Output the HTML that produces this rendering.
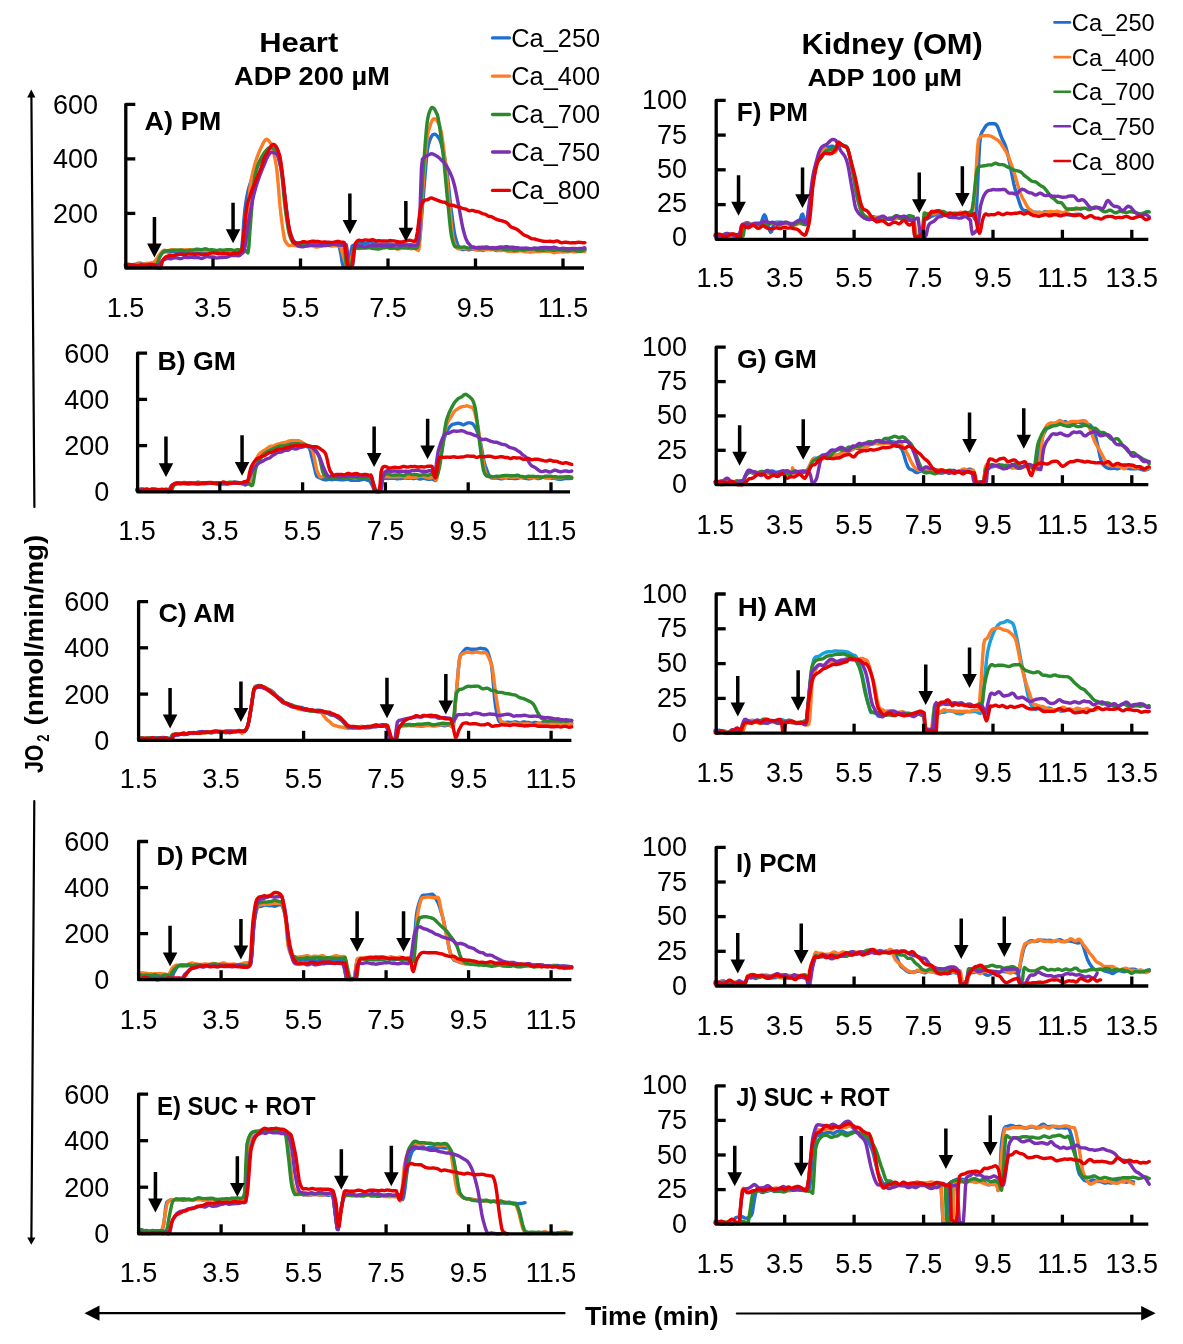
<!DOCTYPE html>
<html><head><meta charset="utf-8"><title>JO2 traces</title>
<style>html,body{margin:0;padding:0;background:#fff;width:1183px;height:1344px;overflow:hidden}</style>
</head><body>
<svg width="1183" height="1344" viewBox="0 0 1183 1344" style="display:block;filter:blur(0.45px)">
<rect width="1183" height="1344" fill="#fff"/>
<g font-family='"Liberation Sans", sans-serif' fill="#000">
<text x="259.2" y="51.6" font-size="27.71" font-weight="bold" textLength="79.0" lengthAdjust="spacingAndGlyphs">Heart</text>
<text x="234.1" y="85.1" font-size="24.86" font-weight="bold" textLength="155.7" lengthAdjust="spacingAndGlyphs">ADP 200 µM</text>
<text x="801.4" y="54.4" font-size="29.43" font-weight="bold" textLength="181.4" lengthAdjust="spacingAndGlyphs">Kidney (OM)</text>
<text x="807.5" y="86.0" font-size="23.57" font-weight="bold" textLength="154.6" lengthAdjust="spacingAndGlyphs">ADP 100 µM</text>
<text x="584.9" y="1325.0" font-size="26.29" font-weight="bold" textLength="133.8" lengthAdjust="spacingAndGlyphs">Time (min)</text>
<g transform="translate(43.3,773.4) rotate(-90)"><text x="0.3" y="0.0" font-size="25.43" font-weight="bold" textLength="28.5" lengthAdjust="spacingAndGlyphs">JO</text><text x="31.7" y="5.9" font-size="16.29" font-weight="bold" textLength="7.2" lengthAdjust="spacingAndGlyphs">2</text><text x="48.0" y="0.0" font-size="25.43" font-weight="bold" textLength="190.6" lengthAdjust="spacingAndGlyphs">(nmol/min/mg)</text></g>
</g>
<g stroke="#000" stroke-width="2.2" fill="none" stroke-linecap="round">
<line x1="31.4" y1="97" x2="34.4" y2="507"/>
<line x1="34.3" y1="801" x2="31.4" y2="1238"/>
<line x1="98" y1="1313.2" x2="564.5" y2="1313.2"/>
<line x1="736.8" y1="1313.5" x2="1142" y2="1313.3"/>
</g>
<g fill="#000">
<polygon points="31.3,89.4 27.2,97.6 35.4,97.6"/>
<polygon points="31.3,1244.8 27.2,1237.6 35.4,1237.6"/>
<polygon points="84.5,1313.2 99.5,1305.6 99.5,1320.8"/>
<polygon points="1155.6,1313.2 1141.2,1306 1141.2,1320.6"/>
</g>
<line x1="492.5" y1="37.9" x2="509.5" y2="37.9" stroke="#1f6fce" stroke-width="3.3" stroke-linecap="round"/>
<text x="511.29" y="46.8" font-family='"Liberation Sans", sans-serif' font-size="25.14" textLength="88.83" lengthAdjust="spacingAndGlyphs">Ca_250</text>
<line x1="492.5" y1="76.2" x2="509.5" y2="76.2" stroke="#fd7d27" stroke-width="3.3" stroke-linecap="round"/>
<text x="511.29" y="85.1" font-family='"Liberation Sans", sans-serif' font-size="25.14" textLength="88.83" lengthAdjust="spacingAndGlyphs">Ca_400</text>
<line x1="492.5" y1="114.5" x2="509.5" y2="114.5" stroke="#2b8a2b" stroke-width="3.3" stroke-linecap="round"/>
<text x="511.29" y="123.4" font-family='"Liberation Sans", sans-serif' font-size="25.14" textLength="88.83" lengthAdjust="spacingAndGlyphs">Ca_700</text>
<line x1="492.5" y1="152.0" x2="509.5" y2="152.0" stroke="#7b2fb3" stroke-width="3.3" stroke-linecap="round"/>
<text x="511.29" y="160.9" font-family='"Liberation Sans", sans-serif' font-size="25.14" textLength="88.83" lengthAdjust="spacingAndGlyphs">Ca_750</text>
<line x1="492.5" y1="190.4" x2="509.5" y2="190.4" stroke="#e60000" stroke-width="3.3" stroke-linecap="round"/>
<text x="511.29" y="199.3" font-family='"Liberation Sans", sans-serif' font-size="25.14" textLength="88.83" lengthAdjust="spacingAndGlyphs">Ca_800</text>
<line x1="1054.5" y1="22.4" x2="1070.0" y2="22.4" stroke="#1f6fce" stroke-width="2.6" stroke-linecap="round"/>
<text x="1071.89" y="31.0" font-family='"Liberation Sans", sans-serif' font-size="23.43" textLength="82.87" lengthAdjust="spacingAndGlyphs">Ca_250</text>
<line x1="1054.5" y1="57.1" x2="1070.0" y2="57.1" stroke="#fd7d27" stroke-width="2.6" stroke-linecap="round"/>
<text x="1071.89" y="65.7" font-family='"Liberation Sans", sans-serif' font-size="23.43" textLength="82.87" lengthAdjust="spacingAndGlyphs">Ca_400</text>
<line x1="1054.5" y1="91.8" x2="1070.0" y2="91.8" stroke="#2b8a2b" stroke-width="2.6" stroke-linecap="round"/>
<text x="1071.89" y="100.4" font-family='"Liberation Sans", sans-serif' font-size="23.43" textLength="82.87" lengthAdjust="spacingAndGlyphs">Ca_700</text>
<line x1="1054.5" y1="126.3" x2="1070.0" y2="126.3" stroke="#7b2fb3" stroke-width="2.6" stroke-linecap="round"/>
<text x="1071.89" y="134.9" font-family='"Liberation Sans", sans-serif' font-size="23.43" textLength="82.87" lengthAdjust="spacingAndGlyphs">Ca_750</text>
<line x1="1054.5" y1="161.0" x2="1070.0" y2="161.0" stroke="#e60000" stroke-width="2.6" stroke-linecap="round"/>
<text x="1071.89" y="169.6" font-family='"Liberation Sans", sans-serif' font-size="23.43" textLength="82.87" lengthAdjust="spacingAndGlyphs">Ca_800</text>
<path d="M125.5,264.4 126.5,264.6 127.5,264.8 128.5,264.8 129.5,264.7 130.5,264.8 131.5,264.7 132.5,264.6 133.5,264.5 134.5,264.4 135.5,264.2 136.5,263.9 137.5,263.5 138.5,263.2 139.5,263.1 140.5,263.2 141.5,263.5 142.6,263.8 143.6,264.0 144.6,263.9 145.6,263.6 146.6,263.4 147.6,263.4 148.6,263.5 149.6,263.5 150.6,263.4 151.6,263.3 152.6,263.3 153.6,263.5 154.6,263.4 155.6,262.5 156.6,261.5 157.6,260.3 158.6,258.7 159.6,257.1 160.6,255.4 161.6,253.9 162.6,252.7 163.6,252.0 164.6,251.7 165.6,251.7 166.6,251.7 167.6,251.9 168.6,252.1 169.6,252.1 170.6,252.0 171.6,251.8 172.6,251.7 173.6,251.8 174.6,251.9 175.7,252.0 176.7,252.1 177.7,252.2 178.7,252.1 179.7,251.9 180.7,251.6 181.7,251.4 182.7,251.2 183.7,251.1 184.7,251.3 185.7,251.6 186.7,251.8 187.7,251.7 188.7,251.4 189.7,251.1 190.7,251.0 191.7,251.0 192.7,251.2 193.7,251.6 194.7,251.9 195.7,252.0 196.7,251.8 197.7,251.7 198.7,251.8 199.7,251.8 200.7,251.8 201.7,251.7 202.7,251.6 203.7,251.4 204.7,251.3 205.7,251.3 206.7,251.4 207.7,251.7 208.7,252.0 209.8,252.1 210.8,252.1 211.8,252.0 212.8,252.0 213.8,252.0 214.8,251.8 215.8,251.6 216.8,251.2 217.8,250.8 218.8,250.5 219.8,250.4 220.8,250.7 221.8,251.2 222.8,251.7 223.8,251.9 224.8,251.8 225.8,251.6 226.8,251.6 227.8,251.7 228.8,251.7 229.8,251.8 230.8,251.8 231.8,251.7 232.8,251.5 233.8,251.3 234.8,251.3 235.8,251.3 236.8,251.4 237.8,251.6 238.8,251.7 239.8,251.6 240.8,250.8 241.8,248.1 242.9,235.6 243.9,219.8 244.9,209.5 245.9,202.3 246.9,196.3 247.9,191.5 248.9,187.7 249.9,184.3 250.9,181.2 251.9,178.4 252.9,175.7 253.9,173.4 254.9,171.3 255.9,169.3 256.9,167.1 257.9,164.9 258.9,162.9 259.9,161.2 260.9,159.6 261.9,158.0 262.9,156.4 263.9,154.9 264.9,153.6 265.9,152.6 266.9,151.5 267.9,150.4 268.9,149.0 269.9,147.7 270.9,146.7 271.9,146.2 272.9,146.4 273.9,147.1 274.9,148.2 276.0,149.4 277.0,151.0 278.0,153.5 279.0,156.7 280.0,160.5 281.0,164.9 282.0,171.5 283.0,179.9 284.0,189.0 285.0,197.5 286.0,205.7 287.0,214.6 288.0,223.1 289.0,229.9 290.0,233.8 291.0,236.8 292.0,239.2 293.0,240.8 294.0,241.6 295.0,242.1 296.0,242.7 297.0,243.3 298.0,243.7 299.0,243.9 300.0,243.9 301.0,243.8 302.0,243.8 303.0,243.9 304.0,244.0 305.0,244.1 306.0,244.3 307.0,244.5 308.0,244.4 309.0,244.2 310.1,243.9 311.1,243.9 312.1,244.1 313.1,244.4 314.1,244.5 315.1,244.6 316.1,244.7 317.1,244.7 318.1,244.6 319.1,244.5 320.1,244.4 321.1,244.3 322.1,244.5 323.1,244.8 324.1,245.0 325.1,245.0 326.1,244.6 327.1,244.0 328.1,243.6 329.1,243.5 330.1,243.6 331.1,243.6 332.1,243.4 333.1,243.2 334.1,243.1 335.1,243.3 336.1,243.6 337.1,243.6 338.1,243.8 339.1,246.3 340.1,250.1 341.1,255.2 342.1,262.0 343.2,266.6 344.2,267.0 345.2,267.2 346.2,267.1 347.2,266.9 348.2,266.7 349.2,265.3 350.2,258.4 351.2,250.1 352.2,246.0 353.2,245.4 354.2,244.9 355.2,244.4 356.2,243.9 357.2,243.6 358.2,243.3 359.2,243.1 360.2,243.0 361.2,243.1 362.2,243.4 363.2,243.5 364.2,243.6 365.2,243.6 366.2,243.4 367.2,243.0 368.2,242.4 369.2,242.0 370.2,241.8 371.2,242.0 372.2,242.7 373.2,243.2 374.2,243.5 375.2,243.5 376.3,243.6 377.3,243.8 378.3,244.0 379.3,244.1 380.3,244.1 381.3,244.3 382.3,244.4 383.3,244.3 384.3,244.2 385.3,244.0 386.3,244.0 387.3,244.1 388.3,244.1 389.3,244.0 390.3,244.0 391.3,244.1 392.3,244.5 393.3,244.9 394.3,245.1 395.3,245.0 396.3,244.6 397.3,244.2 398.3,244.0 399.3,244.0 400.3,244.2 401.3,244.3 402.3,244.3 403.3,244.5 404.3,244.8 405.3,245.1 406.3,245.2 407.3,245.2 408.3,245.1 409.3,244.8 410.4,244.6 411.4,244.7 412.4,245.2 413.4,245.5 414.4,245.6 415.4,245.4 416.4,244.9 417.4,244.3 418.4,243.7 419.4,240.9 420.4,232.3 421.4,220.1 422.4,207.1 423.4,195.8 424.4,183.6 425.4,171.0 426.4,159.4 427.4,150.1 428.4,144.8 429.4,141.5 430.4,138.7 431.4,136.6 432.4,135.2 433.4,134.4 434.4,134.2 435.4,134.5 436.4,135.1 437.4,136.1 438.4,137.4 439.4,139.1 440.4,141.3 441.4,144.5 442.4,148.4 443.5,152.8 444.5,157.6 445.5,162.7 446.5,168.6 447.5,176.5 448.5,185.7 449.5,195.3 450.5,204.2 451.5,211.9 452.5,219.6 453.5,227.0 454.5,233.4 455.5,237.8 456.5,241.1 457.5,244.1 458.5,246.5 459.5,248.0 460.5,248.8 461.5,249.3 462.5,249.6 463.5,249.6 464.5,249.4 465.5,249.2 466.5,249.2 467.5,249.5 468.5,249.8 469.5,249.7 470.5,249.4 471.5,249.2 472.5,249.2 473.5,249.4 474.5,249.6 475.5,249.6 476.6,249.7 477.6,249.7 478.6,249.7 479.6,249.8 480.6,250.1 481.6,250.4 482.6,250.5 483.6,250.2 484.6,249.7 485.6,249.2 486.6,248.9 487.6,248.9 488.6,249.1 489.6,249.5 490.6,249.7 491.6,249.5 492.6,249.3 493.6,249.4 494.6,249.8 495.6,250.3 496.6,250.5 497.6,250.2 498.6,249.7 499.6,249.4 500.6,249.4 501.6,249.4 502.6,249.4 503.6,249.6 504.6,250.0 505.6,250.4 506.6,250.6 507.6,250.6 508.6,250.4 509.6,250.1 510.7,249.9 511.7,249.6 512.7,249.4 513.7,249.3 514.7,249.4 515.7,249.8 516.7,250.0 517.7,250.1 518.7,249.9 519.7,249.7 520.7,249.7 521.7,249.9 522.7,250.1 523.7,250.3 524.7,250.2 525.7,250.0 526.7,249.8 527.7,249.8 528.7,250.0 529.7,250.1 530.7,250.2 531.7,250.5 532.7,250.7 533.7,250.7 534.7,250.4 535.7,250.3 536.7,250.5 537.7,250.8 538.7,250.9 539.7,250.7 540.7,250.3 541.7,249.9 542.7,249.7 543.8,249.8 544.8,250.0 545.8,250.2 546.8,250.2 547.8,250.1 548.8,249.9 549.8,249.8 550.8,249.7 551.8,249.7 552.8,249.7 553.8,249.5 554.8,249.4 555.8,249.4 556.8,249.5 557.8,249.7 558.8,249.8 559.8,249.8 560.8,249.7 561.8,249.8 562.8,249.9 563.8,250.2 564.8,250.4 565.8,250.5 566.8,250.4 567.8,250.2 568.8,250.1 569.8,250.2 570.8,250.3 571.8,250.3 572.8,250.3 573.8,250.1 574.8,250.0 575.8,250.1 576.9,250.2 577.9,250.2 578.9,250.0 579.9,249.7 580.9,249.6 581.9,249.5 582.9,249.4 583.9,249.5 584.9,249.7" fill="none" stroke="#1f6fce" stroke-width="3.4" stroke-linejoin="round" stroke-linecap="round"/>
<path d="M125.5,264.3 126.5,264.1 127.5,264.1 128.5,264.3 129.5,264.6 130.5,264.8 131.5,264.8 132.5,264.9 133.5,264.9 134.5,264.9 135.5,264.7 136.5,264.3 137.5,263.9 138.5,263.8 139.5,264.0 140.5,264.2 141.5,264.3 142.6,264.1 143.6,263.9 144.6,263.9 145.6,263.8 146.6,263.7 147.6,263.7 148.6,263.8 149.6,263.7 150.6,263.5 151.6,263.3 152.6,263.1 153.6,262.5 154.6,261.6 155.6,260.4 156.6,259.1 157.6,257.5 158.6,255.9 159.6,254.6 160.6,253.4 161.6,252.2 162.6,251.1 163.6,250.4 164.6,250.2 165.6,250.6 166.6,250.9 167.6,250.9 168.6,250.6 169.6,250.2 170.6,250.0 171.6,249.8 172.6,249.8 173.6,249.9 174.6,250.0 175.7,250.2 176.7,250.3 177.7,250.2 178.7,250.1 179.7,249.9 180.7,249.8 181.7,249.9 182.7,250.0 183.7,250.1 184.7,250.0 185.7,249.9 186.7,249.8 187.7,249.7 188.7,249.7 189.7,249.7 190.7,249.8 191.7,250.0 192.7,250.2 193.7,250.3 194.7,250.2 195.7,250.1 196.7,250.1 197.7,250.1 198.7,250.2 199.7,250.2 200.7,250.3 201.7,250.4 202.7,250.5 203.7,250.6 204.7,250.5 205.7,250.5 206.7,250.5 207.7,250.7 208.7,250.8 209.8,250.9 210.8,250.8 211.8,250.8 212.8,250.9 213.8,250.9 214.8,250.9 215.8,250.9 216.8,250.9 217.8,251.1 218.8,251.3 219.8,251.3 220.8,251.1 221.8,250.8 222.8,250.6 223.8,250.4 224.8,250.2 225.8,250.1 226.8,250.1 227.8,250.3 228.8,250.7 229.8,251.1 230.8,251.4 231.8,251.7 232.8,251.9 233.8,251.7 234.8,251.4 235.8,250.9 236.8,250.7 237.8,250.8 238.8,251.0 239.8,251.2 240.8,251.3 241.8,251.2 242.9,250.3 243.9,248.7 244.9,246.6 245.9,243.8 246.9,235.0 247.9,219.2 248.9,201.8 249.9,188.4 250.9,181.6 251.9,176.3 252.9,171.8 253.9,167.8 254.9,164.2 255.9,160.8 256.9,157.9 257.9,155.1 258.9,152.6 259.9,150.2 260.9,148.0 261.9,145.9 262.9,143.8 263.9,141.9 264.9,140.4 265.9,139.4 266.9,139.3 267.9,139.9 268.9,141.0 269.9,142.3 270.9,143.6 271.9,145.7 272.9,148.9 273.9,153.2 274.9,158.4 276.0,164.3 277.0,171.3 278.0,181.9 279.0,194.2 280.0,205.9 281.0,215.1 282.0,223.1 283.0,230.6 284.0,236.8 285.0,240.6 286.0,242.3 287.0,243.7 288.0,244.9 289.0,245.6 290.0,245.6 291.0,245.4 292.0,245.2 293.0,245.2 294.0,245.3 295.0,245.5 296.0,245.8 297.0,246.0 298.0,246.1 299.0,246.1 300.0,246.1 301.0,246.1 302.0,245.9 303.0,245.7 304.0,245.6 305.0,245.6 306.0,245.7 307.0,245.8 308.0,245.8 309.0,245.8 310.1,245.8 311.1,245.8 312.1,245.9 313.1,246.0 314.1,246.3 315.1,246.8 316.1,247.1 317.1,247.1 318.1,246.9 319.1,246.6 320.1,246.3 321.1,246.1 322.1,245.9 323.1,245.7 324.1,245.5 325.1,245.3 326.1,245.1 327.1,245.2 328.1,245.4 329.1,245.7 330.1,245.9 331.1,246.0 332.1,246.1 333.1,246.0 334.1,245.9 335.1,245.8 336.1,245.8 337.1,245.9 338.1,246.0 339.1,246.0 340.1,246.1 341.1,248.1 342.1,251.7 343.2,255.7 344.2,259.1 345.2,262.1 346.2,265.3 347.2,267.7 348.2,268.0 349.2,265.4 350.2,261.6 351.2,258.0 352.2,254.9 353.2,251.6 354.2,249.1 355.2,248.1 356.2,248.1 357.2,248.3 358.2,248.5 359.2,248.5 360.2,248.2 361.2,247.8 362.2,247.5 363.2,247.4 364.2,247.6 365.2,247.6 366.2,247.5 367.2,247.3 368.2,247.1 369.2,247.1 370.2,247.1 371.2,247.0 372.2,247.0 373.2,247.0 374.2,247.2 375.2,247.6 376.3,248.1 377.3,248.3 378.3,248.1 379.3,247.7 380.3,247.1 381.3,246.8 382.3,246.8 383.3,246.9 384.3,246.9 385.3,247.0 386.3,247.0 387.3,247.2 388.3,247.4 389.3,247.5 390.3,247.5 391.3,247.4 392.3,247.3 393.3,247.3 394.3,247.5 395.3,248.1 396.3,248.7 397.3,249.0 398.3,249.0 399.3,248.7 400.3,248.5 401.3,248.3 402.3,248.2 403.3,248.1 404.3,248.0 405.3,247.9 406.3,247.8 407.3,247.8 408.3,248.0 409.3,248.3 410.4,248.6 411.4,248.7 412.4,248.6 413.4,248.5 414.4,248.4 415.4,248.7 416.4,249.4 417.4,250.1 418.4,250.6 419.4,246.9 420.4,233.0 421.4,213.9 422.4,195.1 423.4,181.2 424.4,168.2 425.4,155.5 426.4,144.4 427.4,136.0 428.4,131.1 429.4,127.9 430.4,124.7 431.4,122.0 432.4,120.1 433.4,119.0 434.4,118.8 435.4,119.2 436.4,119.9 437.4,121.2 438.4,123.1 439.4,125.5 440.4,128.3 441.4,132.6 442.4,139.2 443.5,147.0 444.5,155.2 445.5,163.6 446.5,173.9 447.5,185.4 448.5,196.7 449.5,206.7 450.5,216.5 451.5,226.3 452.5,234.7 453.5,240.2 454.5,243.2 455.5,245.7 456.5,247.6 457.5,248.7 458.5,248.9 459.5,248.9 460.5,248.8 461.5,248.6 462.5,248.4 463.5,248.4 464.5,248.5 465.5,248.7 466.5,248.9 467.5,248.9 468.5,248.8 469.5,248.6 470.5,248.5 471.5,248.6 472.5,248.8 473.5,249.0 474.5,249.1 475.5,249.3 476.6,249.4 477.6,249.6 478.6,250.0 479.6,250.3 480.6,250.3 481.6,250.0 482.6,249.7 483.6,249.6 484.6,249.6 485.6,249.6 486.6,249.5 487.6,249.5 488.6,249.4 489.6,249.3 490.6,249.1 491.6,249.1 492.6,249.3 493.6,249.6 494.6,249.8 495.6,249.9 496.6,249.9 497.6,250.2 498.6,250.5 499.6,250.6 500.6,250.6 501.6,250.5 502.6,250.4 503.6,250.3 504.6,250.4 505.6,250.6 506.6,251.0 507.6,251.2 508.6,251.3 509.6,251.2 510.7,251.2 511.7,251.2 512.7,251.5 513.7,251.6 514.7,251.6 515.7,251.4 516.7,251.3 517.7,251.3 518.7,251.1 519.7,250.9 520.7,250.7 521.7,250.8 522.7,251.1 523.7,251.5 524.7,251.7 525.7,251.7 526.7,251.7 527.7,251.7 528.7,251.9 529.7,252.1 530.7,252.2 531.7,252.0 532.7,251.9 533.7,251.8 534.7,251.6 535.7,251.6 536.7,251.6 537.7,251.6 538.7,251.5 539.7,251.5 540.7,251.4 541.7,251.3 542.7,251.2 543.8,251.2 544.8,251.3 545.8,251.4 546.8,251.4 547.8,251.4 548.8,251.3 549.8,251.3 550.8,251.5 551.8,251.8 552.8,252.3 553.8,252.7 554.8,252.7 555.8,252.4 556.8,252.2 557.8,252.0 558.8,252.0 559.8,251.9 560.8,251.9 561.8,251.9 562.8,252.0 563.8,252.0 564.8,251.9 565.8,251.8 566.8,251.8 567.8,251.8 568.8,251.7 569.8,251.5 570.8,251.3 571.8,251.3 572.8,251.5 573.8,251.8 574.8,251.9 575.8,251.9 576.9,251.8 577.9,251.6 578.9,251.5 579.9,251.6 580.9,251.6 581.9,251.6 582.9,251.6 583.9,251.5 584.9,251.5" fill="none" stroke="#fd7d27" stroke-width="3.4" stroke-linejoin="round" stroke-linecap="round"/>
<path d="M125.5,266.6 126.5,266.5 127.5,266.4 128.5,266.4 129.5,266.4 130.5,266.5 131.5,266.5 132.5,266.7 133.5,266.9 134.5,267.1 135.5,267.3 136.5,267.4 137.5,267.4 138.5,267.2 139.5,267.0 140.5,266.9 141.5,266.9 142.6,266.9 143.6,266.6 144.6,266.2 145.6,266.1 146.6,266.2 147.6,266.4 148.6,266.4 149.6,266.3 150.6,266.2 151.6,266.0 152.6,265.8 153.6,265.5 154.6,265.2 155.6,265.0 156.6,264.8 157.6,263.0 158.6,260.1 159.6,257.2 160.6,255.2 161.6,253.8 162.6,252.5 163.6,251.6 164.6,251.0 165.6,250.8 166.6,250.7 167.6,250.7 168.6,250.6 169.6,250.6 170.6,250.5 171.6,250.5 172.6,250.5 173.6,250.3 174.6,250.2 175.7,250.1 176.7,250.1 177.7,250.1 178.7,250.2 179.7,250.2 180.7,250.2 181.7,250.1 182.7,250.2 183.7,250.4 184.7,250.6 185.7,250.9 186.7,251.0 187.7,250.9 188.7,250.7 189.7,250.3 190.7,250.1 191.7,250.1 192.7,250.0 193.7,249.8 194.7,249.6 195.7,249.3 196.7,249.2 197.7,249.2 198.7,249.4 199.7,249.5 200.7,249.6 201.7,249.6 202.7,249.4 203.7,249.1 204.7,248.9 205.7,248.8 206.7,249.0 207.7,249.4 208.7,249.7 209.8,249.9 210.8,249.8 211.8,249.8 212.8,249.8 213.8,250.0 214.8,250.2 215.8,250.5 216.8,250.5 217.8,250.4 218.8,250.2 219.8,250.0 220.8,250.0 221.8,250.2 222.8,250.3 223.8,250.3 224.8,250.1 225.8,249.9 226.8,249.8 227.8,249.8 228.8,249.8 229.8,249.6 230.8,249.6 231.8,249.8 232.8,250.2 233.8,250.5 234.8,250.4 235.8,250.0 236.8,249.8 237.8,249.8 238.8,249.8 239.8,249.9 240.8,250.0 241.8,250.1 242.9,250.0 243.9,249.7 244.9,250.0 245.9,251.0 246.9,252.2 247.9,253.0 248.9,246.6 249.9,231.3 250.9,218.9 251.9,205.8 252.9,193.1 253.9,182.9 254.9,176.7 255.9,172.4 256.9,168.6 257.9,165.4 258.9,162.8 259.9,160.6 260.9,158.6 261.9,156.7 262.9,155.0 263.9,153.4 264.9,152.1 265.9,150.8 266.9,149.7 267.9,148.7 268.9,148.0 269.9,147.6 270.9,147.6 271.9,147.8 272.9,148.2 273.9,148.6 274.9,149.0 276.0,150.0 277.0,152.2 278.0,155.4 279.0,159.4 280.0,163.8 281.0,168.6 282.0,176.1 283.0,186.4 284.0,197.5 285.0,207.0 286.0,214.4 287.0,221.5 288.0,227.9 289.0,233.0 290.0,236.3 291.0,239.0 292.0,241.1 293.0,242.5 294.0,242.9 295.0,243.1 296.0,243.3 297.0,243.6 298.0,243.9 299.0,244.1 300.0,244.2 301.0,244.1 302.0,244.0 303.0,243.9 304.0,243.9 305.0,244.0 306.0,244.1 307.0,244.1 308.0,244.0 309.0,243.8 310.1,243.7 311.1,243.7 312.1,243.8 313.1,243.9 314.1,243.7 315.1,243.4 316.1,243.1 317.1,243.1 318.1,243.3 319.1,243.7 320.1,244.0 321.1,244.1 322.1,244.1 323.1,244.2 324.1,244.4 325.1,244.7 326.1,244.9 327.1,245.1 328.1,245.3 329.1,245.2 330.1,244.9 331.1,244.6 332.1,244.3 333.1,244.0 334.1,243.9 335.1,243.9 336.1,244.1 337.1,244.4 338.1,244.7 339.1,244.8 340.1,244.8 341.1,244.7 342.1,244.8 343.2,244.9 344.2,244.8 345.2,253.0 346.2,265.9 347.2,266.8 348.2,266.9 349.2,267.1 350.2,267.2 351.2,266.4 352.2,259.5 353.2,251.2 354.2,248.7 355.2,248.5 356.2,248.2 357.2,248.0 358.2,248.0 359.2,248.1 360.2,248.1 361.2,248.1 362.2,248.1 363.2,248.1 364.2,248.1 365.2,248.1 366.2,248.0 367.2,247.9 368.2,247.7 369.2,247.7 370.2,247.8 371.2,248.0 372.2,248.3 373.2,248.5 374.2,248.6 375.2,248.7 376.3,248.9 377.3,249.0 378.3,249.1 379.3,248.9 380.3,248.6 381.3,248.3 382.3,248.1 383.3,247.9 384.3,247.8 385.3,247.7 386.3,247.5 387.3,247.5 388.3,247.7 389.3,248.0 390.3,248.4 391.3,248.4 392.3,248.3 393.3,248.1 394.3,248.0 395.3,248.1 396.3,248.3 397.3,248.5 398.3,248.4 399.3,248.0 400.3,247.5 401.3,247.2 402.3,247.2 403.3,247.5 404.3,247.7 405.3,247.8 406.3,247.9 407.3,248.0 408.3,248.0 409.3,247.8 410.4,247.7 411.4,247.7 412.4,247.9 413.4,248.2 414.4,248.4 415.4,248.4 416.4,247.9 417.4,247.1 418.4,244.1 419.4,233.0 420.4,216.7 421.4,198.3 422.4,181.1 423.4,167.6 424.4,154.3 425.4,141.1 426.4,129.3 427.4,120.3 428.4,115.3 429.4,112.1 430.4,109.5 431.4,107.8 432.4,107.4 433.4,107.9 434.4,109.0 435.4,110.7 436.4,112.7 437.4,115.0 438.4,119.2 439.4,125.2 440.4,132.5 441.4,140.5 442.4,148.6 443.5,157.2 444.5,167.4 445.5,178.3 446.5,189.2 447.5,199.3 448.5,209.3 449.5,219.8 450.5,229.3 451.5,236.4 452.5,240.4 453.5,243.8 454.5,246.1 455.5,246.8 456.5,246.8 457.5,246.8 458.5,246.9 459.5,247.1 460.5,247.2 461.5,247.2 462.5,247.1 463.5,247.0 464.5,247.0 465.5,247.3 466.5,247.6 467.5,247.9 468.5,248.1 469.5,248.1 470.5,247.9 471.5,247.5 472.5,247.1 473.5,247.0 474.5,247.2 475.5,247.7 476.6,248.1 477.6,248.4 478.6,248.7 479.6,248.8 480.6,248.7 481.6,248.5 482.6,248.3 483.6,248.2 484.6,248.3 485.6,248.3 486.6,248.4 487.6,248.4 488.6,248.3 489.6,248.3 490.6,248.4 491.6,248.7 492.6,248.8 493.6,248.9 494.6,248.8 495.6,248.8 496.6,248.9 497.6,248.9 498.6,248.8 499.6,248.6 500.6,248.5 501.6,248.7 502.6,249.1 503.6,249.4 504.6,249.5 505.6,249.5 506.6,249.6 507.6,249.8 508.6,249.9 509.6,249.7 510.7,249.5 511.7,249.6 512.7,250.0 513.7,250.4 514.7,250.5 515.7,250.4 516.7,250.1 517.7,249.8 518.7,249.6 519.7,249.6 520.7,249.7 521.7,249.9 522.7,250.0 523.7,250.0 524.7,249.8 525.7,249.5 526.7,249.3 527.7,249.2 528.7,249.1 529.7,249.0 530.7,248.9 531.7,248.8 532.7,248.8 533.7,248.9 534.7,249.2 535.7,249.7 536.7,250.1 537.7,250.2 538.7,250.1 539.7,250.0 540.7,250.1 541.7,250.2 542.7,250.3 543.8,250.2 544.8,250.0 545.8,249.7 546.8,249.6 547.8,249.7 548.8,249.7 549.8,249.7 550.8,249.8 551.8,250.0 552.8,250.2 553.8,250.3 554.8,250.2 555.8,250.0 556.8,249.9 557.8,249.8 558.8,249.7 559.8,249.6 560.8,249.7 561.8,249.9 562.8,250.3 563.8,250.5 564.8,250.5 565.8,250.6 566.8,250.7 567.8,250.8 568.8,250.9 569.8,250.7 570.8,250.4 571.8,250.1 572.8,250.0 573.8,250.0 574.8,250.2 575.8,250.7 576.9,251.0 577.9,251.1 578.9,251.1 579.9,251.2 580.9,251.2 581.9,250.9 582.9,250.4 583.9,249.9 584.9,249.4" fill="none" stroke="#2b8a2b" stroke-width="3.4" stroke-linejoin="round" stroke-linecap="round"/>
<path d="M125.5,265.9 126.5,265.7 127.5,265.6 128.5,265.4 129.5,265.4 130.5,265.5 131.5,265.7 132.5,265.9 133.5,265.8 134.5,265.5 135.5,265.3 136.5,265.4 137.5,265.8 138.5,266.3 139.5,266.6 140.5,266.5 141.5,266.2 142.6,266.1 143.6,266.1 144.6,266.1 145.6,266.1 146.6,266.1 147.6,265.8 148.6,265.5 149.6,265.2 150.6,265.0 151.6,264.9 152.6,265.0 153.6,265.2 154.6,265.3 155.6,265.4 156.6,265.4 157.6,265.3 158.6,265.3 159.6,264.5 160.6,263.1 161.6,261.6 162.6,260.5 163.6,260.0 164.6,259.5 165.6,259.0 166.6,258.7 167.6,258.4 168.6,258.5 169.6,258.7 170.6,258.8 171.6,258.5 172.6,258.2 173.6,258.0 174.6,257.8 175.7,257.7 176.7,257.8 177.7,258.0 178.7,258.3 179.7,258.6 180.7,258.6 181.7,258.4 182.7,258.0 183.7,257.5 184.7,257.2 185.7,257.3 186.7,257.5 187.7,257.6 188.7,257.6 189.7,257.4 190.7,257.3 191.7,257.2 192.7,257.3 193.7,257.5 194.7,257.6 195.7,257.6 196.7,257.5 197.7,257.4 198.7,257.6 199.7,258.0 200.7,258.4 201.7,258.5 202.7,258.2 203.7,257.7 204.7,257.2 205.7,256.8 206.7,256.6 207.7,256.6 208.7,256.8 209.8,257.0 210.8,257.0 211.8,257.0 212.8,257.0 213.8,257.2 214.8,257.5 215.8,257.8 216.8,258.0 217.8,257.9 218.8,257.8 219.8,257.6 220.8,257.6 221.8,257.5 222.8,257.5 223.8,257.4 224.8,257.4 225.8,257.3 226.8,257.1 227.8,256.8 228.8,256.4 229.8,256.0 230.8,255.7 231.8,255.5 232.8,255.5 233.8,255.5 234.8,255.5 235.8,255.6 236.8,255.6 237.8,255.7 238.8,255.7 239.8,255.3 240.8,254.6 241.8,253.7 242.9,252.7 243.9,251.3 244.9,247.0 245.9,240.3 246.9,232.6 247.9,225.5 248.9,219.8 249.9,214.2 250.9,208.8 251.9,203.6 252.9,198.7 253.9,194.4 254.9,190.7 255.9,187.1 256.9,183.8 257.9,180.7 258.9,177.9 259.9,175.2 260.9,172.7 261.9,170.1 262.9,167.7 263.9,165.4 264.9,162.8 265.9,160.3 266.9,158.1 267.9,156.2 268.9,154.6 269.9,153.3 270.9,152.4 271.9,152.1 272.9,152.4 273.9,152.8 274.9,153.2 276.0,153.5 277.0,154.1 278.0,156.3 279.0,159.8 280.0,163.8 281.0,168.1 282.0,174.0 283.0,181.8 284.0,190.4 285.0,198.5 286.0,205.9 287.0,213.7 288.0,221.2 289.0,227.4 290.0,231.4 291.0,234.6 292.0,237.4 293.0,239.7 294.0,241.8 295.0,243.4 296.0,244.5 297.0,245.1 298.0,245.7 299.0,246.2 300.0,246.5 301.0,246.7 302.0,246.9 303.0,246.8 304.0,246.6 305.0,246.4 306.0,246.2 307.0,246.0 308.0,245.8 309.0,245.6 310.1,245.4 311.1,245.4 312.1,245.4 313.1,245.4 314.1,245.3 315.1,245.4 316.1,245.5 317.1,245.6 318.1,245.5 319.1,245.5 320.1,245.5 321.1,245.6 322.1,245.7 323.1,245.6 324.1,245.6 325.1,245.6 326.1,245.5 327.1,245.4 328.1,245.3 329.1,245.0 330.1,244.6 331.1,244.3 332.1,244.2 333.1,244.2 334.1,244.3 335.1,244.4 336.1,244.6 337.1,244.7 338.1,244.8 339.1,244.9 340.1,245.0 341.1,245.1 342.1,245.2 343.2,245.1 344.2,244.8 345.2,244.6 346.2,244.6 347.2,250.6 348.2,264.9 349.2,267.5 350.2,267.5 351.2,267.5 352.2,267.4 353.2,261.4 354.2,251.2 355.2,245.9 356.2,246.1 357.2,246.3 358.2,246.2 359.2,246.0 360.2,245.9 361.2,246.1 362.2,246.4 363.2,246.7 364.2,246.9 365.2,246.9 366.2,246.7 367.2,246.4 368.2,246.0 369.2,245.7 370.2,245.6 371.2,245.5 372.2,245.4 373.2,245.4 374.2,245.5 375.2,245.6 376.3,245.7 377.3,245.7 378.3,245.6 379.3,245.6 380.3,245.5 381.3,245.5 382.3,245.6 383.3,245.7 384.3,245.6 385.3,245.6 386.3,245.6 387.3,245.8 388.3,246.1 389.3,246.2 390.3,246.3 391.3,246.3 392.3,246.0 393.3,245.6 394.3,245.1 395.3,244.9 396.3,244.9 397.3,245.1 398.3,245.3 399.3,245.3 400.3,245.3 401.3,245.2 402.3,245.1 403.3,245.1 404.3,245.0 405.3,245.0 406.3,244.9 407.3,244.9 408.3,245.2 409.3,245.5 410.4,245.7 411.4,245.6 412.4,245.4 413.4,245.2 414.4,245.1 415.4,245.1 416.4,245.2 417.4,244.3 418.4,241.5 419.4,229.3 420.4,198.6 421.4,168.8 422.4,159.2 423.4,158.2 424.4,157.3 425.4,156.6 426.4,156.0 427.4,155.4 428.4,154.9 429.4,154.4 430.4,154.0 431.4,153.8 432.4,153.9 433.4,154.2 434.4,154.7 435.4,155.3 436.4,155.9 437.4,156.5 438.4,157.2 439.4,158.1 440.4,159.1 441.4,160.1 442.4,160.9 443.5,161.9 444.5,163.1 445.5,164.6 446.5,166.0 447.5,167.6 448.5,169.5 449.5,171.5 450.5,173.6 451.5,175.9 452.5,178.5 453.5,181.7 454.5,185.5 455.5,189.9 456.5,194.7 457.5,199.8 458.5,204.9 459.5,210.3 460.5,215.9 461.5,221.4 462.5,226.5 463.5,230.8 464.5,234.4 465.5,237.6 466.5,240.1 467.5,242.1 468.5,243.4 469.5,244.5 470.5,245.7 471.5,246.7 472.5,247.3 473.5,247.5 474.5,247.5 475.5,247.6 476.6,247.6 477.6,247.5 478.6,247.4 479.6,247.3 480.6,247.4 481.6,247.3 482.6,247.3 483.6,247.2 484.6,247.1 485.6,247.0 486.6,246.9 487.6,247.1 488.6,247.4 489.6,247.6 490.6,247.7 491.6,247.6 492.6,247.6 493.6,247.6 494.6,247.8 495.6,247.9 496.6,247.8 497.6,247.5 498.6,247.3 499.6,247.2 500.6,247.0 501.6,247.0 502.6,247.1 503.6,247.1 504.6,246.9 505.6,246.7 506.6,246.7 507.6,246.8 508.6,247.0 509.6,247.1 510.7,247.1 511.7,247.1 512.7,247.2 513.7,247.3 514.7,247.5 515.7,247.6 516.7,247.7 517.7,247.8 518.7,247.9 519.7,248.1 520.7,248.2 521.7,248.3 522.7,248.2 523.7,248.1 524.7,248.1 525.7,248.0 526.7,248.1 527.7,248.2 528.7,248.5 529.7,248.6 530.7,248.7 531.7,248.6 532.7,248.4 533.7,248.2 534.7,248.0 535.7,248.1 536.7,248.2 537.7,248.2 538.7,248.1 539.7,247.9 540.7,247.8 541.7,247.7 542.7,247.6 543.8,247.5 544.8,247.4 545.8,247.4 546.8,247.5 547.8,247.7 548.8,247.8 549.8,247.8 550.8,247.8 551.8,247.6 552.8,247.4 553.8,247.3 554.8,247.4 555.8,247.6 556.8,247.9 557.8,248.3 558.8,248.6 559.8,248.8 560.8,248.7 561.8,248.4 562.8,248.3 563.8,248.4 564.8,248.5 565.8,248.7 566.8,248.8 567.8,248.8 568.8,248.8 569.8,248.8 570.8,248.6 571.8,248.5 572.8,248.5 573.8,248.5 574.8,248.5 575.8,248.6 576.9,248.6 577.9,248.6 578.9,248.5 579.9,248.5 580.9,248.5 581.9,248.3 582.9,248.1 583.9,247.8 584.9,247.9" fill="none" stroke="#7b2fb3" stroke-width="3.4" stroke-linejoin="round" stroke-linecap="round"/>
<path d="M125.5,265.2 126.5,264.9 127.5,264.7 128.5,264.5 129.5,264.5 130.5,264.7 131.5,264.8 132.5,264.8 133.5,265.0 134.5,265.2 135.5,265.5 136.5,265.6 137.5,265.5 138.5,265.3 139.5,265.1 140.5,264.9 141.5,264.8 142.6,264.9 143.6,265.0 144.6,265.0 145.6,265.0 146.6,264.8 147.6,264.6 148.6,264.5 149.6,264.4 150.6,264.3 151.6,264.4 152.6,264.5 153.6,264.7 154.6,265.1 155.6,265.5 156.6,266.0 157.6,267.7 158.6,268.0 159.6,268.0 160.6,268.0 161.6,264.5 162.6,260.4 163.6,259.0 164.6,258.0 165.6,257.1 166.6,256.5 167.6,256.1 168.6,255.8 169.6,255.7 170.6,255.7 171.6,255.7 172.6,255.6 173.6,255.5 174.6,255.3 175.7,254.8 176.7,254.5 177.7,254.3 178.7,254.4 179.7,254.4 180.7,254.3 181.7,254.2 182.7,254.3 183.7,254.4 184.7,254.6 185.7,254.5 186.7,254.3 187.7,254.1 188.7,254.1 189.7,254.1 190.7,254.0 191.7,254.0 192.7,254.1 193.7,254.2 194.7,254.3 195.7,254.3 196.7,254.1 197.7,254.0 198.7,254.0 199.7,254.1 200.7,254.3 201.7,254.5 202.7,254.6 203.7,254.4 204.7,254.3 205.7,254.3 206.7,254.4 207.7,254.3 208.7,253.9 209.8,253.4 210.8,253.1 211.8,253.0 212.8,252.9 213.8,252.9 214.8,253.0 215.8,253.1 216.8,253.3 217.8,253.6 218.8,253.7 219.8,253.8 220.8,253.8 221.8,253.7 222.8,253.7 223.8,253.7 224.8,253.8 225.8,253.7 226.8,253.6 227.8,253.7 228.8,253.9 229.8,254.2 230.8,254.2 231.8,254.0 232.8,253.5 233.8,253.1 234.8,252.9 235.8,253.1 236.8,253.4 237.8,253.3 238.8,252.8 239.8,252.2 240.8,251.8 241.8,250.6 242.9,242.1 243.9,232.7 244.9,223.3 245.9,213.8 246.9,206.4 247.9,202.1 248.9,199.0 249.9,196.2 250.9,193.1 251.9,190.3 252.9,187.7 253.9,185.3 254.9,182.9 255.9,180.5 256.9,178.2 257.9,175.8 258.9,173.3 259.9,170.8 260.9,168.1 261.9,165.1 262.9,161.9 263.9,158.9 264.9,156.6 265.9,155.1 266.9,153.6 267.9,151.8 268.9,149.8 269.9,147.9 270.9,146.3 271.9,145.2 272.9,144.5 273.9,144.4 274.9,145.0 276.0,146.3 277.0,148.1 278.0,150.4 279.0,153.2 280.0,156.7 281.0,162.8 282.0,170.8 283.0,179.2 284.0,188.1 285.0,197.9 286.0,207.3 287.0,215.0 288.0,221.7 289.0,228.0 290.0,233.0 291.0,236.4 292.0,239.3 293.0,241.7 294.0,242.7 295.0,242.9 296.0,242.9 297.0,242.9 298.0,242.9 299.0,242.9 300.0,242.8 301.0,242.5 302.0,242.1 303.0,241.7 304.0,241.6 305.0,241.9 306.0,242.2 307.0,242.3 308.0,242.1 309.0,241.8 310.1,241.6 311.1,241.4 312.1,241.2 313.1,241.2 314.1,241.3 315.1,241.4 316.1,241.4 317.1,241.4 318.1,241.4 319.1,241.6 320.1,241.9 321.1,242.2 322.1,242.3 323.1,242.2 324.1,242.0 325.1,242.0 326.1,242.2 327.1,242.3 328.1,242.2 329.1,242.2 330.1,242.4 331.1,242.5 332.1,242.5 333.1,242.3 334.1,242.1 335.1,241.9 336.1,241.7 337.1,241.5 338.1,241.3 339.1,241.5 340.1,241.9 341.1,242.2 342.1,242.3 343.2,242.3 344.2,242.4 345.2,247.0 346.2,255.9 347.2,262.2 348.2,267.1 349.2,267.6 350.2,267.5 351.2,267.4 352.2,266.2 353.2,258.6 354.2,249.2 355.2,243.7 356.2,242.4 357.2,241.2 358.2,240.4 359.2,240.2 360.2,240.4 361.2,240.6 362.2,240.6 363.2,240.5 364.2,240.2 365.2,240.0 366.2,240.0 367.2,240.1 368.2,240.3 369.2,240.4 370.2,240.3 371.2,240.0 372.2,239.7 373.2,239.8 374.2,240.2 375.2,240.7 376.3,241.0 377.3,240.9 378.3,240.8 379.3,240.7 380.3,240.9 381.3,241.0 382.3,241.0 383.3,241.0 384.3,240.9 385.3,240.9 386.3,241.0 387.3,241.1 388.3,240.9 389.3,240.6 390.3,240.5 391.3,240.6 392.3,240.8 393.3,240.9 394.3,241.0 395.3,241.2 396.3,241.4 397.3,241.6 398.3,241.8 399.3,241.9 400.3,242.0 401.3,242.0 402.3,241.8 403.3,241.6 404.3,241.4 405.3,241.2 406.3,241.0 407.3,240.7 408.3,240.4 409.3,240.3 410.4,240.4 411.4,240.7 412.4,240.9 413.4,241.2 414.4,241.3 415.4,241.1 416.4,237.4 417.4,232.0 418.4,224.2 419.4,215.8 420.4,209.1 421.4,205.7 422.4,203.2 423.4,201.3 424.4,200.3 425.4,200.0 426.4,199.9 427.4,199.8 428.4,199.3 429.4,198.6 430.4,198.1 431.4,198.0 432.4,198.2 433.4,198.7 434.4,199.1 435.4,199.4 436.4,199.8 437.4,200.2 438.4,200.7 439.4,201.0 440.4,201.3 441.4,201.7 442.4,202.0 443.5,202.1 444.5,202.2 445.5,202.5 446.5,203.3 447.5,204.1 448.5,204.8 449.5,205.1 450.5,205.2 451.5,205.2 452.5,205.2 453.5,205.4 454.5,205.8 455.5,206.2 456.5,206.5 457.5,206.7 458.5,206.9 459.5,207.2 460.5,207.6 461.5,208.0 462.5,208.4 463.5,208.6 464.5,208.8 465.5,209.0 466.5,209.4 467.5,210.1 468.5,210.6 469.5,210.8 470.5,210.6 471.5,210.4 472.5,210.4 473.5,210.6 474.5,211.0 475.5,211.4 476.6,211.5 477.6,211.7 478.6,211.9 479.6,212.2 480.6,212.7 481.6,213.2 482.6,213.6 483.6,213.9 484.6,214.1 485.6,214.4 486.6,215.0 487.6,215.8 488.6,216.3 489.6,216.5 490.6,216.5 491.6,216.7 492.6,217.2 493.6,217.8 494.6,218.4 495.6,218.9 496.6,219.3 497.6,219.7 498.6,220.0 499.6,220.3 500.6,220.5 501.6,220.7 502.6,221.0 503.6,221.4 504.6,221.7 505.6,222.1 506.6,222.6 507.6,223.3 508.6,224.4 509.6,225.7 510.7,226.7 511.7,227.4 512.7,227.7 513.7,228.0 514.7,228.3 515.7,228.8 516.7,229.3 517.7,229.9 518.7,230.7 519.7,231.5 520.7,232.3 521.7,233.2 522.7,234.1 523.7,234.8 524.7,235.3 525.7,235.7 526.7,236.0 527.7,236.5 528.7,237.0 529.7,237.6 530.7,238.3 531.7,238.8 532.7,238.9 533.7,238.9 534.7,239.0 535.7,239.3 536.7,239.6 537.7,239.9 538.7,240.2 539.7,240.4 540.7,240.6 541.7,240.9 542.7,241.2 543.8,241.3 544.8,241.4 545.8,241.4 546.8,241.4 547.8,241.4 548.8,241.4 549.8,241.3 550.8,241.3 551.8,241.5 552.8,241.7 553.8,241.7 554.8,241.5 555.8,241.1 556.8,240.9 557.8,241.1 558.8,241.6 559.8,242.2 560.8,242.6 561.8,242.7 562.8,242.6 563.8,242.4 564.8,242.3 565.8,242.2 566.8,242.3 567.8,242.5 568.8,242.7 569.8,242.9 570.8,242.9 571.8,242.8 572.8,242.7 573.8,242.7 574.8,242.8 575.8,242.7 576.9,242.5 577.9,242.3 578.9,242.3 579.9,242.4 580.9,242.5 581.9,242.6 582.9,242.7 583.9,242.7 584.9,242.6" fill="none" stroke="#e60000" stroke-width="3.4" stroke-linejoin="round" stroke-linecap="round"/>
<path d="M135.3,104.3 H125.8 V268.0 H584.0" fill="none" stroke="#000" stroke-width="3.3" stroke-linejoin="round"/>
<line x1="125.8" y1="213.4" x2="135.3" y2="213.4" stroke="#000" stroke-width="3.3"/>
<line x1="125.8" y1="158.9" x2="135.3" y2="158.9" stroke="#000" stroke-width="3.3"/>
<line x1="213.0" y1="268.0" x2="213.0" y2="258.5" stroke="#000" stroke-width="3.3"/>
<line x1="300.5" y1="268.0" x2="300.5" y2="258.5" stroke="#000" stroke-width="3.3"/>
<line x1="388.0" y1="268.0" x2="388.0" y2="258.5" stroke="#000" stroke-width="3.3"/>
<line x1="475.5" y1="268.0" x2="475.5" y2="258.5" stroke="#000" stroke-width="3.3"/>
<line x1="563.0" y1="268.0" x2="563.0" y2="258.5" stroke="#000" stroke-width="3.3"/>
<text x="98.1" y="277.5" font-family='"Liberation Sans", sans-serif' font-size="27" text-anchor="end">0</text>
<text x="98.1" y="222.9" font-family='"Liberation Sans", sans-serif' font-size="27" text-anchor="end">200</text>
<text x="98.1" y="168.4" font-family='"Liberation Sans", sans-serif' font-size="27" text-anchor="end">400</text>
<text x="98.1" y="113.8" font-family='"Liberation Sans", sans-serif' font-size="27" text-anchor="end">600</text>
<text x="125.5" y="317.0" font-family='"Liberation Sans", sans-serif' font-size="27" text-anchor="middle">1.5</text>
<text x="213.0" y="317.0" font-family='"Liberation Sans", sans-serif' font-size="27" text-anchor="middle">3.5</text>
<text x="300.5" y="317.0" font-family='"Liberation Sans", sans-serif' font-size="27" text-anchor="middle">5.5</text>
<text x="388.0" y="317.0" font-family='"Liberation Sans", sans-serif' font-size="27" text-anchor="middle">7.5</text>
<text x="475.5" y="317.0" font-family='"Liberation Sans", sans-serif' font-size="27" text-anchor="middle">9.5</text>
<text x="563.0" y="317.0" font-family='"Liberation Sans", sans-serif' font-size="27" text-anchor="middle">11.5</text>
<text x="144.6" y="129.7" font-family='"Liberation Sans", sans-serif' font-size="25.43" font-weight="bold" textLength="76.6" lengthAdjust="spacingAndGlyphs">A) PM</text>
<path d="M152.7,216.9 h3.5 v26.6 h5.55 L154.4,257.4 L147.1,243.5 h5.55 z" fill="#000"/>
<path d="M231.3,202.7 h3.5 v26.6 h5.55 L233.1,243.2 L225.8,229.3 h5.55 z" fill="#000"/>
<path d="M348.1,193.5 h3.5 v26.6 h5.55 L349.9,234.0 L342.6,220.1 h5.55 z" fill="#000"/>
<path d="M404.1,201.1 h3.5 v26.6 h5.55 L405.9,241.6 L398.6,227.7 h5.55 z" fill="#000"/>
<path d="M137.0,489.3 138.0,489.2 139.0,489.3 140.0,489.7 141.0,490.4 142.0,490.9 143.0,491.0 144.0,490.5 145.0,489.8 146.0,489.1 147.0,488.8 148.0,489.1 149.0,489.6 150.1,490.1 151.1,490.4 152.1,490.5 153.1,490.5 154.1,490.4 155.1,490.2 156.1,489.9 157.1,489.8 158.1,490.0 159.1,490.3 160.1,490.4 161.1,490.3 162.1,490.0 163.1,489.9 164.1,489.9 165.1,489.9 166.1,490.0 167.1,490.1 168.1,490.1 169.1,490.8 170.1,491.2 171.1,489.8 172.1,487.2 173.1,485.1 174.1,484.6 175.1,484.1 176.2,483.7 177.2,483.3 178.2,483.2 179.2,483.2 180.2,483.3 181.2,483.3 182.2,483.1 183.2,482.8 184.2,482.6 185.2,482.6 186.2,482.7 187.2,482.9 188.2,483.1 189.2,483.3 190.2,483.3 191.2,483.2 192.2,483.2 193.2,483.2 194.2,483.2 195.2,483.2 196.2,483.1 197.2,483.0 198.2,482.9 199.2,483.0 200.2,483.1 201.3,483.2 202.3,483.3 203.3,483.6 204.3,483.8 205.3,483.6 206.3,483.2 207.3,482.8 208.3,482.6 209.3,482.7 210.3,482.9 211.3,483.1 212.3,483.0 213.3,482.9 214.3,482.8 215.3,482.8 216.3,482.7 217.3,482.7 218.3,482.8 219.3,483.1 220.3,483.6 221.3,483.9 222.3,484.0 223.3,484.0 224.3,484.0 225.3,484.1 226.3,484.1 227.4,483.8 228.4,483.6 229.4,483.4 230.4,483.2 231.4,483.0 232.4,482.7 233.4,482.3 234.4,482.0 235.4,481.9 236.4,482.1 237.4,482.3 238.4,482.5 239.4,482.8 240.4,483.1 241.4,483.5 242.4,483.8 243.4,483.9 244.4,483.8 245.4,483.7 246.4,483.8 247.4,484.0 248.4,484.1 249.4,482.9 250.4,478.3 251.4,472.3 252.5,467.2 253.5,464.6 254.5,462.6 255.5,460.9 256.5,459.5 257.5,458.3 258.5,457.2 259.5,456.0 260.5,454.8 261.5,453.9 262.5,453.3 263.5,452.7 264.5,452.2 265.5,451.6 266.5,450.9 267.5,450.3 268.5,449.7 269.5,449.2 270.5,448.7 271.5,448.2 272.5,447.8 273.5,447.3 274.5,447.0 275.5,446.7 276.5,446.6 277.5,446.4 278.6,446.1 279.6,445.8 280.6,445.5 281.6,445.1 282.6,444.6 283.6,444.3 284.6,444.1 285.6,443.9 286.6,443.6 287.6,443.6 288.6,443.7 289.6,443.8 290.6,443.6 291.6,443.4 292.6,443.3 293.6,443.3 294.6,443.2 295.6,442.9 296.6,442.7 297.6,442.7 298.6,442.9 299.6,443.1 300.6,443.4 301.6,443.8 302.6,444.3 303.7,444.7 304.7,445.2 305.7,445.8 306.7,446.4 307.7,446.8 308.7,447.2 309.7,448.7 310.7,452.1 311.7,456.5 312.7,460.7 313.7,464.6 314.7,469.1 315.7,473.4 316.7,476.2 317.7,477.0 318.7,477.5 319.7,477.8 320.7,478.2 321.7,478.7 322.7,479.2 323.7,479.5 324.7,479.7 325.7,479.8 326.7,479.7 327.7,479.6 328.7,479.4 329.8,479.4 330.8,479.5 331.8,479.7 332.8,479.6 333.8,479.4 334.8,479.3 335.8,479.3 336.8,479.4 337.8,479.5 338.8,479.5 339.8,479.6 340.8,479.8 341.8,479.8 342.8,479.8 343.8,479.7 344.8,479.6 345.8,479.5 346.8,479.3 347.8,479.3 348.8,479.5 349.8,479.8 350.8,480.2 351.8,480.3 352.8,480.3 353.8,480.2 354.9,480.2 355.9,480.2 356.9,480.3 357.9,480.4 358.9,480.3 359.9,480.1 360.9,479.8 361.9,479.5 362.9,479.3 363.9,479.0 364.9,479.1 365.9,479.5 366.9,480.0 367.9,480.3 368.9,480.5 369.9,481.2 370.9,482.9 371.9,484.7 372.9,486.9 373.9,489.8 374.9,491.4 375.9,491.3 376.9,491.2 377.9,491.1 378.9,491.1 380.0,489.3 381.0,484.1 382.0,479.9 383.0,478.9 384.0,478.4 385.0,478.2 386.0,478.3 387.0,478.4 388.0,478.5 389.0,478.4 390.0,478.3 391.0,478.2 392.0,478.3 393.0,478.3 394.0,478.3 395.0,478.4 396.0,478.6 397.0,478.8 398.0,478.7 399.0,478.6 400.0,478.5 401.0,478.5 402.0,478.4 403.0,478.2 404.0,478.1 405.0,478.1 406.1,478.1 407.1,478.2 408.1,478.2 409.1,478.2 410.1,478.1 411.1,478.1 412.1,478.3 413.1,478.5 414.1,478.5 415.1,478.4 416.1,478.1 417.1,478.1 418.1,478.4 419.1,478.8 420.1,479.0 421.1,478.9 422.1,478.6 423.1,478.4 424.1,478.3 425.1,478.5 426.1,478.9 427.1,479.1 428.1,479.2 429.1,479.3 430.1,479.2 431.2,479.1 432.2,479.1 433.2,479.5 434.2,480.1 435.2,480.6 436.2,479.0 437.2,474.9 438.2,469.5 439.2,464.5 440.2,459.8 441.2,454.4 442.2,448.7 443.2,443.2 444.2,438.5 445.2,435.2 446.2,433.0 447.2,430.9 448.2,429.1 449.2,427.6 450.2,426.4 451.2,425.3 452.2,424.5 453.2,424.1 454.2,424.0 455.2,423.8 456.2,423.5 457.3,423.3 458.3,423.2 459.3,423.4 460.3,423.7 461.3,424.1 462.3,424.6 463.3,424.8 464.3,424.6 465.3,424.1 466.3,423.5 467.3,423.1 468.3,422.9 469.3,422.9 470.3,422.9 471.3,423.1 472.3,423.7 473.3,424.5 474.3,425.8 475.3,427.5 476.3,429.6 477.3,431.8 478.3,434.1 479.3,436.8 480.3,441.2 481.3,446.7 482.4,452.8 483.4,458.6 484.4,463.1 485.4,466.1 486.4,468.8 487.4,471.4 488.4,474.0 489.4,476.1 490.4,477.5 491.4,477.9 492.4,478.1 493.4,478.1 494.4,478.1 495.4,478.0 496.4,478.0 497.4,478.1 498.4,478.3 499.4,478.5 500.4,478.7 501.4,478.8 502.4,478.7 503.4,478.5 504.4,478.2 505.4,477.9 506.4,477.9 507.4,478.1 508.5,478.2 509.5,478.3 510.5,478.4 511.5,478.4 512.5,478.4 513.5,478.5 514.5,478.5 515.5,478.5 516.5,478.5 517.5,478.4 518.5,478.1 519.5,477.7 520.5,477.5 521.5,477.6 522.5,477.8 523.5,478.0 524.5,478.1 525.5,478.3 526.5,478.5 527.5,478.6 528.5,478.7 529.5,478.7 530.5,478.6 531.5,478.3 532.5,477.9 533.6,477.6 534.6,477.6 535.6,477.9 536.6,478.2 537.6,478.5 538.6,478.6 539.6,478.4 540.6,478.1 541.6,477.7 542.6,477.4 543.6,477.4 544.6,477.5 545.6,477.6 546.6,477.7 547.6,477.7 548.6,477.8 549.6,477.9 550.6,478.1 551.6,478.2 552.6,478.2 553.6,478.2 554.6,478.3 555.6,478.6 556.6,478.8 557.6,479.0 558.6,479.2 559.7,479.3 560.7,479.3 561.7,479.1 562.7,479.0 563.7,478.8 564.7,478.6 565.7,478.5 566.7,478.5 567.7,478.6 568.7,478.6 569.7,478.5 570.7,478.4 571.7,478.4" fill="none" stroke="#1f6fce" stroke-width="3.4" stroke-linejoin="round" stroke-linecap="round"/>
<path d="M137.0,489.4 138.0,489.6 139.0,489.8 140.0,489.9 141.0,490.1 142.0,490.3 143.0,490.4 144.0,490.3 145.0,490.2 146.0,490.1 147.0,490.0 148.0,490.0 149.0,490.0 150.1,490.0 151.1,489.8 152.1,489.3 153.1,488.8 154.1,488.8 155.1,489.1 156.1,489.5 157.1,489.7 158.1,489.8 159.1,489.7 160.1,489.6 161.1,489.7 162.1,489.9 163.1,490.3 164.1,490.5 165.1,490.3 166.1,489.8 167.1,489.4 168.1,489.1 169.1,489.7 170.1,490.4 171.1,489.3 172.1,486.9 173.1,484.7 174.1,483.9 175.1,483.3 176.2,483.1 177.2,483.2 178.2,483.4 179.2,483.6 180.2,483.7 181.2,483.6 182.2,483.4 183.2,483.0 184.2,482.8 185.2,483.0 186.2,483.4 187.2,483.7 188.2,483.8 189.2,483.6 190.2,483.3 191.2,483.2 192.2,483.2 193.2,483.4 194.2,483.4 195.2,483.3 196.2,483.3 197.2,483.3 198.2,483.4 199.2,483.5 200.2,483.6 201.3,483.7 202.3,483.8 203.3,483.9 204.3,483.7 205.3,483.5 206.3,483.0 207.3,482.6 208.3,482.4 209.3,482.3 210.3,482.5 211.3,482.6 212.3,482.6 213.3,482.6 214.3,482.7 215.3,482.9 216.3,483.3 217.3,483.7 218.3,483.8 219.3,483.8 220.3,483.6 221.3,483.4 222.3,483.2 223.3,483.1 224.3,483.0 225.3,483.0 226.3,483.0 227.4,483.0 228.4,483.0 229.4,482.9 230.4,482.7 231.4,482.6 232.4,482.6 233.4,482.5 234.4,482.5 235.4,482.4 236.4,482.5 237.4,482.7 238.4,482.9 239.4,483.1 240.4,483.3 241.4,483.5 242.4,483.7 243.4,483.6 244.4,483.4 245.4,483.2 246.4,483.2 247.4,483.4 248.4,483.5 249.4,482.6 250.4,478.4 251.4,472.7 252.5,467.6 253.5,464.8 254.5,462.6 255.5,460.6 256.5,458.6 257.5,456.7 258.5,455.1 259.5,453.8 260.5,452.8 261.5,452.0 262.5,451.3 263.5,450.7 264.5,450.1 265.5,449.5 266.5,448.8 267.5,448.1 268.5,447.3 269.5,446.6 270.5,446.3 271.5,446.2 272.5,446.3 273.5,446.1 274.5,445.6 275.5,445.0 276.5,444.5 277.5,444.2 278.6,444.0 279.6,443.8 280.6,443.5 281.6,443.0 282.6,442.8 283.6,442.7 284.6,442.5 285.6,442.3 286.6,442.0 287.6,441.6 288.6,441.2 289.6,440.8 290.6,440.6 291.6,440.6 292.6,440.5 293.6,440.6 294.6,440.7 295.6,440.8 296.6,440.8 297.6,440.7 298.6,440.7 299.6,440.9 300.6,441.4 301.6,442.0 302.6,442.8 303.7,443.5 304.7,444.2 305.7,444.6 306.7,445.0 307.7,445.4 308.7,446.0 309.7,446.9 310.7,447.9 311.7,449.2 312.7,450.9 313.7,454.6 314.7,459.9 315.7,465.4 316.7,469.8 317.7,472.3 318.7,474.6 319.7,476.3 320.7,477.1 321.7,477.0 322.7,476.6 323.7,476.2 324.7,476.1 325.7,476.4 326.7,476.8 327.7,477.2 328.7,477.4 329.8,477.3 330.8,477.1 331.8,476.9 332.8,476.7 333.8,476.6 334.8,476.7 335.8,476.8 336.8,476.9 337.8,477.0 338.8,477.1 339.8,477.2 340.8,477.3 341.8,477.2 342.8,477.2 343.8,477.3 344.8,477.5 345.8,477.5 346.8,477.4 347.8,477.3 348.8,477.1 349.8,477.0 350.8,477.1 351.8,477.4 352.8,477.7 353.8,477.9 354.9,477.9 355.9,477.9 356.9,477.7 357.9,477.4 358.9,477.1 359.9,476.9 360.9,476.9 361.9,476.9 362.9,477.0 363.9,477.1 364.9,477.2 365.9,477.3 366.9,477.3 367.9,477.5 368.9,477.8 369.9,478.1 370.9,478.1 371.9,479.6 372.9,482.7 373.9,485.6 374.9,488.7 375.9,491.1 376.9,491.4 377.9,491.5 378.9,491.6 380.0,490.9 381.0,484.8 382.0,479.1 383.0,477.7 384.0,476.9 385.0,476.5 386.0,476.5 387.0,476.7 388.0,476.8 389.0,476.7 390.0,476.7 391.0,476.7 392.0,476.8 393.0,476.9 394.0,476.9 395.0,476.9 396.0,476.8 397.0,476.9 398.0,476.9 399.0,476.8 400.0,476.6 401.0,476.5 402.0,476.4 403.0,476.5 404.0,476.8 405.0,477.1 406.1,477.5 407.1,477.6 408.1,477.5 409.1,477.4 410.1,477.4 411.1,477.4 412.1,477.4 413.1,477.4 414.1,477.3 415.1,477.3 416.1,477.2 417.1,477.0 418.1,476.7 419.1,476.5 420.1,476.4 421.1,476.4 422.1,476.4 423.1,476.4 424.1,476.7 425.1,477.0 426.1,477.3 427.1,477.6 428.1,477.9 429.1,478.1 430.1,478.1 431.2,477.7 432.2,477.1 433.2,476.5 434.2,477.4 435.2,479.3 436.2,480.1 437.2,477.3 438.2,471.6 439.2,464.9 440.2,458.9 441.2,453.1 442.2,447.1 443.2,441.2 444.2,435.6 445.2,430.6 446.2,426.3 447.2,423.3 448.2,421.4 449.2,419.7 450.2,418.1 451.2,416.5 452.2,414.8 453.2,413.0 454.2,411.6 455.2,410.6 456.2,409.9 457.3,409.2 458.3,408.5 459.3,407.8 460.3,407.3 461.3,406.9 462.3,406.6 463.3,406.5 464.3,406.4 465.3,406.2 466.3,405.9 467.3,405.9 468.3,406.1 469.3,406.6 470.3,407.0 471.3,407.2 472.3,407.4 473.3,408.5 474.3,411.1 475.3,414.8 476.3,419.1 477.3,423.3 478.3,428.5 479.3,435.5 480.3,443.2 481.3,450.7 482.4,457.2 483.4,462.4 484.4,467.8 485.4,472.5 486.4,475.5 487.4,476.3 488.4,476.6 489.4,476.7 490.4,476.8 491.4,476.9 492.4,477.1 493.4,477.2 494.4,477.2 495.4,477.0 496.4,476.7 497.4,476.6 498.4,476.7 499.4,477.1 500.4,477.5 501.4,477.7 502.4,477.8 503.4,477.8 504.4,477.8 505.4,477.5 506.4,477.2 507.4,477.0 508.5,476.9 509.5,477.0 510.5,477.2 511.5,477.4 512.5,477.5 513.5,477.4 514.5,477.3 515.5,477.0 516.5,476.9 517.5,476.9 518.5,477.2 519.5,477.5 520.5,477.6 521.5,477.6 522.5,477.3 523.5,476.9 524.5,476.6 525.5,476.7 526.5,476.9 527.5,477.2 528.5,477.6 529.5,477.8 530.5,477.8 531.5,477.7 532.5,477.6 533.6,477.5 534.6,477.5 535.6,477.5 536.6,477.5 537.6,477.7 538.6,477.7 539.6,477.4 540.6,477.0 541.6,476.7 542.6,476.8 543.6,477.1 544.6,477.5 545.6,477.8 546.6,478.1 547.6,478.1 548.6,477.9 549.6,477.7 550.6,477.6 551.6,477.5 552.6,477.6 553.6,477.6 554.6,477.7 555.6,477.8 556.6,477.8 557.6,477.8 558.6,477.8 559.7,477.8 560.7,477.8 561.7,477.7 562.7,477.4 563.7,477.1 564.7,476.7 565.7,476.6 566.7,476.5 567.7,476.6 568.7,476.6 569.7,476.6 570.7,476.7 571.7,476.9" fill="none" stroke="#fd7d27" stroke-width="3.4" stroke-linejoin="round" stroke-linecap="round"/>
<path d="M137.0,490.0 138.0,489.7 139.0,489.6 140.0,489.6 141.0,489.8 142.0,490.1 143.0,490.3 144.0,490.4 145.0,490.1 146.0,489.9 147.0,489.9 148.0,490.2 149.0,490.6 150.1,490.9 151.1,491.0 152.1,491.0 153.1,491.1 154.1,491.0 155.1,490.9 156.1,490.6 157.1,490.3 158.1,489.9 159.1,489.7 160.1,489.7 161.1,489.9 162.1,490.2 163.1,490.4 164.1,490.5 165.1,490.6 166.1,490.7 167.1,490.8 168.1,490.9 169.1,490.9 170.1,490.9 171.1,490.8 172.1,489.2 173.1,486.8 174.1,485.2 175.1,484.6 176.2,484.1 177.2,483.8 178.2,483.7 179.2,483.8 180.2,483.8 181.2,483.5 182.2,483.0 183.2,482.6 184.2,482.4 185.2,482.7 186.2,483.1 187.2,483.6 188.2,483.8 189.2,483.5 190.2,483.2 191.2,483.2 192.2,483.4 193.2,483.6 194.2,483.5 195.2,483.2 196.2,482.7 197.2,482.3 198.2,482.2 199.2,482.4 200.2,482.7 201.3,482.9 202.3,483.0 203.3,483.1 204.3,483.0 205.3,482.8 206.3,482.6 207.3,482.6 208.3,482.7 209.3,483.0 210.3,483.2 211.3,483.2 212.3,483.0 213.3,482.9 214.3,482.9 215.3,483.0 216.3,483.0 217.3,483.1 218.3,483.1 219.3,483.1 220.3,483.0 221.3,483.1 222.3,483.2 223.3,483.3 224.3,483.3 225.3,483.2 226.3,483.0 227.4,482.7 228.4,482.4 229.4,482.2 230.4,482.3 231.4,482.3 232.4,482.4 233.4,482.5 234.4,482.7 235.4,482.9 236.4,483.0 237.4,483.2 238.4,483.4 239.4,483.4 240.4,483.4 241.4,483.4 242.4,483.4 243.4,483.4 244.4,483.2 245.4,483.1 246.4,483.0 247.4,483.0 248.4,483.2 249.4,483.7 250.4,484.8 251.4,485.5 252.5,485.2 253.5,481.4 254.5,475.2 255.5,469.3 256.5,465.8 257.5,463.8 258.5,462.0 259.5,460.4 260.5,458.8 261.5,457.2 262.5,455.7 263.5,454.5 264.5,453.5 265.5,452.8 266.5,452.1 267.5,451.5 268.5,451.2 269.5,451.0 270.5,450.5 271.5,449.8 272.5,449.1 273.5,448.6 274.5,448.2 275.5,447.8 276.5,447.3 277.5,446.8 278.6,446.4 279.6,446.2 280.6,446.0 281.6,446.0 282.6,446.0 283.6,446.0 284.6,445.9 285.6,445.7 286.6,445.4 287.6,445.1 288.6,444.9 289.6,444.8 290.6,444.7 291.6,444.5 292.6,444.3 293.6,444.0 294.6,443.8 295.6,443.8 296.6,443.7 297.6,443.6 298.6,443.6 299.6,443.8 300.6,444.2 301.6,444.3 302.6,444.3 303.7,444.3 304.7,444.4 305.7,444.8 306.7,445.3 307.7,445.7 308.7,446.0 309.7,446.1 310.7,446.3 311.7,446.7 312.7,447.2 313.7,447.8 314.7,448.7 315.7,449.9 316.7,451.5 317.7,453.6 318.7,455.8 319.7,458.5 320.7,462.8 321.7,467.7 322.7,471.8 323.7,473.9 324.7,475.3 325.7,476.4 326.7,477.1 327.7,477.2 328.7,477.4 329.8,477.5 330.8,477.6 331.8,477.4 332.8,477.4 333.8,477.6 334.8,477.6 335.8,477.5 336.8,477.4 337.8,477.5 338.8,477.7 339.8,477.8 340.8,477.7 341.8,477.7 342.8,477.7 343.8,477.8 344.8,477.6 345.8,477.3 346.8,477.2 347.8,477.3 348.8,477.2 349.8,477.1 350.8,477.1 351.8,477.1 352.8,477.2 353.8,477.1 354.9,477.1 355.9,477.1 356.9,477.2 357.9,477.2 358.9,477.4 359.9,477.6 360.9,477.9 361.9,478.0 362.9,478.0 363.9,478.0 364.9,478.2 365.9,478.4 366.9,478.6 367.9,478.7 368.9,478.5 369.9,478.1 370.9,477.9 371.9,479.2 372.9,482.1 373.9,484.8 374.9,487.8 375.9,490.4 376.9,491.0 377.9,491.4 378.9,491.5 380.0,490.8 381.0,484.4 382.0,478.3 383.0,476.7 384.0,475.4 385.0,474.4 386.0,473.9 387.0,473.6 388.0,473.6 389.0,474.0 390.0,474.5 391.0,475.0 392.0,475.2 393.0,475.2 394.0,475.0 395.0,475.0 396.0,475.0 397.0,475.0 398.0,474.9 399.0,474.8 400.0,474.8 401.0,475.0 402.0,475.2 403.0,475.5 404.0,475.4 405.0,474.9 406.1,474.4 407.1,474.0 408.1,473.9 409.1,474.0 410.1,474.1 411.1,474.4 412.1,474.6 413.1,474.6 414.1,474.5 415.1,474.5 416.1,474.5 417.1,474.7 418.1,475.0 419.1,475.3 420.1,475.4 421.1,475.1 422.1,474.8 423.1,474.6 424.1,474.6 425.1,474.8 426.1,475.0 427.1,475.2 428.1,475.3 429.1,475.0 430.1,474.5 431.2,474.2 432.2,474.4 433.2,474.9 434.2,476.1 435.2,477.5 436.2,477.6 437.2,475.4 438.2,472.2 439.2,468.5 440.2,463.2 441.2,456.6 442.2,449.2 443.2,441.3 444.2,433.5 445.2,426.7 446.2,421.4 447.2,417.9 448.2,415.2 449.2,412.7 450.2,410.5 451.2,408.5 452.2,406.6 453.2,404.7 454.2,403.1 455.2,401.7 456.2,400.6 457.3,399.5 458.3,398.6 459.3,398.1 460.3,397.6 461.3,397.1 462.3,396.3 463.3,395.4 464.3,394.6 465.3,394.3 466.3,394.5 467.3,395.1 468.3,395.9 469.3,396.6 470.3,397.5 471.3,398.4 472.3,399.6 473.3,401.5 474.3,404.5 475.3,408.5 476.3,414.9 477.3,423.0 478.3,431.7 479.3,440.1 480.3,447.7 481.3,456.0 482.4,463.9 483.4,470.0 484.4,473.0 485.4,474.8 486.4,475.8 487.4,476.0 488.4,476.2 489.4,476.3 490.4,476.4 491.4,476.5 492.4,476.8 493.4,476.8 494.4,476.6 495.4,476.3 496.4,476.1 497.4,476.2 498.4,476.4 499.4,476.3 500.4,476.1 501.4,475.9 502.4,475.8 503.4,475.7 504.4,475.5 505.4,475.4 506.4,475.4 507.4,475.4 508.5,475.5 509.5,475.6 510.5,475.7 511.5,475.7 512.5,475.7 513.5,475.6 514.5,475.6 515.5,475.5 516.5,475.3 517.5,475.2 518.5,475.4 519.5,475.8 520.5,476.1 521.5,476.3 522.5,476.5 523.5,476.8 524.5,477.1 525.5,477.1 526.5,476.8 527.5,476.4 528.5,476.2 529.5,476.3 530.5,476.4 531.5,476.4 532.5,476.3 533.6,476.4 534.6,476.5 535.6,476.6 536.6,476.6 537.6,476.5 538.6,476.6 539.6,476.8 540.6,477.1 541.6,477.3 542.6,477.3 543.6,476.9 544.6,476.5 545.6,476.2 546.6,476.1 547.6,476.2 548.6,476.2 549.6,476.1 550.6,476.1 551.6,476.3 552.6,476.6 553.6,476.8 554.6,476.7 555.6,476.7 556.6,476.8 557.6,477.0 558.6,477.1 559.7,477.0 560.7,477.0 561.7,477.0 562.7,477.1 563.7,477.1 564.7,477.0 565.7,477.0 566.7,476.8 567.7,476.6 568.7,476.6 569.7,477.0 570.7,477.5 571.7,477.9" fill="none" stroke="#2b8a2b" stroke-width="3.4" stroke-linejoin="round" stroke-linecap="round"/>
<path d="M137.0,490.2 138.0,490.2 139.0,489.8 140.0,489.3 141.0,489.0 142.0,488.9 143.0,489.0 144.0,489.3 145.0,489.5 146.0,489.5 147.0,489.6 148.0,489.8 149.0,489.7 150.1,489.6 151.1,489.3 152.1,489.3 153.1,489.3 154.1,489.4 155.1,489.3 156.1,489.3 157.1,489.4 158.1,489.7 159.1,489.9 160.1,490.2 161.1,490.4 162.1,490.5 163.1,490.3 164.1,489.9 165.1,489.6 166.1,489.7 167.1,490.8 168.1,491.8 169.1,491.5 170.1,488.0 171.1,485.9 172.1,485.1 173.1,484.4 174.1,483.9 175.1,483.5 176.2,483.3 177.2,483.3 178.2,483.3 179.2,483.2 180.2,483.2 181.2,483.3 182.2,483.3 183.2,483.2 184.2,483.1 185.2,483.2 186.2,483.3 187.2,483.2 188.2,483.0 189.2,482.8 190.2,482.8 191.2,482.9 192.2,483.1 193.2,483.2 194.2,483.1 195.2,483.0 196.2,483.0 197.2,483.2 198.2,483.5 199.2,483.7 200.2,483.7 201.3,483.5 202.3,483.2 203.3,482.8 204.3,482.8 205.3,483.0 206.3,483.4 207.3,483.6 208.3,483.5 209.3,483.1 210.3,482.6 211.3,482.4 212.3,482.6 213.3,482.9 214.3,483.2 215.3,483.4 216.3,483.7 217.3,484.0 218.3,484.0 219.3,483.8 220.3,483.4 221.3,483.0 222.3,482.9 223.3,482.9 224.3,483.1 225.3,483.3 226.3,483.6 227.4,483.7 228.4,483.6 229.4,483.5 230.4,483.1 231.4,482.8 232.4,482.8 233.4,483.2 234.4,483.4 235.4,483.4 236.4,483.4 237.4,483.3 238.4,483.3 239.4,483.2 240.4,483.1 241.4,483.1 242.4,483.1 243.4,483.4 244.4,484.3 245.4,485.0 246.4,484.1 247.4,481.8 248.4,479.2 249.4,477.2 250.4,474.8 251.4,472.4 252.5,470.2 253.5,468.5 254.5,467.4 255.5,466.5 256.5,465.4 257.5,464.3 258.5,463.4 259.5,462.8 260.5,462.3 261.5,461.8 262.5,461.3 263.5,460.7 264.5,460.1 265.5,459.5 266.5,459.0 267.5,458.7 268.5,458.4 269.5,458.0 270.5,457.3 271.5,456.4 272.5,455.6 273.5,455.0 274.5,454.5 275.5,453.8 276.5,453.1 277.5,452.5 278.6,452.2 279.6,452.2 280.6,452.1 281.6,451.8 282.6,451.4 283.6,451.0 284.6,450.6 285.6,450.4 286.6,450.3 287.6,450.3 288.6,450.0 289.6,449.4 290.6,448.8 291.6,448.3 292.6,448.2 293.6,448.4 294.6,448.8 295.6,449.1 296.6,448.9 297.6,448.4 298.6,447.9 299.6,447.5 300.6,447.3 301.6,447.2 302.6,447.0 303.7,446.7 304.7,446.2 305.7,445.8 306.7,445.6 307.7,445.7 308.7,446.0 309.7,446.5 310.7,446.9 311.7,447.4 312.7,448.1 313.7,449.1 314.7,450.1 315.7,451.3 316.7,452.4 317.7,453.6 318.7,455.1 319.7,457.2 320.7,459.7 321.7,462.5 322.7,465.4 323.7,468.0 324.7,470.3 325.7,472.3 326.7,474.2 327.7,475.7 328.7,476.5 329.8,476.4 330.8,476.2 331.8,476.1 332.8,476.2 333.8,476.3 334.8,476.4 335.8,476.3 336.8,476.4 337.8,476.6 338.8,476.9 339.8,476.9 340.8,476.6 341.8,476.3 342.8,476.0 343.8,476.1 344.8,476.3 345.8,476.5 346.8,476.5 347.8,476.4 348.8,476.3 349.8,476.4 350.8,476.4 351.8,476.4 352.8,476.2 353.8,476.0 354.9,476.1 355.9,476.4 356.9,476.6 357.9,476.5 358.9,476.1 359.9,475.8 360.9,475.7 361.9,475.8 362.9,476.1 363.9,476.2 364.9,476.2 365.9,476.2 366.9,476.1 367.9,476.0 368.9,475.8 369.9,475.6 370.9,475.7 371.9,478.1 372.9,482.1 373.9,485.6 374.9,489.1 375.9,491.4 376.9,491.8 377.9,491.8 378.9,491.8 380.0,491.5 381.0,490.1 382.0,483.6 383.0,476.3 384.0,473.1 385.0,472.0 386.0,471.2 387.0,470.7 388.0,470.6 389.0,470.9 390.0,471.2 391.0,471.4 392.0,471.3 393.0,471.1 394.0,471.0 395.0,471.0 396.0,471.2 397.0,471.5 398.0,471.5 399.0,471.4 400.0,471.2 401.0,471.2 402.0,471.3 403.0,471.4 404.0,471.4 405.0,471.3 406.1,471.3 407.1,471.4 408.1,471.5 409.1,471.5 410.1,471.3 411.1,470.9 412.1,470.6 413.1,470.6 414.1,470.6 415.1,470.3 416.1,470.1 417.1,470.2 418.1,470.4 419.1,470.7 420.1,470.9 421.1,471.1 422.1,471.3 423.1,471.3 424.1,471.3 425.1,471.4 426.1,471.5 427.1,471.4 428.1,471.0 429.1,470.7 430.1,470.6 431.2,470.8 432.2,471.8 433.2,473.0 434.2,473.7 435.2,471.4 436.2,465.0 437.2,457.3 438.2,451.2 439.2,447.8 440.2,444.6 441.2,441.6 442.2,439.0 443.2,436.8 444.2,435.0 445.2,433.9 446.2,433.4 447.2,433.3 448.2,433.3 449.2,433.1 450.2,432.6 451.2,432.0 452.2,431.4 453.2,431.1 454.2,431.0 455.2,431.1 456.2,431.2 457.3,431.2 458.3,431.1 459.3,431.0 460.3,430.8 461.3,430.7 462.3,430.8 463.3,431.1 464.3,431.6 465.3,432.1 466.3,432.6 467.3,432.9 468.3,433.1 469.3,433.3 470.3,433.5 471.3,433.9 472.3,434.3 473.3,434.8 474.3,435.2 475.3,435.5 476.3,435.7 477.3,436.2 478.3,436.9 479.3,437.8 480.3,438.6 481.3,439.2 482.4,439.5 483.4,439.5 484.4,439.3 485.4,439.2 486.4,439.4 487.4,439.8 488.4,440.3 489.4,440.7 490.4,441.1 491.4,441.4 492.4,441.7 493.4,442.0 494.4,442.1 495.4,442.2 496.4,442.2 497.4,442.5 498.4,442.9 499.4,443.3 500.4,443.7 501.4,444.1 502.4,444.4 503.4,444.5 504.4,444.6 505.4,444.8 506.4,445.3 507.4,446.0 508.5,446.7 509.5,447.3 510.5,447.6 511.5,447.9 512.5,448.1 513.5,448.4 514.5,448.8 515.5,449.3 516.5,449.9 517.5,450.6 518.5,451.2 519.5,451.8 520.5,452.6 521.5,453.7 522.5,454.7 523.5,455.4 524.5,456.0 525.5,456.8 526.5,458.1 527.5,459.7 528.5,461.4 529.5,463.1 530.5,464.6 531.5,465.6 532.5,466.3 533.6,466.8 534.6,467.3 535.6,467.9 536.6,468.7 537.6,469.5 538.6,470.2 539.6,470.9 540.6,471.4 541.6,471.6 542.6,471.6 543.6,471.3 544.6,470.9 545.6,470.8 546.6,471.0 547.6,471.4 548.6,471.8 549.6,472.0 550.6,471.9 551.6,471.6 552.6,471.1 553.6,470.5 554.6,470.2 555.6,470.3 556.6,470.5 557.6,470.9 558.6,471.4 559.7,471.7 560.7,471.8 561.7,471.6 562.7,471.3 563.7,471.1 564.7,471.0 565.7,470.9 566.7,471.0 567.7,471.3 568.7,471.5 569.7,471.6 570.7,471.3 571.7,471.0" fill="none" stroke="#7b2fb3" stroke-width="3.4" stroke-linejoin="round" stroke-linecap="round"/>
<path d="M137.0,490.1 138.0,490.2 139.0,490.3 140.0,490.4 141.0,490.4 142.0,490.2 143.0,490.0 144.0,489.7 145.0,489.5 146.0,489.5 147.0,489.6 148.0,489.6 149.0,489.7 150.1,489.6 151.1,489.4 152.1,489.3 153.1,489.4 154.1,489.5 155.1,489.6 156.1,489.7 157.1,489.7 158.1,489.8 159.1,489.7 160.1,489.5 161.1,489.3 162.1,489.3 163.1,489.4 164.1,489.5 165.1,489.4 166.1,489.1 167.1,490.0 168.1,490.2 169.1,490.3 170.1,490.6 171.1,488.8 172.1,485.5 173.1,484.5 174.1,484.0 175.1,483.4 176.2,483.1 177.2,483.0 178.2,483.1 179.2,483.2 180.2,483.4 181.2,483.6 182.2,483.6 183.2,483.6 184.2,483.6 185.2,483.7 186.2,483.8 187.2,483.7 188.2,483.8 189.2,483.9 190.2,483.9 191.2,483.8 192.2,483.5 193.2,483.4 194.2,483.6 195.2,483.9 196.2,484.1 197.2,484.1 198.2,484.0 199.2,483.7 200.2,483.5 201.3,483.4 202.3,483.4 203.3,483.4 204.3,483.3 205.3,483.1 206.3,482.8 207.3,482.7 208.3,482.9 209.3,483.0 210.3,483.0 211.3,483.1 212.3,483.2 213.3,483.4 214.3,483.5 215.3,483.5 216.3,483.3 217.3,483.2 218.3,483.1 219.3,483.2 220.3,483.2 221.3,482.8 222.3,482.3 223.3,482.0 224.3,482.1 225.3,482.6 226.3,483.1 227.4,483.4 228.4,483.5 229.4,483.5 230.4,483.4 231.4,483.3 232.4,483.1 233.4,482.8 234.4,482.7 235.4,482.9 236.4,483.0 237.4,483.1 238.4,483.0 239.4,482.9 240.4,483.0 241.4,482.9 242.4,482.5 243.4,482.0 244.4,481.6 245.4,481.5 246.4,481.4 247.4,481.0 248.4,479.4 249.4,473.4 250.4,469.3 251.4,466.6 252.5,464.4 253.5,462.8 254.5,461.5 255.5,460.2 256.5,459.2 257.5,458.5 258.5,458.1 259.5,457.7 260.5,457.1 261.5,456.6 262.5,456.2 263.5,456.0 264.5,455.6 265.5,455.0 266.5,454.3 267.5,453.6 268.5,453.1 269.5,452.7 270.5,452.5 271.5,452.3 272.5,452.0 273.5,451.6 274.5,451.1 275.5,450.5 276.5,449.9 277.5,449.4 278.6,449.2 279.6,449.1 280.6,449.1 281.6,449.0 282.6,448.9 283.6,448.7 284.6,448.3 285.6,447.9 286.6,447.6 287.6,447.5 288.6,447.3 289.6,446.9 290.6,446.5 291.6,446.1 292.6,445.9 293.6,445.9 294.6,445.9 295.6,445.8 296.6,445.7 297.6,445.5 298.6,445.4 299.6,445.6 300.6,445.7 301.6,445.8 302.6,445.8 303.7,445.6 304.7,445.4 305.7,445.4 306.7,445.6 307.7,445.8 308.7,446.1 309.7,446.4 310.7,446.5 311.7,446.7 312.7,446.8 313.7,446.8 314.7,446.8 315.7,446.7 316.7,446.8 317.7,447.2 318.7,447.7 319.7,448.5 320.7,449.2 321.7,449.9 322.7,450.5 323.7,451.3 324.7,452.4 325.7,454.0 326.7,457.4 327.7,461.8 328.7,466.4 329.8,470.1 330.8,472.0 331.8,473.5 332.8,474.7 333.8,475.3 334.8,475.1 335.8,474.7 336.8,474.5 337.8,474.5 338.8,474.5 339.8,474.4 340.8,474.4 341.8,474.4 342.8,474.6 343.8,474.7 344.8,474.7 345.8,474.3 346.8,473.8 347.8,473.5 348.8,473.5 349.8,473.8 350.8,474.2 351.8,474.3 352.8,474.3 353.8,474.0 354.9,473.7 355.9,473.5 356.9,473.6 357.9,473.9 358.9,474.3 359.9,474.6 360.9,474.8 361.9,474.9 362.9,474.7 363.9,474.5 364.9,474.4 365.9,474.5 366.9,474.7 367.9,474.9 368.9,475.1 369.9,475.1 370.9,475.0 371.9,477.6 372.9,482.4 373.9,487.4 374.9,491.1 375.9,491.2 376.9,491.3 377.9,491.4 378.9,491.4 380.0,485.4 381.0,472.3 382.0,468.7 383.0,466.9 384.0,466.4 385.0,466.4 386.0,466.7 387.0,467.1 388.0,467.6 389.0,467.9 390.0,468.0 391.0,468.0 392.0,467.8 393.0,467.5 394.0,467.4 395.0,467.3 396.0,467.4 397.0,467.6 398.0,467.7 399.0,467.6 400.0,467.4 401.0,467.1 402.0,466.8 403.0,466.5 404.0,466.5 405.0,466.7 406.1,466.9 407.1,467.1 408.1,467.0 409.1,466.8 410.1,466.6 411.1,466.5 412.1,466.6 413.1,466.7 414.1,466.5 415.1,466.5 416.1,466.6 417.1,466.8 418.1,467.0 419.1,467.0 420.1,466.8 421.1,466.7 422.1,466.8 423.1,466.9 424.1,467.0 425.1,466.9 426.1,466.7 427.1,466.4 428.1,466.2 429.1,466.2 430.1,466.3 431.2,466.2 432.2,466.6 433.2,470.5 434.2,475.5 435.2,477.9 436.2,475.0 437.2,468.8 438.2,462.1 439.2,457.7 440.2,457.1 441.2,457.1 442.2,457.1 443.2,457.3 444.2,457.4 445.2,457.3 446.2,457.2 447.2,457.1 448.2,457.1 449.2,457.3 450.2,457.3 451.2,457.2 452.2,457.0 453.2,456.8 454.2,456.8 455.2,457.0 456.2,457.3 457.3,457.4 458.3,457.4 459.3,457.2 460.3,457.1 461.3,457.0 462.3,457.0 463.3,456.9 464.3,456.7 465.3,456.4 466.3,456.1 467.3,456.0 468.3,456.0 469.3,456.1 470.3,456.2 471.3,456.2 472.3,456.1 473.3,456.2 474.3,456.5 475.3,457.0 476.3,457.4 477.3,457.4 478.3,457.0 479.3,456.6 480.3,456.5 481.3,456.5 482.4,456.7 483.4,456.8 484.4,456.7 485.4,456.6 486.4,456.4 487.4,456.3 488.4,456.2 489.4,456.2 490.4,456.3 491.4,456.5 492.4,456.8 493.4,457.1 494.4,457.4 495.4,457.5 496.4,457.4 497.4,457.3 498.4,457.1 499.4,456.9 500.4,456.7 501.4,456.7 502.4,456.8 503.4,457.0 504.4,457.3 505.4,457.5 506.4,457.5 507.4,457.5 508.5,457.8 509.5,458.3 510.5,458.5 511.5,458.3 512.5,457.9 513.5,457.6 514.5,457.6 515.5,457.9 516.5,458.0 517.5,458.0 518.5,457.9 519.5,457.9 520.5,458.0 521.5,458.5 522.5,459.1 523.5,459.4 524.5,459.4 525.5,459.1 526.5,458.7 527.5,458.3 528.5,458.4 529.5,458.8 530.5,459.4 531.5,459.7 532.5,459.6 533.6,459.4 534.6,459.3 535.6,459.3 536.6,459.3 537.6,459.3 538.6,459.4 539.6,459.7 540.6,460.0 541.6,460.2 542.6,460.4 543.6,460.7 544.6,460.9 545.6,461.1 546.6,461.0 547.6,460.8 548.6,460.4 549.6,460.2 550.6,460.2 551.6,460.6 552.6,461.0 553.6,461.3 554.6,461.3 555.6,461.3 556.6,461.4 557.6,461.7 558.6,462.1 559.7,462.5 560.7,462.8 561.7,463.1 562.7,463.3 563.7,463.2 564.7,462.9 565.7,462.7 566.7,462.8 567.7,463.1 568.7,463.5 569.7,463.8 570.7,464.1 571.7,464.4" fill="none" stroke="#e60000" stroke-width="3.4" stroke-linejoin="round" stroke-linecap="round"/>
<path d="M147.1,353.2 H137.6 V491.8 H570.0" fill="none" stroke="#000" stroke-width="3.3" stroke-linejoin="round"/>
<line x1="137.6" y1="445.6" x2="147.1" y2="445.6" stroke="#000" stroke-width="3.3"/>
<line x1="137.6" y1="399.4" x2="147.1" y2="399.4" stroke="#000" stroke-width="3.3"/>
<line x1="219.8" y1="491.8" x2="219.8" y2="482.3" stroke="#000" stroke-width="3.3"/>
<line x1="302.6" y1="491.8" x2="302.6" y2="482.3" stroke="#000" stroke-width="3.3"/>
<line x1="385.4" y1="491.8" x2="385.4" y2="482.3" stroke="#000" stroke-width="3.3"/>
<line x1="468.2" y1="491.8" x2="468.2" y2="482.3" stroke="#000" stroke-width="3.3"/>
<line x1="551.0" y1="491.8" x2="551.0" y2="482.3" stroke="#000" stroke-width="3.3"/>
<text x="109.2" y="501.3" font-family='"Liberation Sans", sans-serif' font-size="27" text-anchor="end">0</text>
<text x="109.2" y="455.1" font-family='"Liberation Sans", sans-serif' font-size="27" text-anchor="end">200</text>
<text x="109.2" y="408.9" font-family='"Liberation Sans", sans-serif' font-size="27" text-anchor="end">400</text>
<text x="109.2" y="362.7" font-family='"Liberation Sans", sans-serif' font-size="27" text-anchor="end">600</text>
<text x="137.0" y="540.0" font-family='"Liberation Sans", sans-serif' font-size="27" text-anchor="middle">1.5</text>
<text x="219.8" y="540.0" font-family='"Liberation Sans", sans-serif' font-size="27" text-anchor="middle">3.5</text>
<text x="302.6" y="540.0" font-family='"Liberation Sans", sans-serif' font-size="27" text-anchor="middle">5.5</text>
<text x="385.4" y="540.0" font-family='"Liberation Sans", sans-serif' font-size="27" text-anchor="middle">7.5</text>
<text x="468.2" y="540.0" font-family='"Liberation Sans", sans-serif' font-size="27" text-anchor="middle">9.5</text>
<text x="551.0" y="540.0" font-family='"Liberation Sans", sans-serif' font-size="27" text-anchor="middle">11.5</text>
<text x="157.5" y="370.4" font-family='"Liberation Sans", sans-serif' font-size="25.43" font-weight="bold" textLength="78.6" lengthAdjust="spacingAndGlyphs">B) GM</text>
<path d="M164.2,436.6 h3.5 v26.6 h5.55 L166.0,477.1 L158.7,463.2 h5.55 z" fill="#000"/>
<path d="M240.3,435.3 h3.5 v26.6 h5.55 L242.1,475.8 L234.8,461.9 h5.55 z" fill="#000"/>
<path d="M372.4,426.5 h3.5 v26.6 h5.55 L374.1,467.0 L366.8,453.1 h5.55 z" fill="#000"/>
<path d="M425.9,418.8 h3.5 v26.6 h5.55 L427.6,459.3 L420.3,445.4 h5.55 z" fill="#000"/>
<path d="M138.6,738.3 139.6,737.9 140.6,737.8 141.6,737.9 142.6,738.1 143.6,738.3 144.6,738.5 145.6,738.4 146.6,738.3 147.6,738.2 148.6,738.1 149.6,738.2 150.6,738.5 151.6,738.7 152.6,738.9 153.6,738.9 154.6,738.7 155.6,738.3 156.6,737.8 157.6,737.6 158.7,737.6 159.7,737.8 160.7,737.8 161.7,737.7 162.7,737.4 163.7,737.4 164.7,737.6 165.7,737.9 166.7,738.0 167.7,738.1 168.7,738.6 169.7,739.3 170.7,738.5 171.7,736.0 172.7,734.9 173.7,734.9 174.7,735.0 175.7,735.0 176.7,734.9 177.7,734.7 178.7,734.5 179.7,734.4 180.7,734.2 181.7,734.0 182.7,733.9 183.7,733.9 184.7,734.0 185.7,734.1 186.7,734.0 187.7,733.8 188.7,733.5 189.7,733.4 190.7,733.3 191.7,733.2 192.7,733.1 193.7,733.1 194.7,733.0 195.7,732.8 196.8,732.5 197.8,732.2 198.8,732.0 199.8,731.9 200.8,731.9 201.8,731.8 202.8,731.8 203.8,732.0 204.8,732.1 205.8,732.2 206.8,732.1 207.8,731.8 208.8,731.6 209.8,731.6 210.8,732.0 211.8,732.3 212.8,732.4 213.8,732.2 214.8,732.0 215.8,731.9 216.8,731.9 217.8,732.0 218.8,732.0 219.8,731.9 220.8,731.7 221.8,731.6 222.8,731.7 223.8,732.1 224.8,732.7 225.8,732.9 226.8,732.6 227.8,732.0 228.8,731.5 229.8,731.1 230.8,730.9 231.8,730.9 232.8,731.1 233.8,731.4 234.8,731.6 235.9,731.5 236.9,731.1 237.9,730.7 238.9,730.5 239.9,730.6 240.9,730.9 241.9,731.1 242.9,731.1 243.9,730.9 244.9,730.6 245.9,729.5 246.9,727.8 247.9,725.4 248.9,721.1 249.9,715.5 250.9,709.5 251.9,703.2 252.9,695.4 253.9,689.1 254.9,686.9 255.9,686.2 256.9,685.9 257.9,685.7 258.9,685.5 259.9,685.6 260.9,685.9 261.9,686.3 262.9,686.6 263.9,687.0 264.9,687.5 265.9,688.1 266.9,688.7 267.9,689.1 268.9,689.5 269.9,689.9 270.9,690.3 271.9,691.0 272.9,691.8 274.0,692.8 275.0,694.0 276.0,695.2 277.0,696.2 278.0,697.0 279.0,697.6 280.0,698.2 281.0,698.9 282.0,699.9 283.0,701.0 284.0,702.1 285.0,702.8 286.0,703.1 287.0,703.4 288.0,703.7 289.0,704.1 290.0,704.3 291.0,704.6 292.0,704.9 293.0,705.4 294.0,706.0 295.0,706.3 296.0,706.5 297.0,706.7 298.0,707.0 299.0,707.2 300.0,707.3 301.0,707.4 302.0,707.5 303.0,708.0 304.0,708.5 305.0,708.8 306.0,709.0 307.0,709.2 308.0,709.4 309.0,709.6 310.0,709.9 311.0,710.2 312.1,710.5 313.1,710.7 314.1,710.7 315.1,710.5 316.1,710.4 317.1,710.3 318.1,710.4 319.1,710.6 320.1,710.9 321.1,711.3 322.1,711.7 323.1,712.1 324.1,712.5 325.1,712.8 326.1,713.2 327.1,713.4 328.1,713.6 329.1,713.9 330.1,714.4 331.1,714.8 332.1,715.0 333.1,715.1 334.1,715.3 335.1,715.7 336.1,716.4 337.1,717.1 338.1,717.8 339.1,718.2 340.1,718.8 341.1,719.3 342.1,720.1 343.1,721.3 344.1,722.6 345.1,723.9 346.1,725.1 347.1,726.0 348.1,726.7 349.1,727.1 350.1,727.5 351.2,727.8 352.2,728.0 353.2,728.0 354.2,728.0 355.2,727.8 356.2,727.8 357.2,727.9 358.2,728.0 359.2,727.9 360.2,727.6 361.2,727.4 362.2,727.3 363.2,727.4 364.2,727.7 365.2,727.9 366.2,728.0 367.2,727.9 368.2,727.9 369.2,727.8 370.2,727.6 371.2,727.2 372.2,726.8 373.2,726.5 374.2,726.5 375.2,726.7 376.2,726.7 377.2,726.5 378.2,726.0 379.2,725.7 380.2,725.6 381.2,725.8 382.2,726.0 383.2,726.1 384.2,726.1 385.2,726.1 386.2,726.1 387.2,727.4 388.2,730.0 389.3,732.6 390.3,735.1 391.3,737.8 392.3,739.2 393.3,739.5 394.3,739.8 395.3,739.9 396.3,739.8 397.3,735.9 398.3,730.1 399.3,726.6 400.3,725.9 401.3,725.4 402.3,725.2 403.3,725.3 404.3,725.2 405.3,725.1 406.3,724.8 407.3,724.6 408.3,724.5 409.3,724.4 410.3,724.5 411.3,724.6 412.3,724.7 413.3,724.8 414.3,725.2 415.3,725.6 416.3,725.8 417.3,725.9 418.3,725.9 419.3,725.9 420.3,726.1 421.3,726.2 422.3,726.0 423.3,725.6 424.3,724.9 425.3,724.2 426.3,723.9 427.4,724.0 428.4,724.4 429.4,724.9 430.4,725.3 431.4,725.6 432.4,725.7 433.4,725.9 434.4,725.9 435.4,725.9 436.4,725.7 437.4,725.4 438.4,725.3 439.4,725.2 440.4,725.1 441.4,725.1 442.4,725.3 443.4,725.5 444.4,725.7 445.4,725.7 446.4,725.4 447.4,725.2 448.4,725.2 449.4,725.4 450.4,725.7 451.4,726.4 452.4,726.9 453.4,725.6 454.4,716.5 455.4,703.7 456.4,692.4 457.4,680.8 458.4,668.9 459.4,659.5 460.4,655.1 461.4,653.7 462.4,652.5 463.4,651.3 464.4,650.1 465.4,649.0 466.5,648.5 467.5,648.4 468.5,648.7 469.5,649.0 470.5,649.2 471.5,649.3 472.5,649.2 473.5,649.2 474.5,649.2 475.5,649.2 476.5,649.1 477.5,648.9 478.5,648.6 479.5,648.4 480.5,648.3 481.5,648.4 482.5,648.7 483.5,648.8 484.5,648.9 485.5,649.0 486.5,649.9 487.5,651.7 488.5,654.2 489.5,657.3 490.5,660.9 491.5,665.0 492.5,673.7 493.5,685.8 494.5,697.8 495.5,706.0 496.5,711.7 497.5,716.8 498.5,720.3 499.5,721.8 500.5,722.0 501.5,722.1 502.5,722.2 503.5,722.4 504.6,722.5 505.6,722.5 506.6,722.3 507.6,722.2 508.6,722.3 509.6,722.5 510.6,722.5 511.6,722.5 512.6,722.4 513.6,722.2 514.6,722.0 515.6,721.9 516.6,722.0 517.6,722.4 518.6,722.7 519.6,722.9 520.6,722.9 521.6,722.6 522.6,722.2 523.6,721.9 524.6,721.9 525.6,722.2 526.6,722.4 527.6,722.4 528.6,722.4 529.6,722.6 530.6,722.9 531.6,723.1 532.6,723.0 533.6,722.7 534.6,722.4 535.6,722.5 536.6,722.7 537.6,722.9 538.6,723.1 539.6,723.2 540.6,723.1 541.6,722.9 542.6,722.8 543.7,722.8 544.7,723.0 545.7,723.2 546.7,723.3 547.7,723.3 548.7,723.2 549.7,723.1 550.7,723.1 551.7,723.0 552.7,722.9 553.7,722.8 554.7,722.7 555.7,722.6 556.7,722.5 557.7,722.5 558.7,722.4 559.7,722.5 560.7,722.7 561.7,722.9 562.7,723.1 563.7,723.1 564.7,722.9 565.7,722.7 566.7,722.8 567.7,723.0 568.7,723.2 569.7,723.3 570.7,723.2 571.7,723.0" fill="none" stroke="#1f6fce" stroke-width="3.4" stroke-linejoin="round" stroke-linecap="round"/>
<path d="M138.6,737.8 139.6,737.8 140.6,738.0 141.6,738.1 142.6,738.2 143.6,738.2 144.6,738.3 145.6,738.2 146.6,738.1 147.6,738.1 148.6,738.3 149.6,738.5 150.6,738.5 151.6,738.4 152.6,738.4 153.6,738.6 154.6,738.8 155.6,739.0 156.6,739.1 157.6,739.1 158.7,739.1 159.7,739.0 160.7,739.1 161.7,739.1 162.7,739.0 163.7,738.8 164.7,738.8 165.7,738.9 166.7,739.0 167.7,739.1 168.7,739.6 169.7,740.1 170.7,739.3 171.7,737.0 172.7,736.0 173.7,735.8 174.7,735.5 175.7,735.0 176.7,734.5 177.7,734.1 178.7,734.1 179.7,734.3 180.7,734.4 181.7,734.2 182.7,734.0 183.7,733.8 184.7,733.7 185.7,733.6 186.7,733.4 187.7,733.2 188.7,733.2 189.7,733.2 190.7,733.2 191.7,733.1 192.7,732.8 193.7,732.6 194.7,732.6 195.7,732.8 196.8,733.0 197.8,733.2 198.8,733.3 199.8,733.1 200.8,732.9 201.8,732.8 202.8,732.8 203.8,733.0 204.8,733.0 205.8,732.8 206.8,732.4 207.8,732.1 208.8,731.8 209.8,731.6 210.8,731.6 211.8,731.7 212.8,731.8 213.8,731.7 214.8,731.6 215.8,731.4 216.8,731.3 217.8,731.3 218.8,731.2 219.8,731.2 220.8,731.3 221.8,731.6 222.8,731.7 223.8,731.8 224.8,731.7 225.8,731.5 226.8,731.5 227.8,731.6 228.8,731.9 229.8,732.1 230.8,732.3 231.8,732.3 232.8,732.2 233.8,731.9 234.8,731.6 235.9,731.5 236.9,731.5 237.9,731.6 238.9,731.6 239.9,731.7 240.9,732.7 241.9,733.3 242.9,732.8 243.9,731.9 244.9,730.8 245.9,729.5 246.9,728.0 247.9,725.9 248.9,721.8 249.9,715.5 250.9,709.0 251.9,702.6 252.9,694.9 253.9,688.9 254.9,687.4 255.9,687.3 256.9,687.3 257.9,687.2 258.9,686.9 259.9,686.6 260.9,686.4 261.9,686.6 262.9,686.9 263.9,687.2 264.9,687.4 265.9,687.8 266.9,688.3 267.9,689.0 268.9,689.7 269.9,690.5 270.9,691.3 271.9,692.3 272.9,693.1 274.0,693.9 275.0,694.7 276.0,695.7 277.0,696.7 278.0,697.8 279.0,698.9 280.0,700.0 281.0,700.9 282.0,701.9 283.0,702.7 284.0,703.3 285.0,703.7 286.0,704.1 287.0,704.4 288.0,704.7 289.0,705.0 290.0,705.2 291.0,705.4 292.0,705.5 293.0,705.7 294.0,706.2 295.0,707.0 296.0,707.9 297.0,708.6 298.0,709.0 299.0,709.2 300.0,709.4 301.0,709.6 302.0,709.7 303.0,709.7 304.0,709.5 305.0,709.4 306.0,709.4 307.0,709.5 308.0,709.7 309.0,710.2 310.0,710.6 311.0,710.9 312.1,711.2 313.1,711.3 314.1,711.3 315.1,711.3 316.1,711.4 317.1,711.5 318.1,711.6 319.1,711.7 320.1,711.9 321.1,712.4 322.1,713.5 323.1,714.8 324.1,716.2 325.1,717.6 326.1,718.8 327.1,719.8 328.1,720.5 329.1,721.2 330.1,722.1 331.1,723.2 332.1,724.2 333.1,724.9 334.1,725.3 335.1,725.5 336.1,725.8 337.1,726.2 338.1,726.5 339.1,726.8 340.1,726.9 341.1,727.0 342.1,727.2 343.1,727.4 344.1,727.6 345.1,727.9 346.1,728.2 347.1,728.4 348.1,728.5 349.1,728.4 350.1,728.2 351.2,727.9 352.2,727.5 353.2,727.3 354.2,727.2 355.2,727.2 356.2,727.4 357.2,727.4 358.2,727.3 359.2,726.9 360.2,726.5 361.2,726.3 362.2,726.4 363.2,726.5 364.2,726.7 365.2,726.8 366.2,726.8 367.2,726.6 368.2,726.4 369.2,726.2 370.2,726.2 371.2,726.2 372.2,726.3 373.2,726.5 374.2,726.6 375.2,726.6 376.2,726.2 377.2,725.7 378.2,725.5 379.2,725.5 380.2,725.6 381.2,725.6 382.2,725.6 383.2,725.6 384.2,725.5 385.2,725.4 386.2,725.5 387.2,727.2 388.2,730.2 389.3,733.2 390.3,735.9 391.3,738.8 392.3,740.3 393.3,740.3 394.3,740.3 395.3,740.1 396.3,739.7 397.3,735.5 398.3,729.6 399.3,726.5 400.3,726.3 401.3,726.3 402.3,726.2 403.3,726.1 404.3,726.0 405.3,725.9 406.3,725.8 407.3,725.7 408.3,725.6 409.3,725.6 410.3,725.7 411.3,725.8 412.3,725.8 413.3,725.8 414.3,725.8 415.3,725.6 416.3,725.4 417.3,725.2 418.3,725.1 419.3,725.1 420.3,725.4 421.3,725.8 422.3,726.2 423.3,726.3 424.3,726.1 425.3,725.8 426.3,725.6 427.4,725.5 428.4,725.6 429.4,725.6 430.4,725.6 431.4,725.5 432.4,725.4 433.4,725.2 434.4,725.2 435.4,725.3 436.4,725.4 437.4,725.5 438.4,725.4 439.4,725.1 440.4,724.8 441.4,724.6 442.4,724.6 443.4,724.6 444.4,724.6 445.4,724.7 446.4,724.6 447.4,724.7 448.4,724.8 449.4,725.0 450.4,725.3 451.4,726.1 452.4,726.8 453.4,725.2 454.4,715.7 455.4,702.7 456.4,691.6 457.4,680.6 458.4,669.2 459.4,660.1 460.4,655.8 461.4,654.6 462.4,654.0 463.4,653.5 464.4,653.0 465.4,652.6 466.5,652.4 467.5,652.3 468.5,652.3 469.5,652.4 470.5,652.6 471.5,652.7 472.5,652.7 473.5,652.5 474.5,652.3 475.5,652.1 476.5,652.1 477.5,652.2 478.5,652.4 479.5,652.6 480.5,652.8 481.5,652.9 482.5,652.8 483.5,652.7 484.5,652.6 485.5,652.6 486.5,653.4 487.5,655.0 488.5,657.0 489.5,659.3 490.5,661.7 491.5,664.4 492.5,669.3 493.5,676.3 494.5,684.2 495.5,692.1 496.5,699.4 497.5,705.4 498.5,710.9 499.5,716.3 500.5,720.4 501.5,722.3 502.5,722.4 503.5,722.4 504.6,722.6 505.6,723.0 506.6,723.5 507.6,723.9 508.6,724.1 509.6,724.2 510.6,724.1 511.6,723.8 512.6,723.3 513.6,723.0 514.6,722.9 515.6,723.1 516.6,723.7 517.6,724.2 518.6,724.3 519.6,724.2 520.6,723.9 521.6,723.8 522.6,723.9 523.6,724.0 524.6,724.0 525.6,724.0 526.6,723.8 527.6,723.8 528.6,723.8 529.6,723.9 530.6,724.1 531.6,724.4 532.6,724.8 533.6,724.9 534.6,724.7 535.6,724.2 536.6,723.9 537.6,723.7 538.6,723.5 539.6,723.5 540.6,723.8 541.6,724.3 542.6,724.5 543.7,724.5 544.7,724.3 545.7,724.1 546.7,724.0 547.7,724.1 548.7,724.1 549.7,724.1 550.7,724.1 551.7,724.2 552.7,724.2 553.7,724.2 554.7,724.0 555.7,723.7 556.7,723.5 557.7,723.5 558.7,723.6 559.7,723.5 560.7,723.4 561.7,723.5 562.7,723.7 563.7,723.9 564.7,723.9 565.7,723.9 566.7,723.7 567.7,723.6 568.7,723.6 569.7,723.7 570.7,723.9 571.7,724.1" fill="none" stroke="#fd7d27" stroke-width="3.4" stroke-linejoin="round" stroke-linecap="round"/>
<path d="M138.6,738.4 139.6,738.3 140.6,738.2 141.6,738.2 142.6,738.3 143.6,738.5 144.6,738.6 145.6,738.6 146.6,738.5 147.6,738.2 148.6,738.0 149.6,737.9 150.6,737.9 151.6,738.0 152.6,738.1 153.6,738.1 154.6,738.0 155.6,738.1 156.6,738.2 157.6,738.3 158.7,738.5 159.7,738.7 160.7,738.8 161.7,738.8 162.7,738.8 163.7,738.9 164.7,739.1 165.7,739.3 166.7,739.2 167.7,739.1 168.7,739.5 169.7,739.9 170.7,738.8 171.7,735.9 172.7,734.5 173.7,734.3 174.7,734.3 175.7,734.3 176.7,734.3 177.7,734.4 178.7,734.5 179.7,734.4 180.7,734.1 181.7,733.9 182.7,733.8 183.7,733.9 184.7,734.1 185.7,734.2 186.7,734.0 187.7,733.6 188.7,733.1 189.7,733.0 190.7,733.1 191.7,733.4 192.7,733.6 193.7,733.6 194.7,733.4 195.7,733.0 196.8,732.8 197.8,732.7 198.8,732.7 199.8,732.7 200.8,732.7 201.8,732.5 202.8,732.4 203.8,732.4 204.8,732.5 205.8,732.6 206.8,732.6 207.8,732.6 208.8,732.6 209.8,732.7 210.8,732.9 211.8,732.9 212.8,732.6 213.8,732.2 214.8,731.8 215.8,731.7 216.8,731.8 217.8,731.9 218.8,731.9 219.8,731.9 220.8,731.8 221.8,731.8 222.8,731.8 223.8,731.8 224.8,731.7 225.8,731.5 226.8,731.4 227.8,731.6 228.8,731.9 229.8,732.0 230.8,731.8 231.8,731.5 232.8,731.3 233.8,731.3 234.8,731.3 235.9,731.3 236.9,731.3 237.9,731.3 238.9,731.2 239.9,731.1 240.9,731.0 241.9,731.0 242.9,731.0 243.9,731.0 244.9,731.0 245.9,730.1 246.9,728.5 247.9,725.8 248.9,721.0 249.9,715.2 250.9,709.1 251.9,702.9 252.9,695.3 253.9,689.4 254.9,687.7 255.9,687.1 256.9,686.6 257.9,686.2 258.9,685.9 259.9,685.8 260.9,686.0 261.9,686.4 262.9,686.8 263.9,687.3 264.9,687.9 265.9,688.6 266.9,689.5 267.9,690.4 268.9,691.0 269.9,691.5 270.9,692.1 271.9,692.9 272.9,693.6 274.0,694.3 275.0,695.1 276.0,696.0 277.0,697.1 278.0,698.1 279.0,698.9 280.0,699.5 281.0,700.0 282.0,700.6 283.0,701.3 284.0,702.0 285.0,702.6 286.0,703.2 287.0,703.8 288.0,704.3 289.0,704.7 290.0,704.9 291.0,705.2 292.0,705.5 293.0,705.8 294.0,706.1 295.0,706.5 296.0,707.0 297.0,707.5 298.0,707.9 299.0,708.2 300.0,708.4 301.0,708.5 302.0,708.6 303.0,708.9 304.0,709.2 305.0,709.5 306.0,709.8 307.0,710.1 308.0,710.5 309.0,710.8 310.0,711.0 311.0,711.1 312.1,711.2 313.1,711.2 314.1,711.3 315.1,711.3 316.1,711.5 317.1,711.7 318.1,711.8 319.1,711.8 320.1,711.7 321.1,711.7 322.1,711.7 323.1,711.7 324.1,711.7 325.1,711.8 326.1,712.2 327.1,712.7 328.1,713.3 329.1,714.0 330.1,714.6 331.1,714.9 332.1,715.0 333.1,715.0 334.1,715.1 335.1,715.5 336.1,716.1 337.1,716.8 338.1,717.7 339.1,718.6 340.1,719.5 341.1,720.2 342.1,721.0 343.1,722.0 344.1,723.1 345.1,724.4 346.1,725.7 347.1,726.7 348.1,727.2 349.1,727.2 350.1,727.3 351.2,727.4 352.2,727.5 353.2,727.6 354.2,727.6 355.2,727.6 356.2,727.7 357.2,727.8 358.2,727.8 359.2,727.7 360.2,727.6 361.2,727.5 362.2,727.4 363.2,727.2 364.2,727.0 365.2,726.7 366.2,726.6 367.2,726.6 368.2,726.7 369.2,726.8 370.2,726.7 371.2,726.4 372.2,726.0 373.2,725.7 374.2,725.4 375.2,725.3 376.2,725.2 377.2,725.4 378.2,725.7 379.2,725.9 380.2,726.1 381.2,726.3 382.2,726.3 383.2,726.3 384.2,726.3 385.2,726.4 386.2,726.5 387.2,727.9 388.2,730.6 389.3,733.4 390.3,736.0 391.3,738.6 392.3,739.9 393.3,739.8 394.3,739.7 395.3,739.6 396.3,739.4 397.3,735.5 398.3,729.9 399.3,726.5 400.3,725.9 401.3,725.3 402.3,724.9 403.3,724.9 404.3,724.9 405.3,725.0 406.3,725.0 407.3,725.0 408.3,724.9 409.3,724.9 410.3,725.0 411.3,725.1 412.3,725.1 413.3,725.1 414.3,724.9 415.3,724.6 416.3,724.4 417.3,724.3 418.3,724.3 419.3,724.3 420.3,724.3 421.3,724.3 422.3,724.2 423.3,724.0 424.3,723.9 425.3,723.8 426.3,723.6 427.4,723.5 428.4,723.5 429.4,723.7 430.4,724.1 431.4,724.5 432.4,724.8 433.4,724.8 434.4,724.8 435.4,724.6 436.4,724.4 437.4,724.2 438.4,724.0 439.4,723.8 440.4,723.6 441.4,723.4 442.4,723.3 443.4,723.3 444.4,723.4 445.4,723.5 446.4,723.7 447.4,723.8 448.4,723.8 449.4,723.7 450.4,723.4 451.4,723.2 452.4,723.1 453.4,721.3 454.4,711.2 455.4,699.1 456.4,693.4 457.4,691.6 458.4,690.3 459.4,689.5 460.4,689.3 461.4,689.2 462.4,688.9 463.4,688.5 464.4,687.9 465.4,687.3 466.5,686.8 467.5,686.4 468.5,686.2 469.5,686.3 470.5,686.5 471.5,686.5 472.5,686.4 473.5,686.3 474.5,686.3 475.5,686.2 476.5,686.1 477.5,686.1 478.5,686.3 479.5,686.8 480.5,687.6 481.5,688.2 482.5,688.7 483.5,688.7 484.5,688.6 485.5,688.3 486.5,688.2 487.5,688.3 488.5,688.6 489.5,689.3 490.5,689.9 491.5,690.4 492.5,690.5 493.5,690.5 494.5,690.5 495.5,690.9 496.5,691.5 497.5,692.1 498.5,692.4 499.5,692.4 500.5,692.4 501.5,692.4 502.5,692.6 503.5,692.9 504.6,693.2 505.6,693.5 506.6,693.6 507.6,693.7 508.6,693.7 509.6,694.0 510.6,694.2 511.6,694.5 512.6,694.6 513.6,694.8 514.6,694.9 515.6,695.2 516.6,695.7 517.6,696.4 518.6,697.0 519.6,697.5 520.6,697.8 521.6,698.1 522.6,698.4 523.6,698.7 524.6,699.1 525.6,699.5 526.6,699.9 527.6,700.4 528.6,700.9 529.6,701.3 530.6,701.9 531.6,702.6 532.6,703.4 533.6,704.5 534.6,706.2 535.6,708.2 536.6,710.4 537.6,712.4 538.6,714.1 539.6,715.6 540.6,717.2 541.6,718.4 542.6,719.0 543.7,719.5 544.7,720.1 545.7,720.6 546.7,720.9 547.7,721.1 548.7,721.0 549.7,720.7 550.7,720.5 551.7,720.4 552.7,720.5 553.7,720.6 554.7,720.8 555.7,721.0 556.7,721.0 557.7,721.0 558.7,721.0 559.7,721.1 560.7,721.3 561.7,721.2 562.7,720.9 563.7,720.8 564.7,720.9 565.7,721.3 566.7,721.3 567.7,721.1 568.7,720.7 569.7,720.5 570.7,720.4 571.7,720.4" fill="none" stroke="#2b8a2b" stroke-width="3.4" stroke-linejoin="round" stroke-linecap="round"/>
<path d="M138.6,738.9 139.6,738.9 140.6,738.7 141.6,738.5 142.6,738.3 143.6,738.3 144.6,738.5 145.6,738.7 146.6,738.7 147.6,738.8 148.6,739.0 149.6,739.0 150.6,738.9 151.6,738.5 152.6,738.1 153.6,737.9 154.6,737.9 155.6,738.2 156.6,738.4 157.6,738.7 158.7,738.8 159.7,738.9 160.7,738.9 161.7,738.9 162.7,738.7 163.7,738.6 164.7,738.4 165.7,738.3 166.7,738.3 167.7,738.5 168.7,738.7 169.7,738.8 170.7,739.5 171.7,739.9 172.7,738.1 173.7,735.9 174.7,735.4 175.7,735.2 176.7,735.1 177.7,735.0 178.7,734.8 179.7,734.4 180.7,734.0 181.7,734.0 182.7,734.3 183.7,734.5 184.7,734.5 185.7,734.3 186.7,734.1 187.7,733.8 188.7,733.6 189.7,733.3 190.7,733.3 191.7,733.3 192.7,733.2 193.7,733.1 194.7,733.0 195.7,733.0 196.8,733.0 197.8,732.7 198.8,732.4 199.8,732.0 200.8,731.6 201.8,731.5 202.8,731.6 203.8,731.8 204.8,732.0 205.8,732.1 206.8,732.1 207.8,732.1 208.8,732.1 209.8,732.3 210.8,732.5 211.8,732.6 212.8,732.3 213.8,731.7 214.8,731.2 215.8,731.0 216.8,731.1 217.8,731.4 218.8,731.6 219.8,731.8 220.8,731.8 221.8,731.7 222.8,731.5 223.8,731.4 224.8,731.3 225.8,731.2 226.8,731.1 227.8,730.9 228.8,730.9 229.8,731.1 230.8,731.3 231.8,731.6 232.8,731.8 233.8,731.9 234.8,731.8 235.9,731.7 236.9,731.6 237.9,731.5 238.9,731.3 239.9,731.2 240.9,731.3 241.9,731.3 242.9,731.2 243.9,731.0 244.9,730.8 245.9,729.7 246.9,728.0 247.9,725.4 248.9,720.9 249.9,715.2 250.9,709.3 251.9,703.1 252.9,695.7 253.9,689.9 254.9,688.4 255.9,688.0 256.9,687.7 257.9,687.4 258.9,687.3 259.9,687.3 260.9,687.4 261.9,687.7 262.9,687.9 263.9,688.3 264.9,688.7 265.9,689.0 266.9,689.4 267.9,689.8 268.9,690.2 269.9,690.8 270.9,691.6 271.9,692.6 272.9,693.6 274.0,694.5 275.0,695.3 276.0,696.1 277.0,696.9 278.0,697.8 279.0,698.7 280.0,699.8 281.0,700.9 282.0,701.9 283.0,702.6 284.0,702.9 285.0,703.2 286.0,703.6 287.0,704.3 288.0,704.9 289.0,705.6 290.0,706.1 291.0,706.6 292.0,706.9 293.0,707.0 294.0,706.9 295.0,706.9 296.0,707.1 297.0,707.5 298.0,707.8 299.0,708.0 300.0,708.2 301.0,708.5 302.0,709.0 303.0,709.5 304.0,709.9 305.0,710.1 306.0,710.2 307.0,710.2 308.0,710.2 309.0,710.2 310.0,710.1 311.0,710.0 312.1,710.1 313.1,710.4 314.1,710.6 315.1,710.7 316.1,710.7 317.1,710.7 318.1,710.5 319.1,710.3 320.1,710.4 321.1,710.8 322.1,711.3 323.1,711.8 324.1,712.2 325.1,712.3 326.1,712.2 327.1,712.4 328.1,712.8 329.1,713.4 330.1,714.0 331.1,714.4 332.1,714.7 333.1,715.0 334.1,715.6 335.1,716.1 336.1,716.6 337.1,717.0 338.1,717.2 339.1,717.4 340.1,717.9 341.1,718.7 342.1,719.7 343.1,721.0 344.1,722.2 345.1,723.5 346.1,724.7 347.1,725.7 348.1,726.4 349.1,726.8 350.1,727.1 351.2,727.3 352.2,727.3 353.2,727.4 354.2,727.4 355.2,727.3 356.2,727.1 357.2,727.0 358.2,727.0 359.2,727.1 360.2,727.3 361.2,727.5 362.2,727.6 363.2,727.7 364.2,727.6 365.2,727.2 366.2,726.7 367.2,726.4 368.2,726.4 369.2,726.7 370.2,726.9 371.2,727.0 372.2,726.9 373.2,726.7 374.2,726.6 375.2,726.5 376.2,726.5 377.2,726.3 378.2,726.0 379.2,725.5 380.2,725.1 381.2,724.8 382.2,724.7 383.2,724.7 384.2,724.9 385.2,725.1 386.2,725.4 387.2,728.4 388.2,732.9 389.3,736.4 390.3,739.7 391.3,740.3 392.3,740.3 393.3,740.3 394.3,740.3 395.3,736.7 396.3,728.8 397.3,722.3 398.3,720.9 399.3,720.3 400.3,720.1 401.3,719.9 402.3,719.6 403.3,719.4 404.3,719.1 405.3,718.9 406.3,718.7 407.3,718.5 408.3,718.3 409.3,718.1 410.3,717.9 411.3,717.7 412.3,717.5 413.3,717.4 414.3,717.3 415.3,717.1 416.3,716.9 417.3,716.8 418.3,716.9 419.3,717.0 420.3,717.1 421.3,717.0 422.3,716.8 423.3,716.4 424.3,716.0 425.3,715.8 426.3,715.9 427.4,716.0 428.4,716.2 429.4,716.5 430.4,716.7 431.4,716.8 432.4,716.8 433.4,716.7 434.4,716.6 435.4,716.8 436.4,717.3 437.4,717.8 438.4,718.2 439.4,718.4 440.4,718.2 441.4,718.0 442.4,717.8 443.4,717.7 444.4,717.7 445.4,717.8 446.4,717.9 447.4,718.0 448.4,718.1 449.4,718.2 450.4,718.4 451.4,719.7 452.4,721.1 453.4,721.1 454.4,720.0 455.4,718.3 456.4,716.5 457.4,715.1 458.4,714.7 459.4,714.6 460.4,714.6 461.4,714.6 462.4,714.6 463.4,714.5 464.4,714.3 465.4,714.1 466.5,714.0 467.5,714.1 468.5,714.4 469.5,714.7 470.5,714.6 471.5,714.3 472.5,713.8 473.5,713.3 474.5,713.1 475.5,713.0 476.5,713.1 477.5,713.2 478.5,713.4 479.5,713.6 480.5,713.9 481.5,714.3 482.5,714.6 483.5,714.8 484.5,714.7 485.5,714.6 486.5,714.5 487.5,714.3 488.5,714.1 489.5,713.9 490.5,714.0 491.5,714.2 492.5,714.3 493.5,714.3 494.5,714.4 495.5,714.7 496.5,715.1 497.5,715.4 498.5,715.6 499.5,715.5 500.5,715.4 501.5,715.2 502.5,715.0 503.5,714.8 504.6,714.6 505.6,714.4 506.6,714.3 507.6,714.2 508.6,714.2 509.6,714.4 510.6,714.8 511.6,715.3 512.6,715.9 513.6,716.2 514.6,716.1 515.6,715.9 516.6,715.8 517.6,715.8 518.6,715.9 519.6,715.8 520.6,715.8 521.6,715.7 522.6,715.5 523.6,715.3 524.6,715.3 525.6,715.4 526.6,715.7 527.6,715.9 528.6,716.1 529.6,716.3 530.6,716.4 531.6,716.3 532.6,716.2 533.6,716.2 534.6,716.1 535.6,716.1 536.6,716.2 537.6,716.3 538.6,716.5 539.6,716.7 540.6,717.0 541.6,717.2 542.6,717.3 543.7,717.4 544.7,717.6 545.7,717.7 546.7,717.6 547.7,717.5 548.7,717.6 549.7,717.8 550.7,718.0 551.7,718.2 552.7,718.5 553.7,718.7 554.7,718.9 555.7,719.0 556.7,718.9 557.7,718.8 558.7,719.0 559.7,719.3 560.7,719.6 561.7,719.7 562.7,719.8 563.7,719.9 564.7,719.9 565.7,719.8 566.7,719.8 567.7,720.0 568.7,720.3 569.7,720.4 570.7,720.4 571.7,720.5" fill="none" stroke="#7b2fb3" stroke-width="3.4" stroke-linejoin="round" stroke-linecap="round"/>
<path d="M138.6,739.2 139.6,738.9 140.6,738.6 141.6,738.5 142.6,738.5 143.6,738.5 144.6,738.4 145.6,738.3 146.6,738.3 147.6,738.4 148.6,738.6 149.6,738.5 150.6,738.2 151.6,737.9 152.6,737.7 153.6,737.9 154.6,738.4 155.6,738.9 156.6,739.2 157.6,738.9 158.7,738.4 159.7,738.0 160.7,737.9 161.7,738.1 162.7,738.3 163.7,738.3 164.7,738.0 165.7,737.9 166.7,738.0 167.7,738.7 168.7,739.4 169.7,739.4 170.7,739.2 171.7,738.8 172.7,736.8 173.7,734.8 174.7,734.2 175.7,733.9 176.7,734.0 177.7,734.1 178.7,734.2 179.7,734.2 180.7,734.0 181.7,733.6 182.7,733.1 183.7,732.9 184.7,733.2 185.7,733.7 186.7,733.8 187.7,733.5 188.7,733.2 189.7,733.0 190.7,732.9 191.7,732.8 192.7,732.6 193.7,732.5 194.7,732.8 195.7,733.1 196.8,733.3 197.8,733.2 198.8,733.0 199.8,733.0 200.8,733.0 201.8,732.8 202.8,732.6 203.8,732.5 204.8,732.3 205.8,732.1 206.8,732.0 207.8,732.2 208.8,732.4 209.8,732.3 210.8,732.1 211.8,731.7 212.8,731.3 213.8,731.1 214.8,731.1 215.8,731.2 216.8,731.4 217.8,731.5 218.8,731.5 219.8,731.5 220.8,731.7 221.8,731.9 222.8,731.9 223.8,731.9 224.8,731.8 225.8,731.8 226.8,732.0 227.8,732.3 228.8,732.6 229.8,732.7 230.8,732.5 231.8,732.1 232.8,731.7 233.8,731.5 234.8,731.4 235.9,731.5 236.9,731.4 237.9,731.2 238.9,731.0 239.9,731.0 240.9,731.3 241.9,731.4 242.9,731.4 243.9,731.3 244.9,731.0 245.9,729.7 246.9,727.7 247.9,725.0 248.9,720.4 249.9,714.6 250.9,708.6 251.9,702.5 252.9,695.5 253.9,689.9 254.9,688.1 255.9,687.3 256.9,686.7 257.9,686.2 258.9,686.0 259.9,685.9 260.9,685.9 261.9,686.2 262.9,686.6 263.9,687.2 264.9,687.9 265.9,688.5 266.9,689.0 267.9,689.6 268.9,690.5 269.9,691.4 270.9,692.3 271.9,693.1 272.9,693.8 274.0,694.5 275.0,695.3 276.0,696.2 277.0,697.1 278.0,698.0 279.0,698.8 280.0,699.4 281.0,700.0 282.0,700.8 283.0,701.6 284.0,702.3 285.0,702.8 286.0,703.1 287.0,703.4 288.0,703.8 289.0,704.3 290.0,704.9 291.0,705.5 292.0,706.1 293.0,706.6 294.0,707.0 295.0,707.3 296.0,707.4 297.0,707.5 298.0,707.5 299.0,707.6 300.0,707.8 301.0,708.3 302.0,708.7 303.0,708.9 304.0,709.0 305.0,708.9 306.0,709.0 307.0,709.2 308.0,709.6 309.0,710.0 310.0,710.1 311.0,710.0 312.1,710.0 313.1,710.1 314.1,710.4 315.1,710.8 316.1,711.1 317.1,711.3 318.1,711.2 319.1,710.9 320.1,710.6 321.1,710.6 322.1,710.8 323.1,711.2 324.1,711.6 325.1,712.0 326.1,712.2 327.1,712.3 328.1,712.2 329.1,712.2 330.1,712.5 331.1,713.0 332.1,713.6 333.1,713.9 334.1,714.2 335.1,714.7 336.1,715.2 337.1,715.7 338.1,716.0 339.1,716.6 340.1,717.5 341.1,718.5 342.1,719.5 343.1,720.4 344.1,721.3 345.1,722.4 346.1,723.7 347.1,724.8 348.1,725.6 349.1,726.0 350.1,726.3 351.2,726.5 352.2,726.5 353.2,726.5 354.2,726.4 355.2,726.6 356.2,726.8 357.2,727.1 358.2,727.4 359.2,727.6 360.2,727.7 361.2,727.6 362.2,727.3 363.2,727.0 364.2,726.9 365.2,726.9 366.2,726.8 367.2,726.8 368.2,726.8 369.2,726.8 370.2,726.7 371.2,726.5 372.2,726.1 373.2,725.8 374.2,725.5 375.2,725.2 376.2,725.0 377.2,725.0 378.2,725.5 379.2,726.0 380.2,726.4 381.2,726.4 382.2,726.1 383.2,725.7 384.2,725.4 385.2,725.2 386.2,725.0 387.2,725.1 388.2,727.1 389.3,730.7 390.3,734.4 391.3,738.6 392.3,740.3 393.3,740.3 394.3,740.3 395.3,739.7 396.3,739.1 397.3,734.3 398.3,729.1 399.3,727.4 400.3,726.1 401.3,724.7 402.3,723.4 403.3,722.1 404.3,721.1 405.3,720.4 406.3,719.7 407.3,719.2 408.3,718.7 409.3,718.4 410.3,718.3 411.3,718.1 412.3,717.6 413.3,717.1 414.3,716.5 415.3,716.0 416.3,715.7 417.3,715.8 418.3,716.2 419.3,716.5 420.3,716.6 421.3,716.3 422.3,715.8 423.3,715.4 424.3,715.4 425.3,715.6 426.3,715.7 427.4,715.7 428.4,715.5 429.4,715.3 430.4,715.1 431.4,715.2 432.4,715.4 433.4,715.6 434.4,715.6 435.4,715.6 436.4,715.8 437.4,716.2 438.4,716.6 439.4,717.0 440.4,717.3 441.4,717.6 442.4,717.9 443.4,718.2 444.4,718.6 445.4,718.8 446.4,718.9 447.4,718.9 448.4,718.9 449.4,719.0 450.4,719.0 451.4,720.6 452.4,724.2 453.4,728.2 454.4,733.4 455.4,737.2 456.4,737.0 457.4,734.5 458.4,731.4 459.4,729.0 460.4,727.3 461.4,725.4 462.4,724.0 463.4,723.4 464.4,723.1 465.4,723.0 466.5,723.0 467.5,723.2 468.5,723.6 469.5,723.9 470.5,724.0 471.5,723.9 472.5,723.8 473.5,723.7 474.5,723.7 475.5,723.8 476.5,723.9 477.5,724.1 478.5,724.4 479.5,724.7 480.5,724.9 481.5,724.9 482.5,724.9 483.5,724.9 484.5,724.8 485.5,724.5 486.5,724.1 487.5,723.8 488.5,723.9 489.5,724.5 490.5,725.4 491.5,726.1 492.5,726.3 493.5,726.2 494.5,726.0 495.5,725.7 496.5,725.7 497.5,725.7 498.5,725.6 499.5,725.3 500.5,724.9 501.5,724.7 502.5,724.7 503.5,724.9 504.6,725.0 505.6,725.0 506.6,725.0 507.6,725.2 508.6,725.3 509.6,725.5 510.6,725.4 511.6,725.1 512.6,724.8 513.6,724.7 514.6,724.8 515.6,724.9 516.6,725.0 517.6,725.1 518.6,725.2 519.6,725.3 520.6,725.2 521.6,725.3 522.6,725.5 523.6,725.9 524.6,726.0 525.6,725.8 526.6,725.7 527.6,725.7 528.6,725.7 529.6,725.5 530.6,725.4 531.6,725.4 532.6,725.4 533.6,725.3 534.6,725.3 535.6,725.4 536.6,725.8 537.6,726.2 538.6,726.4 539.6,726.3 540.6,726.3 541.6,726.3 542.6,726.3 543.7,726.4 544.7,726.3 545.7,726.3 546.7,726.3 547.7,726.3 548.7,726.4 549.7,726.6 550.7,726.7 551.7,726.8 552.7,726.8 553.7,726.8 554.7,726.7 555.7,726.6 556.7,726.5 557.7,726.5 558.7,726.6 559.7,726.8 560.7,727.0 561.7,726.9 562.7,726.6 563.7,726.4 564.7,726.4 565.7,726.4 566.7,726.6 567.7,726.9 568.7,727.2 569.7,727.2 570.7,727.0 571.7,726.8" fill="none" stroke="#e60000" stroke-width="3.4" stroke-linejoin="round" stroke-linecap="round"/>
<path d="M148.1,601.6 H138.6 V740.3 H571.4" fill="none" stroke="#000" stroke-width="3.3" stroke-linejoin="round"/>
<line x1="138.6" y1="694.1" x2="148.1" y2="694.1" stroke="#000" stroke-width="3.3"/>
<line x1="138.6" y1="647.8" x2="148.1" y2="647.8" stroke="#000" stroke-width="3.3"/>
<line x1="221.1" y1="740.3" x2="221.1" y2="730.8" stroke="#000" stroke-width="3.3"/>
<line x1="303.6" y1="740.3" x2="303.6" y2="730.8" stroke="#000" stroke-width="3.3"/>
<line x1="386.1" y1="740.3" x2="386.1" y2="730.8" stroke="#000" stroke-width="3.3"/>
<line x1="468.6" y1="740.3" x2="468.6" y2="730.8" stroke="#000" stroke-width="3.3"/>
<line x1="551.1" y1="740.3" x2="551.1" y2="730.8" stroke="#000" stroke-width="3.3"/>
<text x="109.3" y="749.8" font-family='"Liberation Sans", sans-serif' font-size="27" text-anchor="end">0</text>
<text x="109.3" y="703.6" font-family='"Liberation Sans", sans-serif' font-size="27" text-anchor="end">200</text>
<text x="109.3" y="657.3" font-family='"Liberation Sans", sans-serif' font-size="27" text-anchor="end">400</text>
<text x="109.3" y="611.1" font-family='"Liberation Sans", sans-serif' font-size="27" text-anchor="end">600</text>
<text x="138.6" y="788.0" font-family='"Liberation Sans", sans-serif' font-size="27" text-anchor="middle">1.5</text>
<text x="221.1" y="788.0" font-family='"Liberation Sans", sans-serif' font-size="27" text-anchor="middle">3.5</text>
<text x="303.6" y="788.0" font-family='"Liberation Sans", sans-serif' font-size="27" text-anchor="middle">5.5</text>
<text x="386.1" y="788.0" font-family='"Liberation Sans", sans-serif' font-size="27" text-anchor="middle">7.5</text>
<text x="468.6" y="788.0" font-family='"Liberation Sans", sans-serif' font-size="27" text-anchor="middle">9.5</text>
<text x="551.1" y="788.0" font-family='"Liberation Sans", sans-serif' font-size="27" text-anchor="middle">11.5</text>
<text x="158.4" y="621.8" font-family='"Liberation Sans", sans-serif' font-size="25.43" font-weight="bold" textLength="76.8" lengthAdjust="spacingAndGlyphs">C) AM</text>
<path d="M168.3,687.9 h3.5 v26.6 h5.55 L170.1,728.4 L162.8,714.5 h5.55 z" fill="#000"/>
<path d="M239.2,681.5 h3.5 v26.6 h5.55 L240.9,722.0 L233.6,708.1 h5.55 z" fill="#000"/>
<path d="M385.2,677.7 h3.5 v26.6 h5.55 L387.0,718.2 L379.7,704.3 h5.55 z" fill="#000"/>
<path d="M444.1,673.9 h3.5 v26.6 h5.55 L445.8,714.4 L438.5,700.5 h5.55 z" fill="#000"/>
<path d="M138.6,974.5 139.6,974.4 140.6,974.3 141.6,974.3 142.6,974.3 143.6,974.4 144.6,974.6 145.6,974.8 146.6,975.2 147.6,975.6 148.6,975.9 149.6,975.8 150.6,975.6 151.6,975.4 152.6,975.3 153.6,975.1 154.6,975.2 155.6,975.3 156.6,975.4 157.6,975.3 158.7,975.1 159.7,974.8 160.7,974.2 161.7,974.3 162.7,975.2 163.7,975.8 164.7,976.3 165.7,976.9 166.7,977.4 167.7,977.6 168.7,977.5 169.7,977.5 170.7,977.6 171.7,977.9 172.7,975.7 173.7,972.9 174.7,971.1 175.7,969.4 176.7,967.9 177.7,966.7 178.7,965.9 179.7,965.7 180.7,965.8 181.7,965.9 182.7,966.0 183.7,965.9 184.7,965.7 185.7,965.7 186.7,965.7 187.7,965.7 188.7,965.5 189.7,965.3 190.7,965.3 191.7,965.5 192.7,965.8 193.7,965.9 194.7,966.0 195.7,965.9 196.8,965.7 197.8,965.7 198.8,965.7 199.8,965.7 200.8,965.6 201.8,965.5 202.8,965.3 203.8,965.2 204.8,965.1 205.8,965.0 206.8,964.9 207.8,965.1 208.8,965.3 209.8,965.4 210.8,965.5 211.8,965.7 212.8,965.9 213.8,966.0 214.8,965.7 215.8,965.3 216.8,965.1 217.8,965.2 218.8,965.4 219.8,965.6 220.8,965.6 221.8,965.3 222.8,964.9 223.8,964.8 224.8,964.8 225.8,965.0 226.8,965.2 227.8,965.3 228.8,965.5 229.8,965.7 230.8,965.6 231.8,965.4 232.8,965.3 233.8,965.3 234.8,965.4 235.9,965.4 236.9,965.2 237.9,965.2 238.9,965.2 239.9,965.1 240.9,965.1 241.9,965.3 242.9,965.6 243.9,965.8 244.9,965.8 245.9,965.5 246.9,965.2 247.9,965.0 248.9,964.5 249.9,963.8 250.9,962.7 251.9,952.9 252.9,936.2 253.9,922.7 254.9,917.0 255.9,912.4 256.9,908.9 257.9,907.0 258.9,906.6 259.9,906.5 260.9,906.4 261.9,906.1 262.9,905.7 263.9,905.3 264.9,905.1 265.9,905.1 266.9,905.2 267.9,905.4 268.9,905.6 269.9,905.7 270.9,905.6 271.9,905.6 272.9,905.9 274.0,906.2 275.0,906.2 276.0,905.9 277.0,905.4 278.0,905.0 279.0,904.8 280.0,904.7 281.0,904.6 282.0,905.4 283.0,907.7 284.0,911.0 285.0,914.6 286.0,920.2 287.0,928.6 288.0,937.5 289.0,944.2 290.0,948.4 291.0,952.1 292.0,955.1 293.0,957.0 294.0,957.9 295.0,958.8 296.0,959.4 297.0,959.8 298.0,959.9 299.0,960.1 300.0,960.2 301.0,960.1 302.0,959.8 303.0,959.6 304.0,959.7 305.0,960.0 306.0,960.2 307.0,960.0 308.0,959.8 309.0,959.8 310.0,959.9 311.0,960.1 312.1,960.2 313.1,960.1 314.1,960.3 315.1,960.7 316.1,961.1 317.1,961.2 318.1,961.0 319.1,960.5 320.1,960.0 321.1,959.6 322.1,959.4 323.1,959.4 324.1,959.5 325.1,959.6 326.1,959.8 327.1,960.0 328.1,960.2 329.1,960.4 330.1,960.5 331.1,960.6 332.1,960.6 333.1,960.4 334.1,960.3 335.1,960.3 336.1,960.3 337.1,960.5 338.1,960.8 339.1,960.8 340.1,960.6 341.1,960.1 342.1,959.7 343.1,960.3 344.1,966.1 345.1,972.0 346.1,977.5 347.1,979.5 348.1,979.6 349.1,979.6 350.1,979.6 351.2,979.4 352.2,979.1 353.2,978.8 354.2,978.2 355.2,972.8 356.2,965.0 357.2,960.3 358.2,959.7 359.2,959.2 360.2,958.8 361.2,958.4 362.2,958.3 363.2,958.1 364.2,957.9 365.2,958.0 366.2,958.3 367.2,958.5 368.2,958.7 369.2,958.9 370.2,959.2 371.2,959.4 372.2,959.4 373.2,959.5 374.2,959.6 375.2,959.4 376.2,959.0 377.2,958.7 378.2,958.6 379.2,958.5 380.2,958.7 381.2,959.0 382.2,959.4 383.2,959.6 384.2,959.4 385.2,959.0 386.2,958.6 387.2,958.5 388.2,958.6 389.3,958.7 390.3,958.8 391.3,959.0 392.3,959.4 393.3,959.7 394.3,959.8 395.3,959.5 396.3,958.8 397.3,958.2 398.3,957.9 399.3,957.9 400.3,958.0 401.3,958.0 402.3,958.1 403.3,958.3 404.3,958.5 405.3,958.6 406.3,958.8 407.3,958.9 408.3,959.0 409.3,958.9 410.3,958.7 411.3,958.2 412.3,956.1 413.3,952.4 414.3,942.2 415.3,928.4 416.3,915.9 417.3,909.6 418.3,905.8 419.3,902.4 420.3,899.5 421.3,897.2 422.3,895.7 423.3,895.3 424.3,895.3 425.3,895.2 426.3,895.1 427.4,895.0 428.4,894.9 429.4,894.7 430.4,894.5 431.4,894.3 432.4,894.3 433.4,894.9 434.4,896.1 435.4,897.8 436.4,899.6 437.4,901.5 438.4,903.6 439.4,906.4 440.4,909.6 441.4,912.7 442.4,916.1 443.4,920.2 444.4,924.7 445.4,929.4 446.4,933.8 447.4,938.8 448.4,944.3 449.4,949.4 450.4,953.1 451.4,955.6 452.4,957.7 453.4,959.4 454.4,960.3 455.4,960.7 456.4,961.0 457.4,961.2 458.4,961.6 459.4,962.2 460.4,962.6 461.4,962.7 462.4,962.8 463.4,963.1 464.4,963.5 465.4,963.9 466.5,963.9 467.5,963.6 468.5,963.3 469.5,963.3 470.5,963.5 471.5,963.8 472.5,964.1 473.5,964.1 474.5,963.9 475.5,963.6 476.5,963.5 477.5,963.6 478.5,963.8 479.5,964.1 480.5,964.4 481.5,964.6 482.5,964.7 483.5,964.7 484.5,964.6 485.5,964.6 486.5,964.8 487.5,964.9 488.5,964.9 489.5,964.9 490.5,964.9 491.5,965.1 492.5,965.3 493.5,965.5 494.5,965.6 495.5,965.7 496.5,965.6 497.5,965.4 498.5,965.1 499.5,964.9 500.5,964.7 501.5,964.6 502.5,964.6 503.5,964.6 504.6,964.7 505.6,964.8 506.6,965.2 507.6,965.6 508.6,965.9 509.6,965.8 510.6,965.4 511.6,965.0 512.6,964.8 513.6,964.8 514.6,965.0 515.6,965.1 516.6,965.4 517.6,965.8 518.6,966.1 519.6,966.2 520.6,966.1 521.6,965.8 522.6,965.5 523.6,965.3 524.6,965.2 525.6,965.3 526.6,965.4 527.6,965.6 528.6,965.6 529.6,965.6 530.6,965.6 531.6,965.7 532.6,965.8 533.6,965.6 534.6,965.5 535.6,965.4 536.6,965.6 537.6,965.8 538.6,966.0 539.6,966.0 540.6,965.8 541.6,965.6 542.6,965.6 543.7,965.9 544.7,966.3 545.7,966.6 546.7,966.6 547.7,966.3 548.7,966.0 549.7,965.8 550.7,965.6 551.7,965.6 552.7,965.5 553.7,965.5 554.7,965.5 555.7,965.5 556.7,965.5 557.7,965.5 558.7,965.7 559.7,965.9 560.7,966.1 561.7,966.3 562.7,966.3 563.7,966.2 564.7,966.1 565.7,966.1 566.7,966.3 567.7,966.5 568.7,966.7 569.7,966.8 570.7,966.7 571.7,966.7" fill="none" stroke="#1f6fce" stroke-width="3.4" stroke-linejoin="round" stroke-linecap="round"/>
<path d="M138.6,973.6 139.6,973.3 140.6,973.0 141.6,972.8 142.6,972.9 143.6,973.0 144.6,973.1 145.6,973.2 146.6,973.3 147.6,973.5 148.6,973.6 149.6,973.6 150.6,973.7 151.6,973.8 152.6,973.9 153.6,973.9 154.6,973.8 155.6,973.8 156.6,973.8 157.6,973.8 158.7,973.6 159.7,973.5 160.7,973.6 161.7,973.8 162.7,973.9 163.7,973.9 164.7,973.9 165.7,974.1 166.7,975.3 167.7,975.8 168.7,974.7 169.7,972.9 170.7,970.9 171.7,969.0 172.7,967.5 173.7,966.6 174.7,965.9 175.7,965.3 176.7,965.1 177.7,965.1 178.7,965.2 179.7,965.1 180.7,964.9 181.7,964.8 182.7,964.7 183.7,964.7 184.7,964.8 185.7,964.9 186.7,964.8 187.7,964.5 188.7,964.1 189.7,963.7 190.7,963.3 191.7,963.0 192.7,963.2 193.7,963.5 194.7,963.7 195.7,963.8 196.8,964.0 197.8,964.2 198.8,964.4 199.8,964.5 200.8,964.5 201.8,964.5 202.8,964.4 203.8,964.1 204.8,963.9 205.8,964.0 206.8,964.2 207.8,964.3 208.8,964.3 209.8,964.2 210.8,964.0 211.8,963.7 212.8,963.5 213.8,963.5 214.8,963.8 215.8,964.2 216.8,964.5 217.8,964.5 218.8,964.3 219.8,963.9 220.8,963.6 221.8,963.3 222.8,963.0 223.8,962.9 224.8,963.2 225.8,963.7 226.8,964.1 227.8,964.3 228.8,964.4 229.8,964.3 230.8,964.2 231.8,964.1 232.8,963.9 233.8,963.9 234.8,964.1 235.9,964.5 236.9,964.8 237.9,964.8 238.9,964.6 239.9,964.3 240.9,964.1 241.9,963.8 242.9,963.5 243.9,963.2 244.9,962.9 245.9,962.8 246.9,962.7 247.9,962.8 248.9,962.7 249.9,962.3 250.9,961.4 251.9,952.4 252.9,936.4 253.9,923.3 254.9,917.4 255.9,912.4 256.9,908.4 257.9,905.9 258.9,905.2 259.9,904.9 260.9,904.7 261.9,904.6 262.9,904.5 263.9,904.4 264.9,904.3 265.9,904.1 266.9,904.0 267.9,904.1 268.9,904.2 269.9,904.2 270.9,903.9 271.9,903.5 272.9,903.4 274.0,903.3 275.0,903.3 276.0,903.2 277.0,903.2 278.0,903.2 279.0,903.2 280.0,903.1 281.0,903.0 282.0,904.0 283.0,906.5 284.0,910.0 285.0,914.2 286.0,923.1 287.0,936.5 288.0,945.6 289.0,949.6 290.0,952.6 291.0,954.5 292.0,955.3 293.0,955.7 294.0,956.3 295.0,956.8 296.0,957.1 297.0,957.2 298.0,957.1 299.0,957.0 300.0,956.9 301.0,956.8 302.0,956.6 303.0,956.4 304.0,956.3 305.0,956.2 306.0,955.9 307.0,955.7 308.0,955.8 309.0,956.3 310.0,956.8 311.0,957.0 312.1,956.8 313.1,956.4 314.1,956.1 315.1,956.1 316.1,956.2 317.1,956.4 318.1,956.5 319.1,956.5 320.1,956.2 321.1,955.8 322.1,955.6 323.1,955.7 324.1,956.3 325.1,956.9 326.1,957.4 327.1,957.6 328.1,957.6 329.1,957.5 330.1,957.3 331.1,957.1 332.1,956.8 333.1,956.5 334.1,956.2 335.1,955.9 336.1,955.8 337.1,955.9 338.1,956.1 339.1,956.3 340.1,956.6 341.1,956.7 342.1,956.7 343.1,956.5 344.1,956.5 345.1,957.2 346.1,964.9 347.1,972.2 348.1,977.5 349.1,979.4 350.1,979.3 351.2,979.3 352.2,979.3 353.2,979.2 354.2,978.8 355.2,972.7 356.2,964.0 357.2,958.8 358.2,958.4 359.2,958.1 360.2,958.0 361.2,958.1 362.2,958.1 363.2,957.9 364.2,957.7 365.2,957.5 366.2,957.5 367.2,957.5 368.2,957.4 369.2,957.3 370.2,957.3 371.2,957.3 372.2,957.3 373.2,957.1 374.2,957.0 375.2,956.8 376.2,956.7 377.2,956.7 378.2,956.7 379.2,956.8 380.2,956.9 381.2,956.9 382.2,957.0 383.2,957.2 384.2,957.3 385.2,957.4 386.2,957.5 387.2,957.6 388.2,957.5 389.3,957.2 390.3,956.9 391.3,956.8 392.3,957.1 393.3,957.4 394.3,957.8 395.3,957.9 396.3,957.8 397.3,957.6 398.3,957.4 399.3,957.3 400.3,957.3 401.3,957.3 402.3,957.4 403.3,957.7 404.3,958.2 405.3,958.5 406.3,958.4 407.3,958.0 408.3,957.6 409.3,957.4 410.3,957.3 411.3,957.2 412.3,956.2 413.3,954.7 414.3,949.9 415.3,940.4 416.3,928.6 417.3,917.6 418.3,910.4 419.3,906.0 420.3,902.1 421.3,899.1 422.3,897.7 423.3,897.6 424.3,897.5 425.3,897.4 426.3,897.2 427.4,897.0 428.4,897.0 429.4,897.1 430.4,897.2 431.4,897.4 432.4,897.5 433.4,897.6 434.4,897.7 435.4,897.7 436.4,897.6 437.4,897.2 438.4,897.8 439.4,901.3 440.4,906.4 441.4,911.6 442.4,916.1 443.4,920.5 444.4,924.9 445.4,929.3 446.4,933.9 447.4,939.2 448.4,944.8 449.4,949.8 450.4,953.3 451.4,955.6 452.4,957.5 453.4,958.9 454.4,959.7 455.4,960.1 456.4,960.6 457.4,961.1 458.4,961.7 459.4,962.2 460.4,962.5 461.4,962.7 462.4,963.0 463.4,963.3 464.4,963.5 465.4,963.5 466.5,963.3 467.5,963.2 468.5,963.4 469.5,963.7 470.5,964.0 471.5,964.0 472.5,963.9 473.5,963.9 474.5,964.1 475.5,964.3 476.5,964.4 477.5,964.4 478.5,964.4 479.5,964.5 480.5,964.5 481.5,964.4 482.5,964.4 483.5,964.4 484.5,964.3 485.5,964.3 486.5,964.4 487.5,964.5 488.5,964.4 489.5,964.3 490.5,964.3 491.5,964.5 492.5,964.7 493.5,964.8 494.5,964.8 495.5,964.7 496.5,964.6 497.5,964.7 498.5,964.8 499.5,965.0 500.5,965.4 501.5,965.8 502.5,966.1 503.5,966.0 504.6,965.8 505.6,965.6 506.6,965.6 507.6,965.8 508.6,966.0 509.6,965.9 510.6,965.7 511.6,965.5 512.6,965.4 513.6,965.1 514.6,964.7 515.6,964.6 516.6,964.9 517.6,965.1 518.6,965.1 519.6,965.0 520.6,965.0 521.6,965.4 522.6,965.7 523.6,965.8 524.6,965.8 525.6,965.7 526.6,965.8 527.6,965.8 528.6,965.7 529.6,965.7 530.6,965.7 531.6,965.8 532.6,965.9 533.6,965.8 534.6,965.7 535.6,965.9 536.6,966.3 537.6,966.6 538.6,966.7 539.6,966.6 540.6,966.5 541.6,966.4 542.6,966.4 543.7,966.4 544.7,966.5 545.7,966.5 546.7,966.5 547.7,966.6 548.7,966.5 549.7,966.2 550.7,966.0 551.7,966.0 552.7,966.2 553.7,966.3 554.7,966.3 555.7,966.3 556.7,966.4 557.7,966.7 558.7,967.0 559.7,967.1 560.7,967.0 561.7,966.8 562.7,966.7 563.7,966.7 564.7,966.7 565.7,966.6 566.7,966.5 567.7,966.5 568.7,966.6 569.7,966.8 570.7,967.0 571.7,967.2" fill="none" stroke="#fd7d27" stroke-width="3.4" stroke-linejoin="round" stroke-linecap="round"/>
<path d="M138.6,974.7 139.6,974.8 140.6,975.0 141.6,975.3 142.6,975.4 143.6,975.4 144.6,975.3 145.6,975.2 146.6,975.1 147.6,975.1 148.6,975.2 149.6,975.4 150.6,975.5 151.6,975.4 152.6,975.1 153.6,974.9 154.6,974.8 155.6,974.9 156.6,975.3 157.6,975.7 158.7,976.0 159.7,976.3 160.7,976.4 161.7,976.2 162.7,975.8 163.7,975.3 164.7,975.0 165.7,975.0 166.7,975.0 167.7,975.1 168.7,975.9 169.7,976.5 170.7,975.1 171.7,973.0 172.7,971.5 173.7,970.1 174.7,968.9 175.7,967.9 176.7,966.9 177.7,966.2 178.7,965.6 179.7,965.3 180.7,965.3 181.7,965.3 182.7,965.3 183.7,965.3 184.7,965.3 185.7,965.4 186.7,965.3 187.7,965.0 188.7,964.8 189.7,964.9 190.7,965.2 191.7,965.6 192.7,965.7 193.7,965.5 194.7,965.2 195.7,965.0 196.8,964.9 197.8,964.9 198.8,965.0 199.8,965.0 200.8,965.0 201.8,965.2 202.8,965.5 203.8,965.7 204.8,965.7 205.8,965.6 206.8,965.4 207.8,965.1 208.8,964.8 209.8,964.6 210.8,964.6 211.8,964.5 212.8,964.4 213.8,964.2 214.8,964.0 215.8,964.0 216.8,964.3 217.8,964.5 218.8,964.7 219.8,964.8 220.8,964.9 221.8,964.9 222.8,964.9 223.8,964.9 224.8,964.9 225.8,964.9 226.8,964.9 227.8,965.0 228.8,965.1 229.8,965.1 230.8,965.1 231.8,965.1 232.8,965.1 233.8,965.1 234.8,965.1 235.9,965.1 236.9,965.0 237.9,964.8 238.9,964.6 239.9,964.5 240.9,964.6 241.9,964.9 242.9,965.1 243.9,965.2 244.9,965.4 245.9,965.6 246.9,965.7 247.9,965.4 248.9,964.5 249.9,963.4 250.9,962.2 251.9,953.1 252.9,936.9 253.9,923.2 254.9,916.2 255.9,910.2 256.9,905.7 257.9,903.2 258.9,902.8 259.9,902.7 260.9,902.6 261.9,902.4 262.9,902.2 263.9,902.0 264.9,902.0 265.9,902.2 266.9,902.1 267.9,901.9 268.9,901.7 269.9,901.6 270.9,901.5 271.9,901.2 272.9,900.8 274.0,900.3 275.0,900.2 276.0,900.5 277.0,900.9 278.0,901.1 279.0,901.4 280.0,901.6 281.0,901.8 282.0,902.7 283.0,904.8 284.0,908.0 285.0,912.0 286.0,918.5 287.0,928.2 288.0,938.1 289.0,945.2 290.0,949.1 291.0,952.4 292.0,955.0 293.0,956.3 294.0,956.6 295.0,957.0 296.0,957.7 297.0,958.3 298.0,958.6 299.0,958.6 300.0,958.5 301.0,958.5 302.0,958.5 303.0,958.6 304.0,958.5 305.0,958.2 306.0,957.9 307.0,957.7 308.0,957.8 309.0,958.1 310.0,958.3 311.0,958.3 312.1,958.2 313.1,958.0 314.1,957.8 315.1,957.6 316.1,957.6 317.1,957.8 318.1,957.9 319.1,957.7 320.1,957.5 321.1,957.6 322.1,957.9 323.1,958.2 324.1,958.2 325.1,958.1 326.1,957.9 327.1,957.7 328.1,957.6 329.1,957.6 330.1,957.8 331.1,958.0 332.1,958.2 333.1,958.3 334.1,958.3 335.1,958.3 336.1,958.3 337.1,958.4 338.1,958.4 339.1,958.3 340.1,958.2 341.1,958.3 342.1,958.4 343.1,958.1 344.1,957.8 345.1,957.8 346.1,960.9 347.1,966.0 348.1,970.7 349.1,974.6 350.1,978.1 351.2,979.2 352.2,978.8 353.2,978.7 354.2,978.9 355.2,979.2 356.2,979.4 357.2,975.3 358.2,964.7 359.2,960.1 360.2,959.1 361.2,958.8 362.2,958.8 363.2,958.9 364.2,959.2 365.2,959.4 366.2,959.6 367.2,959.4 368.2,959.3 369.2,959.4 370.2,959.6 371.2,959.8 372.2,959.9 373.2,959.9 374.2,959.8 375.2,959.7 376.2,959.7 377.2,959.8 378.2,959.8 379.2,959.6 380.2,959.3 381.2,959.2 382.2,959.1 383.2,959.1 384.2,959.1 385.2,958.9 386.2,958.9 387.2,958.9 388.2,958.9 389.3,959.0 390.3,959.0 391.3,958.9 392.3,958.7 393.3,958.7 394.3,958.8 395.3,958.9 396.3,958.9 397.3,959.0 398.3,959.2 399.3,959.4 400.3,959.8 401.3,960.1 402.3,960.3 403.3,960.1 404.3,959.9 405.3,959.7 406.3,959.9 407.3,960.0 408.3,960.0 409.3,959.8 410.3,959.7 411.3,959.8 412.3,961.0 413.3,961.7 414.3,957.1 415.3,946.4 416.3,934.3 417.3,925.7 418.3,921.4 419.3,918.2 420.3,917.5 421.3,917.3 422.3,917.0 423.3,916.8 424.3,916.7 425.3,916.6 426.3,916.7 427.4,916.9 428.4,917.2 429.4,917.4 430.4,917.6 431.4,917.9 432.4,918.3 433.4,918.7 434.4,919.4 435.4,920.3 436.4,921.3 437.4,922.4 438.4,923.4 439.4,924.4 440.4,925.4 441.4,926.3 442.4,927.2 443.4,928.1 444.4,929.0 445.4,929.9 446.4,930.9 447.4,932.1 448.4,933.4 449.4,934.8 450.4,936.1 451.4,937.3 452.4,938.7 453.4,940.2 454.4,941.8 455.4,943.5 456.4,945.2 457.4,947.3 458.4,950.2 459.4,953.5 460.4,956.5 461.4,958.6 462.4,959.9 463.4,961.1 464.4,962.2 465.4,963.0 466.5,963.4 467.5,963.6 468.5,963.9 469.5,964.1 470.5,964.1 471.5,964.1 472.5,964.1 473.5,964.3 474.5,964.5 475.5,964.7 476.5,964.8 477.5,964.9 478.5,965.1 479.5,965.1 480.5,964.9 481.5,964.9 482.5,965.1 483.5,965.2 484.5,965.2 485.5,965.2 486.5,965.3 487.5,965.5 488.5,965.8 489.5,965.9 490.5,966.1 491.5,966.3 492.5,966.2 493.5,966.0 494.5,965.6 495.5,965.3 496.5,965.1 497.5,964.9 498.5,964.7 499.5,964.5 500.5,964.6 501.5,965.0 502.5,965.5 503.5,965.9 504.6,966.0 505.6,966.1 506.6,966.2 507.6,966.3 508.6,966.3 509.6,966.4 510.6,966.3 511.6,966.0 512.6,965.7 513.6,965.7 514.6,965.9 515.6,966.3 516.6,966.6 517.6,966.8 518.6,966.9 519.6,966.9 520.6,966.8 521.6,966.7 522.6,966.5 523.6,966.4 524.6,966.2 525.6,966.0 526.6,965.7 527.6,965.6 528.6,965.6 529.6,965.8 530.6,966.0 531.6,966.3 532.6,966.7 533.6,967.0 534.6,967.0 535.6,966.9 536.6,966.7 537.6,966.5 538.6,966.3 539.6,966.3 540.6,966.4 541.6,966.5 542.6,966.5 543.7,966.4 544.7,966.3 545.7,966.3 546.7,966.2 547.7,966.1 548.7,966.1 549.7,966.0 550.7,966.1 551.7,966.2 552.7,966.2 553.7,966.2 554.7,966.1 555.7,966.1 556.7,966.1 557.7,966.3 558.7,966.4 559.7,966.5 560.7,966.7 561.7,967.0 562.7,967.2 563.7,967.2 564.7,967.1 565.7,967.1 566.7,967.1 567.7,967.4 568.7,967.7 569.7,967.7 570.7,967.5 571.7,967.4" fill="none" stroke="#2b8a2b" stroke-width="3.4" stroke-linejoin="round" stroke-linecap="round"/>
<path d="M138.6,979.4 139.6,979.4 140.6,979.2 141.6,979.0 142.6,978.7 143.6,978.5 144.6,978.4 145.6,978.4 146.6,978.5 147.6,978.5 148.6,978.4 149.6,978.3 150.6,978.3 151.6,978.4 152.6,978.6 153.6,978.8 154.6,978.8 155.6,978.6 156.6,978.4 157.6,978.2 158.7,978.2 159.7,978.3 160.7,978.2 161.7,978.2 162.7,978.3 163.7,978.6 164.7,978.8 165.7,978.9 166.7,979.0 167.7,979.0 168.7,979.0 169.7,978.8 170.7,978.7 171.7,978.9 172.7,979.1 173.7,979.1 174.7,978.9 175.7,978.8 176.7,978.7 177.7,978.6 178.7,978.3 179.7,978.0 180.7,978.4 181.7,978.9 182.7,978.0 183.7,976.1 184.7,974.4 185.7,973.4 186.7,972.5 187.7,971.7 188.7,970.9 189.7,970.0 190.7,969.3 191.7,968.6 192.7,968.3 193.7,967.9 194.7,967.6 195.7,967.3 196.8,966.9 197.8,966.5 198.8,966.3 199.8,966.3 200.8,966.5 201.8,966.8 202.8,967.0 203.8,967.0 204.8,966.7 205.8,966.2 206.8,965.9 207.8,965.9 208.8,966.1 209.8,966.2 210.8,966.2 211.8,966.1 212.8,966.0 213.8,966.1 214.8,966.4 215.8,966.6 216.8,966.8 217.8,966.7 218.8,966.4 219.8,966.0 220.8,965.8 221.8,965.9 222.8,966.1 223.8,966.4 224.8,966.5 225.8,966.6 226.8,966.5 227.8,966.5 228.8,966.4 229.8,966.5 230.8,966.6 231.8,966.8 232.8,966.9 233.8,966.7 234.8,966.3 235.9,965.9 236.9,965.6 237.9,965.4 238.9,965.5 239.9,965.8 240.9,966.1 241.9,966.3 242.9,966.4 243.9,966.5 244.9,966.7 245.9,967.0 246.9,967.1 247.9,967.0 248.9,966.5 249.9,965.4 250.9,963.9 251.9,954.4 252.9,938.1 253.9,923.9 254.9,915.9 255.9,908.9 256.9,903.5 257.9,900.4 258.9,899.7 259.9,899.3 260.9,899.2 261.9,899.0 262.9,898.7 263.9,898.3 264.9,897.9 265.9,897.6 266.9,897.4 267.9,897.1 268.9,896.7 269.9,896.4 270.9,896.4 271.9,896.7 272.9,896.9 274.0,897.0 275.0,897.0 276.0,896.8 277.0,896.7 278.0,896.7 279.0,896.7 280.0,896.5 281.0,896.3 282.0,897.6 283.0,900.8 284.0,905.1 285.0,909.9 286.0,916.7 287.0,926.5 288.0,936.8 289.0,944.8 290.0,949.9 291.0,954.3 292.0,957.8 293.0,960.6 294.0,962.6 295.0,963.6 296.0,963.9 297.0,964.0 298.0,964.0 299.0,964.1 300.0,964.1 301.0,964.0 302.0,963.9 303.0,963.8 304.0,963.8 305.0,964.0 306.0,964.5 307.0,964.8 308.0,964.8 309.0,964.6 310.0,964.2 311.0,963.9 312.1,963.9 313.1,964.2 314.1,964.6 315.1,964.9 316.1,964.9 317.1,964.5 318.1,964.3 319.1,964.2 320.1,964.0 321.1,963.8 322.1,963.7 323.1,963.7 324.1,963.8 325.1,963.6 326.1,963.4 327.1,963.2 328.1,963.1 329.1,963.2 330.1,963.3 331.1,963.3 332.1,963.2 333.1,963.3 334.1,963.4 335.1,963.5 336.1,963.4 337.1,963.4 338.1,963.3 339.1,963.4 340.1,963.5 341.1,963.7 342.1,963.7 343.1,963.9 344.1,967.4 345.1,971.7 346.1,977.2 347.1,979.3 348.1,979.2 349.1,979.2 350.1,979.4 351.2,979.5 352.2,979.5 353.2,979.4 354.2,979.2 355.2,976.5 356.2,969.9 357.2,965.3 358.2,964.2 359.2,963.5 360.2,963.3 361.2,963.3 362.2,963.5 363.2,963.4 364.2,963.1 365.2,962.9 366.2,962.8 367.2,962.8 368.2,962.9 369.2,963.1 370.2,963.4 371.2,963.6 372.2,963.8 373.2,963.8 374.2,963.9 375.2,964.1 376.2,964.2 377.2,964.0 378.2,963.8 379.2,963.5 380.2,963.3 381.2,963.2 382.2,963.1 383.2,963.0 384.2,962.9 385.2,962.8 386.2,962.7 387.2,962.7 388.2,962.6 389.3,962.6 390.3,962.8 391.3,963.1 392.3,963.2 393.3,963.3 394.3,963.4 395.3,963.5 396.3,963.6 397.3,963.8 398.3,963.8 399.3,963.7 400.3,963.4 401.3,963.2 402.3,963.1 403.3,963.1 404.3,963.1 405.3,963.2 406.3,963.4 407.3,963.5 408.3,963.6 409.3,962.6 410.3,959.7 411.3,955.8 412.3,948.8 413.3,940.7 414.3,934.5 415.3,931.4 416.3,929.1 417.3,927.6 418.3,927.0 419.3,926.9 420.3,926.9 421.3,927.3 422.3,928.0 423.3,928.5 424.3,928.8 425.3,929.0 426.3,929.3 427.4,929.7 428.4,930.2 429.4,930.8 430.4,931.2 431.4,931.6 432.4,932.1 433.4,932.8 434.4,933.4 435.4,933.9 436.4,934.4 437.4,934.7 438.4,935.0 439.4,935.4 440.4,936.0 441.4,936.6 442.4,937.0 443.4,937.2 444.4,937.5 445.4,937.9 446.4,938.2 447.4,938.4 448.4,938.6 449.4,938.8 450.4,939.3 451.4,939.8 452.4,940.3 453.4,940.9 454.4,941.7 455.4,942.7 456.4,943.5 457.4,943.9 458.4,943.8 459.4,943.6 460.4,943.4 461.4,943.5 462.4,943.8 463.4,944.2 464.4,944.5 465.4,945.0 466.5,945.7 467.5,946.4 468.5,946.9 469.5,947.3 470.5,947.5 471.5,947.8 472.5,948.1 473.5,948.4 474.5,949.0 475.5,949.8 476.5,950.5 477.5,951.2 478.5,951.7 479.5,952.2 480.5,952.5 481.5,952.6 482.5,952.7 483.5,953.1 484.5,953.8 485.5,954.6 486.5,955.0 487.5,955.2 488.5,955.1 489.5,955.0 490.5,955.1 491.5,955.3 492.5,955.8 493.5,956.4 494.5,957.0 495.5,957.5 496.5,958.0 497.5,958.6 498.5,959.1 499.5,959.5 500.5,959.9 501.5,960.4 502.5,960.9 503.5,961.4 504.6,961.7 505.6,962.0 506.6,962.1 507.6,962.3 508.6,962.4 509.6,962.6 510.6,962.5 511.6,962.4 512.6,962.4 513.6,962.5 514.6,962.8 515.6,963.1 516.6,963.3 517.6,963.6 518.6,963.9 519.6,964.2 520.6,964.5 521.6,964.5 522.6,964.4 523.6,964.2 524.6,964.1 525.6,964.0 526.6,963.9 527.6,963.7 528.6,963.6 529.6,963.7 530.6,964.2 531.6,964.6 532.6,964.8 533.6,964.9 534.6,964.9 535.6,964.9 536.6,964.8 537.6,964.7 538.6,964.6 539.6,964.6 540.6,964.6 541.6,964.8 542.6,964.9 543.7,965.3 544.7,965.6 545.7,965.8 546.7,965.7 547.7,965.6 548.7,965.6 549.7,965.9 550.7,966.4 551.7,966.9 552.7,967.0 553.7,966.7 554.7,966.5 555.7,966.4 556.7,966.4 557.7,966.4 558.7,966.6 559.7,966.7 560.7,966.5 561.7,966.1 562.7,965.9 563.7,966.0 564.7,966.3 565.7,966.4 566.7,966.4 567.7,966.4 568.7,966.5 569.7,966.7 570.7,966.8 571.7,966.8" fill="none" stroke="#7b2fb3" stroke-width="3.4" stroke-linejoin="round" stroke-linecap="round"/>
<path d="M138.6,978.3 139.6,978.3 140.6,978.3 141.6,978.2 142.6,978.0 143.6,977.7 144.6,977.5 145.6,977.5 146.6,977.6 147.6,977.9 148.6,978.4 149.6,978.7 150.6,979.0 151.6,979.1 152.6,979.0 153.6,978.9 154.6,979.0 155.6,979.3 156.6,979.7 157.6,979.7 158.7,979.7 159.7,979.4 160.7,979.2 161.7,979.1 162.7,979.0 163.7,978.9 164.7,978.8 165.7,978.6 166.7,978.3 167.7,978.0 168.7,977.9 169.7,978.0 170.7,978.1 171.7,978.2 172.7,978.2 173.7,978.2 174.7,978.0 175.7,978.0 176.7,977.9 177.7,978.0 178.7,978.1 179.7,978.3 180.7,978.4 181.7,978.5 182.7,978.3 183.7,977.6 184.7,976.4 185.7,975.2 186.7,973.8 187.7,972.3 188.7,970.9 189.7,969.6 190.7,968.6 191.7,968.0 192.7,968.0 193.7,968.0 194.7,967.9 195.7,967.6 196.8,967.2 197.8,966.8 198.8,966.5 199.8,966.3 200.8,966.2 201.8,966.0 202.8,965.8 203.8,965.6 204.8,965.4 205.8,965.4 206.8,965.7 207.8,966.1 208.8,966.6 209.8,966.8 210.8,966.7 211.8,966.6 212.8,966.6 213.8,966.6 214.8,966.5 215.8,966.4 216.8,966.5 217.8,966.7 218.8,966.7 219.8,966.4 220.8,966.1 221.8,966.1 222.8,966.3 223.8,966.5 224.8,966.4 225.8,966.1 226.8,965.8 227.8,965.6 228.8,965.6 229.8,965.7 230.8,965.8 231.8,965.8 232.8,965.7 233.8,965.8 234.8,966.0 235.9,966.3 236.9,966.6 237.9,966.8 238.9,966.8 239.9,966.9 240.9,967.0 241.9,967.1 242.9,967.2 243.9,967.3 244.9,967.4 245.9,967.3 246.9,967.1 247.9,966.8 248.9,966.5 249.9,965.4 250.9,953.3 251.9,935.5 252.9,922.0 253.9,914.0 254.9,906.9 255.9,901.8 256.9,899.4 257.9,898.1 258.9,897.2 259.9,896.8 260.9,896.6 261.9,896.4 262.9,896.1 263.9,895.8 264.9,895.8 265.9,896.0 266.9,896.1 267.9,896.0 268.9,895.8 269.9,895.5 270.9,895.1 271.9,894.3 272.9,893.5 274.0,892.8 275.0,892.5 276.0,892.5 277.0,892.6 278.0,892.9 279.0,893.3 280.0,893.9 281.0,895.0 282.0,896.4 283.0,900.6 284.0,907.0 285.0,913.4 286.0,919.4 287.0,926.1 288.0,933.0 289.0,939.6 290.0,945.3 291.0,949.7 292.0,953.9 293.0,957.4 294.0,959.8 295.0,961.0 296.0,962.0 297.0,962.9 298.0,963.4 299.0,963.5 300.0,963.3 301.0,963.2 302.0,963.1 303.0,963.1 304.0,963.2 305.0,963.3 306.0,963.4 307.0,963.4 308.0,963.2 309.0,963.0 310.0,962.6 311.0,962.4 312.1,962.3 313.1,962.4 314.1,962.6 315.1,962.9 316.1,963.2 317.1,963.4 318.1,963.4 319.1,963.2 320.1,962.8 321.1,962.4 322.1,962.3 323.1,962.3 324.1,962.2 325.1,962.2 326.1,962.2 327.1,962.1 328.1,962.0 329.1,962.0 330.1,962.1 331.1,962.3 332.1,962.7 333.1,963.1 334.1,963.4 335.1,963.3 336.1,963.0 337.1,962.7 338.1,962.6 339.1,962.7 340.1,962.9 341.1,963.0 342.1,963.0 343.1,962.9 344.1,962.8 345.1,963.0 346.1,966.8 347.1,971.5 348.1,976.8 349.1,978.8 350.1,978.7 351.2,978.7 352.2,978.7 353.2,978.8 354.2,978.9 355.2,979.1 356.2,977.9 357.2,971.5 358.2,964.2 359.2,960.9 360.2,959.4 361.2,958.7 362.2,958.8 363.2,958.9 364.2,958.8 365.2,958.5 366.2,958.1 367.2,957.8 368.2,957.6 369.2,957.5 370.2,957.4 371.2,957.5 372.2,957.5 373.2,957.6 374.2,957.5 375.2,957.4 376.2,957.4 377.2,957.6 378.2,957.8 379.2,957.8 380.2,957.4 381.2,957.1 382.2,957.1 383.2,957.2 384.2,957.4 385.2,957.6 386.2,957.9 387.2,958.3 388.2,958.6 389.3,958.7 390.3,958.5 391.3,958.3 392.3,958.2 393.3,958.2 394.3,958.3 395.3,958.4 396.3,958.7 397.3,958.8 398.3,958.8 399.3,958.6 400.3,958.3 401.3,957.9 402.3,957.7 403.3,957.8 404.3,958.2 405.3,958.4 406.3,958.5 407.3,958.5 408.3,958.6 409.3,959.2 410.3,960.6 411.3,963.4 412.3,969.9 413.3,971.5 414.3,968.8 415.3,964.7 416.3,960.8 417.3,958.4 418.3,956.8 419.3,955.2 420.3,953.8 421.3,953.0 422.3,952.6 423.3,952.4 424.3,952.4 425.3,952.5 426.3,952.6 427.4,952.7 428.4,952.7 429.4,952.7 430.4,952.8 431.4,952.8 432.4,952.8 433.4,952.7 434.4,952.7 435.4,952.7 436.4,952.8 437.4,953.0 438.4,953.3 439.4,953.5 440.4,953.7 441.4,953.8 442.4,954.0 443.4,954.4 444.4,954.9 445.4,955.3 446.4,955.5 447.4,955.8 448.4,956.1 449.4,956.4 450.4,956.6 451.4,956.5 452.4,956.2 453.4,956.1 454.4,956.5 455.4,957.1 456.4,957.9 457.4,958.6 458.4,958.9 459.4,959.1 460.4,959.3 461.4,959.5 462.4,959.7 463.4,959.8 464.4,959.9 465.4,960.0 466.5,960.1 467.5,960.2 468.5,960.2 469.5,960.3 470.5,960.5 471.5,960.7 472.5,960.9 473.5,961.0 474.5,961.2 475.5,961.4 476.5,961.7 477.5,962.1 478.5,962.3 479.5,962.4 480.5,962.3 481.5,962.1 482.5,962.2 483.5,962.4 484.5,962.6 485.5,962.7 486.5,962.6 487.5,962.4 488.5,962.1 489.5,961.9 490.5,961.8 491.5,961.9 492.5,962.2 493.5,962.6 494.5,963.0 495.5,963.1 496.5,963.1 497.5,963.0 498.5,962.9 499.5,963.0 500.5,963.1 501.5,963.2 502.5,963.2 503.5,963.2 504.6,963.1 505.6,963.1 506.6,963.2 507.6,963.5 508.6,963.8 509.6,964.0 510.6,964.1 511.6,964.2 512.6,964.3 513.6,964.4 514.6,964.5 515.6,964.5 516.6,964.6 517.6,964.5 518.6,964.3 519.6,964.1 520.6,964.0 521.6,964.0 522.6,964.2 523.6,964.4 524.6,964.6 525.6,964.5 526.6,964.3 527.6,964.4 528.6,964.8 529.6,965.3 530.6,965.6 531.6,965.9 532.6,966.2 533.6,966.4 534.6,966.4 535.6,966.2 536.6,965.9 537.6,965.7 538.6,965.7 539.6,966.1 540.6,966.6 541.6,966.8 542.6,966.6 543.7,966.4 544.7,966.3 545.7,966.5 546.7,966.7 547.7,966.8 548.7,966.7 549.7,966.6 550.7,966.6 551.7,966.8 552.7,966.9 553.7,966.9 554.7,966.8 555.7,966.7 556.7,966.8 557.7,967.2 558.7,967.6 559.7,967.8 560.7,967.9 561.7,967.9 562.7,968.0 563.7,968.1 564.7,968.2 565.7,968.1 566.7,968.1 567.7,968.0 568.7,967.9 569.7,967.8 570.7,967.8 571.7,967.9" fill="none" stroke="#e60000" stroke-width="3.4" stroke-linejoin="round" stroke-linecap="round"/>
<path d="M148.1,841.5 H138.6 V979.7 H571.4" fill="none" stroke="#000" stroke-width="3.3" stroke-linejoin="round"/>
<line x1="138.6" y1="933.6" x2="148.1" y2="933.6" stroke="#000" stroke-width="3.3"/>
<line x1="138.6" y1="887.6" x2="148.1" y2="887.6" stroke="#000" stroke-width="3.3"/>
<line x1="221.1" y1="979.7" x2="221.1" y2="970.2" stroke="#000" stroke-width="3.3"/>
<line x1="303.6" y1="979.7" x2="303.6" y2="970.2" stroke="#000" stroke-width="3.3"/>
<line x1="386.1" y1="979.7" x2="386.1" y2="970.2" stroke="#000" stroke-width="3.3"/>
<line x1="468.6" y1="979.7" x2="468.6" y2="970.2" stroke="#000" stroke-width="3.3"/>
<line x1="551.1" y1="979.7" x2="551.1" y2="970.2" stroke="#000" stroke-width="3.3"/>
<text x="109.3" y="989.2" font-family='"Liberation Sans", sans-serif' font-size="27" text-anchor="end">0</text>
<text x="109.3" y="943.1" font-family='"Liberation Sans", sans-serif' font-size="27" text-anchor="end">200</text>
<text x="109.3" y="897.1" font-family='"Liberation Sans", sans-serif' font-size="27" text-anchor="end">400</text>
<text x="109.3" y="851.0" font-family='"Liberation Sans", sans-serif' font-size="27" text-anchor="end">600</text>
<text x="138.6" y="1029.0" font-family='"Liberation Sans", sans-serif' font-size="27" text-anchor="middle">1.5</text>
<text x="221.1" y="1029.0" font-family='"Liberation Sans", sans-serif' font-size="27" text-anchor="middle">3.5</text>
<text x="303.6" y="1029.0" font-family='"Liberation Sans", sans-serif' font-size="27" text-anchor="middle">5.5</text>
<text x="386.1" y="1029.0" font-family='"Liberation Sans", sans-serif' font-size="27" text-anchor="middle">7.5</text>
<text x="468.6" y="1029.0" font-family='"Liberation Sans", sans-serif' font-size="27" text-anchor="middle">9.5</text>
<text x="551.1" y="1029.0" font-family='"Liberation Sans", sans-serif' font-size="27" text-anchor="middle">11.5</text>
<text x="156.5" y="864.7" font-family='"Liberation Sans", sans-serif' font-size="25.71" font-weight="bold" textLength="91.3" lengthAdjust="spacingAndGlyphs">D) PCM</text>
<path d="M168.3,925.8 h3.5 v26.6 h5.55 L170.1,966.3 L162.8,952.4 h5.55 z" fill="#000"/>
<path d="M239.2,918.9 h3.5 v26.6 h5.55 L240.9,959.4 L233.6,945.5 h5.55 z" fill="#000"/>
<path d="M355.4,911.3 h3.5 v26.6 h5.55 L357.1,951.8 L349.8,937.9 h5.55 z" fill="#000"/>
<path d="M401.8,911.3 h3.5 v26.6 h5.55 L403.5,951.8 L396.2,937.9 h5.55 z" fill="#000"/>
<path d="M138.6,1231.4 139.6,1231.4 140.6,1231.4 141.6,1231.4 142.6,1231.5 143.6,1231.4 144.6,1231.0 145.6,1230.6 146.6,1230.4 147.6,1230.6 148.6,1231.2 149.6,1231.8 150.6,1232.1 151.7,1232.1 152.7,1231.8 153.7,1231.4 154.7,1230.9 155.7,1230.6 156.7,1230.7 157.7,1231.0 158.7,1231.4 159.7,1231.5 160.7,1231.4 161.7,1230.9 162.7,1228.4 163.7,1224.6 164.7,1216.3 165.7,1207.1 166.7,1202.5 167.7,1201.5 168.7,1200.8 169.7,1200.3 170.7,1200.0 171.7,1199.9 172.7,1199.8 173.7,1199.7 174.7,1199.6 175.7,1199.5 176.7,1199.5 177.8,1199.4 178.8,1199.4 179.8,1199.5 180.8,1199.8 181.8,1200.0 182.8,1200.2 183.8,1200.2 184.8,1200.1 185.8,1200.1 186.8,1199.9 187.8,1199.8 188.8,1199.8 189.8,1199.9 190.8,1199.9 191.8,1199.8 192.8,1199.6 193.8,1199.3 194.8,1199.2 195.8,1199.2 196.8,1199.4 197.8,1199.4 198.8,1199.3 199.8,1199.3 200.8,1199.5 201.8,1199.8 202.9,1200.0 203.9,1199.9 204.9,1199.8 205.9,1199.7 206.9,1199.6 207.9,1199.5 208.9,1199.5 209.9,1199.5 210.9,1199.5 211.9,1199.4 212.9,1199.2 213.9,1199.1 214.9,1199.1 215.9,1199.2 216.9,1199.5 217.9,1199.7 218.9,1199.8 219.9,1199.8 220.9,1199.9 221.9,1200.0 222.9,1200.0 223.9,1200.0 224.9,1199.8 225.9,1199.8 226.9,1199.7 227.9,1199.7 229.0,1199.8 230.0,1199.7 231.0,1199.6 232.0,1199.4 233.0,1199.5 234.0,1199.6 235.0,1199.7 236.0,1199.6 237.0,1199.4 238.0,1199.2 239.0,1199.1 240.0,1199.0 241.0,1198.9 242.0,1198.7 243.0,1198.2 244.0,1197.1 245.0,1193.8 246.0,1177.1 247.0,1156.3 248.0,1145.0 249.0,1141.0 250.0,1137.4 251.0,1134.6 252.0,1132.7 253.0,1131.8 254.1,1131.6 255.1,1131.6 256.1,1131.4 257.1,1131.2 258.1,1130.9 259.1,1130.6 260.1,1130.4 261.1,1130.2 262.1,1130.1 263.1,1130.0 264.1,1130.0 265.1,1129.9 266.1,1129.8 267.1,1129.8 268.1,1129.7 269.1,1129.5 270.1,1129.4 271.1,1129.5 272.1,1129.7 273.1,1129.9 274.1,1130.1 275.1,1130.1 276.1,1130.1 277.1,1130.0 278.1,1130.2 279.1,1130.5 280.2,1131.1 281.2,1131.6 282.2,1131.9 283.2,1132.2 284.2,1132.5 285.2,1133.0 286.2,1133.7 287.2,1138.1 288.2,1147.8 289.2,1157.4 290.2,1165.9 291.2,1174.6 292.2,1182.0 293.2,1186.7 294.2,1189.2 295.2,1191.3 296.2,1192.9 297.2,1193.8 298.2,1193.9 299.2,1193.8 300.2,1193.8 301.2,1194.1 302.2,1194.4 303.2,1194.7 304.2,1194.7 305.3,1194.8 306.3,1194.9 307.3,1195.0 308.3,1195.1 309.3,1195.1 310.3,1194.9 311.3,1194.7 312.3,1194.6 313.3,1194.6 314.3,1194.6 315.3,1194.6 316.3,1194.6 317.3,1194.6 318.3,1194.6 319.3,1194.6 320.3,1194.7 321.3,1194.9 322.3,1195.0 323.3,1195.0 324.3,1194.9 325.3,1194.9 326.3,1195.1 327.3,1195.3 328.3,1195.4 329.3,1195.2 330.4,1195.0 331.4,1195.0 332.4,1195.4 333.4,1199.1 334.4,1207.1 335.4,1214.5 336.4,1222.8 337.4,1228.9 338.4,1228.3 339.4,1221.3 340.4,1213.3 341.4,1208.2 342.4,1203.2 343.4,1198.9 344.4,1196.3 345.4,1195.9 346.4,1195.7 347.4,1195.5 348.4,1195.3 349.4,1195.2 350.4,1195.3 351.4,1195.5 352.4,1195.7 353.4,1195.6 354.4,1195.6 355.4,1195.6 356.5,1195.6 357.5,1195.4 358.5,1195.3 359.5,1195.4 360.5,1195.7 361.5,1195.8 362.5,1195.8 363.5,1195.7 364.5,1195.6 365.5,1195.3 366.5,1195.1 367.5,1195.0 368.5,1195.1 369.5,1195.4 370.5,1195.7 371.5,1195.8 372.5,1195.8 373.5,1195.8 374.5,1195.9 375.5,1196.0 376.5,1196.2 377.5,1196.3 378.5,1196.3 379.5,1196.3 380.5,1196.0 381.6,1195.6 382.6,1195.2 383.6,1195.1 384.6,1195.2 385.6,1195.5 386.6,1195.8 387.6,1195.9 388.6,1195.8 389.6,1195.8 390.6,1195.8 391.6,1196.0 392.6,1196.0 393.6,1195.8 394.6,1195.5 395.6,1195.3 396.6,1195.2 397.6,1195.2 398.6,1195.5 399.6,1196.5 400.6,1198.0 401.6,1199.2 402.6,1199.6 403.6,1197.2 404.6,1191.2 405.6,1183.3 406.6,1174.9 407.7,1167.6 408.7,1162.8 409.7,1158.8 410.7,1155.3 411.7,1152.5 412.7,1150.7 413.7,1149.6 414.7,1148.8 415.7,1148.1 416.7,1147.8 417.7,1147.5 418.7,1147.6 419.7,1147.9 420.7,1148.3 421.7,1148.6 422.7,1148.8 423.7,1148.8 424.7,1148.8 425.7,1148.7 426.7,1148.3 427.7,1147.9 428.7,1147.5 429.7,1147.4 430.7,1147.4 431.7,1147.5 432.8,1147.5 433.8,1147.5 434.8,1147.5 435.8,1147.5 436.8,1147.6 437.8,1147.7 438.8,1147.7 439.8,1147.6 440.8,1147.6 441.8,1147.6 442.8,1147.7 443.8,1147.8 444.8,1148.0 445.8,1148.0 446.8,1147.9 447.8,1148.0 448.8,1148.7 449.8,1150.2 450.8,1152.1 451.8,1154.2 452.8,1157.1 453.8,1162.0 454.8,1167.9 455.8,1173.8 456.8,1179.1 457.8,1184.8 458.9,1190.0 459.9,1193.8 460.9,1195.5 461.9,1196.6 462.9,1197.4 463.9,1198.1 464.9,1198.4 465.9,1198.5 466.9,1198.6 467.9,1198.7 468.9,1199.0 469.9,1199.1 470.9,1199.1 471.9,1199.1 472.9,1199.3 473.9,1199.6 474.9,1200.0 475.9,1200.5 476.9,1200.7 477.9,1200.7 478.9,1200.6 479.9,1200.6 480.9,1200.7 481.9,1200.8 482.9,1200.9 484.0,1201.0 485.0,1201.0 486.0,1201.0 487.0,1201.0 488.0,1201.0 489.0,1201.1 490.0,1201.3 491.0,1201.4 492.0,1201.4 493.0,1201.3 494.0,1201.2 495.0,1201.1 496.0,1201.3 497.0,1201.7 498.0,1202.4 499.0,1202.9 500.0,1203.1 501.0,1203.0 502.0,1202.8 503.0,1202.8 504.0,1203.0 505.0,1203.1 506.0,1203.0 507.0,1202.6 508.0,1202.3 509.0,1202.2 510.1,1202.3 511.1,1202.6 512.1,1202.8 513.1,1202.9 514.1,1203.1 515.1,1203.2 516.1,1203.4 517.1,1203.6 518.1,1203.7 519.1,1203.7 520.1,1203.5 521.1,1203.5 522.1,1203.4 523.1,1203.1 524.1,1202.8 525.1,1202.7" fill="none" stroke="#1f6fce" stroke-width="3.4" stroke-linejoin="round" stroke-linecap="round"/>
<path d="M138.6,1232.1 139.6,1232.4 140.6,1232.4 141.6,1232.2 142.6,1232.1 143.6,1232.3 144.6,1232.5 145.6,1232.6 146.6,1232.4 147.6,1232.1 148.6,1231.8 149.6,1231.4 150.6,1230.9 151.6,1230.7 152.6,1230.8 153.6,1231.0 154.6,1231.2 155.6,1231.3 156.6,1231.3 157.6,1231.3 158.7,1231.4 159.7,1231.4 160.7,1231.4 161.7,1230.9 162.7,1227.6 163.7,1223.3 164.7,1217.4 165.7,1210.7 166.7,1205.1 167.7,1202.5 168.7,1201.4 169.7,1200.5 170.7,1200.0 171.7,1199.9 172.7,1199.8 173.7,1199.6 174.7,1199.6 175.7,1199.8 176.7,1200.1 177.7,1200.2 178.7,1200.1 179.7,1199.6 180.7,1199.2 181.7,1198.9 182.7,1198.9 183.7,1199.2 184.7,1199.6 185.7,1199.7 186.7,1199.6 187.7,1199.4 188.7,1199.3 189.7,1199.3 190.7,1199.6 191.7,1199.9 192.7,1200.1 193.7,1200.0 194.7,1200.0 195.7,1199.9 196.8,1199.8 197.8,1199.8 198.8,1199.7 199.8,1199.6 200.8,1199.6 201.8,1199.7 202.8,1200.0 203.8,1200.2 204.8,1200.1 205.8,1199.7 206.8,1199.1 207.8,1198.7 208.8,1198.8 209.8,1199.0 210.8,1199.1 211.8,1199.1 212.8,1199.2 213.8,1199.5 214.8,1199.9 215.8,1200.3 216.8,1200.5 217.8,1200.5 218.8,1200.3 219.8,1200.0 220.8,1199.7 221.8,1199.7 222.8,1200.0 223.8,1200.2 224.8,1200.1 225.8,1199.8 226.8,1199.4 227.8,1199.1 228.8,1199.1 229.8,1199.2 230.8,1199.0 231.8,1198.8 232.8,1198.7 233.8,1198.9 234.8,1199.0 235.9,1199.2 236.9,1199.4 237.9,1199.7 238.9,1199.9 239.9,1200.0 240.9,1200.0 241.9,1200.1 242.9,1199.7 243.9,1198.6 244.9,1195.9 245.9,1180.3 246.9,1158.7 247.9,1145.2 248.9,1141.3 249.9,1138.0 250.9,1135.5 251.9,1133.6 252.9,1132.3 253.9,1131.7 254.9,1131.5 255.9,1131.3 256.9,1131.2 257.9,1131.2 258.9,1131.3 259.9,1131.2 260.9,1131.2 261.9,1131.0 262.9,1130.7 263.9,1130.3 264.9,1129.9 265.9,1129.6 266.9,1129.6 267.9,1129.8 268.9,1129.9 269.9,1130.0 270.9,1129.9 271.9,1130.0 272.9,1130.2 274.0,1130.2 275.0,1129.9 276.0,1129.6 277.0,1129.4 278.0,1129.6 279.0,1129.9 280.0,1130.2 281.0,1130.4 282.0,1130.6 283.0,1131.0 284.0,1131.5 285.0,1132.2 286.0,1133.2 287.0,1136.5 288.0,1145.4 289.0,1155.1 290.0,1163.3 291.0,1172.1 292.0,1180.3 293.0,1186.0 294.0,1188.9 295.0,1191.3 296.0,1193.2 297.0,1194.3 298.0,1194.5 299.0,1194.5 300.0,1194.4 301.0,1194.4 302.0,1194.4 303.0,1194.5 304.0,1194.6 305.0,1194.6 306.0,1194.6 307.0,1194.8 308.0,1195.0 309.0,1195.1 310.0,1194.9 311.0,1194.7 312.1,1194.6 313.1,1194.5 314.1,1194.5 315.1,1194.3 316.1,1194.3 317.1,1194.6 318.1,1194.9 319.1,1195.1 320.1,1195.1 321.1,1195.0 322.1,1194.8 323.1,1194.6 324.1,1194.5 325.1,1194.6 326.1,1194.7 327.1,1194.7 328.1,1194.6 329.1,1194.4 330.1,1194.2 331.1,1194.3 332.1,1194.6 333.1,1196.6 334.1,1204.3 335.1,1212.0 336.1,1220.0 337.1,1227.1 338.1,1228.7 339.1,1222.9 340.1,1214.8 341.1,1209.3 342.1,1204.2 343.1,1199.2 344.1,1195.7 345.1,1194.8 346.1,1194.8 347.1,1195.0 348.1,1195.2 349.1,1195.1 350.1,1194.8 351.2,1194.7 352.2,1194.8 353.2,1195.2 354.2,1195.3 355.2,1195.1 356.2,1195.1 357.2,1195.4 358.2,1195.9 359.2,1196.1 360.2,1196.1 361.2,1196.0 362.2,1196.0 363.2,1195.9 364.2,1195.8 365.2,1195.6 366.2,1195.2 367.2,1195.0 368.2,1195.0 369.2,1195.3 370.2,1195.6 371.2,1195.9 372.2,1196.2 373.2,1196.2 374.2,1195.9 375.2,1195.4 376.2,1195.0 377.2,1194.8 378.2,1194.8 379.2,1194.9 380.2,1195.2 381.2,1195.5 382.2,1195.8 383.2,1196.2 384.2,1196.5 385.2,1196.6 386.2,1196.6 387.2,1196.6 388.2,1196.6 389.3,1196.7 390.3,1196.7 391.3,1196.6 392.3,1196.5 393.3,1196.5 394.3,1196.7 395.3,1196.8 396.3,1196.6 397.3,1196.9 398.3,1198.3 399.3,1199.9 400.3,1200.9 401.3,1198.2 402.3,1188.6 403.3,1176.4 404.3,1166.3 405.3,1161.4 406.3,1157.3 407.3,1153.6 408.3,1150.6 409.3,1148.2 410.3,1146.6 411.3,1145.8 412.3,1145.3 413.3,1144.8 414.3,1144.4 415.3,1144.3 416.3,1144.3 417.3,1144.2 418.3,1144.1 419.3,1144.1 420.3,1144.2 421.3,1144.2 422.3,1144.2 423.3,1144.2 424.3,1144.1 425.3,1143.7 426.3,1143.3 427.4,1143.2 428.4,1143.3 429.4,1143.7 430.4,1144.0 431.4,1144.0 432.4,1143.9 433.4,1144.0 434.4,1144.4 435.4,1144.8 436.4,1145.1 437.4,1145.3 438.4,1145.5 439.4,1145.6 440.4,1145.6 441.4,1145.4 442.4,1145.2 443.4,1145.1 444.4,1145.1 445.4,1145.2 446.4,1145.4 447.4,1145.8 448.4,1147.3 449.4,1149.4 450.4,1151.9 451.4,1155.9 452.4,1162.2 453.4,1169.3 454.4,1175.5 455.4,1181.6 456.4,1187.4 457.4,1191.7 458.4,1193.7 459.4,1194.5 460.4,1195.3 461.4,1196.1 462.4,1196.9 463.4,1197.6 464.4,1198.1 465.4,1198.4 466.5,1198.8 467.5,1198.9 468.5,1198.9 469.5,1199.0 470.5,1199.2 471.5,1199.5 472.5,1199.8 473.5,1199.9 474.5,1200.0 475.5,1200.0 476.5,1200.0 477.5,1199.9 478.5,1199.9 479.5,1199.9 480.5,1199.9 481.5,1200.0 482.5,1200.3 483.5,1200.7 484.5,1201.1 485.5,1201.2 486.5,1201.1 487.5,1201.0 488.5,1200.9 489.5,1200.9 490.5,1201.0 491.5,1201.2 492.5,1201.4 493.5,1201.4 494.5,1201.6 495.5,1201.8 496.5,1202.0 497.5,1201.8 498.5,1201.5 499.5,1201.4 500.5,1201.5 501.5,1201.7 502.5,1201.9 503.5,1202.0 504.6,1202.0 505.6,1202.1 506.6,1202.3 507.6,1202.6 508.6,1202.9 509.6,1203.0 510.6,1203.1 511.6,1203.2 512.6,1203.4 513.6,1203.9 514.6,1204.3 515.6,1204.7 516.6,1206.5 517.6,1209.1 518.6,1212.0 519.6,1215.8 520.6,1220.0 521.6,1224.1 522.6,1227.8 523.6,1230.4 524.6,1231.5 525.6,1232.1 526.6,1232.7 527.6,1233.3 528.6,1233.7 529.6,1233.7 530.6,1233.3 531.6,1232.9 532.6,1232.8 533.6,1232.8 534.6,1232.8 535.6,1232.7 536.6,1232.6 537.6,1232.6 538.6,1232.7 539.6,1232.8 540.6,1232.7 541.6,1232.6 542.6,1232.3 543.7,1231.9 544.7,1231.7 545.7,1231.7 546.7,1232.2 547.7,1232.7 548.7,1233.0 549.7,1232.9 550.7,1232.6 551.7,1232.4 552.7,1232.5 553.7,1232.9 554.7,1233.5 555.7,1233.8 556.7,1233.8 557.7,1233.7 558.7,1233.2 559.7,1232.7 560.7,1232.4 561.7,1232.3 562.7,1232.3 563.7,1232.3 564.7,1232.2 565.7,1232.2 566.7,1232.4 567.7,1232.5 568.7,1232.5 569.7,1232.6 570.7,1232.7 571.7,1232.9" fill="none" stroke="#fd7d27" stroke-width="3.4" stroke-linejoin="round" stroke-linecap="round"/>
<path d="M138.6,1230.3 139.6,1230.1 140.6,1229.8 141.6,1229.7 142.6,1229.9 143.6,1230.4 144.6,1230.8 145.6,1231.2 146.6,1231.4 147.6,1231.5 148.6,1231.4 149.6,1231.1 150.6,1230.8 151.6,1230.6 152.6,1230.5 153.6,1230.7 154.6,1230.9 155.6,1231.1 156.6,1231.0 157.6,1230.8 158.7,1230.6 159.7,1230.6 160.7,1230.7 161.7,1230.7 162.7,1230.8 163.7,1231.0 164.7,1231.1 165.7,1231.0 166.7,1230.1 167.7,1225.6 168.7,1219.4 169.7,1214.2 170.7,1209.3 171.7,1204.5 172.7,1201.4 173.7,1200.3 174.7,1199.4 175.7,1198.9 176.7,1198.8 177.7,1199.0 178.7,1199.2 179.7,1199.3 180.7,1199.2 181.7,1199.1 182.7,1199.0 183.7,1198.9 184.7,1198.9 185.7,1199.1 186.7,1199.2 187.7,1199.1 188.7,1199.1 189.7,1199.3 190.7,1199.7 191.7,1199.9 192.7,1199.9 193.7,1199.7 194.7,1199.2 195.7,1198.7 196.8,1198.2 197.8,1197.9 198.8,1197.8 199.8,1197.9 200.8,1198.2 201.8,1198.4 202.8,1198.6 203.8,1198.6 204.8,1198.6 205.8,1198.6 206.8,1198.5 207.8,1198.5 208.8,1198.4 209.8,1198.3 210.8,1198.1 211.8,1198.1 212.8,1198.3 213.8,1198.9 214.8,1199.3 215.8,1199.6 216.8,1199.6 217.8,1199.5 218.8,1199.3 219.8,1199.2 220.8,1199.1 221.8,1199.0 222.8,1198.9 223.8,1199.0 224.8,1198.9 225.8,1198.8 226.8,1198.7 227.8,1198.8 228.8,1199.0 229.8,1198.9 230.8,1198.5 231.8,1198.2 232.8,1198.1 233.8,1198.1 234.8,1198.1 235.9,1197.9 236.9,1197.9 237.9,1198.0 238.9,1198.2 239.9,1198.4 240.9,1198.3 241.9,1198.1 242.9,1197.3 243.9,1195.7 244.9,1191.5 245.9,1162.5 246.9,1144.5 247.9,1140.3 248.9,1137.1 249.9,1134.9 250.9,1133.4 251.9,1132.6 252.9,1132.2 253.9,1131.8 254.9,1131.5 255.9,1131.5 256.9,1131.8 257.9,1132.2 258.9,1132.3 259.9,1132.2 260.9,1132.0 261.9,1132.0 262.9,1132.0 263.9,1131.9 264.9,1131.7 265.9,1131.5 266.9,1131.3 267.9,1131.2 268.9,1131.1 269.9,1131.0 270.9,1131.0 271.9,1131.3 272.9,1131.6 274.0,1131.8 275.0,1131.9 276.0,1131.7 277.0,1131.3 278.0,1130.8 279.0,1130.1 280.0,1129.9 281.0,1130.2 282.0,1131.0 283.0,1131.9 284.0,1132.7 285.0,1133.4 286.0,1136.7 287.0,1144.4 288.0,1153.3 289.0,1161.9 290.0,1171.9 291.0,1181.1 292.0,1187.0 293.0,1190.3 294.0,1193.0 295.0,1194.5 296.0,1194.6 297.0,1194.4 298.0,1194.1 299.0,1193.8 300.0,1193.8 301.0,1194.0 302.0,1194.4 303.0,1194.6 304.0,1194.6 305.0,1194.4 306.0,1194.2 307.0,1194.1 308.0,1193.9 309.0,1193.6 310.0,1193.4 311.0,1193.3 312.1,1193.6 313.1,1193.9 314.1,1194.1 315.1,1194.1 316.1,1193.8 317.1,1193.6 318.1,1193.5 319.1,1193.5 320.1,1193.5 321.1,1193.4 322.1,1193.5 323.1,1193.5 324.1,1193.4 325.1,1193.3 326.1,1193.3 327.1,1193.4 328.1,1193.4 329.1,1193.2 330.1,1192.9 331.1,1192.6 332.1,1192.6 333.1,1194.8 334.1,1203.4 335.1,1212.1 336.1,1220.7 337.1,1228.1 338.1,1229.6 339.1,1223.4 340.1,1214.6 341.1,1208.6 342.1,1203.5 343.1,1199.1 344.1,1196.0 345.1,1195.2 346.1,1195.0 347.1,1194.9 348.1,1195.1 349.1,1195.4 350.1,1195.5 351.2,1195.5 352.2,1195.4 353.2,1195.4 354.2,1195.5 355.2,1195.6 356.2,1195.7 357.2,1195.6 358.2,1195.5 359.2,1195.4 360.2,1195.4 361.2,1195.5 362.2,1195.7 363.2,1195.9 364.2,1195.7 365.2,1195.3 366.2,1195.0 367.2,1194.8 368.2,1194.8 369.2,1194.9 370.2,1195.3 371.2,1195.5 372.2,1195.6 373.2,1195.5 374.2,1195.4 375.2,1195.3 376.2,1195.2 377.2,1195.1 378.2,1195.2 379.2,1195.3 380.2,1195.2 381.2,1195.2 382.2,1195.3 383.2,1195.4 384.2,1195.4 385.2,1195.4 386.2,1195.5 387.2,1195.5 388.2,1195.3 389.3,1195.1 390.3,1195.1 391.3,1195.3 392.3,1195.5 393.3,1195.6 394.3,1195.5 395.3,1195.5 396.3,1195.3 397.3,1195.1 398.3,1195.0 399.3,1194.9 400.3,1194.9 401.3,1194.9 402.3,1194.8 403.3,1192.9 404.3,1185.7 405.3,1176.9 406.3,1168.0 407.3,1157.5 408.3,1150.8 409.3,1148.5 410.3,1146.6 411.3,1144.9 412.3,1143.4 413.3,1142.2 414.3,1141.4 415.3,1141.2 416.3,1141.4 417.3,1141.8 418.3,1142.3 419.3,1142.6 420.3,1142.7 421.3,1142.6 422.3,1142.6 423.3,1142.6 424.3,1142.6 425.3,1142.8 426.3,1143.1 427.4,1143.4 428.4,1143.4 429.4,1143.2 430.4,1143.2 431.4,1143.4 432.4,1143.8 433.4,1144.2 434.4,1144.3 435.4,1144.2 436.4,1143.9 437.4,1143.6 438.4,1143.7 439.4,1143.9 440.4,1144.2 441.4,1144.1 442.4,1143.8 443.4,1143.6 444.4,1143.5 445.4,1143.6 446.4,1143.9 447.4,1144.7 448.4,1146.0 449.4,1147.6 450.4,1149.3 451.4,1151.1 452.4,1153.6 453.4,1157.9 454.4,1163.3 455.4,1168.9 456.4,1174.2 457.4,1180.3 458.4,1186.7 459.4,1191.6 460.4,1193.8 461.4,1195.2 462.4,1196.3 463.4,1197.3 464.4,1198.1 465.4,1198.6 466.5,1198.8 467.5,1198.8 468.5,1198.8 469.5,1199.0 470.5,1199.5 471.5,1200.1 472.5,1200.4 473.5,1200.5 474.5,1200.5 475.5,1200.5 476.5,1200.7 477.5,1200.9 478.5,1201.0 479.5,1201.0 480.5,1200.9 481.5,1200.9 482.5,1200.9 483.5,1200.8 484.5,1200.5 485.5,1200.2 486.5,1200.2 487.5,1200.5 488.5,1201.0 489.5,1201.6 490.5,1202.0 491.5,1201.8 492.5,1201.4 493.5,1201.2 494.5,1201.3 495.5,1201.6 496.5,1201.9 497.5,1202.0 498.5,1201.7 499.5,1201.2 500.5,1200.9 501.5,1200.9 502.5,1201.4 503.5,1202.0 504.6,1202.4 505.6,1202.5 506.6,1202.7 507.6,1202.8 508.6,1203.0 509.6,1203.0 510.6,1203.2 511.6,1203.5 512.6,1203.7 513.6,1203.7 514.6,1203.6 515.6,1203.6 516.6,1204.6 517.6,1206.5 518.6,1209.1 519.6,1212.0 520.6,1216.0 521.6,1220.3 522.6,1224.4 523.6,1228.0 524.6,1230.5 525.6,1231.6 526.6,1231.9 527.6,1232.3 528.6,1232.4 529.6,1232.4 530.6,1232.3 531.6,1232.2 532.6,1232.2 533.6,1232.3 534.6,1232.4 535.6,1232.5 536.6,1232.4 537.6,1232.3 538.6,1232.3 539.6,1232.3 540.6,1232.4 541.6,1232.4 542.6,1232.5 543.7,1232.6 544.7,1232.7 545.7,1232.8 546.7,1232.8 547.7,1232.9 548.7,1232.9 549.7,1233.0 550.7,1233.2 551.7,1233.4 552.7,1233.5 553.7,1233.5 554.7,1233.4 555.7,1233.2 556.7,1232.9 557.7,1232.7 558.7,1232.6 559.7,1232.6 560.7,1232.8 561.7,1232.9 562.7,1232.8 563.7,1232.6 564.7,1232.3 565.7,1232.3 566.7,1232.4 567.7,1232.8 568.7,1233.1 569.7,1233.1 570.7,1232.8 571.7,1232.6" fill="none" stroke="#2b8a2b" stroke-width="3.4" stroke-linejoin="round" stroke-linecap="round"/>
<path d="M138.6,1232.1 139.6,1232.1 140.6,1232.1 141.6,1232.3 142.6,1232.5 143.6,1232.7 144.6,1232.8 145.6,1232.6 146.6,1232.5 147.6,1232.4 148.6,1232.5 149.6,1232.6 150.6,1232.6 151.6,1232.7 152.6,1232.7 153.7,1232.6 154.7,1232.5 155.7,1232.4 156.7,1232.5 157.7,1232.7 158.7,1232.9 159.7,1232.9 160.7,1232.9 161.7,1232.8 162.7,1232.7 163.7,1232.6 164.7,1232.4 165.7,1232.2 166.7,1232.2 167.7,1232.3 168.7,1232.4 169.7,1232.4 170.7,1228.5 171.7,1222.6 172.7,1219.6 173.7,1218.0 174.7,1216.4 175.7,1215.0 176.7,1213.8 177.7,1212.9 178.7,1212.2 179.7,1211.7 180.7,1211.3 181.8,1211.1 182.8,1210.9 183.8,1210.8 184.8,1210.5 185.8,1209.9 186.8,1209.4 187.8,1209.0 188.8,1208.9 189.8,1208.8 190.8,1208.5 191.8,1208.2 192.8,1208.0 193.8,1208.0 194.8,1207.8 195.8,1207.5 196.8,1207.1 197.8,1206.8 198.8,1206.6 199.8,1206.6 200.8,1206.6 201.8,1206.6 202.8,1206.6 203.8,1206.8 204.8,1207.0 205.8,1206.8 206.8,1206.3 207.8,1205.6 208.8,1205.2 209.9,1205.3 210.9,1205.8 211.9,1206.2 212.9,1206.4 213.9,1206.2 214.9,1206.1 215.9,1206.0 216.9,1205.8 217.9,1205.5 218.9,1205.1 219.9,1204.7 220.9,1204.4 221.9,1204.3 222.9,1204.1 223.9,1203.8 224.9,1203.6 225.9,1203.5 226.9,1203.7 227.9,1204.0 228.9,1204.2 229.9,1204.2 230.9,1204.0 231.9,1203.8 232.9,1203.7 233.9,1203.7 234.9,1203.6 235.9,1203.6 236.9,1203.6 238.0,1203.6 239.0,1203.4 240.0,1203.1 241.0,1202.7 242.0,1202.6 243.0,1202.6 244.0,1202.5 245.0,1202.3 246.0,1201.6 247.0,1193.6 248.0,1178.5 249.0,1162.9 250.0,1152.9 251.0,1147.8 252.0,1143.4 253.0,1139.9 254.0,1137.4 255.0,1135.9 256.0,1135.2 257.0,1134.6 258.0,1134.2 259.0,1134.0 260.0,1133.6 261.0,1133.1 262.0,1132.7 263.0,1132.7 264.0,1133.0 265.0,1133.3 266.1,1133.2 267.1,1132.7 268.1,1132.2 269.1,1131.9 270.1,1132.0 271.1,1132.3 272.1,1132.6 273.1,1132.8 274.1,1132.8 275.1,1132.9 276.1,1132.8 277.1,1132.7 278.1,1132.7 279.1,1132.9 280.1,1133.2 281.1,1133.5 282.1,1133.5 283.1,1133.5 284.1,1133.5 285.1,1133.7 286.1,1133.8 287.1,1133.9 288.1,1134.9 289.1,1137.4 290.1,1140.9 291.1,1144.7 292.1,1150.4 293.1,1158.6 294.2,1167.6 295.2,1175.0 296.2,1180.3 297.2,1185.1 298.2,1189.0 299.2,1191.2 300.2,1191.9 301.2,1192.4 302.2,1192.8 303.2,1192.9 304.2,1192.9 305.2,1193.0 306.2,1193.2 307.2,1193.4 308.2,1193.5 309.2,1193.4 310.2,1193.1 311.2,1192.8 312.2,1192.8 313.2,1193.1 314.2,1193.4 315.2,1193.6 316.2,1193.4 317.2,1193.0 318.2,1192.5 319.2,1192.3 320.2,1192.3 321.2,1192.5 322.3,1192.8 323.3,1193.1 324.3,1193.5 325.3,1193.9 326.3,1194.0 327.3,1193.9 328.3,1193.6 329.3,1193.5 330.3,1193.4 331.3,1193.5 332.3,1193.7 333.3,1196.9 334.3,1205.8 335.3,1214.0 336.3,1222.8 337.3,1229.4 338.3,1229.5 339.3,1222.5 340.3,1213.9 341.3,1208.0 342.3,1202.4 343.3,1197.5 344.3,1194.5 345.3,1194.0 346.3,1194.1 347.3,1194.2 348.3,1194.2 349.3,1194.3 350.4,1194.3 351.4,1194.3 352.4,1194.4 353.4,1194.5 354.4,1194.8 355.4,1195.2 356.4,1195.5 357.4,1195.4 358.4,1195.2 359.4,1194.9 360.4,1194.6 361.4,1194.5 362.4,1194.4 363.4,1194.2 364.4,1194.0 365.4,1193.9 366.4,1194.0 367.4,1194.1 368.4,1194.2 369.4,1194.1 370.4,1193.9 371.4,1193.7 372.4,1193.7 373.4,1193.8 374.4,1194.0 375.4,1194.1 376.4,1194.1 377.4,1193.9 378.5,1193.8 379.5,1194.1 380.5,1194.5 381.5,1195.0 382.5,1195.4 383.5,1195.6 384.5,1195.4 385.5,1195.2 386.5,1195.0 387.5,1194.7 388.5,1194.5 389.5,1194.5 390.5,1194.7 391.5,1195.1 392.5,1195.2 393.5,1195.2 394.5,1195.1 395.5,1195.1 396.5,1195.1 397.5,1195.0 398.5,1195.0 399.5,1195.9 400.5,1197.6 401.5,1198.7 402.5,1196.2 403.5,1187.4 404.5,1175.5 405.5,1164.2 406.6,1156.8 407.6,1154.0 408.6,1151.7 409.6,1150.1 410.6,1149.1 411.6,1148.3 412.6,1147.5 413.6,1147.0 414.6,1146.9 415.6,1147.2 416.6,1147.7 417.6,1148.1 418.6,1148.3 419.6,1148.4 420.6,1148.2 421.6,1147.7 422.6,1147.4 423.6,1147.5 424.6,1148.0 425.6,1148.6 426.6,1149.1 427.6,1149.5 428.6,1149.9 429.6,1150.2 430.6,1150.4 431.6,1150.4 432.6,1150.4 433.6,1150.3 434.7,1150.3 435.7,1150.4 436.7,1150.7 437.7,1151.0 438.7,1151.3 439.7,1151.6 440.7,1151.9 441.7,1152.0 442.7,1152.1 443.7,1152.3 444.7,1152.6 445.7,1152.8 446.7,1153.0 447.7,1153.0 448.7,1153.0 449.7,1153.1 450.7,1153.5 451.7,1153.8 452.7,1154.0 453.7,1154.2 454.7,1154.5 455.7,1154.8 456.7,1155.2 457.7,1155.5 458.7,1156.0 459.7,1156.5 460.7,1157.1 461.7,1157.7 462.8,1158.3 463.8,1159.0 464.8,1159.5 465.8,1160.1 466.8,1160.8 467.8,1161.8 468.8,1163.1 469.8,1164.7 470.8,1166.6 471.8,1168.8 472.8,1171.4 473.8,1174.5 474.8,1177.9 475.8,1181.7 476.8,1185.6 477.8,1189.8 478.8,1195.2 479.8,1201.5 480.8,1208.0 481.8,1214.1 482.8,1219.0 483.8,1222.6 484.8,1226.1 485.8,1229.4 486.8,1232.0 487.8,1233.5 488.8,1233.6 489.8,1233.3 490.9,1233.0 491.9,1233.0 492.9,1233.1 493.9,1233.4 494.9,1233.5 495.9,1233.6 496.9,1233.7 497.9,1233.8 498.9,1233.8 499.9,1233.8 500.9,1233.7 501.9,1233.4 502.9,1233.2 503.9,1233.3 504.9,1233.6" fill="none" stroke="#7b2fb3" stroke-width="3.4" stroke-linejoin="round" stroke-linecap="round"/>
<path d="M138.6,1232.8 139.6,1233.0 140.6,1233.2 141.6,1233.3 142.6,1233.5 143.6,1233.6 144.6,1233.6 145.6,1233.4 146.6,1233.4 147.6,1233.5 148.6,1233.6 149.6,1233.4 150.6,1233.1 151.6,1232.8 152.6,1232.7 153.6,1232.7 154.7,1232.8 155.7,1233.0 156.7,1233.1 157.7,1232.9 158.7,1232.7 159.7,1232.8 160.7,1233.1 161.7,1233.4 162.7,1233.5 163.7,1233.4 164.7,1233.2 165.7,1233.2 166.7,1233.4 167.7,1233.8 168.7,1233.8 169.7,1231.2 170.7,1226.6 171.7,1222.6 172.7,1220.3 173.7,1218.3 174.7,1216.6 175.7,1215.5 176.7,1214.8 177.7,1214.2 178.7,1213.8 179.7,1213.3 180.7,1212.8 181.7,1212.2 182.7,1211.6 183.7,1211.2 184.7,1211.0 185.8,1210.8 186.8,1210.4 187.8,1209.7 188.8,1209.1 189.8,1208.8 190.8,1208.8 191.8,1208.7 192.8,1208.5 193.8,1208.1 194.8,1207.6 195.8,1207.0 196.8,1206.5 197.8,1206.2 198.8,1206.1 199.8,1205.9 200.8,1205.8 201.8,1205.6 202.8,1205.4 203.8,1205.0 204.8,1204.5 205.8,1204.0 206.8,1203.5 207.8,1203.1 208.8,1203.1 209.8,1203.1 210.8,1203.1 211.8,1203.1 212.8,1203.1 213.8,1203.2 214.8,1203.2 215.8,1203.0 216.9,1202.6 217.9,1202.2 218.9,1202.1 219.9,1202.2 220.9,1202.5 221.9,1202.7 222.9,1202.8 223.9,1202.7 224.9,1202.5 225.9,1202.3 226.9,1202.3 227.9,1202.5 228.9,1202.7 229.9,1202.7 230.9,1202.6 231.9,1202.2 232.9,1201.8 233.9,1201.5 234.9,1201.4 235.9,1201.5 236.9,1201.8 237.9,1202.0 238.9,1202.0 239.9,1202.0 240.9,1202.1 241.9,1202.3 242.9,1202.4 243.9,1202.5 244.9,1202.2 245.9,1199.5 246.9,1195.1 248.0,1187.2 249.0,1173.8 250.0,1159.8 251.0,1149.9 252.0,1145.9 253.0,1142.7 254.0,1140.0 255.0,1137.9 256.0,1136.4 257.0,1135.4 258.0,1134.4 259.0,1133.3 260.0,1132.2 261.0,1131.0 262.0,1129.9 263.0,1129.0 264.0,1128.4 265.0,1128.3 266.0,1128.6 267.0,1129.0 268.0,1129.2 269.0,1129.1 270.0,1128.9 271.0,1128.8 272.0,1128.7 273.0,1128.7 274.0,1128.6 275.0,1128.4 276.0,1128.3 277.0,1128.4 278.0,1128.7 279.1,1128.9 280.1,1129.2 281.1,1129.2 282.1,1129.2 283.1,1129.3 284.1,1129.6 285.1,1130.2 286.1,1130.9 287.1,1131.7 288.1,1132.5 289.1,1133.1 290.1,1133.8 291.1,1135.1 292.1,1138.3 293.1,1142.7 294.1,1147.5 295.1,1152.4 296.1,1157.9 297.1,1165.2 298.1,1172.9 299.1,1179.5 300.1,1184.0 301.1,1186.3 302.1,1188.1 303.1,1189.0 304.1,1188.8 305.1,1188.6 306.1,1188.6 307.1,1188.9 308.1,1189.1 309.1,1189.1 310.2,1188.9 311.2,1188.6 312.2,1188.4 313.2,1188.6 314.2,1189.0 315.2,1189.2 316.2,1189.2 317.2,1189.1 318.2,1189.1 319.2,1189.1 320.2,1189.0 321.2,1189.1 322.2,1189.2 323.2,1189.3 324.2,1189.3 325.2,1189.3 326.2,1189.3 327.2,1189.2 328.2,1189.3 329.2,1189.4 330.2,1189.5 331.2,1189.8 332.2,1190.1 333.2,1191.2 334.2,1194.3 335.2,1198.7 336.2,1203.9 337.2,1214.8 338.2,1226.3 339.2,1226.0 340.2,1217.8 341.3,1209.8 342.3,1202.8 343.3,1196.1 344.3,1191.6 345.3,1190.8 346.3,1190.9 347.3,1191.0 348.3,1191.1 349.3,1191.2 350.3,1191.3 351.3,1191.3 352.3,1191.3 353.3,1191.2 354.3,1191.1 355.3,1190.9 356.3,1190.6 357.3,1190.3 358.3,1190.3 359.3,1190.3 360.3,1190.4 361.3,1190.6 362.3,1191.0 363.3,1191.4 364.3,1191.7 365.3,1191.7 366.3,1191.4 367.3,1191.0 368.3,1190.6 369.3,1190.3 370.3,1190.2 371.3,1190.2 372.4,1190.2 373.4,1190.2 374.4,1190.3 375.4,1190.4 376.4,1190.5 377.4,1190.6 378.4,1190.6 379.4,1190.6 380.4,1190.5 381.4,1190.3 382.4,1190.3 383.4,1190.5 384.4,1190.6 385.4,1190.4 386.4,1190.1 387.4,1190.0 388.4,1190.1 389.4,1190.2 390.4,1190.4 391.4,1190.6 392.4,1190.7 393.4,1190.8 394.4,1190.7 395.4,1190.7 396.4,1190.9 397.4,1193.7 398.4,1197.4 399.4,1199.9 400.4,1198.8 401.4,1193.9 402.4,1188.3 403.5,1183.4 404.5,1178.0 405.5,1172.9 406.5,1168.7 407.5,1165.8 408.5,1164.6 409.5,1164.0 410.5,1163.6 411.5,1163.5 412.5,1163.8 413.5,1164.2 414.5,1164.5 415.5,1164.6 416.5,1164.6 417.5,1164.6 418.5,1164.7 419.5,1164.6 420.5,1164.7 421.5,1165.0 422.5,1165.6 423.5,1166.3 424.5,1166.9 425.5,1167.3 426.5,1167.6 427.5,1167.8 428.5,1168.0 429.5,1168.1 430.5,1168.1 431.5,1168.1 432.5,1168.0 433.5,1168.0 434.6,1168.2 435.6,1168.4 436.6,1168.5 437.6,1168.6 438.6,1169.2 439.6,1169.9 440.6,1170.6 441.6,1170.7 442.6,1170.4 443.6,1170.1 444.6,1170.0 445.6,1170.2 446.6,1170.4 447.6,1170.7 448.6,1170.9 449.6,1171.0 450.6,1171.2 451.6,1171.5 452.6,1171.8 453.6,1171.9 454.6,1171.9 455.6,1171.9 456.6,1172.2 457.6,1172.7 458.6,1173.1 459.6,1173.2 460.6,1173.3 461.6,1173.4 462.6,1173.8 463.6,1174.0 464.6,1174.0 465.7,1173.7 466.7,1173.3 467.7,1173.3 468.7,1173.4 469.7,1173.7 470.7,1173.9 471.7,1174.2 472.7,1174.5 473.7,1174.7 474.7,1174.8 475.7,1174.7 476.7,1174.5 477.7,1174.5 478.7,1174.5 479.7,1174.5 480.7,1174.4 481.7,1174.3 482.7,1174.4 483.7,1174.5 484.7,1174.8 485.7,1175.1 486.7,1175.3 487.7,1175.4 488.7,1175.6 489.7,1175.8 490.7,1175.9 491.7,1176.0 492.7,1176.3 493.7,1178.1 494.7,1181.2 495.7,1185.7 496.8,1192.8 497.8,1201.3 498.8,1209.6 499.8,1216.4 500.8,1222.9 501.8,1228.6 502.8,1231.3 503.8,1231.9 504.8,1232.6 505.8,1233.4 506.8,1233.8 507.8,1233.8" fill="none" stroke="#e60000" stroke-width="3.4" stroke-linejoin="round" stroke-linecap="round"/>
<path d="M148.1,1094.1 H138.6 V1233.8 H572.6" fill="none" stroke="#000" stroke-width="3.3" stroke-linejoin="round"/>
<line x1="138.6" y1="1187.2" x2="148.1" y2="1187.2" stroke="#000" stroke-width="3.3"/>
<line x1="138.6" y1="1140.7" x2="148.1" y2="1140.7" stroke="#000" stroke-width="3.3"/>
<line x1="221.1" y1="1233.8" x2="221.1" y2="1224.3" stroke="#000" stroke-width="3.3"/>
<line x1="303.6" y1="1233.8" x2="303.6" y2="1224.3" stroke="#000" stroke-width="3.3"/>
<line x1="386.1" y1="1233.8" x2="386.1" y2="1224.3" stroke="#000" stroke-width="3.3"/>
<line x1="468.6" y1="1233.8" x2="468.6" y2="1224.3" stroke="#000" stroke-width="3.3"/>
<line x1="551.1" y1="1233.8" x2="551.1" y2="1224.3" stroke="#000" stroke-width="3.3"/>
<text x="109.3" y="1243.3" font-family='"Liberation Sans", sans-serif' font-size="27" text-anchor="end">0</text>
<text x="109.3" y="1196.7" font-family='"Liberation Sans", sans-serif' font-size="27" text-anchor="end">200</text>
<text x="109.3" y="1150.2" font-family='"Liberation Sans", sans-serif' font-size="27" text-anchor="end">400</text>
<text x="109.3" y="1103.6" font-family='"Liberation Sans", sans-serif' font-size="27" text-anchor="end">600</text>
<text x="138.6" y="1281.5" font-family='"Liberation Sans", sans-serif' font-size="27" text-anchor="middle">1.5</text>
<text x="221.1" y="1281.5" font-family='"Liberation Sans", sans-serif' font-size="27" text-anchor="middle">3.5</text>
<text x="303.6" y="1281.5" font-family='"Liberation Sans", sans-serif' font-size="27" text-anchor="middle">5.5</text>
<text x="386.1" y="1281.5" font-family='"Liberation Sans", sans-serif' font-size="27" text-anchor="middle">7.5</text>
<text x="468.6" y="1281.5" font-family='"Liberation Sans", sans-serif' font-size="27" text-anchor="middle">9.5</text>
<text x="551.1" y="1281.5" font-family='"Liberation Sans", sans-serif' font-size="27" text-anchor="middle">11.5</text>
<text x="157.1" y="1115.1" font-family='"Liberation Sans", sans-serif' font-size="25.43" font-weight="bold" textLength="158.4" lengthAdjust="spacingAndGlyphs">E) SUC + ROT</text>
<path d="M153.7,1172.0 h3.5 v26.6 h5.55 L155.4,1212.5 L148.1,1198.6 h5.55 z" fill="#000"/>
<path d="M235.6,1156.3 h3.5 v26.6 h5.55 L237.3,1196.8 L230.0,1182.9 h5.55 z" fill="#000"/>
<path d="M339.6,1149.2 h3.5 v26.6 h5.55 L341.3,1189.7 L334.0,1175.8 h5.55 z" fill="#000"/>
<path d="M389.6,1145.7 h3.5 v26.6 h5.55 L391.3,1186.2 L384.0,1172.3 h5.55 z" fill="#000"/>
<path d="M715.3,236.2 716.3,236.3 717.3,236.3 718.3,236.1 719.3,235.7 720.3,235.4 721.3,235.1 722.3,235.0 723.3,235.1 724.3,235.5 725.4,235.8 726.4,235.9 727.4,235.6 728.4,235.0 729.4,234.5 730.4,234.6 731.4,235.3 732.4,236.2 733.4,237.0 734.4,237.2 735.4,236.9 736.4,236.2 737.4,235.5 738.4,235.2 739.4,235.1 740.4,232.9 741.4,227.5 742.4,225.6 743.4,224.7 744.4,223.8 745.5,223.1 746.5,222.7 747.5,222.7 748.5,223.0 749.5,223.6 750.5,224.1 751.5,224.4 752.5,224.3 753.5,224.0 754.5,223.7 755.5,223.6 756.5,223.6 757.5,223.8 758.5,223.8 759.5,223.8 760.5,223.5 761.5,221.8 762.5,218.9 763.5,216.1 764.5,214.8 765.6,216.5 766.6,220.2 767.6,223.6 768.6,227.0 769.6,230.4 770.6,232.3 771.6,231.4 772.6,228.0 773.6,224.3 774.6,222.8 775.6,222.3 776.6,222.1 777.6,222.1 778.6,222.2 779.6,222.3 780.6,222.3 781.6,222.3 782.6,222.4 783.6,222.7 784.6,223.1 785.7,223.5 786.7,223.8 787.7,223.9 788.7,223.8 789.7,223.6 790.7,223.4 791.7,223.4 792.7,223.7 793.7,224.0 794.7,224.1 795.7,223.9 796.7,223.4 797.7,223.0 798.7,222.9 799.7,221.2 800.7,217.8 801.7,214.8 802.7,214.1 803.7,217.4 804.8,221.6 805.8,223.0 806.8,221.6 807.8,218.9 808.8,215.3 809.8,211.3 810.8,203.6 811.8,193.0 812.8,183.9 813.8,177.6 814.8,172.0 815.8,166.9 816.8,162.6 817.8,159.2 818.8,156.9 819.8,155.6 820.8,154.4 821.8,153.1 822.8,151.7 823.8,150.2 824.9,149.0 825.9,148.1 826.9,147.5 827.9,147.1 828.9,146.8 829.9,146.6 830.9,146.3 831.9,146.2 832.9,146.3 833.9,146.9 834.9,147.6 835.9,147.7 836.9,145.7 837.9,143.5 838.9,143.1 839.9,143.5 840.9,144.2 841.9,144.9 842.9,145.4 843.9,145.7 845.0,145.9 846.0,146.2 847.0,147.0 848.0,149.4 849.0,153.4 850.0,158.2 851.0,163.6 852.0,168.8 853.0,173.8 854.0,179.5 855.0,185.4 856.0,191.2 857.0,196.3 858.0,200.3 859.0,203.8 860.0,207.1 861.0,210.1 862.0,212.9 863.0,214.9 864.0,216.5 865.1,217.8 866.1,218.7 867.1,219.2 868.1,219.2 869.1,218.7 870.1,218.1 871.1,217.4 872.1,216.9 873.1,216.7 874.1,216.9 875.1,217.2 876.1,217.7 877.1,218.2 878.1,218.6 879.1,218.8 880.1,218.7 881.1,218.3 882.1,217.7 883.1,217.4 884.2,217.6 885.2,218.1 886.2,218.5 887.2,218.6 888.2,218.5 889.2,218.2 890.2,218.0 891.2,218.0 892.2,218.1 893.2,218.3 894.2,218.4 895.2,218.4 896.2,218.4 897.2,218.4 898.2,218.3 899.2,218.2 900.2,218.2 901.2,218.2 902.2,218.5 903.2,218.8 904.3,219.1 905.3,219.3 906.3,219.5 907.3,219.8 908.3,220.1 909.3,220.4 910.3,220.3 911.3,219.9 912.3,219.3 913.3,219.2 914.3,232.1 915.3,236.9 916.3,237.3 917.3,237.8 918.3,238.5 919.3,239.0 920.3,239.2 921.3,239.0 922.3,236.6 923.3,226.2 924.4,220.2 925.4,219.7 926.4,219.3 927.4,218.7 928.4,218.1 929.4,217.5 930.4,216.8 931.4,216.2 932.4,215.8 933.4,215.5 934.4,215.2 935.4,214.7 936.4,214.0 937.4,213.3 938.4,212.9 939.4,212.8 940.4,213.1 941.4,213.7 942.4,214.2 943.4,214.6 944.5,214.6 945.5,214.3 946.5,214.0 947.5,213.8 948.5,213.8 949.5,213.9 950.5,214.0 951.5,214.0 952.5,213.9 953.5,213.9 954.5,214.1 955.5,214.2 956.5,214.2 957.5,214.0 958.5,214.0 959.5,214.2 960.5,214.5 961.5,214.8 962.5,214.9 963.6,214.7 964.6,214.4 965.6,214.2 966.6,214.2 967.6,214.4 968.6,214.8 969.6,215.0 970.6,215.0 971.6,214.9 972.6,215.2 973.6,216.9 974.6,218.8 975.6,219.6 976.6,206.2 977.6,185.8 978.6,164.2 979.6,144.6 980.6,135.7 981.6,133.1 982.6,131.1 983.7,129.4 984.7,127.7 985.7,126.2 986.7,125.0 987.7,124.3 988.7,123.9 989.7,123.8 990.7,123.8 991.7,123.7 992.7,123.7 993.7,123.7 994.7,123.8 995.7,124.2 996.7,125.2 997.7,126.9 998.7,129.4 999.7,132.3 1000.7,135.2 1001.7,137.7 1002.7,140.0 1003.8,142.1 1004.8,144.2 1005.8,146.9 1006.8,150.4 1007.8,154.5 1008.8,158.9 1009.8,163.4 1010.8,168.6 1011.8,173.9 1012.8,179.0 1013.8,183.8 1014.8,188.0 1015.8,191.3 1016.8,194.4 1017.8,197.5 1018.8,200.6 1019.8,203.6 1020.8,206.4 1021.8,208.5 1022.8,209.8 1023.9,210.3 1024.9,210.5 1025.9,210.6 1026.9,210.7 1027.9,210.9 1028.9,211.4 1029.9,211.9 1030.9,212.4 1031.9,212.5 1032.9,212.4 1033.9,212.3 1034.9,212.3 1035.9,212.3 1036.9,212.4 1037.9,212.4 1038.9,212.5 1039.9,212.7 1040.9,212.7 1041.9,212.6 1043.0,212.3 1044.0,212.0 1045.0,211.8 1046.0,211.8 1047.0,212.0 1048.0,212.5 1049.0,213.1 1050.0,213.7 1051.0,213.8 1052.0,213.5 1053.0,212.8 1054.0,212.3 1055.0,212.2 1056.0,212.5 1057.0,212.8 1058.0,213.1 1059.0,213.2 1060.0,213.3 1061.0,213.5 1062.0,213.7 1063.1,213.9 1064.1,214.1 1065.1,214.3 1066.1,214.5 1067.1,214.7 1068.1,214.9 1069.1,215.1 1070.1,215.1 1071.1,215.0 1072.1,214.8 1073.1,214.7 1074.1,214.6 1075.1,214.5 1076.1,214.5 1077.1,214.4 1078.1,214.3 1079.1,214.3 1080.1,214.5 1081.1,214.7" fill="none" stroke="#1f6fce" stroke-width="3.4" stroke-linejoin="round" stroke-linecap="round"/>
<path d="M715.3,236.3 716.3,236.2 717.3,236.0 718.3,235.6 719.3,235.2 720.3,234.9 721.3,234.8 722.3,235.2 723.3,235.7 724.3,236.3 725.4,236.6 726.4,236.6 727.4,236.4 728.4,236.2 729.4,236.2 730.4,236.2 731.4,236.3 732.4,236.3 733.4,236.2 734.4,236.1 735.4,235.8 736.4,235.4 737.4,235.0 738.4,234.6 739.4,234.5 740.4,231.9 741.4,226.4 742.4,224.6 743.4,223.9 744.4,223.4 745.5,223.3 746.5,223.5 747.5,224.0 748.5,224.2 749.5,224.3 750.5,224.2 751.5,224.0 752.5,223.9 753.5,224.0 754.5,224.2 755.5,224.5 756.5,224.8 757.5,224.8 758.5,224.5 759.5,224.1 760.5,223.6 761.5,223.5 762.5,223.9 763.5,224.5 764.5,224.9 765.6,224.8 766.6,224.5 767.6,224.3 768.6,224.1 769.6,223.9 770.6,223.7 771.6,223.3 772.6,223.1 773.6,223.0 774.6,223.1 775.6,223.2 776.6,223.3 777.6,223.5 778.6,223.8 779.6,224.1 780.6,224.3 781.6,224.2 782.6,223.9 783.6,223.6 784.6,223.4 785.7,223.4 786.7,223.4 787.7,223.4 788.7,223.6 789.7,223.8 790.7,224.1 791.7,224.4 792.7,224.8 793.7,225.1 794.7,225.2 795.7,225.0 796.7,224.6 797.7,224.1 798.7,223.7 799.7,223.5 800.7,223.6 801.7,223.8 802.7,223.9 803.7,223.9 804.8,223.7 805.8,223.1 806.8,221.1 807.8,217.7 808.8,213.4 809.8,208.8 810.8,201.0 811.8,190.7 812.8,182.3 813.8,176.8 814.8,171.7 815.8,167.1 816.8,162.9 817.8,159.4 818.8,156.8 819.8,154.9 820.8,153.1 821.8,151.3 822.8,149.8 823.8,148.7 824.9,148.4 825.9,148.8 826.9,149.7 827.9,150.5 828.9,151.0 829.9,151.4 830.9,151.7 831.9,152.1 832.9,152.5 833.9,152.6 834.9,152.3 835.9,151.4 836.9,149.1 837.9,146.7 838.9,145.8 839.9,145.5 840.9,145.5 841.9,145.7 842.9,146.0 843.9,146.2 845.0,146.5 846.0,146.8 847.0,147.6 848.0,149.7 849.0,153.0 850.0,157.2 851.0,162.0 852.0,167.1 853.0,172.2 854.0,178.0 855.0,184.0 856.0,189.8 857.0,195.2 858.0,199.9 859.0,204.4 860.0,208.3 861.0,211.4 862.0,213.5 863.0,214.7 864.0,215.7 865.1,216.6 866.1,217.0 867.1,217.2 868.1,217.3 869.1,217.7 870.1,218.3 871.1,218.9 872.1,219.2 873.1,219.1 874.1,218.6 875.1,217.8 876.1,217.3 877.1,217.1 878.1,217.1 879.1,217.3 880.1,217.4 881.1,217.5 882.1,217.7 883.1,217.9 884.2,218.2 885.2,218.4 886.2,218.6 887.2,218.7 888.2,218.6 889.2,218.4 890.2,218.3 891.2,218.1 892.2,218.2 893.2,218.4 894.2,218.6 895.2,218.5 896.2,218.4 897.2,218.1 898.2,217.9 899.2,217.6 900.2,217.4 901.2,217.0 902.2,216.9 903.2,216.9 904.3,217.2 905.3,217.5 906.3,217.6 907.3,217.7 908.3,217.7 909.3,217.6 910.3,217.3 911.3,217.1 912.3,216.9 913.3,216.9 914.3,221.3 915.3,229.1 916.3,234.9 917.3,235.9 918.3,236.4 919.3,236.8 920.3,236.9 921.3,236.8 922.3,236.7 923.3,234.2 924.4,221.5 925.4,213.8 926.4,213.5 927.4,213.4 928.4,213.4 929.4,213.4 930.4,213.5 931.4,213.6 932.4,213.7 933.4,213.8 934.4,213.7 935.4,213.3 936.4,212.6 937.4,211.7 938.4,211.1 939.4,211.0 940.4,211.3 941.4,212.1 942.4,213.0 943.4,213.8 944.5,214.2 945.5,214.1 946.5,213.7 947.5,213.2 948.5,212.9 949.5,212.7 950.5,212.8 951.5,213.1 952.5,213.2 953.5,213.2 954.5,213.1 955.5,213.1 956.5,213.2 957.5,213.1 958.5,212.9 959.5,212.5 960.5,212.2 961.5,212.3 962.5,212.9 963.6,213.8 964.6,214.6 965.6,215.1 966.6,215.1 967.6,214.5 968.6,213.5 969.6,212.3 970.6,211.3 971.6,210.7 972.6,209.9 973.6,204.6 974.6,196.0 975.6,180.5 976.6,162.5 977.6,147.0 978.6,139.0 979.6,137.8 980.6,136.9 981.6,136.2 982.6,135.9 983.7,135.8 984.7,135.7 985.7,135.6 986.7,135.6 987.7,135.6 988.7,135.8 989.7,135.9 990.7,136.1 991.7,136.5 992.7,137.0 993.7,137.7 994.7,138.3 995.7,138.9 996.7,139.4 997.7,140.1 998.7,141.0 999.7,142.0 1000.7,143.4 1001.7,144.9 1002.7,146.5 1003.8,148.2 1004.8,149.8 1005.8,151.3 1006.8,153.0 1007.8,155.0 1008.8,157.5 1009.8,160.3 1010.8,163.1 1011.8,165.8 1012.8,168.6 1013.8,171.5 1014.8,174.6 1015.8,178.1 1016.8,181.7 1017.8,185.2 1018.8,188.5 1019.8,191.5 1020.8,194.1 1021.8,196.4 1022.8,198.5 1023.9,200.4 1024.9,202.2 1025.9,204.2 1026.9,206.0 1027.9,207.6 1028.9,208.8 1029.9,209.6 1030.9,210.1 1031.9,210.8 1032.9,211.6 1033.9,212.2 1034.9,212.7 1035.9,212.8 1036.9,212.8 1037.9,212.6 1038.9,212.3 1039.9,212.3 1040.9,212.4 1041.9,212.6 1043.0,212.7 1044.0,212.6 1045.0,212.4 1046.0,212.2 1047.0,212.0 1048.0,211.8 1049.0,211.6 1050.0,211.4 1051.0,211.5 1052.0,211.7 1053.0,211.9 1054.0,211.9 1055.0,211.7 1056.0,211.4 1057.0,211.2 1058.0,211.3 1059.0,211.6 1060.0,212.0 1061.0,212.3 1062.0,212.5 1063.1,212.6 1064.1,212.4 1065.1,211.9 1066.1,211.2 1067.1,210.6 1068.1,210.0 1069.1,209.5 1070.1,209.1 1071.1,208.8 1072.1,208.7 1073.1,209.1 1074.1,209.5 1075.1,209.6 1076.1,209.3 1077.1,208.9 1078.1,208.5 1079.1,208.4 1080.1,208.4 1081.1,208.2" fill="none" stroke="#fd7d27" stroke-width="3.4" stroke-linejoin="round" stroke-linecap="round"/>
<path d="M715.3,235.5 716.3,235.5 717.3,235.5 718.3,235.7 719.3,235.9 720.3,236.1 721.3,235.9 722.3,235.4 723.3,234.8 724.3,234.2 725.3,234.0 726.3,234.1 727.4,234.2 728.4,234.3 729.4,234.3 730.4,234.4 731.4,234.4 732.4,234.4 733.4,234.4 734.4,234.4 735.4,234.6 736.4,234.7 737.4,234.7 738.4,234.7 739.4,234.8 740.4,235.2 741.4,236.0 742.4,236.5 743.4,235.6 744.4,228.3 745.4,224.5 746.4,224.1 747.4,224.2 748.4,224.5 749.4,224.8 750.5,225.0 751.5,225.2 752.5,225.2 753.5,225.2 754.5,225.0 755.5,224.6 756.5,224.2 757.5,224.0 758.5,224.2 759.5,224.7 760.5,225.1 761.5,225.1 762.5,224.9 763.5,224.7 764.5,224.6 765.5,224.7 766.5,224.7 767.5,224.6 768.5,224.3 769.5,223.9 770.5,223.4 771.5,223.0 772.5,222.9 773.6,222.9 774.6,223.1 775.6,223.5 776.6,223.9 777.6,224.5 778.6,224.9 779.6,225.0 780.6,224.7 781.6,224.0 782.6,223.2 783.6,222.6 784.6,222.3 785.6,222.3 786.6,222.6 787.6,223.0 788.6,223.5 789.6,224.0 790.6,224.6 791.6,225.1 792.6,225.2 793.6,225.1 794.6,224.6 795.6,223.9 796.7,223.2 797.7,222.7 798.7,222.5 799.7,222.7 800.7,223.0 801.7,223.4 802.7,223.9 803.7,224.3 804.7,224.6 805.7,224.7 806.7,223.4 807.7,220.4 808.7,216.2 809.7,211.3 810.7,203.3 811.7,192.5 812.7,183.4 813.7,177.5 814.7,172.0 815.7,167.3 816.7,163.8 817.7,161.5 818.7,160.2 819.8,159.4 820.8,158.4 821.8,157.1 822.8,155.4 823.8,153.7 824.8,152.2 825.8,151.1 826.8,150.5 827.8,150.1 828.8,149.9 829.8,149.7 830.8,149.3 831.8,149.0 832.8,148.6 833.8,148.2 834.8,148.0 835.8,147.8 836.8,147.6 837.8,147.2 838.8,146.6 839.8,145.8 840.8,145.2 841.8,144.9 842.9,145.1 843.9,145.5 844.9,146.1 845.9,146.6 846.9,147.5 847.9,149.7 848.9,153.2 849.9,157.4 850.9,162.1 851.9,166.9 852.9,171.6 853.9,177.2 854.9,183.4 855.9,189.5 856.9,195.0 857.9,199.4 858.9,203.3 859.9,206.9 860.9,209.9 861.9,212.3 862.9,213.9 863.9,215.0 864.9,215.9 866.0,216.7 867.0,217.6 868.0,218.3 869.0,218.9 870.0,219.2 871.0,219.2 872.0,219.1 873.0,219.1 874.0,219.1 875.0,219.2 876.0,219.1 877.0,219.1 878.0,219.2 879.0,219.6 880.0,220.1 881.0,220.4 882.0,220.4 883.0,220.0 884.0,219.6 885.0,219.2 886.0,219.0 887.0,219.1 888.0,219.2 889.1,219.1 890.1,219.0 891.1,218.7 892.1,218.2 893.1,217.5 894.1,216.7 895.1,216.0 896.1,215.6 897.1,215.8 898.1,216.5 899.1,217.4 900.1,218.2 901.1,218.9 902.1,219.2 903.1,219.3 904.1,218.9 905.1,218.2 906.1,217.2 907.1,216.4 908.1,215.9 909.1,215.7 910.1,215.8 911.1,216.0 912.2,216.3 913.2,216.5 914.2,226.1 915.2,236.6 916.2,237.1 917.2,237.7 918.2,238.0 919.2,238.1 920.2,237.9 921.2,237.5 922.2,235.5 923.2,222.4 924.2,212.9 925.2,213.2 926.2,213.8 927.2,214.4 928.2,214.5 929.2,214.4 930.2,214.0 931.2,213.4 932.2,212.8 933.2,212.2 934.2,211.6 935.3,211.2 936.3,211.0 937.3,211.0 938.3,211.0 939.3,211.1 940.3,211.3 941.3,211.4 942.3,211.4 943.3,211.5 944.3,211.8 945.3,212.4 946.3,213.1 947.3,213.7 948.3,214.0 949.3,214.1 950.3,213.9 951.3,213.7 952.3,213.6 953.3,213.5 954.3,213.4 955.3,213.4 956.3,213.4 957.3,213.6 958.4,213.8 959.4,213.9 960.4,213.9 961.4,213.6 962.4,213.2 963.4,212.7 964.4,212.2 965.4,212.1 966.4,212.3 967.4,212.6 968.4,212.8 969.4,212.7 970.4,212.5 971.4,212.5 972.4,207.9 973.4,200.7 974.4,191.7 975.4,182.1 976.4,173.9 977.4,169.1 978.4,166.9 979.4,166.4 980.4,166.2 981.5,166.1 982.5,166.0 983.5,165.8 984.5,165.7 985.5,165.6 986.5,165.4 987.5,165.1 988.5,164.9 989.5,164.9 990.5,165.0 991.5,165.0 992.5,164.6 993.5,163.9 994.5,163.4 995.5,163.2 996.5,163.5 997.5,163.9 998.5,164.3 999.5,164.5 1000.5,164.6 1001.5,164.6 1002.5,164.6 1003.5,164.8 1004.5,165.2 1005.6,165.9 1006.6,166.6 1007.6,167.1 1008.6,167.5 1009.6,167.8 1010.6,168.3 1011.6,168.9 1012.6,169.5 1013.6,169.9 1014.6,170.2 1015.6,170.4 1016.6,170.6 1017.6,170.8 1018.6,171.1 1019.6,171.5 1020.6,171.9 1021.6,172.6 1022.6,173.6 1023.6,174.7 1024.6,175.7 1025.6,176.5 1026.6,177.1 1027.6,177.8 1028.7,178.7 1029.7,179.7 1030.7,180.5 1031.7,181.1 1032.7,181.4 1033.7,181.6 1034.7,181.7 1035.7,182.0 1036.7,182.5 1037.7,183.3 1038.7,184.2 1039.7,185.0 1040.7,185.7 1041.7,186.2 1042.7,186.7 1043.7,187.4 1044.7,188.3 1045.7,189.5 1046.7,190.8 1047.7,192.2 1048.7,193.6 1049.7,195.1 1050.7,196.4 1051.8,197.4 1052.8,198.1 1053.8,198.7 1054.8,199.6 1055.8,200.7 1056.8,201.6 1057.8,202.3 1058.8,202.5 1059.8,202.5 1060.8,202.6 1061.8,203.1 1062.8,204.2 1063.8,205.6 1064.8,207.1 1065.8,208.2 1066.8,208.9 1067.8,209.0 1068.8,209.0 1069.8,209.0 1070.8,209.1 1071.8,209.2 1072.8,209.1 1073.8,208.8 1074.9,208.4 1075.9,208.2 1076.9,208.3 1077.9,208.5 1078.9,208.9 1079.9,209.0 1080.9,209.0 1081.9,208.7 1082.9,208.4 1083.9,208.1 1084.9,208.1 1085.9,208.3 1086.9,208.9 1087.9,209.5 1088.9,209.7 1089.9,209.6 1090.9,209.2 1091.9,208.6 1092.9,208.0 1093.9,207.4 1094.9,207.0 1095.9,206.9 1096.9,207.1 1098.0,207.6 1099.0,208.3 1100.0,209.0 1101.0,209.9 1102.0,210.6 1103.0,211.2 1104.0,211.6 1105.0,211.8 1106.0,211.7 1107.0,211.3 1108.0,210.7 1109.0,210.2 1110.0,210.1 1111.0,210.4 1112.0,211.0 1113.0,211.6 1114.0,212.3 1115.0,212.7 1116.0,212.8 1117.0,212.5 1118.0,212.0 1119.0,211.5 1120.0,211.3 1121.1,211.4 1122.1,211.7 1123.1,212.0 1124.1,212.2 1125.1,212.4 1126.1,212.5 1127.1,212.4 1128.1,212.2 1129.1,211.9 1130.1,211.8 1131.1,211.8 1132.1,211.9 1133.1,212.2 1134.1,212.4 1135.1,212.6 1136.1,212.9 1137.1,213.2 1138.1,213.5 1139.1,213.8 1140.1,213.9 1141.1,213.8 1142.1,213.6 1143.1,213.2 1144.2,212.8 1145.2,212.3 1146.2,211.9 1147.2,211.6 1148.2,211.6 1149.2,211.9" fill="none" stroke="#2b8a2b" stroke-width="3.4" stroke-linejoin="round" stroke-linecap="round"/>
<path d="M715.3,235.7 716.3,235.9 717.3,236.1 718.3,236.4 719.3,236.7 720.3,237.0 721.3,237.1 722.3,236.7 723.3,236.0 724.3,235.0 725.3,234.0 726.3,233.4 727.4,233.4 728.4,233.8 729.4,234.1 730.4,234.3 731.4,234.6 732.4,235.0 733.4,235.6 734.4,236.1 735.4,236.1 736.4,235.7 737.4,235.0 738.4,234.2 739.4,233.7 740.4,231.2 741.4,225.9 742.4,224.3 743.4,224.1 744.4,224.0 745.4,223.9 746.4,223.9 747.4,224.0 748.4,224.3 749.4,224.5 750.5,224.7 751.5,224.7 752.5,224.3 753.5,223.7 754.5,223.3 755.5,223.1 756.5,223.1 757.5,223.2 758.5,223.2 759.5,223.2 760.5,222.9 761.5,222.5 762.5,222.0 763.5,221.5 764.5,221.1 765.5,221.1 766.5,221.4 767.5,222.0 768.5,222.5 769.5,222.7 770.5,222.6 771.5,222.3 772.5,222.1 773.6,222.3 774.6,223.1 775.6,223.8 776.6,224.2 777.6,224.1 778.6,223.8 779.6,223.4 780.6,223.3 781.6,223.3 782.6,223.3 783.6,223.2 784.6,222.8 785.6,222.5 786.6,222.3 787.6,222.5 788.6,223.0 789.6,223.7 790.6,224.2 791.6,224.4 792.6,224.1 793.6,223.5 794.6,222.8 795.6,222.1 796.7,221.4 797.7,220.8 798.7,220.4 799.7,220.2 800.7,220.3 801.7,220.5 802.7,221.0 803.7,221.7 804.7,222.6 805.7,223.3 806.7,220.6 807.7,214.4 808.7,207.0 809.7,199.8 810.7,191.9 811.7,184.0 812.7,177.1 813.7,171.6 814.7,167.7 815.7,164.0 816.7,160.2 817.7,156.3 818.7,152.9 819.8,150.3 820.8,148.4 821.8,147.1 822.8,146.2 823.8,145.6 824.8,145.2 825.8,144.8 826.8,144.2 827.8,143.3 828.8,142.3 829.8,141.2 830.8,140.3 831.8,139.6 832.8,139.4 833.8,139.5 834.8,139.8 835.8,140.5 836.8,141.9 837.8,144.1 838.8,146.6 839.8,149.0 840.8,150.9 841.8,152.4 842.9,153.6 843.9,154.9 844.9,156.4 845.9,158.6 846.9,161.4 847.9,165.1 848.9,170.3 849.9,176.3 850.9,182.3 851.9,188.0 852.9,193.4 853.9,199.5 854.9,205.2 855.9,208.7 856.9,210.6 857.9,212.2 858.9,213.6 859.9,214.6 860.9,215.5 861.9,216.3 862.9,217.2 863.9,217.9 864.9,218.4 866.0,218.7 867.0,219.0 868.0,219.4 869.0,219.7 870.0,219.7 871.0,219.4 872.0,219.3 873.0,219.4 874.0,219.6 875.0,219.5 876.0,219.0 877.0,218.4 878.0,218.0 879.0,217.6 880.0,217.2 881.0,216.7 882.0,216.3 883.0,216.2 884.0,216.5 885.0,217.1 886.0,217.9 887.0,218.6 888.0,219.0 889.1,219.1 890.1,219.3 891.1,219.4 892.1,219.4 893.1,218.9 894.1,218.1 895.1,217.1 896.1,216.4 897.1,216.0 898.1,216.1 899.1,216.5 900.1,216.9 901.1,217.0 902.1,216.7 903.1,216.2 904.1,216.1 905.1,216.4 906.1,217.2 907.1,217.9 908.1,218.5 909.1,219.1 910.1,219.7 911.1,220.2 912.2,220.4 913.2,220.2 914.2,219.7 915.2,219.0 916.2,218.5 917.2,218.2 918.2,218.2 919.2,226.4 920.2,235.7 921.2,235.6 922.2,235.6 923.2,235.8 924.2,236.2 925.2,236.6 926.2,235.0 927.2,230.6 928.2,226.2 929.2,224.2 930.2,223.2 931.2,222.6 932.2,222.1 933.2,221.7 934.2,221.0 935.3,220.0 936.3,218.8 937.3,217.6 938.3,216.9 939.3,216.7 940.3,216.7 941.3,216.5 942.3,216.1 943.3,215.6 944.3,215.2 945.3,215.2 946.3,215.5 947.3,216.1 948.3,216.8 949.3,217.2 950.3,217.3 951.3,217.4 952.3,217.5 953.3,217.5 954.3,217.4 955.3,217.5 956.3,217.6 957.3,217.9 958.4,218.1 959.4,218.1 960.4,218.0 961.4,217.8 962.4,217.5 963.4,217.0 964.4,216.7 965.4,216.6 966.4,216.8 967.4,217.5 968.4,218.5 969.4,219.5 970.4,220.1 971.4,228.7 972.4,234.0 973.4,233.5 974.4,232.8 975.4,231.8 976.4,230.6 977.4,229.3 978.4,223.9 979.4,214.7 980.4,206.5 981.5,202.5 982.5,199.2 983.5,196.5 984.5,194.4 985.5,193.0 986.5,191.9 987.5,191.1 988.5,190.6 989.5,190.4 990.5,190.2 991.5,190.0 992.5,189.7 993.5,189.5 994.5,189.6 995.5,189.8 996.5,189.9 997.5,189.9 998.5,189.8 999.5,189.8 1000.5,189.7 1001.5,189.6 1002.5,189.5 1003.5,189.4 1004.5,189.5 1005.6,190.1 1006.6,191.1 1007.6,192.1 1008.6,192.9 1009.6,193.2 1010.6,193.1 1011.6,193.1 1012.6,193.2 1013.6,193.5 1014.6,193.9 1015.6,194.1 1016.6,193.8 1017.6,193.0 1018.6,191.9 1019.6,190.8 1020.6,189.9 1021.6,189.4 1022.6,189.3 1023.6,189.6 1024.6,190.0 1025.6,190.6 1026.6,191.3 1027.6,192.0 1028.7,192.5 1029.7,192.8 1030.7,192.9 1031.7,193.1 1032.7,193.6 1033.7,194.3 1034.7,194.8 1035.7,195.0 1036.7,194.8 1037.7,194.2 1038.7,193.6 1039.7,193.2 1040.7,193.3 1041.7,193.7 1042.7,194.4 1043.7,195.1 1044.7,195.4 1045.7,195.6 1046.7,195.5 1047.7,195.3 1048.7,195.1 1049.7,195.2 1050.7,195.5 1051.8,195.9 1052.8,196.1 1053.8,196.3 1054.8,196.3 1055.8,196.4 1056.8,196.4 1057.8,196.3 1058.8,196.4 1059.8,196.6 1060.8,197.0 1061.8,197.2 1062.8,197.3 1063.8,197.2 1064.8,197.1 1065.8,197.1 1066.8,196.8 1067.8,196.4 1068.8,196.1 1069.8,196.0 1070.8,196.0 1071.8,196.0 1072.8,196.0 1073.8,196.2 1074.9,197.0 1075.9,198.2 1076.9,199.5 1077.9,200.4 1078.9,200.7 1079.9,200.4 1080.9,199.9 1081.9,199.6 1082.9,199.8 1083.9,200.4 1084.9,201.3 1085.9,202.4 1086.9,203.7 1087.9,205.0 1088.9,206.2 1089.9,207.2 1090.9,207.8 1091.9,208.2 1092.9,208.3 1093.9,208.3 1094.9,208.1 1095.9,207.9 1096.9,207.7 1098.0,207.6 1099.0,207.7 1100.0,208.0 1101.0,208.3 1102.0,208.6 1103.0,208.6 1104.0,207.4 1105.0,205.3 1106.0,202.9 1107.0,201.2 1108.0,200.5 1109.0,201.2 1110.0,202.4 1111.0,203.7 1112.0,204.7 1113.0,205.6 1114.0,206.2 1115.0,206.5 1116.0,206.5 1117.0,206.5 1118.0,206.8 1119.0,207.5 1120.0,208.6 1121.1,209.7 1122.1,210.3 1123.1,210.4 1124.1,209.9 1125.1,208.8 1126.1,207.7 1127.1,206.8 1128.1,206.3 1129.1,206.4 1130.1,206.9 1131.1,207.7 1132.1,208.8 1133.1,210.0 1134.1,211.2 1135.1,212.2 1136.1,212.9 1137.1,213.6 1138.1,214.2 1139.1,214.8 1140.1,215.4 1141.1,215.7 1142.1,215.5 1143.1,215.0 1144.2,214.5 1145.2,214.2 1146.2,214.5 1147.2,215.2 1148.2,216.1 1149.2,216.9" fill="none" stroke="#7b2fb3" stroke-width="3.4" stroke-linejoin="round" stroke-linecap="round"/>
<path d="M715.3,234.5 716.3,234.1 717.3,234.0 718.3,234.1 719.3,234.2 720.3,234.5 721.3,234.9 722.3,235.5 723.3,236.1 724.3,236.6 725.3,236.7 726.3,236.6 727.4,236.3 728.4,235.7 729.4,235.1 730.4,234.4 731.4,234.0 732.4,233.8 733.4,234.0 734.4,234.3 735.4,234.5 736.4,234.6 737.4,237.0 738.4,238.2 739.4,237.8 740.4,237.0 741.4,228.3 742.4,225.1 743.4,225.7 744.4,226.3 745.4,226.9 746.4,227.3 747.4,227.6 748.4,227.7 749.4,227.4 750.5,226.7 751.5,226.0 752.5,225.5 753.5,225.5 754.5,225.8 755.5,226.5 756.5,227.3 757.5,228.1 758.5,228.4 759.5,228.1 760.5,227.3 761.5,226.4 762.5,225.9 763.5,225.8 764.5,226.3 765.5,227.1 766.5,227.8 767.5,228.3 768.5,228.5 769.5,228.6 770.5,228.7 771.5,228.8 772.5,228.7 773.6,228.5 774.6,228.2 775.6,227.9 776.6,227.8 777.6,228.0 778.6,228.3 779.6,228.5 780.6,228.5 781.6,228.2 782.6,227.7 783.6,227.4 784.6,227.3 785.6,227.5 786.6,227.8 787.6,228.1 788.6,228.1 789.6,227.9 790.6,227.8 791.6,228.0 792.6,228.3 793.6,228.6 794.6,228.9 795.6,228.9 796.7,229.1 797.7,229.5 798.7,230.3 799.7,231.3 800.7,232.4 801.7,233.4 802.7,234.2 803.7,234.8 804.7,235.2 805.7,234.5 806.7,232.0 807.7,228.8 808.7,224.9 809.7,219.8 810.7,210.5 811.7,197.8 812.7,187.2 813.7,180.6 814.7,174.7 815.7,169.6 816.7,165.5 817.7,162.3 818.7,160.0 819.8,158.5 820.8,157.0 821.8,155.6 822.8,154.4 823.8,153.6 824.8,153.3 825.8,153.4 826.8,153.5 827.8,153.5 828.8,153.7 829.8,153.8 830.8,153.7 831.8,153.3 832.8,152.5 833.8,151.5 834.8,150.6 835.8,149.6 836.8,146.2 837.8,142.7 838.8,142.1 839.8,142.9 840.8,143.8 841.8,144.7 842.9,145.4 843.9,146.1 844.9,146.6 845.9,147.0 846.9,147.6 847.9,149.5 848.9,152.7 849.9,156.6 850.9,160.6 851.9,164.5 852.9,168.2 853.9,172.0 854.9,175.9 855.9,180.4 856.9,185.3 857.9,190.2 858.9,195.2 859.9,200.0 860.9,203.9 861.9,206.6 862.9,208.4 863.9,209.4 864.9,209.9 866.0,210.3 867.0,210.9 868.0,211.9 869.0,213.1 870.0,214.7 871.0,216.2 872.0,217.5 873.0,218.6 874.0,219.7 875.0,220.7 876.0,221.5 877.0,221.8 878.0,221.7 879.0,221.5 880.0,221.1 881.0,220.9 882.0,220.8 883.0,221.0 884.0,221.4 885.0,222.2 886.0,223.1 887.0,223.9 888.0,224.5 889.1,224.7 890.1,224.3 891.1,223.7 892.1,223.0 893.1,222.5 894.1,222.2 895.1,222.1 896.1,222.4 897.1,222.9 898.1,223.6 899.1,223.8 900.1,223.3 901.1,222.4 902.1,221.3 903.1,220.5 904.1,220.4 905.1,220.9 906.1,222.1 907.1,223.4 908.1,224.5 909.1,225.1 910.1,224.9 911.1,224.2 912.2,223.3 913.2,222.5 914.2,234.0 915.2,236.5 916.2,236.5 917.2,236.6 918.2,236.4 919.2,235.9 920.2,235.3 921.2,234.8 922.2,234.8 923.2,230.8 924.2,219.8 925.2,218.3 926.2,218.2 927.2,217.8 928.2,216.6 929.2,214.8 930.2,213.0 931.2,211.7 932.2,211.3 933.2,211.5 934.2,211.8 935.3,211.8 936.3,211.5 937.3,211.0 938.3,210.9 939.3,211.1 940.3,211.7 941.3,212.5 942.3,213.3 943.3,214.0 944.3,214.7 945.3,215.2 946.3,215.3 947.3,214.8 948.3,214.1 949.3,213.5 950.3,213.3 951.3,213.5 952.3,213.9 953.3,214.3 954.3,214.5 955.3,214.4 956.3,214.3 957.3,214.0 958.4,213.8 959.4,213.7 960.4,213.6 961.4,213.5 962.4,213.4 963.4,213.1 964.4,212.7 965.4,212.5 966.4,212.9 967.4,213.7 968.4,214.6 969.4,215.4 970.4,215.6 971.4,215.2 972.4,214.5 973.4,213.8 974.4,213.5 975.4,216.7 976.4,222.5 977.4,227.3 978.4,231.0 979.4,233.3 980.4,231.6 981.5,225.6 982.5,220.2 983.5,217.2 984.5,215.0 985.5,213.9 986.5,214.2 987.5,214.9 988.5,215.0 989.5,214.8 990.5,214.6 991.5,214.6 992.5,214.6 993.5,214.7 994.5,214.6 995.5,214.3 996.5,213.8 997.5,213.2 998.5,213.0 999.5,213.3 1000.5,213.9 1001.5,214.4 1002.5,214.7 1003.5,214.6 1004.5,214.2 1005.6,213.7 1006.6,213.3 1007.6,213.3 1008.6,213.4 1009.6,213.6 1010.6,213.7 1011.6,213.7 1012.6,213.6 1013.6,213.4 1014.6,213.3 1015.6,213.2 1016.6,213.2 1017.6,213.1 1018.6,212.8 1019.6,212.5 1020.6,212.5 1021.6,212.8 1022.6,213.5 1023.6,214.0 1024.6,214.0 1025.6,213.6 1026.6,213.1 1027.6,212.8 1028.7,213.0 1029.7,213.6 1030.7,214.3 1031.7,214.9 1032.7,215.2 1033.7,215.5 1034.7,215.6 1035.7,215.7 1036.7,215.9 1037.7,216.2 1038.7,216.3 1039.7,216.2 1040.7,215.9 1041.7,215.6 1042.7,215.3 1043.7,215.0 1044.7,214.7 1045.7,214.6 1046.7,214.8 1047.7,215.3 1048.7,215.8 1049.7,215.9 1050.7,215.7 1051.8,215.3 1052.8,214.9 1053.8,214.7 1054.8,214.7 1055.8,214.7 1056.8,214.9 1057.8,215.2 1058.8,215.7 1059.8,215.9 1060.8,215.9 1061.8,215.6 1062.8,215.2 1063.8,215.0 1064.8,214.8 1065.8,214.5 1066.8,214.2 1067.8,214.1 1068.8,214.1 1069.8,214.4 1070.8,214.7 1071.8,215.1 1072.8,215.3 1073.8,215.5 1074.9,215.5 1075.9,215.5 1076.9,215.4 1077.9,215.2 1078.9,215.0 1079.9,214.9 1080.9,215.2 1081.9,215.8 1082.9,216.8 1083.9,217.5 1084.9,217.9 1085.9,217.8 1086.9,217.3 1087.9,216.7 1088.9,216.2 1089.9,215.8 1090.9,215.7 1091.9,216.0 1092.9,216.6 1093.9,217.3 1094.9,217.9 1095.9,218.1 1096.9,218.1 1098.0,218.1 1099.0,218.4 1100.0,218.8 1101.0,219.1 1102.0,218.9 1103.0,218.3 1104.0,217.6 1105.0,217.2 1106.0,216.9 1107.0,216.7 1108.0,216.5 1109.0,216.4 1110.0,216.4 1111.0,216.4 1112.0,216.5 1113.0,216.8 1114.0,217.3 1115.0,217.7 1116.0,217.8 1117.0,217.6 1118.0,217.4 1119.0,217.4 1120.0,217.5 1121.1,217.6 1122.1,217.5 1123.1,217.3 1124.1,216.9 1125.1,216.6 1126.1,216.4 1127.1,216.5 1128.1,216.8 1129.1,217.3 1130.1,217.8 1131.1,218.2 1132.1,218.4 1133.1,218.3 1134.1,218.0 1135.1,217.6 1136.1,217.2 1137.1,216.8 1138.1,216.5 1139.1,216.3 1140.1,216.2 1141.1,216.3 1142.1,216.9 1143.1,217.7 1144.2,218.7 1145.2,219.4 1146.2,219.7 1147.2,219.5 1148.2,219.0 1149.2,218.5" fill="none" stroke="#e60000" stroke-width="3.4" stroke-linejoin="round" stroke-linecap="round"/>
<path d="M725.7,100.3 H716.2 V239.3 H1148.3" fill="none" stroke="#000" stroke-width="3.3" stroke-linejoin="round"/>
<line x1="716.2" y1="204.6" x2="725.7" y2="204.6" stroke="#000" stroke-width="3.3"/>
<line x1="716.2" y1="169.8" x2="725.7" y2="169.8" stroke="#000" stroke-width="3.3"/>
<line x1="716.2" y1="135.1" x2="725.7" y2="135.1" stroke="#000" stroke-width="3.3"/>
<line x1="784.7" y1="239.3" x2="784.7" y2="229.8" stroke="#000" stroke-width="3.3"/>
<line x1="854.1" y1="239.3" x2="854.1" y2="229.8" stroke="#000" stroke-width="3.3"/>
<line x1="923.6" y1="239.3" x2="923.6" y2="229.8" stroke="#000" stroke-width="3.3"/>
<line x1="993.0" y1="239.3" x2="993.0" y2="229.8" stroke="#000" stroke-width="3.3"/>
<line x1="1062.4" y1="239.3" x2="1062.4" y2="229.8" stroke="#000" stroke-width="3.3"/>
<line x1="1131.8" y1="239.3" x2="1131.8" y2="229.8" stroke="#000" stroke-width="3.3"/>
<text x="687.1" y="245.8" font-family='"Liberation Sans", sans-serif' font-size="27" text-anchor="end">0</text>
<text x="687.1" y="212.4" font-family='"Liberation Sans", sans-serif' font-size="27" text-anchor="end">25</text>
<text x="687.1" y="178.3" font-family='"Liberation Sans", sans-serif' font-size="27" text-anchor="end">50</text>
<text x="687.1" y="143.6" font-family='"Liberation Sans", sans-serif' font-size="27" text-anchor="end">75</text>
<text x="687.1" y="108.8" font-family='"Liberation Sans", sans-serif' font-size="27" text-anchor="end">100</text>
<text x="715.3" y="287.0" font-family='"Liberation Sans", sans-serif' font-size="27" text-anchor="middle">1.5</text>
<text x="784.7" y="287.0" font-family='"Liberation Sans", sans-serif' font-size="27" text-anchor="middle">3.5</text>
<text x="854.1" y="287.0" font-family='"Liberation Sans", sans-serif' font-size="27" text-anchor="middle">5.5</text>
<text x="923.6" y="287.0" font-family='"Liberation Sans", sans-serif' font-size="27" text-anchor="middle">7.5</text>
<text x="993.0" y="287.0" font-family='"Liberation Sans", sans-serif' font-size="27" text-anchor="middle">9.5</text>
<text x="1062.4" y="287.0" font-family='"Liberation Sans", sans-serif' font-size="27" text-anchor="middle">11.5</text>
<text x="1131.8" y="287.0" font-family='"Liberation Sans", sans-serif' font-size="27" text-anchor="middle">13.5</text>
<text x="736.8" y="120.8" font-family='"Liberation Sans", sans-serif' font-size="25.43" font-weight="bold" textLength="71.1" lengthAdjust="spacingAndGlyphs">F) PM</text>
<path d="M736.8,175.2 h3.5 v26.6 h5.55 L738.5,215.7 L731.2,201.8 h5.55 z" fill="#000"/>
<path d="M800.8,167.6 h3.5 v26.6 h5.55 L802.5,208.1 L795.2,194.2 h5.55 z" fill="#000"/>
<path d="M917.5,172.6 h3.5 v26.6 h5.55 L919.3,213.1 L912.0,199.2 h5.55 z" fill="#000"/>
<path d="M960.6,166.3 h3.5 v26.6 h5.55 L962.4,206.8 L955.1,192.9 h5.55 z" fill="#000"/>
<path d="M715.3,483.5 716.3,482.9 717.3,482.4 718.3,481.9 719.3,481.6 720.3,481.2 721.3,480.9 722.3,480.8 723.3,480.9 724.3,481.2 725.3,481.7 726.3,482.1 727.4,482.4 728.4,482.4 729.4,482.1 730.4,481.9 731.4,481.9 732.4,482.1 733.4,482.1 734.4,481.8 735.4,481.3 736.4,480.9 737.4,480.8 738.4,481.1 739.4,481.6 740.4,482.1 741.4,482.4 742.4,482.5 743.4,482.0 744.4,478.1 745.4,475.4 746.4,474.2 747.4,473.3 748.4,472.8 749.4,472.4 750.5,472.4 751.5,472.6 752.5,473.0 753.5,473.6 754.5,474.0 755.5,473.9 756.5,473.4 757.5,472.8 758.5,472.4 759.5,472.3 760.5,472.4 761.5,472.5 762.5,472.5 763.5,472.4 764.5,472.2 765.5,472.0 766.5,471.8 767.5,471.7 768.5,471.5 769.5,471.3 770.5,471.1 771.5,470.9 772.5,470.9 773.6,471.3 774.6,471.8 775.6,472.2 776.6,472.3 777.6,472.1 778.6,471.9 779.6,471.8 780.6,471.6 781.6,471.3 782.6,471.0 783.6,470.7 784.6,470.9 785.6,471.5 786.6,472.2 787.6,472.7 788.6,473.1 789.6,473.2 790.6,472.8 791.6,472.1 792.6,471.2 793.6,470.6 794.6,470.4 795.6,470.9 796.7,471.6 797.7,472.3 798.7,472.7 799.7,472.9 800.7,473.0 801.7,473.0 802.7,472.9 803.7,472.5 804.7,471.9 805.7,471.4 806.7,470.5 807.7,469.1 808.7,467.6 809.7,466.0 810.7,464.0 811.7,461.8 812.7,459.8 813.7,458.6 814.7,458.2 815.7,458.3 816.7,458.4 817.7,458.3 818.7,458.0 819.8,457.7 820.8,457.5 821.8,457.4 822.8,457.2 823.8,456.9 824.8,456.7 825.8,456.6 826.8,456.5 827.8,456.4 828.8,456.2 829.8,456.0 830.8,455.7 831.8,455.6 832.8,455.8 833.8,456.0 834.8,456.2 835.8,456.2 836.8,456.0 837.8,455.6 838.8,455.0 839.8,454.2 840.8,453.3 841.8,452.5 842.9,451.9 843.9,451.8 844.9,451.9 845.9,452.0 846.9,451.8 847.9,451.4 848.9,450.7 849.9,449.9 850.9,449.3 851.9,448.8 852.9,448.6 853.9,448.5 854.9,448.4 855.9,448.3 856.9,448.3 857.9,448.5 858.9,448.8 859.9,449.0 860.9,448.9 861.9,448.7 862.9,448.6 863.9,448.3 864.9,447.8 866.0,446.9 867.0,446.0 868.0,445.3 869.0,444.8 870.0,444.5 871.0,444.2 872.0,444.0 873.0,443.9 874.0,443.6 875.0,443.3 876.0,442.9 877.0,442.7 878.0,442.7 879.0,442.9 880.0,443.1 881.0,443.1 882.0,443.1 883.0,443.0 884.0,442.8 885.0,442.7 886.0,442.6 887.0,442.4 888.0,442.1 889.1,441.8 890.1,441.7 891.1,441.7 892.1,441.8 893.1,441.9 894.1,442.0 895.1,442.4 896.1,442.9 897.1,443.8 898.1,445.1 899.1,446.4 900.1,447.5 901.1,448.4 902.1,449.9 903.1,452.3 904.1,455.5 905.1,458.9 906.1,462.2 907.1,465.0 908.1,467.2 909.1,468.6 910.1,469.2 911.1,469.6 912.2,470.0 913.2,470.5 914.2,471.3 915.2,472.1 916.2,472.6 917.2,472.6 918.2,472.3 919.2,471.8 920.2,471.3 921.2,470.9 922.2,470.5 923.2,470.2 924.2,470.1 925.2,470.0 926.2,470.0 927.2,470.1 928.2,470.2 929.2,470.1 930.2,469.9 931.2,469.6 932.2,469.4 933.2,469.6 934.2,470.1 935.3,470.8 936.3,471.5 937.3,472.0 938.3,472.5 939.3,472.8 940.3,473.0 941.3,473.0 942.3,472.8 943.3,472.4 944.3,471.9 945.3,471.6 946.3,471.8 947.3,472.3 948.3,472.8 949.3,473.2 950.3,473.1 951.3,472.7 952.3,472.3 953.3,472.2 954.3,472.3 955.3,472.3 956.3,472.3 957.3,472.1 958.4,471.9 959.4,471.6 960.4,471.3 961.4,470.8 962.4,470.6 963.4,470.6 964.4,470.7 965.4,470.6 966.4,470.2 967.4,469.8 968.4,469.4 969.4,469.1 970.4,469.2 971.4,469.6 972.4,470.4 973.4,471.3 974.4,474.3 975.4,482.6 976.4,482.8 977.4,482.3 978.4,481.8 979.4,481.6 980.4,481.6 981.5,481.7 982.5,481.8 983.5,481.6 984.5,475.8 985.5,468.2 986.5,466.4 987.5,466.3 988.5,466.3 989.5,466.5 990.5,466.7 991.5,466.8 992.5,466.8 993.5,466.6 994.5,466.3 995.5,466.2 996.5,466.3 997.5,466.5 998.5,466.6 999.5,466.7 1000.5,466.6 1001.5,466.5 1002.5,466.3 1003.5,466.2 1004.5,465.9 1005.6,465.5 1006.6,465.2 1007.6,465.2 1008.6,465.6 1009.6,466.4 1010.6,467.3 1011.6,467.8 1012.6,467.8 1013.6,467.4 1014.6,466.9 1015.6,466.3 1016.6,465.8 1017.6,465.5 1018.6,465.6 1019.6,466.0 1020.6,466.5 1021.6,466.8 1022.6,466.7 1023.6,466.2 1024.6,465.6 1025.6,465.0 1026.6,464.8 1027.6,465.0 1028.7,465.5 1029.7,466.0 1030.7,466.3 1031.7,466.2 1032.7,466.0 1033.7,465.7 1034.7,465.7 1035.7,465.7 1036.7,464.0 1037.7,460.9 1038.7,457.3 1039.7,451.4 1040.7,443.4 1041.7,438.6 1042.7,436.4 1043.7,434.1 1044.7,432.1 1045.7,430.4 1046.7,428.7 1047.7,427.0 1048.7,425.5 1049.7,424.3 1050.7,423.7 1051.8,423.6 1052.8,423.7 1053.8,423.6 1054.8,423.4 1055.8,423.1 1056.8,423.1 1057.8,423.2 1058.8,423.5 1059.8,423.7 1060.8,423.6 1061.8,423.2 1062.8,422.6 1063.8,422.1 1064.8,421.7 1065.8,421.8 1066.8,422.3 1067.8,423.1 1068.8,423.9 1069.8,424.6 1070.8,424.9 1071.8,424.9 1072.8,424.5 1073.8,424.0 1074.9,423.3 1075.9,422.6 1076.9,422.0 1077.9,421.9 1078.9,422.2 1079.9,422.7 1080.9,423.1 1081.9,423.3 1082.9,423.6 1083.9,424.1 1084.9,424.7 1085.9,425.0 1086.9,424.8 1087.9,424.5 1088.9,424.5 1089.9,424.9 1090.9,425.8 1091.9,427.2 1092.9,428.9 1093.9,431.0 1094.9,433.9 1095.9,437.5 1096.9,441.8 1098.0,446.7 1099.0,451.7 1100.0,456.2 1101.0,460.0 1102.0,462.8 1103.0,464.6 1104.0,465.6 1105.0,466.4 1106.0,467.2 1107.0,467.8 1108.0,468.1 1109.0,468.4 1110.0,468.5 1111.0,468.5 1112.0,468.5 1113.0,468.4 1114.0,468.4 1115.0,468.4 1116.0,468.6 1117.0,468.7 1118.0,468.7 1119.0,468.4 1120.0,467.9 1121.1,467.4 1122.1,467.1 1123.1,467.0 1124.1,467.3 1125.1,467.6 1126.1,468.0 1127.1,468.2 1128.1,468.5 1129.1,468.7 1130.1,468.9 1131.1,468.9 1132.1,468.9 1133.1,468.8 1134.1,468.8 1135.1,468.7 1136.1,468.7 1137.1,468.6 1138.1,468.6 1139.1,468.7 1140.1,468.9 1141.1,469.3 1142.1,469.7 1143.1,470.0 1144.2,470.1 1145.2,470.1 1146.2,469.9 1147.2,469.5 1148.2,469.1 1149.2,468.6" fill="none" stroke="#1f6fce" stroke-width="3.4" stroke-linejoin="round" stroke-linecap="round"/>
<path d="M715.3,481.2 716.3,481.7 717.3,482.4 718.3,483.1 719.3,483.7 720.3,484.0 721.3,484.2 722.3,484.1 723.3,483.7 724.3,483.1 725.3,482.3 726.3,481.7 727.4,481.6 728.4,481.9 729.4,482.3 730.4,482.5 731.4,482.4 732.4,482.2 733.4,482.0 734.4,482.0 735.4,482.3 736.4,482.6 737.4,483.1 738.4,483.5 739.4,483.8 740.4,484.1 741.4,484.1 742.4,484.1 743.4,483.5 744.4,479.5 745.4,476.5 746.4,474.5 747.4,472.7 748.4,471.3 749.4,470.7 750.5,471.0 751.5,471.7 752.5,472.4 753.5,472.8 754.5,472.9 755.5,472.7 756.5,472.5 757.5,472.4 758.5,472.5 759.5,472.9 760.5,473.6 761.5,474.2 762.5,474.5 763.5,474.5 764.5,474.2 765.5,473.9 766.5,473.6 767.5,473.3 768.5,473.1 769.5,473.1 770.5,473.1 771.5,473.4 772.5,473.8 773.6,474.2 774.6,474.3 775.6,474.1 776.6,473.6 777.6,473.2 778.6,472.8 779.6,472.4 780.6,472.1 781.6,471.9 782.6,471.8 783.6,471.8 784.6,471.8 785.6,471.8 786.6,471.8 787.6,471.8 788.6,471.9 789.6,472.1 790.6,472.5 791.6,473.0 792.6,467.8 793.6,473.2 794.6,473.4 795.6,473.5 796.7,473.4 797.7,473.1 798.7,472.5 799.7,471.8 800.7,471.3 801.7,470.9 802.7,470.7 803.7,470.9 804.7,471.3 805.7,471.9 806.7,471.5 807.7,470.0 808.7,467.8 809.7,465.5 810.7,463.1 811.7,461.0 812.7,459.4 813.7,458.7 814.7,458.7 815.7,459.0 816.7,459.2 817.7,459.5 818.7,459.7 819.8,459.8 820.8,459.8 821.8,459.4 822.8,458.8 823.8,458.1 824.8,457.4 825.8,457.0 826.8,457.0 827.8,457.0 828.8,456.8 829.8,456.3 830.8,455.7 831.8,455.4 832.8,455.2 833.8,455.2 834.8,455.2 835.8,455.0 836.8,454.8 837.8,454.5 838.8,454.3 839.8,454.1 840.8,453.9 841.8,453.7 842.9,453.5 843.9,453.2 844.9,452.9 845.9,452.7 846.9,452.4 847.9,452.1 848.9,451.5 849.9,450.9 850.9,450.4 851.9,449.9 852.9,449.5 853.9,448.9 854.9,448.3 855.9,447.7 856.9,447.3 857.9,447.0 858.9,446.8 859.9,446.7 860.9,446.9 861.9,447.4 862.9,447.9 863.9,448.2 864.9,448.1 866.0,447.6 867.0,446.8 868.0,445.8 869.0,445.0 870.0,444.3 871.0,443.8 872.0,443.2 873.0,442.8 874.0,442.5 875.0,442.6 876.0,443.0 877.0,443.5 878.0,443.8 879.0,443.9 880.0,443.9 881.0,443.9 882.0,443.9 883.0,443.8 884.0,443.7 885.0,443.5 886.0,443.3 887.0,443.3 888.0,443.4 889.1,443.7 890.1,443.9 891.1,443.9 892.1,443.6 893.1,443.1 894.1,442.7 895.1,442.5 896.1,442.5 897.1,442.5 898.1,442.5 899.1,442.6 900.1,443.1 901.1,444.0 902.1,445.4 903.1,447.0 904.1,448.6 905.1,450.2 906.1,451.6 907.1,453.2 908.1,455.1 909.1,457.2 910.1,459.5 911.1,461.6 912.2,463.5 913.2,465.4 914.2,466.9 915.2,468.0 916.2,468.8 917.2,469.4 918.2,469.9 919.2,470.3 920.2,470.3 921.2,470.1 922.2,469.7 923.2,469.3 924.2,468.9 925.2,468.7 926.2,468.7 927.2,468.9 928.2,469.1 929.2,469.4 930.2,469.8 931.2,470.2 932.2,470.5 933.2,470.5 934.2,470.2 935.3,469.9 936.3,469.8 937.3,469.9 938.3,469.9 939.3,469.9 940.3,469.7 941.3,469.6 942.3,469.6 943.3,469.9 944.3,470.4 945.3,471.1 946.3,471.5 947.3,471.6 948.3,471.4 949.3,471.2 950.3,470.9 951.3,470.9 952.3,471.2 953.3,471.5 954.3,471.8 955.3,471.9 956.3,471.8 957.3,471.7 958.4,471.6 959.4,471.2 960.4,470.7 961.4,470.0 962.4,469.4 963.4,469.0 964.4,469.0 965.4,469.4 966.4,469.9 967.4,470.3 968.4,470.4 969.4,470.4 970.4,470.4 971.4,470.3 972.4,470.2 973.4,470.1 974.4,472.4 975.4,480.5 976.4,481.0 977.4,481.5 978.4,482.1 979.4,482.5 980.4,482.5 981.5,482.1 982.5,481.7 983.5,481.0 984.5,474.7 985.5,466.8 986.5,464.6 987.5,464.4 988.5,464.5 989.5,464.9 990.5,465.4 991.5,465.6 992.5,465.7 993.5,465.7 994.5,465.8 995.5,466.0 996.5,466.2 997.5,466.5 998.5,466.8 999.5,467.1 1000.5,467.4 1001.5,467.4 1002.5,467.2 1003.5,467.0 1004.5,466.7 1005.6,466.5 1006.6,466.4 1007.6,466.3 1008.6,466.4 1009.6,466.6 1010.6,466.8 1011.6,467.0 1012.6,467.3 1013.6,467.7 1014.6,467.9 1015.6,468.0 1016.6,467.8 1017.6,467.7 1018.6,467.7 1019.6,467.7 1020.6,467.7 1021.6,467.5 1022.6,467.3 1023.6,467.1 1024.6,466.8 1025.6,466.6 1026.6,466.3 1027.6,466.2 1028.7,466.3 1029.7,466.6 1030.7,467.1 1031.7,467.6 1032.7,468.1 1033.7,468.6 1034.7,468.9 1035.7,469.1 1036.7,469.2 1037.7,469.3 1038.7,468.0 1039.7,461.4 1040.7,453.3 1041.7,445.3 1042.7,436.8 1043.7,432.5 1044.7,429.8 1045.7,427.5 1046.7,425.7 1047.7,424.5 1048.7,423.7 1049.7,423.2 1050.7,423.0 1051.8,422.9 1052.8,423.0 1053.8,423.1 1054.8,423.1 1055.8,422.9 1056.8,422.4 1057.8,421.5 1058.8,420.8 1059.8,420.4 1060.8,420.6 1061.8,421.4 1062.8,422.3 1063.8,422.9 1064.8,423.2 1065.8,423.2 1066.8,423.1 1067.8,422.9 1068.8,422.5 1069.8,422.1 1070.8,421.6 1071.8,421.4 1072.8,421.4 1073.8,421.4 1074.9,421.5 1075.9,421.5 1076.9,421.4 1077.9,421.4 1078.9,421.4 1079.9,421.2 1080.9,421.0 1081.9,420.8 1082.9,420.7 1083.9,420.7 1084.9,420.9 1085.9,421.3 1086.9,422.5 1087.9,424.3 1088.9,426.5 1089.9,428.9 1090.9,431.5 1091.9,434.1 1092.9,436.8 1093.9,439.5 1094.9,441.9 1095.9,443.9 1096.9,445.6 1098.0,447.3 1099.0,449.1 1100.0,450.9 1101.0,452.8 1102.0,454.7 1103.0,456.6 1104.0,458.5 1105.0,460.3 1106.0,461.6 1107.0,462.8 1108.0,463.8 1109.0,464.7 1110.0,465.4 1111.0,465.9 1112.0,466.0 1113.0,465.9 1114.0,465.8 1115.0,465.9 1116.0,466.0 1117.0,466.3 1118.0,466.5 1119.0,466.5 1120.0,466.7 1121.1,467.0 1122.1,467.7 1123.1,468.4 1124.1,468.8 1125.1,468.6 1126.1,467.8 1127.1,466.9 1128.1,466.3 1129.1,466.1 1130.1,466.2 1131.1,466.5 1132.1,466.9 1133.1,467.3 1134.1,467.6 1135.1,467.7 1136.1,467.7 1137.1,467.6 1138.1,467.3 1139.1,467.0 1140.1,466.7 1141.1,466.7 1142.1,467.2 1143.1,468.0 1144.2,468.8 1145.2,469.1 1146.2,469.0 1147.2,468.6 1148.2,468.2 1149.2,468.0" fill="none" stroke="#fd7d27" stroke-width="3.4" stroke-linejoin="round" stroke-linecap="round"/>
<path d="M715.3,481.8 716.3,481.6 717.3,481.9 718.3,482.7 719.3,483.6 720.3,484.4 721.3,484.7 722.3,484.7 723.3,484.3 724.3,483.6 725.3,483.0 726.3,482.7 727.4,482.5 728.4,482.6 729.4,482.9 730.4,483.2 731.4,483.3 732.4,483.4 733.4,483.2 734.4,482.8 735.4,482.3 736.4,481.7 737.4,481.5 738.4,481.6 739.4,481.8 740.4,482.0 741.4,482.1 742.4,482.2 743.4,481.8 744.4,478.4 745.4,476.1 746.4,474.9 747.4,473.6 748.4,472.4 749.4,471.6 750.5,471.3 751.5,471.3 752.5,471.4 753.5,471.6 754.5,471.8 755.5,472.3 756.5,472.7 757.5,472.9 758.5,472.7 759.5,472.3 760.5,471.8 761.5,471.4 762.5,471.5 763.5,471.6 764.5,471.7 765.5,471.5 766.5,471.4 767.5,471.5 768.5,472.0 769.5,472.8 770.5,473.5 771.5,473.8 772.5,473.7 773.6,473.5 774.6,473.2 775.6,473.1 776.6,473.1 777.6,473.1 778.6,473.0 779.6,472.9 780.6,473.0 781.6,473.0 782.6,473.0 783.6,473.0 784.6,473.1 785.6,473.4 786.6,473.7 787.6,474.1 788.6,474.3 789.6,474.1 790.6,473.4 791.6,472.5 792.6,471.8 793.6,471.3 794.6,471.3 795.6,471.5 796.7,471.8 797.7,472.1 798.7,472.3 799.7,472.3 800.7,472.2 801.7,472.2 802.7,472.2 803.7,472.2 804.7,472.3 805.7,472.5 806.7,472.0 807.7,470.9 808.7,469.4 809.7,467.8 810.7,465.6 811.7,463.4 812.7,461.5 813.7,460.3 814.7,459.9 815.7,459.5 816.7,458.9 817.7,458.1 818.7,457.4 819.8,456.8 820.8,456.4 821.8,456.1 822.8,456.0 823.8,455.9 824.8,455.9 825.8,455.9 826.8,456.0 827.8,456.0 828.8,456.1 829.8,455.9 830.8,455.3 831.8,454.3 832.8,453.2 833.8,452.1 834.8,451.3 835.8,450.7 836.8,450.2 837.8,449.8 838.8,449.6 839.8,449.5 840.8,449.5 841.8,449.6 842.9,449.8 843.9,450.0 844.9,449.9 845.9,449.3 846.9,448.3 847.9,447.4 848.9,447.0 849.9,447.2 850.9,447.5 851.9,447.7 852.9,447.6 853.9,447.3 854.9,446.9 855.9,446.6 856.9,446.4 857.9,446.3 858.9,446.2 859.9,446.0 860.9,445.8 861.9,445.3 862.9,444.8 863.9,444.1 864.9,443.5 866.0,442.9 867.0,442.4 868.0,442.0 869.0,441.7 870.0,441.6 871.0,441.6 872.0,441.8 873.0,442.0 874.0,441.8 875.0,441.3 876.0,440.8 877.0,440.6 878.0,441.0 879.0,441.7 880.0,442.3 881.0,442.2 882.0,441.3 883.0,440.1 884.0,439.0 885.0,438.5 886.0,438.4 887.0,438.5 888.0,438.5 889.1,438.3 890.1,438.0 891.1,437.7 892.1,437.2 893.1,436.7 894.1,436.4 895.1,436.3 896.1,436.6 897.1,437.1 898.1,437.5 899.1,437.7 900.1,437.5 901.1,437.1 902.1,436.8 903.1,436.9 904.1,437.4 905.1,438.2 906.1,439.1 907.1,440.1 908.1,441.1 909.1,442.0 910.1,442.9 911.1,444.1 912.2,445.8 913.2,447.9 914.2,450.2 915.2,452.7 916.2,455.3 917.2,457.8 918.2,460.4 919.2,463.1 920.2,465.6 921.2,468.0 922.2,470.1 923.2,471.7 924.2,472.5 925.2,472.7 926.2,472.7 927.2,472.7 928.2,472.6 929.2,472.5 930.2,472.5 931.2,472.6 932.2,473.0 933.2,473.4 934.2,473.7 935.3,473.7 936.3,473.4 937.3,472.9 938.3,472.6 939.3,472.5 940.3,472.5 941.3,472.7 942.3,472.8 943.3,472.8 944.3,472.4 945.3,471.9 946.3,471.3 947.3,470.7 948.3,470.4 949.3,470.3 950.3,470.3 951.3,470.4 952.3,470.4 953.3,470.6 954.3,470.9 955.3,471.3 956.3,471.6 957.3,471.7 958.4,471.8 959.4,471.9 960.4,472.1 961.4,472.2 962.4,472.3 963.4,472.2 964.4,472.1 965.4,471.9 966.4,471.9 967.4,471.9 968.4,472.1 969.4,472.2 970.4,472.3 971.4,472.5 972.4,472.7 973.4,473.0 974.4,475.5 975.4,482.9 976.4,483.5 977.4,483.6 978.4,483.5 979.4,483.2 980.4,482.7 981.5,482.2 982.5,482.1 983.5,482.2 984.5,476.7 985.5,469.4 986.5,467.7 987.5,467.4 988.5,466.7 989.5,465.9 990.5,465.2 991.5,464.8 992.5,464.7 993.5,465.0 994.5,465.3 995.5,465.5 996.5,465.4 997.5,465.1 998.5,464.8 999.5,464.8 1000.5,464.9 1001.5,465.0 1002.5,465.2 1003.5,465.3 1004.5,465.5 1005.6,465.7 1006.6,465.9 1007.6,466.1 1008.6,466.3 1009.6,466.4 1010.6,466.2 1011.6,465.8 1012.6,465.1 1013.6,464.4 1014.6,463.9 1015.6,463.9 1016.6,464.5 1017.6,465.4 1018.6,466.1 1019.6,466.6 1020.6,466.7 1021.6,466.8 1022.6,466.7 1023.6,466.5 1024.6,466.1 1025.6,465.8 1026.6,465.4 1027.6,465.2 1028.7,465.1 1029.7,465.6 1030.7,466.5 1031.7,467.7 1032.7,468.6 1033.7,469.0 1034.7,465.7 1035.7,458.8 1036.7,451.0 1037.7,444.8 1038.7,441.7 1039.7,439.1 1040.7,436.6 1041.7,434.4 1042.7,432.5 1043.7,430.8 1044.7,429.5 1045.7,428.6 1046.7,428.2 1047.7,428.1 1048.7,427.9 1049.7,427.5 1050.7,426.9 1051.8,426.4 1052.8,425.9 1053.8,425.7 1054.8,425.7 1055.8,425.6 1056.8,425.3 1057.8,424.9 1058.8,424.5 1059.8,424.2 1060.8,424.3 1061.8,424.6 1062.8,425.1 1063.8,425.4 1064.8,425.7 1065.8,425.9 1066.8,426.1 1067.8,426.3 1068.8,426.4 1069.8,426.3 1070.8,425.9 1071.8,425.3 1072.8,425.0 1073.8,425.0 1074.9,425.5 1075.9,426.1 1076.9,426.5 1077.9,426.6 1078.9,426.6 1079.9,426.6 1080.9,426.4 1081.9,426.1 1082.9,425.7 1083.9,425.3 1084.9,425.1 1085.9,425.2 1086.9,425.5 1087.9,426.0 1088.9,426.4 1089.9,427.0 1090.9,427.5 1091.9,427.9 1092.9,428.1 1093.9,428.1 1094.9,428.1 1095.9,428.5 1096.9,429.3 1098.0,430.4 1099.0,431.6 1100.0,432.4 1101.0,432.6 1102.0,432.5 1103.0,432.4 1104.0,432.7 1105.0,433.2 1106.0,434.0 1107.0,435.0 1108.0,436.1 1109.0,437.2 1110.0,438.1 1111.0,438.9 1112.0,439.4 1113.0,439.6 1114.0,439.6 1115.0,439.2 1116.0,438.7 1117.0,438.6 1118.0,439.0 1119.0,440.1 1120.0,441.6 1121.1,443.1 1122.1,444.5 1123.1,445.7 1124.1,446.8 1125.1,447.8 1126.1,449.0 1127.1,450.3 1128.1,451.4 1129.1,452.3 1130.1,452.8 1131.1,452.8 1132.1,452.7 1133.1,452.6 1134.1,452.9 1135.1,453.6 1136.1,454.5 1137.1,455.5 1138.1,456.2 1139.1,456.7 1140.1,457.2 1141.1,457.7 1142.1,458.4 1143.1,459.0 1144.2,459.5 1145.2,460.0 1146.2,460.7 1147.2,461.6 1148.2,462.7 1149.2,463.7" fill="none" stroke="#2b8a2b" stroke-width="3.4" stroke-linejoin="round" stroke-linecap="round"/>
<path d="M715.3,481.6 716.3,481.6 717.3,481.5 718.3,481.5 719.3,481.7 720.3,481.8 721.3,481.8 722.3,481.5 723.3,480.8 724.3,479.9 725.3,479.0 726.3,478.3 727.4,478.3 728.4,478.8 729.4,479.9 730.4,480.9 731.4,481.5 732.4,481.7 733.4,482.0 734.4,482.5 735.4,483.2 736.4,483.3 737.4,482.9 738.4,482.1 739.4,481.3 740.4,480.8 741.4,480.6 742.4,481.1 743.4,481.4 744.4,477.9 745.4,475.6 746.4,473.3 747.4,471.2 748.4,470.2 749.4,470.1 750.5,470.6 751.5,471.3 752.5,471.9 753.5,472.0 754.5,472.0 755.5,472.2 756.5,472.6 757.5,473.3 758.5,474.2 759.5,474.9 760.5,475.4 761.5,475.5 762.5,474.9 763.5,473.9 764.5,472.6 765.5,471.4 766.5,470.6 767.5,470.4 768.5,470.8 769.5,471.5 770.5,472.1 771.5,472.4 772.5,472.5 773.6,472.7 774.6,472.9 775.6,473.1 776.6,473.1 777.6,472.9 778.6,472.5 779.6,472.0 780.6,471.4 781.6,471.2 782.6,471.4 783.6,471.7 784.6,471.7 785.6,471.3 786.6,470.8 787.6,470.7 788.6,471.3 789.6,472.0 790.6,472.6 791.6,472.8 792.6,472.7 793.6,472.5 794.6,472.2 795.6,471.9 796.7,471.6 797.7,471.5 798.7,471.5 799.7,471.5 800.7,471.5 801.7,471.4 802.7,471.3 803.7,471.2 804.7,471.2 805.7,471.4 806.7,471.7 807.7,472.1 808.7,472.6 809.7,472.9 810.7,476.1 811.7,481.5 812.7,483.2 813.7,482.6 814.7,481.6 815.7,480.3 816.7,478.1 817.7,473.9 818.7,468.7 819.8,463.4 820.8,458.8 821.8,455.7 822.8,454.9 823.8,454.9 824.8,454.7 825.8,454.4 826.8,454.0 827.8,453.3 828.8,452.5 829.8,451.5 830.8,450.5 831.8,450.0 832.8,449.9 833.8,450.1 834.8,450.3 835.8,450.0 836.8,449.5 837.8,448.8 838.8,448.2 839.8,447.7 840.8,447.4 841.8,447.4 842.9,447.8 843.9,448.5 844.9,449.3 845.9,450.1 846.9,450.7 847.9,450.9 848.9,450.6 849.9,449.5 850.9,448.0 851.9,446.7 852.9,446.0 853.9,446.0 854.9,446.1 855.9,445.9 856.9,445.1 857.9,444.1 858.9,443.5 859.9,443.5 860.9,443.8 861.9,444.0 862.9,443.8 863.9,443.5 864.9,443.4 866.0,443.4 867.0,443.5 868.0,443.5 869.0,443.6 870.0,443.7 871.0,443.7 872.0,443.5 873.0,442.9 874.0,442.2 875.0,441.6 876.0,441.1 877.0,440.8 878.0,440.6 879.0,440.5 880.0,440.7 881.0,441.3 882.0,441.9 883.0,442.3 884.0,442.4 885.0,442.3 886.0,442.1 887.0,441.9 888.0,442.0 889.1,442.2 890.1,442.6 891.1,442.9 892.1,443.1 893.1,443.1 894.1,443.1 895.1,443.0 896.1,442.7 897.1,442.2 898.1,441.6 899.1,441.2 900.1,441.2 901.1,441.4 902.1,441.6 903.1,441.7 904.1,441.4 905.1,441.2 906.1,441.3 907.1,441.7 908.1,442.4 909.1,443.4 910.1,444.7 911.1,446.3 912.2,448.4 913.2,450.8 914.2,453.2 915.2,456.0 916.2,459.1 917.2,462.4 918.2,465.6 919.2,468.2 920.2,469.5 921.2,469.7 922.2,469.4 923.2,468.7 924.2,467.9 925.2,467.2 926.2,466.9 927.2,467.2 928.2,467.8 929.2,468.4 930.2,468.6 931.2,468.5 932.2,468.4 933.2,468.6 934.2,469.1 935.3,469.6 936.3,470.2 937.3,470.5 938.3,470.6 939.3,470.5 940.3,470.5 941.3,470.9 942.3,471.5 943.3,472.0 944.3,472.2 945.3,472.2 946.3,472.3 947.3,472.7 948.3,473.0 949.3,473.1 950.3,472.6 951.3,471.7 952.3,470.9 953.3,470.5 954.3,470.5 955.3,471.0 956.3,471.7 957.3,472.1 958.4,472.3 959.4,472.2 960.4,471.9 961.4,471.5 962.4,471.2 963.4,471.1 964.4,471.3 965.4,471.6 966.4,471.8 967.4,471.8 968.4,472.0 969.4,472.3 970.4,472.8 971.4,473.1 972.4,473.4 973.4,479.6 974.4,482.6 975.4,482.0 976.4,481.9 977.4,482.2 978.4,482.4 979.4,482.3 980.4,482.0 981.5,481.7 982.5,481.9 983.5,482.4 984.5,483.1 985.5,483.7 986.5,480.7 987.5,469.8 988.5,468.9 989.5,467.8 990.5,466.9 991.5,466.2 992.5,465.8 993.5,465.5 994.5,465.4 995.5,465.4 996.5,465.6 997.5,465.9 998.5,466.4 999.5,466.9 1000.5,467.5 1001.5,468.1 1002.5,468.6 1003.5,468.9 1004.5,468.9 1005.6,468.7 1006.6,468.4 1007.6,467.9 1008.6,467.2 1009.6,466.4 1010.6,465.4 1011.6,464.6 1012.6,464.5 1013.6,464.9 1014.6,465.7 1015.6,466.5 1016.6,467.3 1017.6,468.0 1018.6,468.4 1019.6,468.4 1020.6,468.2 1021.6,467.7 1022.6,467.1 1023.6,466.4 1024.6,465.9 1025.6,465.5 1026.6,465.2 1027.6,464.8 1028.7,464.5 1029.7,464.5 1030.7,464.8 1031.7,465.3 1032.7,465.8 1033.7,466.3 1034.7,466.8 1035.7,467.4 1036.7,468.0 1037.7,468.6 1038.7,469.2 1039.7,469.5 1040.7,469.6 1041.7,465.1 1042.7,454.7 1043.7,448.8 1044.7,445.6 1045.7,443.2 1046.7,441.4 1047.7,439.9 1048.7,438.6 1049.7,437.2 1050.7,435.8 1051.8,434.5 1052.8,433.9 1053.8,433.8 1054.8,434.0 1055.8,434.3 1056.8,434.3 1057.8,434.0 1058.8,433.6 1059.8,433.2 1060.8,433.2 1061.8,433.6 1062.8,434.2 1063.8,434.7 1064.8,435.2 1065.8,435.5 1066.8,435.7 1067.8,435.8 1068.8,435.5 1069.8,434.9 1070.8,434.0 1071.8,433.0 1072.8,432.3 1073.8,432.0 1074.9,432.1 1075.9,432.3 1076.9,432.5 1077.9,432.3 1078.9,432.0 1079.9,431.9 1080.9,432.3 1081.9,433.3 1082.9,434.5 1083.9,435.4 1084.9,435.8 1085.9,435.7 1086.9,435.1 1087.9,434.2 1088.9,433.5 1089.9,433.0 1090.9,432.6 1091.9,432.3 1092.9,431.9 1093.9,431.6 1094.9,431.7 1095.9,432.1 1096.9,432.8 1098.0,433.8 1099.0,434.9 1100.0,435.7 1101.0,435.9 1102.0,435.7 1103.0,435.3 1104.0,435.0 1105.0,434.8 1106.0,434.7 1107.0,434.6 1108.0,434.8 1109.0,435.3 1110.0,436.1 1111.0,437.2 1112.0,438.5 1113.0,440.1 1114.0,441.6 1115.0,442.9 1116.0,443.9 1117.0,444.5 1118.0,444.7 1119.0,444.7 1120.0,444.7 1121.1,444.9 1122.1,445.2 1123.1,445.7 1124.1,446.3 1125.1,447.0 1126.1,447.8 1127.1,448.7 1128.1,450.0 1129.1,451.7 1130.1,453.5 1131.1,455.0 1132.1,455.9 1133.1,456.2 1134.1,456.2 1135.1,456.0 1136.1,455.9 1137.1,455.8 1138.1,456.0 1139.1,456.7 1140.1,457.8 1141.1,459.1 1142.1,460.3 1143.1,461.2 1144.2,461.6 1145.2,461.6 1146.2,461.4 1147.2,461.2 1148.2,461.3 1149.2,461.7" fill="none" stroke="#7b2fb3" stroke-width="3.4" stroke-linejoin="round" stroke-linecap="round"/>
<path d="M715.3,481.9 716.3,482.0 717.3,482.0 718.3,482.0 719.3,482.0 720.3,482.0 721.3,482.0 722.3,482.1 723.3,482.3 724.3,482.5 725.3,482.6 726.3,482.5 727.4,482.5 728.4,482.4 729.4,482.2 730.4,481.9 731.4,481.5 732.4,481.4 733.4,481.8 734.4,482.6 735.4,483.6 736.4,484.3 737.4,484.7 738.4,484.7 739.4,484.7 740.4,484.7 741.4,484.7 742.4,484.7 743.4,484.2 744.4,483.4 745.4,482.7 746.4,481.7 747.4,480.5 748.4,479.3 749.4,478.6 750.5,478.6 751.5,478.5 752.5,478.2 753.5,477.6 754.5,476.9 755.5,476.0 756.5,475.3 757.5,474.7 758.5,474.4 759.5,474.3 760.5,474.3 761.5,474.2 762.5,474.1 763.5,474.3 764.5,474.9 765.5,475.9 766.5,477.0 767.5,477.7 768.5,477.8 769.5,477.4 770.5,476.7 771.5,476.0 772.5,475.5 773.6,475.3 774.6,475.5 775.6,475.9 776.6,476.4 777.6,476.5 778.6,476.2 779.6,475.3 780.6,474.4 781.6,473.8 782.6,473.8 783.6,474.7 784.6,476.0 785.6,477.3 786.6,478.1 787.6,478.2 788.6,477.7 789.6,477.1 790.6,476.7 791.6,476.8 792.6,476.9 793.6,477.0 794.6,476.8 795.6,476.3 796.7,475.6 797.7,474.8 798.7,474.2 799.7,474.1 800.7,474.7 801.7,475.7 802.7,476.9 803.7,477.8 804.7,478.4 805.7,477.3 806.7,475.5 807.7,473.6 808.7,471.4 809.7,469.1 810.7,467.1 811.7,465.7 812.7,465.1 813.7,464.9 814.7,464.6 815.7,463.9 816.7,462.7 817.7,461.3 818.7,460.3 819.8,459.8 820.8,459.3 821.8,458.6 822.8,457.9 823.8,457.5 824.8,457.6 825.8,458.1 826.8,458.4 827.8,458.5 828.8,458.4 829.8,458.4 830.8,458.4 831.8,458.5 832.8,458.6 833.8,458.5 834.8,458.3 835.8,458.1 836.8,458.1 837.8,458.1 838.8,458.0 839.8,457.7 840.8,457.2 841.8,456.6 842.9,456.1 843.9,455.6 844.9,455.2 845.9,455.0 846.9,454.9 847.9,454.6 848.9,454.5 849.9,454.7 850.9,455.4 851.9,456.3 852.9,456.9 853.9,456.9 854.9,456.1 855.9,454.8 856.9,453.6 857.9,452.7 858.9,452.2 859.9,451.8 860.9,451.4 861.9,451.0 862.9,450.7 863.9,450.6 864.9,450.6 866.0,450.7 867.0,450.7 868.0,450.4 869.0,449.9 870.0,449.6 871.0,449.6 872.0,449.8 873.0,450.0 874.0,450.1 875.0,449.9 876.0,449.7 877.0,449.4 878.0,449.2 879.0,448.9 880.0,448.5 881.0,448.1 882.0,447.8 883.0,447.6 884.0,447.6 885.0,447.7 886.0,447.7 887.0,447.6 888.0,447.5 889.1,447.4 890.1,447.2 891.1,446.9 892.1,446.3 893.1,445.8 894.1,445.6 895.1,445.8 896.1,446.2 897.1,446.3 898.1,446.2 899.1,446.1 900.1,446.3 901.1,446.9 902.1,447.6 903.1,448.1 904.1,448.3 905.1,448.1 906.1,447.5 907.1,446.8 908.1,446.3 909.1,446.3 910.1,446.6 911.1,447.0 912.2,447.5 913.2,448.0 914.2,448.8 915.2,449.9 916.2,451.0 917.2,451.9 918.2,452.6 919.2,453.2 920.2,454.1 921.2,455.2 922.2,456.3 923.2,457.4 924.2,458.4 925.2,459.3 926.2,460.0 927.2,460.8 928.2,461.8 929.2,463.1 930.2,464.6 931.2,466.1 932.2,467.6 933.2,468.8 934.2,469.9 935.3,470.8 936.3,471.6 937.3,472.0 938.3,472.0 939.3,471.5 940.3,470.8 941.3,470.2 942.3,470.1 943.3,470.5 944.3,471.0 945.3,471.2 946.3,471.2 947.3,471.1 948.3,470.9 949.3,470.9 950.3,471.2 951.3,471.7 952.3,472.4 953.3,473.1 954.3,473.4 955.3,473.2 956.3,472.4 957.3,471.6 958.4,471.2 959.4,471.5 960.4,472.4 961.4,473.3 962.4,473.9 963.4,473.9 964.4,473.3 965.4,472.5 966.4,471.8 967.4,471.4 968.4,471.5 969.4,471.9 970.4,472.4 971.4,472.8 972.4,473.0 973.4,473.0 974.4,473.0 975.4,477.2 976.4,483.6 977.4,484.2 978.4,484.5 979.4,484.1 980.4,483.2 981.5,482.4 982.5,481.9 983.5,481.8 984.5,479.6 985.5,474.0 986.5,469.6 987.5,465.1 988.5,461.1 989.5,459.2 990.5,459.0 991.5,459.1 992.5,459.4 993.5,460.0 994.5,460.6 995.5,461.1 996.5,461.0 997.5,460.4 998.5,459.6 999.5,459.0 1000.5,458.8 1001.5,458.7 1002.5,458.4 1003.5,458.2 1004.5,458.6 1005.6,459.5 1006.6,460.8 1007.6,461.6 1008.6,461.7 1009.6,461.4 1010.6,460.9 1011.6,460.5 1012.6,460.1 1013.6,459.9 1014.6,460.0 1015.6,460.5 1016.6,461.5 1017.6,462.4 1018.6,463.1 1019.6,463.2 1020.6,463.0 1021.6,462.7 1022.6,462.3 1023.6,461.9 1024.6,461.6 1025.6,462.2 1026.6,464.2 1027.6,467.0 1028.7,470.1 1029.7,473.0 1030.7,475.1 1031.7,475.6 1032.7,472.7 1033.7,468.6 1034.7,465.8 1035.7,465.3 1036.7,464.7 1037.7,464.0 1038.7,463.5 1039.7,463.3 1040.7,463.1 1041.7,463.0 1042.7,463.1 1043.7,463.3 1044.7,463.7 1045.7,463.9 1046.7,464.1 1047.7,464.0 1048.7,463.6 1049.7,463.0 1050.7,462.3 1051.8,461.8 1052.8,461.5 1053.8,461.3 1054.8,461.2 1055.8,461.1 1056.8,461.3 1057.8,461.8 1058.8,462.8 1059.8,464.0 1060.8,465.2 1061.8,466.0 1062.8,466.3 1063.8,466.0 1064.8,465.4 1065.8,464.7 1066.8,463.9 1067.8,463.1 1068.8,462.4 1069.8,461.9 1070.8,461.7 1071.8,461.7 1072.8,461.7 1073.8,461.5 1074.9,461.1 1075.9,460.7 1076.9,460.5 1077.9,460.5 1078.9,460.7 1079.9,460.9 1080.9,461.1 1081.9,461.2 1082.9,461.5 1083.9,461.8 1084.9,462.0 1085.9,461.8 1086.9,461.5 1087.9,461.4 1088.9,461.6 1089.9,462.0 1090.9,462.2 1091.9,462.4 1092.9,462.4 1093.9,462.5 1094.9,462.8 1095.9,462.9 1096.9,462.9 1098.0,462.8 1099.0,462.7 1100.0,462.8 1101.0,462.8 1102.0,462.9 1103.0,463.1 1104.0,463.2 1105.0,463.1 1106.0,462.6 1107.0,462.0 1108.0,461.6 1109.0,461.9 1110.0,462.8 1111.0,464.0 1112.0,464.9 1113.0,465.3 1114.0,465.1 1115.0,464.5 1116.0,463.8 1117.0,463.4 1118.0,463.4 1119.0,463.8 1120.0,464.3 1121.1,464.7 1122.1,464.9 1123.1,465.0 1124.1,465.0 1125.1,465.0 1126.1,465.0 1127.1,464.9 1128.1,464.7 1129.1,464.6 1130.1,464.8 1131.1,465.0 1132.1,465.2 1133.1,465.3 1134.1,465.7 1135.1,466.3 1136.1,466.7 1137.1,466.8 1138.1,466.6 1139.1,466.6 1140.1,467.0 1141.1,467.7 1142.1,468.3 1143.1,468.8 1144.2,469.0 1145.2,468.8 1146.2,468.2 1147.2,467.4 1148.2,466.9 1149.2,466.9" fill="none" stroke="#e60000" stroke-width="3.4" stroke-linejoin="round" stroke-linecap="round"/>
<path d="M725.7,347.2 H716.2 V484.7 H1148.3" fill="none" stroke="#000" stroke-width="3.3" stroke-linejoin="round"/>
<line x1="716.2" y1="450.3" x2="725.7" y2="450.3" stroke="#000" stroke-width="3.3"/>
<line x1="716.2" y1="415.9" x2="725.7" y2="415.9" stroke="#000" stroke-width="3.3"/>
<line x1="716.2" y1="381.6" x2="725.7" y2="381.6" stroke="#000" stroke-width="3.3"/>
<line x1="784.7" y1="484.7" x2="784.7" y2="475.2" stroke="#000" stroke-width="3.3"/>
<line x1="854.1" y1="484.7" x2="854.1" y2="475.2" stroke="#000" stroke-width="3.3"/>
<line x1="923.6" y1="484.7" x2="923.6" y2="475.2" stroke="#000" stroke-width="3.3"/>
<line x1="993.0" y1="484.7" x2="993.0" y2="475.2" stroke="#000" stroke-width="3.3"/>
<line x1="1062.4" y1="484.7" x2="1062.4" y2="475.2" stroke="#000" stroke-width="3.3"/>
<line x1="1131.8" y1="484.7" x2="1131.8" y2="475.2" stroke="#000" stroke-width="3.3"/>
<text x="687.1" y="493.2" font-family='"Liberation Sans", sans-serif' font-size="27" text-anchor="end">0</text>
<text x="687.1" y="458.8" font-family='"Liberation Sans", sans-serif' font-size="27" text-anchor="end">25</text>
<text x="687.1" y="424.4" font-family='"Liberation Sans", sans-serif' font-size="27" text-anchor="end">50</text>
<text x="687.1" y="390.1" font-family='"Liberation Sans", sans-serif' font-size="27" text-anchor="end">75</text>
<text x="687.1" y="355.7" font-family='"Liberation Sans", sans-serif' font-size="27" text-anchor="end">100</text>
<text x="715.3" y="534.0" font-family='"Liberation Sans", sans-serif' font-size="27" text-anchor="middle">1.5</text>
<text x="784.7" y="534.0" font-family='"Liberation Sans", sans-serif' font-size="27" text-anchor="middle">3.5</text>
<text x="854.1" y="534.0" font-family='"Liberation Sans", sans-serif' font-size="27" text-anchor="middle">5.5</text>
<text x="923.6" y="534.0" font-family='"Liberation Sans", sans-serif' font-size="27" text-anchor="middle">7.5</text>
<text x="993.0" y="534.0" font-family='"Liberation Sans", sans-serif' font-size="27" text-anchor="middle">9.5</text>
<text x="1062.4" y="534.0" font-family='"Liberation Sans", sans-serif' font-size="27" text-anchor="middle">11.5</text>
<text x="1131.8" y="534.0" font-family='"Liberation Sans", sans-serif' font-size="27" text-anchor="middle">13.5</text>
<text x="737.0" y="367.5" font-family='"Liberation Sans", sans-serif' font-size="25.43" font-weight="bold" textLength="79.9" lengthAdjust="spacingAndGlyphs">G) GM</text>
<path d="M737.9,425.2 h3.5 v26.6 h5.55 L739.6,465.7 L732.3,451.8 h5.55 z" fill="#000"/>
<path d="M801.5,419.3 h3.5 v26.6 h5.55 L803.2,459.8 L795.9,445.9 h5.55 z" fill="#000"/>
<path d="M967.8,412.5 h3.5 v26.6 h5.55 L969.5,453.0 L962.2,439.1 h5.55 z" fill="#000"/>
<path d="M1022.0,408.2 h3.5 v26.6 h5.55 L1023.8,448.7 L1016.5,434.8 h5.55 z" fill="#000"/>
<path d="M715.3,731.6 716.3,730.9 717.3,730.3 718.3,730.1 719.3,730.2 720.3,730.5 721.3,730.8 722.3,730.9 723.3,730.9 724.3,731.0 725.3,731.4 726.3,732.2 727.3,733.0 728.4,733.2 729.4,733.2 730.4,733.2 731.4,733.2 732.4,733.2 733.4,733.2 734.4,732.4 735.4,731.7 736.4,731.1 737.4,730.8 738.4,730.8 739.4,731.0 740.4,731.3 741.4,730.6 742.4,727.7 743.4,725.3 744.4,722.7 745.4,721.7 746.4,721.4 747.4,721.2 748.4,721.1 749.4,721.0 750.4,720.8 751.4,720.5 752.4,720.4 753.5,720.4 754.5,720.5 755.5,720.8 756.5,721.0 757.5,721.3 758.5,721.6 759.5,721.8 760.5,722.1 761.5,722.6 762.5,723.0 763.5,723.3 764.5,723.2 765.5,722.9 766.5,722.6 767.5,722.4 768.5,722.3 769.5,722.2 770.5,722.0 771.5,721.7 772.5,721.5 773.5,721.2 774.5,720.9 775.5,720.6 776.5,720.4 777.5,720.3 778.6,720.3 779.6,720.2 780.6,720.0 781.6,719.8 782.6,719.9 783.6,720.2 784.6,720.7 785.6,721.1 786.6,721.3 787.6,721.5 788.6,721.6 789.6,721.9 790.6,722.2 791.6,722.5 792.6,722.8 793.6,722.9 794.6,723.0 795.6,723.0 796.6,723.0 797.6,723.0 798.6,722.9 799.6,722.8 800.6,722.6 801.6,722.2 802.6,721.8 803.7,721.3 804.7,720.7 805.7,720.3 806.7,718.6 807.7,707.6 808.7,698.2 809.7,688.5 810.7,678.8 811.7,670.3 812.7,664.2 813.7,659.6 814.7,657.9 815.7,657.1 816.7,656.6 817.7,656.4 818.7,656.2 819.7,655.8 820.7,655.1 821.7,654.4 822.7,653.8 823.7,653.2 824.7,652.7 825.7,652.3 826.7,652.0 827.7,651.8 828.8,651.8 829.8,651.8 830.8,651.8 831.8,651.6 832.8,651.3 833.8,651.1 834.8,650.9 835.8,650.9 836.8,651.0 837.8,651.1 838.8,651.2 839.8,651.2 840.8,651.3 841.8,651.3 842.8,651.4 843.8,651.5 844.8,651.7 845.8,651.8 846.8,651.9 847.8,652.1 848.8,652.5 849.8,653.2 850.8,653.8 851.8,654.4 852.8,654.8 853.9,655.1 854.9,655.4 855.9,656.3 856.9,658.1 857.9,660.7 858.9,663.8 859.9,667.0 860.9,670.2 861.9,673.7 862.9,678.2 863.9,683.1 864.9,688.2 865.9,693.1 866.9,697.8 867.9,701.9 868.9,706.0 869.9,710.1 870.9,712.6 871.9,712.6 872.9,712.1 873.9,711.9 874.9,712.3 875.9,713.4 876.9,714.7 877.9,715.9 879.0,716.5 880.0,716.3 881.0,715.6 882.0,714.9 883.0,714.3 884.0,714.0 885.0,714.0 886.0,714.1 887.0,714.3 888.0,714.5 889.0,714.6 890.0,714.6 891.0,714.6 892.0,714.5 893.0,714.5 894.0,714.4 895.0,714.3 896.0,714.0 897.0,713.6 898.0,713.3 899.0,713.3 900.0,713.5 901.0,713.9 902.0,714.2 903.0,714.2 904.1,714.1 905.1,713.8 906.1,713.7 907.1,713.5 908.1,713.3 909.1,713.2 910.1,713.4 911.1,713.9 912.1,714.4 913.1,714.7 914.1,714.9 915.1,714.8 916.1,714.6 917.1,714.1 918.1,713.5 919.1,713.1 920.1,713.1 921.1,713.5 922.1,714.1 923.1,714.6 924.1,719.0 925.1,731.0 926.1,731.2 927.1,731.1 928.1,731.2 929.2,731.5 930.2,731.9 931.2,732.3 932.2,732.6 933.2,732.7 934.2,732.3 935.2,724.4 936.2,716.1 937.2,715.0 938.2,714.1 939.2,713.3 940.2,712.7 941.2,712.4 942.2,712.4 943.2,712.4 944.2,712.3 945.2,712.1 946.2,711.6 947.2,711.2 948.2,710.9 949.2,710.8 950.2,711.0 951.2,711.2 952.2,711.4 953.2,711.6 954.3,712.0 955.3,712.6 956.3,713.2 957.3,713.5 958.3,713.6 959.3,713.7 960.3,713.8 961.3,713.8 962.3,713.6 963.3,713.1 964.3,712.6 965.3,712.1 966.3,711.8 967.3,711.8 968.3,711.8 969.3,711.9 970.3,711.9 971.3,711.9 972.3,711.7 973.3,711.5 974.3,711.4 975.3,711.5 976.3,711.8 977.3,712.3 978.4,712.8 979.4,713.2 980.4,713.5 981.4,711.8 982.4,702.3 983.4,691.7 984.4,681.7 985.4,671.0 986.4,661.1 987.4,653.2 988.4,648.4 989.4,644.4 990.4,641.0 991.4,638.1 992.4,635.4 993.4,632.9 994.4,630.7 995.4,628.9 996.4,627.3 997.4,625.9 998.4,624.7 999.4,623.8 1000.4,623.1 1001.4,622.8 1002.4,622.6 1003.5,622.5 1004.5,622.1 1005.5,621.5 1006.5,620.8 1007.5,620.7 1008.5,620.9 1009.5,621.4 1010.5,621.9 1011.5,622.5 1012.5,623.3 1013.5,624.8 1014.5,628.0 1015.5,632.2 1016.5,636.7 1017.5,641.4 1018.5,646.7 1019.5,652.4 1020.5,658.0 1021.5,663.1 1022.5,667.8 1023.5,672.4 1024.5,677.6 1025.5,683.1 1026.5,688.5 1027.5,693.5 1028.6,697.9 1029.6,701.4 1030.6,704.0 1031.6,705.6 1032.6,706.9 1033.6,708.2 1034.6,709.2 1035.6,709.5 1036.6,709.3 1037.6,708.8 1038.6,708.3 1039.6,708.3 1040.6,708.6 1041.6,708.9 1042.6,709.1 1043.6,709.1 1044.6,709.0 1045.6,708.7 1046.6,708.4 1047.6,708.1 1048.6,708.0 1049.6,708.0 1050.6,708.4 1051.6,709.0 1052.6,709.7 1053.7,710.1 1054.7,710.1 1055.7,709.9 1056.7,709.8 1057.7,709.9 1058.7,710.3 1059.7,710.8 1060.7,711.2 1061.7,711.2 1062.7,710.8 1063.7,710.3 1064.7,709.8 1065.7,709.5 1066.7,709.6 1067.7,709.8 1068.7,710.0 1069.7,710.1 1070.7,710.2 1071.7,710.2 1072.7,710.4 1073.7,710.4 1074.7,710.3 1075.7,709.8 1076.7,709.3 1077.7,708.9 1078.8,708.9 1079.8,709.3" fill="none" stroke="#1a9fe0" stroke-width="3.4" stroke-linejoin="round" stroke-linecap="round"/>
<path d="M715.3,732.0 716.3,731.8 717.3,731.6 718.3,731.5 719.3,731.4 720.3,731.3 721.3,731.1 722.3,730.9 723.3,730.8 724.3,730.9 725.3,731.2 726.4,731.6 727.4,731.8 728.4,731.9 729.4,731.7 730.4,731.3 731.4,731.0 732.4,730.9 733.4,731.0 734.4,731.2 735.4,731.3 736.4,731.4 737.4,731.8 738.4,732.2 739.4,732.8 740.4,733.2 741.4,733.0 742.4,731.8 743.4,730.2 744.4,727.5 745.4,724.3 746.4,722.3 747.5,721.6 748.5,721.1 749.5,720.7 750.5,720.5 751.5,720.4 752.5,720.4 753.5,720.8 754.5,721.4 755.5,722.1 756.5,722.5 757.5,722.7 758.5,723.0 759.5,723.3 760.5,723.4 761.5,723.1 762.5,722.5 763.5,722.0 764.5,721.6 765.5,721.3 766.5,721.1 767.5,721.0 768.6,721.0 769.6,721.2 770.6,721.4 771.6,721.6 772.6,721.9 773.6,722.3 774.6,722.5 775.6,722.6 776.6,722.4 777.6,722.2 778.6,722.0 779.6,722.2 780.6,722.8 781.6,723.3 782.6,723.4 783.6,723.0 784.6,722.3 785.6,721.8 786.6,721.7 787.6,721.8 788.6,722.1 789.7,722.3 790.7,722.5 791.7,722.7 792.7,722.8 793.7,722.8 794.7,722.7 795.7,722.6 796.7,722.4 797.7,722.3 798.7,722.2 799.7,722.1 800.7,722.0 801.7,722.1 802.7,722.6 803.7,723.4 804.7,724.2 805.7,724.8 806.7,725.0 807.7,724.8 808.7,724.4 809.7,719.4 810.8,703.1 811.8,685.8 812.8,678.0 813.8,674.6 814.8,671.6 815.8,669.3 816.8,667.5 817.8,666.2 818.8,665.2 819.8,664.6 820.8,664.5 821.8,664.9 822.8,665.2 823.8,665.3 824.8,664.9 825.8,664.2 826.8,663.3 827.8,662.5 828.8,662.0 829.8,661.9 830.8,662.1 831.9,662.4 832.9,662.6 833.9,662.6 834.9,662.3 835.9,661.9 836.9,661.4 837.9,661.0 838.9,661.0 839.9,661.1 840.9,661.3 841.9,661.2 842.9,660.8 843.9,660.1 844.9,659.3 845.9,658.6 846.9,657.9 847.9,657.4 848.9,657.0 849.9,656.7 850.9,656.7 851.9,656.9 853.0,657.3 854.0,657.8 855.0,658.5 856.0,659.1 857.0,659.5 858.0,659.5 859.0,659.2 860.0,658.7 861.0,658.4 862.0,658.5 863.0,658.7 864.0,659.1 865.0,659.5 866.0,659.9 867.0,660.7 868.0,662.4 869.0,665.2 870.0,668.6 871.0,672.5 872.0,676.3 873.0,679.7 874.1,683.4 875.1,688.2 876.1,693.8 877.1,699.3 878.1,704.1 879.1,707.3 880.1,708.7 881.1,708.9 882.1,709.4 883.1,710.1 884.1,710.9 885.1,711.3 886.1,711.3 887.1,711.0 888.1,710.9 889.1,710.9 890.1,711.0 891.1,711.2 892.1,711.3 893.1,711.7 894.1,712.2 895.2,712.7 896.2,713.0 897.2,712.9 898.2,712.6 899.2,712.2 900.2,712.0 901.2,711.8 902.2,711.7 903.2,711.9 904.2,712.2 905.2,712.7 906.2,713.2 907.2,713.5 908.2,713.7 909.2,713.8 910.2,714.0 911.2,714.0 912.2,713.9 913.2,713.8 914.2,713.6 915.2,713.6 916.3,713.6 917.3,713.6 918.3,713.8 919.3,714.2 920.3,714.7 921.3,715.1 922.3,715.2 923.3,714.7 924.3,719.9 925.3,729.1 926.3,729.0 927.3,729.7 928.3,730.6 929.3,731.4 930.3,731.6 931.3,731.1 932.3,723.6 933.3,713.6 934.3,711.0 935.3,711.2 936.3,711.5 937.4,711.7 938.4,711.9 939.4,712.0 940.4,712.0 941.4,711.5 942.4,710.7 943.4,709.9 944.4,709.6 945.4,709.9 946.4,710.4 947.4,710.7 948.4,710.7 949.4,710.6 950.4,710.5 951.4,710.6 952.4,710.8 953.4,711.0 954.4,711.2 955.4,711.2 956.4,711.2 957.4,711.2 958.5,711.2 959.5,711.2 960.5,711.3 961.5,711.4 962.5,711.4 963.5,711.3 964.5,711.2 965.5,711.1 966.5,711.2 967.5,711.3 968.5,711.4 969.5,711.3 970.5,711.1 971.5,710.8 972.5,710.4 973.5,710.1 974.5,710.1 975.5,710.1 976.5,710.3 977.5,710.4 978.5,710.0 979.6,701.4 980.6,688.7 981.6,674.1 982.6,657.7 983.6,644.9 984.6,640.2 985.6,639.2 986.6,638.6 987.6,637.6 988.6,635.8 989.6,633.8 990.6,631.8 991.6,630.2 992.6,629.2 993.6,628.8 994.6,628.7 995.6,628.5 996.6,628.2 997.6,628.0 998.6,628.0 999.6,628.2 1000.7,628.5 1001.7,628.9 1002.7,629.5 1003.7,629.9 1004.7,630.2 1005.7,630.3 1006.7,630.5 1007.7,630.9 1008.7,631.5 1009.7,632.3 1010.7,633.2 1011.7,634.1 1012.7,635.0 1013.7,636.1 1014.7,637.6 1015.7,639.7 1016.7,643.1 1017.7,647.8 1018.7,653.1 1019.7,658.4 1020.7,663.4 1021.8,667.8 1022.8,671.7 1023.8,675.6 1024.8,679.2 1025.8,682.6 1026.8,685.6 1027.8,688.6 1028.8,691.4 1029.8,694.4 1030.8,697.5 1031.8,700.5 1032.8,703.0 1033.8,704.4 1034.8,704.8 1035.8,704.8 1036.8,705.0 1037.8,705.4 1038.8,705.8 1039.8,706.2 1040.8,706.4 1041.8,706.5 1042.9,706.7 1043.9,707.0 1044.9,707.4 1045.9,707.9 1046.9,708.5 1047.9,709.1 1048.9,709.5 1049.9,709.7 1050.9,709.7 1051.9,709.6 1052.9,709.6 1053.9,709.8 1054.9,709.9 1055.9,709.8 1056.9,709.6 1057.9,709.3 1058.9,709.0 1059.9,708.5 1060.9,708.0 1061.9,707.4 1062.9,707.2 1064.0,707.4 1065.0,708.0 1066.0,708.7 1067.0,708.9 1068.0,708.9 1069.0,708.7 1070.0,708.8 1071.0,709.1 1072.0,709.7 1073.0,710.0 1074.0,709.9 1075.0,709.3 1076.0,708.7 1077.0,708.3 1078.0,708.3 1079.0,708.6 1080.0,709.0 1081.0,709.3 1082.0,709.4 1083.0,709.5 1084.0,709.4 1085.1,709.0 1086.1,708.6 1087.1,708.4 1088.1,708.7 1089.1,709.4 1090.1,710.2 1091.1,710.6 1092.1,710.5 1093.1,710.3 1094.1,710.0 1095.1,709.8 1096.1,709.6 1097.1,709.4" fill="none" stroke="#fd7d27" stroke-width="3.4" stroke-linejoin="round" stroke-linecap="round"/>
<path d="M715.3,730.3 716.3,730.1 717.3,730.4 718.3,730.9 719.3,731.4 720.3,731.9 721.3,732.1 722.3,732.2 723.3,732.1 724.3,732.0 725.3,732.0 726.3,732.2 727.4,732.4 728.4,732.5 729.4,732.4 730.4,732.2 731.4,732.0 732.4,732.1 733.4,732.5 734.4,733.2 735.4,733.2 736.4,733.2 737.4,733.2 738.4,733.2 739.4,733.2 740.4,733.0 741.4,731.3 742.4,727.7 743.4,724.8 744.4,722.1 745.4,721.1 746.4,721.1 747.4,721.4 748.4,722.1 749.4,722.7 750.5,723.0 751.5,722.9 752.5,722.4 753.5,721.7 754.5,721.2 755.5,721.0 756.5,721.1 757.5,721.4 758.5,721.7 759.5,721.7 760.5,721.2 761.5,720.4 762.5,719.6 763.5,719.1 764.5,719.2 765.5,719.7 766.5,720.5 767.5,721.2 768.5,721.7 769.5,721.8 770.5,721.5 771.5,721.2 772.5,721.2 773.6,721.6 774.6,722.1 775.6,722.6 776.6,723.0 777.6,723.3 778.6,723.5 779.6,723.3 780.6,722.9 781.6,722.3 782.6,721.9 783.6,721.6 784.6,721.5 785.6,721.3 786.6,720.9 787.6,720.4 788.6,720.1 789.6,720.2 790.6,720.5 791.6,720.9 792.6,721.3 793.6,721.6 794.6,722.1 795.6,722.6 796.7,722.9 797.7,722.9 798.7,722.7 799.7,722.3 800.7,722.1 801.7,722.2 802.7,722.6 803.7,722.8 804.7,722.8 805.7,722.5 806.7,719.9 807.7,707.6 808.7,696.9 809.7,685.8 810.7,675.5 811.7,667.9 812.7,664.6 813.7,663.1 814.7,661.7 815.7,660.7 816.7,660.1 817.7,659.8 818.7,659.5 819.8,659.3 820.8,659.1 821.8,659.0 822.8,658.8 823.8,658.3 824.8,657.5 825.8,656.8 826.8,656.2 827.8,656.0 828.8,655.8 829.8,655.7 830.8,655.5 831.8,655.4 832.8,655.2 833.8,654.9 834.8,654.5 835.8,654.3 836.8,654.2 837.8,654.2 838.8,654.2 839.8,654.3 840.8,654.2 841.8,654.1 842.9,653.9 843.9,654.0 844.9,654.3 845.9,654.7 846.9,655.1 847.9,655.4 848.9,655.7 849.9,656.0 850.9,656.2 851.9,656.5 852.9,657.0 853.9,657.8 854.9,658.7 855.9,660.2 856.9,662.1 857.9,664.2 858.9,666.5 859.9,669.3 860.9,672.5 861.9,676.4 862.9,681.3 863.9,686.6 864.9,691.6 866.0,696.2 867.0,700.1 868.0,703.4 869.0,706.5 870.0,709.5 871.0,711.6 872.0,712.1 873.0,712.5 874.0,712.9 875.0,713.1 876.0,713.1 877.0,712.9 878.0,712.6 879.0,712.4 880.0,712.5 881.0,712.8 882.0,713.5 883.0,714.4 884.0,715.1 885.0,715.4 886.0,715.3 887.0,715.0 888.0,714.8 889.1,714.9 890.1,715.2 891.1,715.4 892.1,715.5 893.1,715.5 894.1,715.4 895.1,715.1 896.1,714.6 897.1,714.0 898.1,713.6 899.1,713.5 900.1,713.6 901.1,713.9 902.1,714.2 903.1,714.3 904.1,714.2 905.1,713.8 906.1,713.5 907.1,713.4 908.1,713.5 909.1,713.6 910.1,713.7 911.1,713.9 912.2,714.0 913.2,714.0 914.2,713.6 915.2,712.8 916.2,712.3 917.2,712.3 918.2,712.8 919.2,713.7 920.2,714.5 921.2,715.2 922.2,715.5 923.2,715.5 924.2,715.4 925.2,726.6 926.2,729.6 927.2,729.3 928.2,729.3 929.2,729.4 930.2,730.0 931.2,730.8 932.2,731.4 933.2,721.7 934.2,706.9 935.3,704.6 936.3,704.6 937.3,704.6 938.3,704.7 939.3,704.8 940.3,704.8 941.3,704.6 942.3,704.1 943.3,703.5 944.3,703.1 945.3,703.1 946.3,703.6 947.3,704.2 948.3,704.5 949.3,704.3 950.3,703.8 951.3,703.3 952.3,703.2 953.3,703.4 954.3,703.5 955.3,703.6 956.3,703.5 957.3,703.3 958.4,703.2 959.4,703.2 960.4,703.3 961.4,703.5 962.4,703.9 963.4,704.4 964.4,704.7 965.4,704.7 966.4,704.5 967.4,704.4 968.4,704.6 969.4,705.1 970.4,705.5 971.4,705.7 972.4,705.8 973.4,705.9 974.4,706.0 975.4,706.0 976.4,705.7 977.4,705.0 978.4,704.3 979.4,703.7 980.4,703.6 981.5,703.7 982.5,701.8 983.5,692.6 984.5,684.9 985.5,680.0 986.5,675.5 987.5,671.5 988.5,668.5 989.5,666.8 990.5,665.4 991.5,664.7 992.5,664.8 993.5,665.3 994.5,665.7 995.5,665.8 996.5,665.6 997.5,665.3 998.5,665.2 999.5,665.1 1000.5,665.2 1001.5,665.2 1002.5,665.2 1003.5,665.4 1004.5,665.6 1005.6,665.9 1006.6,666.1 1007.6,666.4 1008.6,666.5 1009.6,666.4 1010.6,666.1 1011.6,665.6 1012.6,665.2 1013.6,664.9 1014.6,664.8 1015.6,664.8 1016.6,664.8 1017.6,664.6 1018.6,664.5 1019.6,664.8 1020.6,665.6 1021.6,666.7 1022.6,667.7 1023.6,668.7 1024.6,669.6 1025.6,670.2 1026.6,670.7 1027.6,671.1 1028.7,671.4 1029.7,671.8 1030.7,672.1 1031.7,672.4 1032.7,672.6 1033.7,672.8 1034.7,672.6 1035.7,672.3 1036.7,671.9 1037.7,671.8 1038.7,672.0 1039.7,672.6 1040.7,673.5 1041.7,674.5 1042.7,675.2 1043.7,675.4 1044.7,675.3 1045.7,675.3 1046.7,675.5 1047.7,675.8 1048.7,676.0 1049.7,676.2 1050.7,676.1 1051.8,675.8 1052.8,675.4 1053.8,675.1 1054.8,675.0 1055.8,675.2 1056.8,675.6 1057.8,675.9 1058.8,676.2 1059.8,676.3 1060.8,676.4 1061.8,676.4 1062.8,676.5 1063.8,676.6 1064.8,676.6 1065.8,676.6 1066.8,676.6 1067.8,676.8 1068.8,677.3 1069.8,677.9 1070.8,678.7 1071.8,679.7 1072.8,680.8 1073.8,682.0 1074.9,683.1 1075.9,684.0 1076.9,684.8 1077.9,685.6 1078.9,686.6 1079.9,687.5 1080.9,688.2 1081.9,688.7 1082.9,689.0 1083.9,689.5 1084.9,690.2 1085.9,691.3 1086.9,692.4 1087.9,693.4 1088.9,694.4 1089.9,695.4 1090.9,696.5 1091.9,697.8 1092.9,698.9 1093.9,699.8 1094.9,700.5 1095.9,700.9 1096.9,701.2 1098.0,701.5 1099.0,702.1 1100.0,702.9 1101.0,703.7 1102.0,704.0 1103.0,704.0 1104.0,703.6 1105.0,703.2 1106.0,702.9 1107.0,702.8 1108.0,703.0 1109.0,703.3 1110.0,703.8 1111.0,704.4 1112.0,705.1 1113.0,705.8 1114.0,706.3 1115.0,706.5 1116.0,706.5 1117.0,706.2 1118.0,706.0 1119.0,705.8 1120.0,705.6 1121.1,705.1 1122.1,704.5 1123.1,704.1 1124.1,704.1 1125.1,704.5 1126.1,705.0 1127.1,705.5 1128.1,705.9 1129.1,706.3 1130.1,706.5 1131.1,706.6 1132.1,706.6 1133.1,706.4 1134.1,706.2 1135.1,705.9 1136.1,705.7 1137.1,705.7 1138.1,705.9 1139.1,706.2 1140.1,706.3 1141.1,706.1 1142.1,705.8 1143.1,705.7 1144.2,705.8 1145.2,706.1 1146.2,706.2 1147.2,706.1 1148.2,705.8 1149.2,705.7" fill="none" stroke="#2b8a2b" stroke-width="3.4" stroke-linejoin="round" stroke-linecap="round"/>
<path d="M715.3,731.3 716.3,730.8 717.3,730.8 718.3,730.9 719.3,731.0 720.3,730.9 721.3,730.9 722.3,731.3 723.3,731.9 724.3,732.6 725.3,733.2 726.3,733.2 727.4,733.2 728.4,733.0 729.4,732.0 730.4,730.9 731.4,730.1 732.4,729.7 733.4,729.9 734.4,730.3 735.4,730.7 736.4,730.8 737.4,730.7 738.4,730.6 739.4,730.4 740.4,729.9 741.4,728.1 742.4,724.4 743.4,721.8 744.4,719.6 745.4,719.3 746.4,719.7 747.4,720.2 748.4,720.8 749.4,721.4 750.5,721.9 751.5,722.1 752.5,722.2 753.5,722.0 754.5,721.5 755.5,720.8 756.5,720.2 757.5,720.0 758.5,720.2 759.5,720.7 760.5,721.1 761.5,721.3 762.5,721.5 763.5,721.8 764.5,722.3 765.5,722.8 766.5,723.2 767.5,723.3 768.5,722.9 769.5,722.1 770.5,721.2 771.5,720.5 772.5,720.5 773.6,720.9 774.6,721.5 775.6,722.1 776.6,722.5 777.6,722.8 778.6,722.8 779.6,722.6 780.6,722.3 781.6,722.2 782.6,722.3 783.6,722.4 784.6,722.3 785.6,721.9 786.6,721.6 787.6,721.4 788.6,721.4 789.6,721.6 790.6,721.9 791.6,722.2 792.6,722.3 793.6,722.5 794.6,722.8 795.6,723.2 796.7,723.5 797.7,723.4 798.7,723.0 799.7,722.6 800.7,722.5 801.7,722.8 802.7,723.5 803.7,724.3 804.7,724.7 805.7,724.6 806.7,721.7 807.7,708.7 808.7,698.1 809.7,687.8 810.7,678.9 811.7,672.9 812.7,670.6 813.7,669.8 814.7,668.9 815.7,667.7 816.7,666.5 817.7,665.6 818.7,664.9 819.8,664.6 820.8,664.8 821.8,665.4 822.8,665.9 823.8,665.7 824.8,664.8 825.8,663.6 826.8,662.4 827.8,661.4 828.8,660.5 829.8,659.7 830.8,659.2 831.8,659.1 832.8,659.5 833.8,660.1 834.8,660.8 835.8,661.4 836.8,661.8 837.8,661.7 838.8,661.2 839.8,660.6 840.8,660.1 841.8,659.9 842.9,659.9 843.9,660.0 844.9,660.0 845.9,659.8 846.9,659.4 847.9,659.1 848.9,659.0 849.9,659.2 850.9,659.5 851.9,659.8 852.9,659.8 853.9,659.6 854.9,659.4 855.9,659.3 856.9,659.3 857.9,659.5 858.9,660.1 859.9,661.2 860.9,662.4 861.9,663.8 862.9,665.5 863.9,667.7 864.9,670.1 866.0,673.4 867.0,677.4 868.0,682.3 869.0,688.0 870.0,693.8 871.0,699.2 872.0,703.4 873.0,706.2 874.0,708.0 875.0,709.9 876.0,711.8 877.0,713.5 878.0,714.8 879.0,715.5 880.0,716.1 881.0,716.6 882.0,716.8 883.0,716.6 884.0,715.9 885.0,714.9 886.0,713.8 887.0,712.9 888.0,712.4 889.1,711.9 890.1,711.5 891.1,711.2 892.1,711.1 893.1,711.0 894.1,711.1 895.1,711.4 896.1,712.0 897.1,712.5 898.1,712.9 899.1,713.3 900.1,713.6 901.1,713.6 902.1,713.4 903.1,713.2 904.1,713.5 905.1,714.1 906.1,714.7 907.1,715.0 908.1,715.0 909.1,714.9 910.1,715.1 911.1,715.6 912.2,716.3 913.2,716.6 914.2,716.5 915.2,715.9 916.2,715.1 917.2,714.4 918.2,713.9 919.2,713.6 920.2,713.3 921.2,713.0 922.2,712.9 923.2,712.9 924.2,718.3 925.2,729.7 926.2,730.0 927.2,730.0 928.2,730.0 929.2,729.9 930.2,729.5 931.2,729.2 932.2,728.9 933.2,728.9 934.2,719.3 935.3,704.2 936.3,702.6 937.3,703.7 938.3,704.5 939.3,704.5 940.3,704.1 941.3,703.4 942.3,703.2 943.3,703.4 944.3,704.0 945.3,704.4 946.3,704.3 947.3,703.9 948.3,703.4 949.3,703.2 950.3,703.4 951.3,703.6 952.3,703.6 953.3,703.2 954.3,702.8 955.3,702.8 956.3,703.2 957.3,703.6 958.4,703.7 959.4,703.4 960.4,703.0 961.4,702.8 962.4,703.2 963.4,704.0 964.4,704.8 965.4,705.1 966.4,705.0 967.4,704.6 968.4,704.1 969.4,703.9 970.4,704.1 971.4,704.7 972.4,705.5 973.4,706.3 974.4,706.7 975.4,706.6 976.4,706.2 977.4,705.5 978.4,705.1 979.4,705.0 980.4,705.3 981.5,705.9 982.5,706.5 983.5,708.6 984.5,712.2 985.5,713.7 986.5,710.6 987.5,705.4 988.5,701.2 989.5,697.1 990.5,693.8 991.5,693.1 992.5,693.6 993.5,694.1 994.5,694.3 995.5,693.9 996.5,693.2 997.5,692.3 998.5,691.8 999.5,692.0 1000.5,692.9 1001.5,694.2 1002.5,695.4 1003.5,696.0 1004.5,696.0 1005.6,695.7 1006.6,695.5 1007.6,695.4 1008.6,695.2 1009.6,694.7 1010.6,694.0 1011.6,693.3 1012.6,693.2 1013.6,693.7 1014.6,694.9 1015.6,696.3 1016.6,697.4 1017.6,697.9 1018.6,698.0 1019.6,697.8 1020.6,697.5 1021.6,697.2 1022.6,697.3 1023.6,697.7 1024.6,698.3 1025.6,699.1 1026.6,699.8 1027.6,700.5 1028.7,701.1 1029.7,701.5 1030.7,701.6 1031.7,701.3 1032.7,700.8 1033.7,700.3 1034.7,699.8 1035.7,699.5 1036.7,699.2 1037.7,699.1 1038.7,698.9 1039.7,698.7 1040.7,698.6 1041.7,698.5 1042.7,698.6 1043.7,698.8 1044.7,699.2 1045.7,699.8 1046.7,700.7 1047.7,701.7 1048.7,702.6 1049.7,703.1 1050.7,703.4 1051.8,703.5 1052.8,703.4 1053.8,703.1 1054.8,702.8 1055.8,702.2 1056.8,701.4 1057.8,700.5 1058.8,699.9 1059.8,699.8 1060.8,700.3 1061.8,701.1 1062.8,701.7 1063.8,702.0 1064.8,702.2 1065.8,702.3 1066.8,702.5 1067.8,702.7 1068.8,703.0 1069.8,703.1 1070.8,703.0 1071.8,702.7 1072.8,702.3 1073.8,701.9 1074.9,701.8 1075.9,702.0 1076.9,702.4 1077.9,702.8 1078.9,703.0 1079.9,702.8 1080.9,702.4 1081.9,701.8 1082.9,701.3 1083.9,701.0 1084.9,701.2 1085.9,701.5 1086.9,701.7 1087.9,701.6 1088.9,701.7 1089.9,702.1 1090.9,702.9 1091.9,703.9 1092.9,704.6 1093.9,704.8 1094.9,704.6 1095.9,703.9 1096.9,703.3 1098.0,702.8 1099.0,702.6 1100.0,702.4 1101.0,702.2 1102.0,702.0 1103.0,702.2 1104.0,702.7 1105.0,703.5 1106.0,704.3 1107.0,705.0 1108.0,705.6 1109.0,705.8 1110.0,705.6 1111.0,705.1 1112.0,704.5 1113.0,703.9 1114.0,703.6 1115.0,703.8 1116.0,704.6 1117.0,705.5 1118.0,706.0 1119.0,705.9 1120.0,705.3 1121.1,704.6 1122.1,704.1 1123.1,703.7 1124.1,703.2 1125.1,702.5 1126.1,702.2 1127.1,702.3 1128.1,703.1 1129.1,704.2 1130.1,705.1 1131.1,705.4 1132.1,705.2 1133.1,704.9 1134.1,704.6 1135.1,704.5 1136.1,704.5 1137.1,704.5 1138.1,704.2 1139.1,703.9 1140.1,703.8 1141.1,703.9 1142.1,703.9 1143.1,704.2 1144.2,704.8 1145.2,705.8 1146.2,706.7 1147.2,707.4 1148.2,707.6 1149.2,707.5" fill="none" stroke="#7b2fb3" stroke-width="3.4" stroke-linejoin="round" stroke-linecap="round"/>
<path d="M715.3,732.9 716.3,733.2 717.3,733.2 718.3,733.1 719.3,732.2 720.3,731.2 721.3,730.7 722.3,730.9 723.3,731.7 724.3,732.8 725.3,733.2 726.3,733.2 727.4,733.2 728.4,733.2 729.4,733.2 730.4,732.4 731.4,731.6 732.4,731.0 733.4,730.4 734.4,729.7 735.4,728.8 736.4,728.1 737.4,727.9 738.4,728.4 739.4,729.4 740.4,730.3 741.4,729.6 742.4,726.7 743.4,724.7 744.4,723.0 745.4,722.8 746.4,722.8 747.4,722.7 748.4,722.6 749.4,722.8 750.5,723.1 751.5,723.2 752.5,723.0 753.5,722.6 754.5,722.1 755.5,721.7 756.5,721.6 757.5,721.7 758.5,722.1 759.5,722.6 760.5,723.0 761.5,722.9 762.5,722.2 763.5,721.0 764.5,719.8 765.5,719.2 766.5,719.1 767.5,719.4 768.5,719.8 769.5,720.2 770.5,720.5 771.5,720.7 772.5,720.8 773.6,720.7 774.6,720.6 775.6,720.4 776.6,720.2 777.6,719.9 778.6,719.5 779.6,719.4 780.6,719.5 781.6,722.6 782.6,731.0 783.6,731.5 784.6,731.8 785.6,722.8 786.6,722.3 787.6,722.3 788.6,722.2 789.6,721.8 790.6,721.4 791.6,721.2 792.6,721.3 793.6,721.7 794.6,722.2 795.6,722.7 796.7,722.9 797.7,723.0 798.7,723.1 799.7,723.2 800.7,723.2 801.7,723.0 802.7,722.6 803.7,722.3 804.7,722.2 805.7,722.6 806.7,720.9 807.7,709.0 808.7,701.8 809.7,695.1 810.7,688.7 811.7,683.2 812.7,679.1 813.7,676.6 814.7,675.4 815.7,674.4 816.7,673.6 817.7,672.9 818.7,672.4 819.8,671.7 820.8,670.8 821.8,669.9 822.8,669.1 823.8,668.7 824.8,668.4 825.8,668.0 826.8,667.5 827.8,666.8 828.8,666.3 829.8,665.9 830.8,665.4 831.8,665.0 832.8,664.6 833.8,664.4 834.8,664.4 835.8,664.5 836.8,664.5 837.8,664.3 838.8,664.1 839.8,663.8 840.8,663.5 841.8,663.1 842.9,662.7 843.9,662.5 844.9,662.2 845.9,661.9 846.9,661.4 847.9,660.6 848.9,659.5 849.9,658.7 850.9,658.4 851.9,658.7 852.9,659.1 853.9,659.5 854.9,659.7 855.9,659.8 856.9,659.7 857.9,659.7 858.9,659.9 859.9,660.3 860.9,660.9 861.9,661.8 862.9,662.5 863.9,663.1 864.9,663.4 866.0,663.9 867.0,664.7 868.0,666.1 869.0,668.0 870.0,670.5 871.0,673.4 872.0,676.6 873.0,680.7 874.0,686.2 875.0,692.4 876.0,698.6 877.0,703.9 878.0,707.7 879.0,709.4 880.0,710.8 881.0,712.2 882.0,713.5 883.0,714.4 884.0,714.9 885.0,714.9 886.0,714.6 887.0,714.1 888.0,713.7 889.1,713.4 890.1,713.3 891.1,713.5 892.1,714.1 893.1,714.9 894.1,715.5 895.1,715.5 896.1,715.2 897.1,714.6 898.1,714.2 899.1,714.3 900.1,714.7 901.1,715.1 902.1,715.4 903.1,715.6 904.1,715.7 905.1,715.7 906.1,715.5 907.1,715.2 908.1,715.0 909.1,714.8 910.1,714.6 911.1,714.2 912.2,713.7 913.2,713.3 914.2,713.1 915.2,713.0 916.2,712.7 917.2,712.3 918.2,711.7 919.2,711.2 920.2,711.1 921.2,711.2 922.2,711.7 923.2,712.3 924.2,712.8 925.2,726.0 926.2,730.2 927.2,730.5 928.2,730.9 929.2,731.1 930.2,731.1 931.2,730.9 932.2,730.6 933.2,730.7 934.2,731.2 935.3,731.8 936.3,732.1 937.3,715.0 938.3,705.3 939.3,703.7 940.3,702.6 941.3,702.2 942.3,702.3 943.3,702.3 944.3,702.0 945.3,701.3 946.3,700.5 947.3,699.9 948.3,700.0 949.3,700.9 950.3,702.8 951.3,704.7 952.3,705.7 953.3,705.4 954.3,704.4 955.3,703.9 956.3,704.1 957.3,704.7 958.4,705.0 959.4,705.0 960.4,704.7 961.4,704.6 962.4,704.8 963.4,705.2 964.4,705.5 965.4,705.6 966.4,705.7 967.4,705.8 968.4,706.0 969.4,706.3 970.4,706.5 971.4,706.5 972.4,706.3 973.4,705.9 974.4,705.7 975.4,705.5 976.4,705.4 977.4,705.5 978.4,705.9 979.4,706.8 980.4,708.0 981.5,709.2 982.5,710.2 983.5,712.2 984.5,715.7 985.5,719.1 986.5,720.8 987.5,718.7 988.5,714.1 989.5,709.1 990.5,706.0 991.5,706.1 992.5,706.2 993.5,705.9 994.5,705.4 995.5,705.2 996.5,705.4 997.5,705.9 998.5,706.4 999.5,706.5 1000.5,706.2 1001.5,705.7 1002.5,705.5 1003.5,705.8 1004.5,706.5 1005.6,707.2 1006.6,707.6 1007.6,707.4 1008.6,706.9 1009.6,706.4 1010.6,706.2 1011.6,706.4 1012.6,706.8 1013.6,707.3 1014.6,707.3 1015.6,707.1 1016.6,706.8 1017.6,706.5 1018.6,706.3 1019.6,706.0 1020.6,705.6 1021.6,705.4 1022.6,705.4 1023.6,705.8 1024.6,706.5 1025.6,707.2 1026.6,707.8 1027.6,708.2 1028.7,708.5 1029.7,708.8 1030.7,709.0 1031.7,709.1 1032.7,709.0 1033.7,708.8 1034.7,708.6 1035.7,708.4 1036.7,708.3 1037.7,708.3 1038.7,708.5 1039.7,709.0 1040.7,709.7 1041.7,710.5 1042.7,711.2 1043.7,711.6 1044.7,711.6 1045.7,711.5 1046.7,711.4 1047.7,711.3 1048.7,711.4 1049.7,711.4 1050.7,711.4 1051.8,711.4 1052.8,711.4 1053.8,711.4 1054.8,711.1 1055.8,710.5 1056.8,709.9 1057.8,709.3 1058.8,708.8 1059.8,708.7 1060.8,709.0 1061.8,709.7 1062.8,710.4 1063.8,710.8 1064.8,710.7 1065.8,710.4 1066.8,710.0 1067.8,709.6 1068.8,709.6 1069.8,709.8 1070.8,710.4 1071.8,711.1 1072.8,711.9 1073.8,712.6 1074.9,712.9 1075.9,712.9 1076.9,712.7 1077.9,712.5 1078.9,712.3 1079.9,712.2 1080.9,712.1 1081.9,711.9 1082.9,711.7 1083.9,711.8 1084.9,712.2 1085.9,712.6 1086.9,712.6 1087.9,711.9 1088.9,711.1 1089.9,710.5 1090.9,710.3 1091.9,710.3 1092.9,710.2 1093.9,709.6 1094.9,708.8 1095.9,708.0 1096.9,707.4 1098.0,707.3 1099.0,707.7 1100.0,708.4 1101.0,709.2 1102.0,709.5 1103.0,709.5 1104.0,709.3 1105.0,709.0 1106.0,708.9 1107.0,708.9 1108.0,709.0 1109.0,709.2 1110.0,709.3 1111.0,709.4 1112.0,709.4 1113.0,709.4 1114.0,709.3 1115.0,709.1 1116.0,708.8 1117.0,708.5 1118.0,708.5 1119.0,708.7 1120.0,709.3 1121.1,710.1 1122.1,710.7 1123.1,710.9 1124.1,710.5 1125.1,709.9 1126.1,709.4 1127.1,709.2 1128.1,709.3 1129.1,709.5 1130.1,709.7 1131.1,709.9 1132.1,710.2 1133.1,710.4 1134.1,710.5 1135.1,710.5 1136.1,710.4 1137.1,710.4 1138.1,710.6 1139.1,711.2 1140.1,711.8 1141.1,712.2 1142.1,712.2 1143.1,711.9 1144.2,711.6 1145.2,711.5 1146.2,711.5 1147.2,711.7 1148.2,711.7 1149.2,711.4" fill="none" stroke="#e60000" stroke-width="3.4" stroke-linejoin="round" stroke-linecap="round"/>
<path d="M725.7,594.0 H716.2 V733.2 H1148.3" fill="none" stroke="#000" stroke-width="3.3" stroke-linejoin="round"/>
<line x1="716.2" y1="698.4" x2="725.7" y2="698.4" stroke="#000" stroke-width="3.3"/>
<line x1="716.2" y1="663.6" x2="725.7" y2="663.6" stroke="#000" stroke-width="3.3"/>
<line x1="716.2" y1="628.8" x2="725.7" y2="628.8" stroke="#000" stroke-width="3.3"/>
<line x1="784.7" y1="733.2" x2="784.7" y2="723.7" stroke="#000" stroke-width="3.3"/>
<line x1="854.1" y1="733.2" x2="854.1" y2="723.7" stroke="#000" stroke-width="3.3"/>
<line x1="923.6" y1="733.2" x2="923.6" y2="723.7" stroke="#000" stroke-width="3.3"/>
<line x1="993.0" y1="733.2" x2="993.0" y2="723.7" stroke="#000" stroke-width="3.3"/>
<line x1="1062.4" y1="733.2" x2="1062.4" y2="723.7" stroke="#000" stroke-width="3.3"/>
<line x1="1131.8" y1="733.2" x2="1131.8" y2="723.7" stroke="#000" stroke-width="3.3"/>
<text x="687.1" y="741.7" font-family='"Liberation Sans", sans-serif' font-size="27" text-anchor="end">0</text>
<text x="687.1" y="706.9" font-family='"Liberation Sans", sans-serif' font-size="27" text-anchor="end">25</text>
<text x="687.1" y="672.1" font-family='"Liberation Sans", sans-serif' font-size="27" text-anchor="end">50</text>
<text x="687.1" y="637.3" font-family='"Liberation Sans", sans-serif' font-size="27" text-anchor="end">75</text>
<text x="687.1" y="602.5" font-family='"Liberation Sans", sans-serif' font-size="27" text-anchor="end">100</text>
<text x="715.3" y="781.5" font-family='"Liberation Sans", sans-serif' font-size="27" text-anchor="middle">1.5</text>
<text x="784.7" y="781.5" font-family='"Liberation Sans", sans-serif' font-size="27" text-anchor="middle">3.5</text>
<text x="854.1" y="781.5" font-family='"Liberation Sans", sans-serif' font-size="27" text-anchor="middle">5.5</text>
<text x="923.6" y="781.5" font-family='"Liberation Sans", sans-serif' font-size="27" text-anchor="middle">7.5</text>
<text x="993.0" y="781.5" font-family='"Liberation Sans", sans-serif' font-size="27" text-anchor="middle">9.5</text>
<text x="1062.4" y="781.5" font-family='"Liberation Sans", sans-serif' font-size="27" text-anchor="middle">11.5</text>
<text x="1131.8" y="781.5" font-family='"Liberation Sans", sans-serif' font-size="27" text-anchor="middle">13.5</text>
<text x="737.7" y="616.1" font-family='"Liberation Sans", sans-serif' font-size="25.43" font-weight="bold" textLength="79.2" lengthAdjust="spacingAndGlyphs">H) AM</text>
<path d="M736.0,676.0 h3.5 v26.6 h5.55 L737.8,716.5 L730.5,702.6 h5.55 z" fill="#000"/>
<path d="M796.4,670.2 h3.5 v26.6 h5.55 L798.1,710.7 L790.8,696.8 h5.55 z" fill="#000"/>
<path d="M924.0,664.4 h3.5 v26.6 h5.55 L925.7,704.9 L918.4,691.0 h5.55 z" fill="#000"/>
<path d="M967.8,647.4 h3.5 v26.6 h5.55 L969.5,687.9 L962.2,674.0 h5.55 z" fill="#000"/>
<path d="M715.3,984.0 716.3,983.9 717.3,983.6 718.3,983.2 719.3,982.5 720.3,981.8 721.3,981.2 722.3,981.0 723.3,980.9 724.3,981.2 725.3,981.7 726.3,982.3 727.4,982.9 728.4,983.2 729.4,983.2 730.4,983.2 731.4,983.3 732.4,983.6 733.4,983.8 734.4,983.8 735.4,983.6 736.4,983.5 737.4,983.6 738.4,983.9 739.4,984.3 740.4,985.3 741.4,985.4 742.4,984.9 743.4,984.2 744.4,983.6 745.4,982.8 746.4,980.6 747.4,978.0 748.4,977.0 749.4,976.8 750.5,976.6 751.5,976.6 752.5,977.0 753.5,977.5 754.5,978.1 755.5,978.5 756.5,978.4 757.5,977.8 758.5,977.0 759.5,976.2 760.5,975.6 761.5,975.3 762.5,975.3 763.5,975.6 764.5,976.3 765.5,976.9 766.5,977.3 767.5,977.3 768.5,977.1 769.5,977.2 770.5,977.4 771.5,977.6 772.5,977.7 773.6,977.7 774.6,977.7 775.6,977.6 776.6,977.5 777.6,977.1 778.6,976.8 779.6,976.5 780.6,976.4 781.6,976.5 782.6,976.6 783.6,976.7 784.6,976.9 785.6,977.3 786.6,977.3 787.6,976.9 788.6,976.2 789.6,975.6 790.6,975.4 791.6,975.6 792.6,975.9 793.6,976.0 794.6,975.9 795.6,975.6 796.7,975.5 797.7,975.5 798.7,975.7 799.7,976.2 800.7,976.6 801.7,976.8 802.7,976.7 803.7,976.5 804.7,976.4 805.7,976.7 806.7,977.4 807.7,979.9 808.7,982.0 809.7,980.7 810.7,975.2 811.7,968.6 812.7,964.1 813.7,960.7 814.7,958.2 815.7,957.0 816.7,957.1 817.7,957.0 818.7,956.9 819.8,956.8 820.8,956.8 821.8,956.7 822.8,956.7 823.8,956.8 824.8,957.0 825.8,957.1 826.8,957.1 827.8,956.9 828.8,956.8 829.8,956.5 830.8,956.0 831.8,955.3 832.8,954.5 833.8,953.9 834.8,953.7 835.8,953.8 836.8,954.1 837.8,954.4 838.8,954.4 839.8,954.3 840.8,954.2 841.8,954.0 842.9,954.0 843.9,953.9 844.9,954.0 845.9,954.3 846.9,954.6 847.9,955.0 848.9,955.1 849.9,954.9 850.9,954.3 851.9,953.4 852.9,952.7 853.9,952.3 854.9,952.3 855.9,952.6 856.9,953.0 857.9,953.4 858.9,953.6 859.9,953.7 860.9,953.5 861.9,953.1 862.9,952.5 863.9,951.8 864.9,951.3 866.0,950.9 867.0,950.8 868.0,950.6 869.0,950.3 870.0,949.9 871.0,949.7 872.0,949.8 873.0,950.4 874.0,951.1 875.0,951.8 876.0,952.0 877.0,951.8 878.0,951.4 879.0,950.9 880.0,950.5 881.0,950.6 882.0,951.1 883.0,951.4 884.0,951.5 885.0,951.3 886.0,951.0 887.0,950.9 888.0,951.0 889.1,951.3 890.1,951.6 891.1,951.9 892.1,952.4 893.1,953.1 894.1,953.9 895.1,954.9 896.1,956.0 897.1,957.9 898.1,960.3 899.1,962.8 900.1,965.0 901.1,966.5 902.1,967.4 903.1,968.2 904.1,969.0 905.1,969.8 906.1,970.6 907.1,971.3 908.1,971.8 909.1,972.2 910.1,972.4 911.1,972.4 912.2,972.2 913.2,972.0 914.2,971.8 915.2,971.7 916.2,971.6 917.2,971.3 918.2,971.1 919.2,971.0 920.2,971.1 921.2,971.4 922.2,971.8 923.2,972.3 924.2,972.7 925.2,972.7 926.2,972.2 927.2,971.7 928.2,971.2 929.2,971.1 930.2,971.2 931.2,971.4 932.2,971.7 933.2,972.0 934.2,972.4 935.3,972.7 936.3,972.7 937.3,972.4 938.3,972.0 939.3,971.7 940.3,971.5 941.3,971.4 942.3,971.2 943.3,970.8 944.3,970.6 945.3,970.9 946.3,971.6 947.3,972.5 948.3,973.1 949.3,973.4 950.3,973.3 951.3,973.0 952.3,972.6 953.3,972.4 954.3,972.5 955.3,972.8 956.3,973.2 957.3,973.4 958.4,973.2 959.4,977.3 960.4,982.5 961.4,982.6 962.4,982.3 963.4,982.0 964.4,982.0 965.4,982.2 966.4,982.0 967.4,977.3 968.4,973.0 969.4,972.6 970.4,972.5 971.4,972.4 972.4,972.5 973.4,972.5 974.4,972.5 975.4,972.4 976.4,972.1 977.4,972.0 978.4,971.9 979.4,971.9 980.4,971.9 981.5,972.0 982.5,972.4 983.5,973.0 984.5,973.9 985.5,974.6 986.5,975.1 987.5,975.2 988.5,975.1 989.5,974.8 990.5,974.3 991.5,973.8 992.5,973.1 993.5,972.6 994.5,972.4 995.5,972.4 996.5,972.4 997.5,972.4 998.5,972.2 999.5,971.9 1000.5,971.7 1001.5,971.6 1002.5,971.6 1003.5,971.6 1004.5,971.6 1005.6,971.7 1006.6,971.8 1007.6,971.9 1008.6,971.8 1009.6,971.6 1010.6,971.5 1011.6,971.5 1012.6,971.7 1013.6,972.1 1014.6,972.5 1015.6,972.9 1016.6,973.2 1017.6,973.5 1018.6,973.6 1019.6,969.7 1020.6,962.8 1021.6,957.9 1022.6,953.3 1023.6,949.3 1024.6,946.5 1025.6,944.9 1026.6,943.8 1027.6,942.7 1028.7,941.9 1029.7,941.2 1030.7,940.8 1031.7,940.6 1032.7,940.8 1033.7,941.1 1034.7,941.4 1035.7,941.4 1036.7,941.3 1037.7,941.0 1038.7,940.6 1039.7,940.4 1040.7,940.2 1041.7,940.2 1042.7,940.1 1043.7,940.1 1044.7,940.2 1045.7,940.4 1046.7,940.5 1047.7,940.5 1048.7,940.3 1049.7,940.3 1050.7,940.5 1051.8,940.9 1052.8,941.3 1053.8,941.4 1054.8,941.4 1055.8,941.2 1056.8,940.7 1057.8,940.2 1058.8,939.7 1059.8,939.6 1060.8,939.9 1061.8,940.4 1062.8,941.0 1063.8,941.4 1064.8,941.5 1065.8,941.3 1066.8,941.1 1067.8,941.0 1068.8,941.0 1069.8,941.1 1070.8,941.2 1071.8,941.4 1072.8,941.6 1073.8,942.0 1074.9,942.4 1075.9,942.7 1076.9,942.9 1077.9,943.0 1078.9,942.9 1079.9,942.6 1080.9,942.4 1081.9,943.3 1082.9,945.4 1083.9,948.3 1084.9,951.6 1085.9,954.8 1086.9,957.8 1087.9,960.3 1088.9,962.3 1089.9,964.1 1090.9,965.6 1091.9,967.0 1092.9,968.1 1093.9,969.0 1094.9,969.6 1095.9,969.9 1096.9,970.0 1098.0,969.9 1099.0,969.6 1100.0,969.4 1101.0,969.3 1102.0,969.7 1103.0,970.2 1104.0,970.8 1105.0,971.2 1106.0,971.4 1107.0,971.6 1108.0,971.8 1109.0,972.1 1110.0,972.5 1111.0,973.0 1112.0,973.4 1113.0,973.5 1114.0,973.0 1115.0,972.2 1116.0,971.5 1117.0,970.9 1118.0,970.7 1119.0,970.7 1120.0,970.7 1121.1,970.9 1122.1,971.3 1123.1,971.7 1124.1,971.9 1125.1,971.7 1126.1,971.2 1127.1,970.5 1128.1,970.0 1129.1,969.6 1130.1,969.3 1131.1,969.2 1132.1,969.1 1133.1,969.1 1134.1,969.2 1135.1,969.4 1136.1,969.8 1137.1,970.3 1138.1,970.6 1139.1,970.9 1140.1,970.9 1141.1,971.0 1142.1,971.2 1143.1,971.5 1144.2,971.7 1145.2,971.6 1146.2,971.2 1147.2,970.7 1148.2,970.1 1149.2,969.8" fill="none" stroke="#1f6fce" stroke-width="3.4" stroke-linejoin="round" stroke-linecap="round"/>
<path d="M715.3,982.3 716.3,982.1 717.3,982.2 718.3,982.2 719.3,982.2 720.3,982.2 721.3,982.2 722.3,982.2 723.3,982.2 724.3,982.4 725.3,982.7 726.3,982.9 727.4,983.0 728.4,983.0 729.4,983.1 730.4,983.2 731.4,983.3 732.4,983.1 733.4,982.7 734.4,982.3 735.4,982.0 736.4,981.9 737.4,981.8 738.4,981.7 739.4,982.3 740.4,984.5 741.4,985.5 742.4,985.6 743.4,985.1 744.4,984.0 745.4,982.6 746.4,979.7 747.4,976.6 748.4,975.3 749.4,975.0 750.5,974.7 751.5,974.5 752.5,974.5 753.5,974.7 754.5,975.0 755.5,975.5 756.5,976.1 757.5,976.8 758.5,977.3 759.5,977.5 760.5,977.4 761.5,976.9 762.5,976.3 763.5,975.7 764.5,975.2 765.5,974.9 766.5,974.9 767.5,975.2 768.5,975.6 769.5,975.9 770.5,975.9 771.5,975.7 772.5,975.3 773.6,974.9 774.6,974.9 775.6,975.4 776.6,976.2 777.6,977.1 778.6,977.6 779.6,977.7 780.6,977.8 781.6,978.0 782.6,978.2 783.6,978.1 784.6,977.5 785.6,976.6 786.6,975.7 787.6,975.3 788.6,975.4 789.6,975.8 790.6,976.2 791.6,976.6 792.6,976.7 793.6,976.7 794.6,976.6 795.6,976.4 796.7,976.3 797.7,976.1 798.7,976.0 799.7,976.0 800.7,976.0 801.7,976.1 802.7,976.4 803.7,976.6 804.7,976.6 805.7,976.4 806.7,976.5 807.7,978.7 808.7,980.6 809.7,978.9 810.7,973.3 811.7,966.5 812.7,961.6 813.7,957.4 814.7,953.8 815.7,952.2 816.7,952.6 817.7,953.0 818.7,953.2 819.8,953.2 820.8,953.2 821.8,953.4 822.8,953.7 823.8,954.1 824.8,954.3 825.8,954.4 826.8,954.3 827.8,954.2 828.8,954.1 829.8,954.0 830.8,953.6 831.8,953.1 832.8,952.4 833.8,952.0 834.8,952.1 835.8,952.5 836.8,953.1 837.8,953.5 838.8,953.6 839.8,953.3 840.8,952.8 841.8,952.3 842.9,952.0 843.9,952.0 844.9,952.5 845.9,953.2 846.9,954.0 847.9,954.4 848.9,954.2 849.9,953.6 850.9,952.8 851.9,952.1 852.9,951.8 853.9,951.9 854.9,952.1 855.9,952.2 856.9,952.2 857.9,952.1 858.9,951.9 859.9,951.8 860.9,951.8 861.9,951.9 862.9,952.2 863.9,952.4 864.9,952.4 866.0,952.4 867.0,952.6 868.0,952.7 869.0,952.4 870.0,951.7 871.0,950.7 872.0,949.9 873.0,949.5 874.0,949.6 875.0,950.0 876.0,950.5 877.0,950.9 878.0,951.3 879.0,951.4 880.0,951.4 881.0,951.3 882.0,951.5 883.0,951.9 884.0,952.3 885.0,952.3 886.0,952.0 887.0,951.3 888.0,950.5 889.1,949.8 890.1,949.3 891.1,949.7 892.1,951.6 893.1,954.4 894.1,957.1 895.1,959.1 896.1,960.6 897.1,961.6 898.1,962.5 899.1,963.2 900.1,963.9 901.1,964.9 902.1,966.0 903.1,967.0 904.1,967.9 905.1,968.6 906.1,969.4 907.1,970.2 908.1,970.7 909.1,971.1 910.1,971.4 911.1,971.8 912.2,972.4 913.2,972.7 914.2,972.6 915.2,971.9 916.2,970.9 917.2,970.2 918.2,970.2 919.2,970.7 920.2,971.4 921.2,972.0 922.2,972.2 923.2,972.1 924.2,971.8 925.2,971.4 926.2,971.0 927.2,970.9 928.2,971.1 929.2,971.5 930.2,971.9 931.2,972.1 932.2,972.1 933.2,972.2 934.2,972.3 935.3,972.5 936.3,972.6 937.3,972.3 938.3,971.7 939.3,971.0 940.3,970.5 941.3,970.3 942.3,970.3 943.3,970.6 944.3,970.7 945.3,970.8 946.3,970.7 947.3,970.7 948.3,970.9 949.3,971.3 950.3,971.7 951.3,972.0 952.3,972.2 953.3,972.1 954.3,972.0 955.3,971.7 956.3,971.5 957.3,971.3 958.4,971.0 959.4,970.6 960.4,971.0 961.4,977.0 962.4,981.8 963.4,982.2 964.4,982.6 965.4,983.0 966.4,983.3 967.4,982.7 968.4,977.5 969.4,972.5 970.4,971.8 971.4,971.6 972.4,971.5 973.4,971.5 974.4,971.6 975.4,971.7 976.4,972.0 977.4,972.5 978.4,973.0 979.4,973.4 980.4,973.5 981.5,973.1 982.5,972.4 983.5,971.8 984.5,971.3 985.5,971.0 986.5,971.0 987.5,971.0 988.5,971.1 989.5,971.1 990.5,971.2 991.5,971.5 992.5,972.0 993.5,972.6 994.5,973.1 995.5,973.3 996.5,973.2 997.5,972.9 998.5,972.5 999.5,972.1 1000.5,971.6 1001.5,971.0 1002.5,970.6 1003.5,970.3 1004.5,970.3 1005.6,970.6 1006.6,971.2 1007.6,972.0 1008.6,972.6 1009.6,973.0 1010.6,973.0 1011.6,972.8 1012.6,972.3 1013.6,971.7 1014.6,971.0 1015.6,970.1 1016.6,969.4 1017.6,968.9 1018.6,969.0 1019.6,966.9 1020.6,961.3 1021.6,954.8 1022.6,950.4 1023.6,947.0 1024.6,944.3 1025.6,943.3 1026.6,943.0 1027.6,942.9 1028.7,942.7 1029.7,942.3 1030.7,941.8 1031.7,941.4 1032.7,941.4 1033.7,941.5 1034.7,941.6 1035.7,941.2 1036.7,940.6 1037.7,940.0 1038.7,939.7 1039.7,939.9 1040.7,940.2 1041.7,940.7 1042.7,941.1 1043.7,941.2 1044.7,941.2 1045.7,941.2 1046.7,941.1 1047.7,941.1 1048.7,941.2 1049.7,941.4 1050.7,941.6 1051.8,941.7 1052.8,941.6 1053.8,941.3 1054.8,940.9 1055.8,940.4 1056.8,940.3 1057.8,940.4 1058.8,940.7 1059.8,941.1 1060.8,941.4 1061.8,941.6 1062.8,941.7 1063.8,941.8 1064.8,941.7 1065.8,941.5 1066.8,941.1 1067.8,940.6 1068.8,939.9 1069.8,939.2 1070.8,938.8 1071.8,938.9 1072.8,939.6 1073.8,940.5 1074.9,941.1 1075.9,941.0 1076.9,940.3 1077.9,939.4 1078.9,939.1 1079.9,939.6 1080.9,940.9 1081.9,942.5 1082.9,944.0 1083.9,945.3 1084.9,946.6 1085.9,947.8 1086.9,949.1 1087.9,950.6 1088.9,952.2 1089.9,953.6 1090.9,954.6 1091.9,955.6 1092.9,956.8 1093.9,958.3 1094.9,959.9 1095.9,961.2 1096.9,962.1 1098.0,962.7 1099.0,963.1 1100.0,963.6 1101.0,964.2 1102.0,965.1 1103.0,966.0 1104.0,966.5 1105.0,966.5 1106.0,966.5 1107.0,966.4 1108.0,966.5 1109.0,966.6 1110.0,966.5 1111.0,966.4 1112.0,966.4 1113.0,966.7 1114.0,967.3 1115.0,967.9 1116.0,968.4 1117.0,968.8 1118.0,969.3 1119.0,969.6 1120.0,969.8 1121.1,969.6 1122.1,969.2 1123.1,968.8 1124.1,968.5 1125.1,968.3 1126.1,968.3 1127.1,968.6 1128.1,969.1 1129.1,969.8 1130.1,970.3 1131.1,970.5 1132.1,970.4 1133.1,970.3 1134.1,970.4 1135.1,970.6 1136.1,970.8 1137.1,970.9 1138.1,970.7 1139.1,970.3 1140.1,969.9 1141.1,969.9 1142.1,970.4 1143.1,971.2 1144.2,972.1 1145.2,972.6 1146.2,972.6 1147.2,972.2 1148.2,971.6 1149.2,971.1" fill="none" stroke="#fd7d27" stroke-width="3.4" stroke-linejoin="round" stroke-linecap="round"/>
<path d="M715.3,982.6 716.3,982.8 717.3,983.2 718.3,983.7 719.3,984.2 720.3,984.6 721.3,984.8 722.3,984.7 723.3,984.3 724.3,983.8 725.3,983.5 726.3,983.4 727.4,983.5 728.4,983.5 729.4,983.5 730.4,983.6 731.4,983.8 732.4,983.9 733.4,983.8 734.4,983.6 735.4,983.6 736.4,983.8 737.4,984.0 738.4,983.8 739.4,983.5 740.4,984.0 741.4,983.8 742.4,983.4 743.4,982.8 744.4,982.4 745.4,982.0 746.4,980.1 747.4,977.7 748.4,976.8 749.4,976.9 750.5,976.9 751.5,976.9 752.5,976.8 753.5,976.6 754.5,976.6 755.5,976.6 756.5,976.7 757.5,976.9 758.5,977.0 759.5,977.0 760.5,976.8 761.5,976.5 762.5,976.4 763.5,976.6 764.5,977.2 765.5,977.8 766.5,978.1 767.5,977.9 768.5,977.5 769.5,977.0 770.5,976.6 771.5,976.3 772.5,976.2 773.6,976.3 774.6,976.2 775.6,976.0 776.6,975.9 777.6,975.9 778.6,976.3 779.6,976.7 780.6,976.7 781.6,976.4 782.6,976.0 783.6,975.7 784.6,975.8 785.6,976.1 786.6,976.4 787.6,976.8 788.6,977.3 789.6,977.7 790.6,977.7 791.6,977.4 792.6,977.0 793.6,976.6 794.6,976.7 795.6,976.9 796.7,977.3 797.7,977.6 798.7,977.7 799.7,977.6 800.7,977.2 801.7,976.4 802.7,975.5 803.7,974.8 804.7,974.6 805.7,975.0 806.7,976.1 807.7,979.0 808.7,981.5 809.7,980.5 810.7,975.5 811.7,969.4 812.7,964.9 813.7,960.9 814.7,957.4 815.7,955.5 816.7,955.6 817.7,956.2 818.7,956.8 819.8,956.9 820.8,956.7 821.8,956.3 822.8,956.0 823.8,955.9 824.8,956.1 825.8,956.6 826.8,957.1 827.8,957.4 828.8,957.3 829.8,956.7 830.8,955.9 831.8,955.4 832.8,955.2 833.8,955.5 834.8,956.0 835.8,956.5 836.8,956.7 837.8,956.7 838.8,956.5 839.8,956.1 840.8,956.0 841.8,956.0 842.9,956.1 843.9,956.3 844.9,956.4 845.9,956.4 846.9,956.3 847.9,955.7 848.9,954.9 849.9,954.0 850.9,953.4 851.9,953.1 852.9,953.2 853.9,953.4 854.9,953.6 855.9,953.8 856.9,953.8 857.9,953.6 858.9,953.5 859.9,953.5 860.9,953.5 861.9,953.4 862.9,953.2 863.9,952.6 864.9,951.8 866.0,950.9 867.0,950.3 868.0,950.2 869.0,950.5 870.0,950.7 871.0,950.9 872.0,950.9 873.0,951.0 874.0,951.2 875.0,951.7 876.0,952.1 877.0,952.4 878.0,952.4 879.0,952.1 880.0,951.9 881.0,951.9 882.0,952.2 883.0,952.5 884.0,952.7 885.0,952.6 886.0,952.6 887.0,952.6 888.0,952.7 889.1,952.7 890.1,952.7 891.1,952.6 892.1,952.4 893.1,952.4 894.1,952.5 895.1,952.8 896.1,953.1 897.1,953.6 898.1,954.0 899.1,954.5 900.1,954.9 901.1,955.1 902.1,955.1 903.1,955.1 904.1,955.2 905.1,955.9 906.1,956.9 907.1,957.9 908.1,958.4 909.1,958.4 910.1,958.3 911.1,958.4 912.2,959.1 913.2,960.3 914.2,961.7 915.2,962.9 916.2,963.7 917.2,964.3 918.2,965.1 919.2,966.1 920.2,967.2 921.2,968.4 922.2,969.3 923.2,969.8 924.2,970.2 925.2,970.4 926.2,970.5 927.2,970.3 928.2,969.7 929.2,969.0 930.2,968.7 931.2,968.7 932.2,969.1 933.2,969.8 934.2,970.4 935.3,970.8 936.3,971.0 937.3,970.9 938.3,970.8 939.3,970.8 940.3,971.1 941.3,971.5 942.3,971.8 943.3,971.8 944.3,971.5 945.3,971.4 946.3,971.3 947.3,971.0 948.3,970.3 949.3,969.3 950.3,968.2 951.3,967.4 952.3,967.4 953.3,968.0 954.3,969.0 955.3,969.9 956.3,970.6 957.3,970.9 958.4,971.0 959.4,976.6 960.4,983.7 961.4,984.5 962.4,984.4 963.4,984.1 964.4,983.8 965.4,983.7 966.4,982.5 967.4,975.4 968.4,969.0 969.4,968.6 970.4,968.7 971.4,968.9 972.4,969.3 973.4,969.6 974.4,969.5 975.4,969.1 976.4,968.6 977.4,968.4 978.4,968.4 979.4,968.5 980.4,968.7 981.5,968.6 982.5,968.2 983.5,967.6 984.5,967.2 985.5,966.9 986.5,966.8 987.5,966.7 988.5,966.4 989.5,966.0 990.5,965.6 991.5,965.4 992.5,965.3 993.5,965.5 994.5,965.9 995.5,966.4 996.5,966.7 997.5,966.8 998.5,966.6 999.5,966.6 1000.5,966.8 1001.5,967.4 1002.5,968.0 1003.5,968.3 1004.5,968.3 1005.6,968.0 1006.6,967.7 1007.6,967.4 1008.6,967.4 1009.6,967.3 1010.6,967.0 1011.6,966.7 1012.6,966.6 1013.6,966.8 1014.6,967.4 1015.6,968.1 1016.6,968.6 1017.6,969.8 1018.6,979.4 1019.6,983.3 1020.6,982.6 1021.6,981.9 1022.6,979.4 1023.6,969.7 1024.6,967.5 1025.6,968.3 1026.6,969.2 1027.6,969.9 1028.7,970.4 1029.7,970.7 1030.7,970.9 1031.7,970.9 1032.7,970.9 1033.7,970.9 1034.7,970.9 1035.7,970.6 1036.7,970.1 1037.7,969.5 1038.7,968.9 1039.7,968.4 1040.7,968.0 1041.7,967.6 1042.7,967.4 1043.7,967.7 1044.7,968.3 1045.7,969.0 1046.7,969.7 1047.7,970.1 1048.7,970.1 1049.7,969.8 1050.7,969.5 1051.8,969.5 1052.8,969.7 1053.8,969.9 1054.8,970.0 1055.8,969.7 1056.8,969.3 1057.8,969.0 1058.8,969.1 1059.8,969.5 1060.8,970.0 1061.8,970.4 1062.8,970.3 1063.8,969.8 1064.8,969.3 1065.8,969.0 1066.8,969.1 1067.8,969.6 1068.8,970.0 1069.8,970.2 1070.8,970.1 1071.8,969.7 1072.8,969.2 1073.8,968.6 1074.9,968.1 1075.9,968.1 1076.9,968.6 1077.9,969.5 1078.9,970.4 1079.9,970.9 1080.9,971.1 1081.9,971.2 1082.9,971.1 1083.9,971.0 1084.9,971.0 1085.9,971.0 1086.9,970.8 1087.9,970.4 1088.9,970.0 1089.9,969.8 1090.9,969.7 1091.9,969.6 1092.9,969.5 1093.9,969.5 1094.9,969.6 1095.9,969.6 1096.9,969.5 1098.0,969.3 1099.0,969.1 1100.0,969.1 1101.0,969.3 1102.0,969.4 1103.0,969.4 1104.0,969.1 1105.0,968.7 1106.0,968.4 1107.0,968.4 1108.0,968.7 1109.0,969.1 1110.0,969.7 1111.0,970.1 1112.0,970.2 1113.0,970.1 1114.0,969.8 1115.0,969.6 1116.0,969.6 1117.0,969.8 1118.0,970.0 1119.0,970.2 1120.0,970.1 1121.1,969.9 1122.1,969.8 1123.1,970.0 1124.1,970.5 1125.1,970.8 1126.1,971.0 1127.1,971.0 1128.1,971.3 1129.1,971.9 1130.1,972.6 1131.1,973.2 1132.1,973.2 1133.1,972.7 1134.1,972.1 1135.1,971.7 1136.1,971.6 1137.1,971.7 1138.1,971.9 1139.1,972.0 1140.1,972.0 1141.1,972.0 1142.1,971.9 1143.1,971.8 1144.2,971.4 1145.2,971.0 1146.2,970.5 1147.2,970.3 1148.2,970.3 1149.2,970.7" fill="none" stroke="#2b8a2b" stroke-width="3.4" stroke-linejoin="round" stroke-linecap="round"/>
<path d="M715.3,981.5 716.3,982.2 717.3,983.1 718.3,983.7 719.3,984.0 720.3,983.8 721.3,983.4 722.3,982.9 723.3,982.5 724.3,982.4 725.3,982.8 726.4,983.4 727.4,984.1 728.4,984.6 729.4,984.7 730.4,984.5 731.4,984.2 732.4,984.0 733.4,983.9 734.4,983.8 735.4,983.5 736.4,982.9 737.4,982.0 738.4,981.1 739.4,980.6 740.4,981.3 741.4,981.8 742.4,982.2 743.4,982.4 744.4,982.4 745.4,982.1 746.4,980.0 747.5,977.6 748.5,977.1 749.5,977.6 750.5,978.0 751.5,977.9 752.5,977.4 753.5,976.9 754.5,976.5 755.5,976.4 756.5,976.4 757.5,976.5 758.5,976.6 759.5,976.5 760.5,976.2 761.5,975.9 762.5,975.5 763.5,975.5 764.5,975.8 765.5,976.2 766.5,976.4 767.5,976.3 768.6,976.1 769.6,976.1 770.6,976.3 771.6,976.5 772.6,976.4 773.6,975.8 774.6,975.0 775.6,974.2 776.6,973.7 777.6,973.6 778.6,974.0 779.6,974.5 780.6,974.9 781.6,975.0 782.6,975.0 783.6,974.8 784.6,974.6 785.6,974.7 786.6,975.1 787.6,975.8 788.6,976.5 789.7,977.0 790.7,976.9 791.7,976.3 792.7,975.5 793.7,974.8 794.7,974.8 795.7,975.3 796.7,975.9 797.7,976.5 798.7,976.9 799.7,977.2 800.7,977.3 801.7,977.4 802.7,977.5 803.7,977.7 804.7,978.1 805.7,978.4 806.7,979.3 807.7,983.0 808.7,986.0 809.7,984.9 810.8,978.8 811.8,971.4 812.8,966.4 813.8,962.4 814.8,959.1 815.8,957.5 816.8,957.4 817.8,957.2 818.8,956.7 819.8,956.1 820.8,955.3 821.8,954.8 822.8,954.6 823.8,954.8 824.8,955.1 825.8,955.5 826.8,955.9 827.8,956.5 828.8,957.2 829.8,958.1 830.8,958.7 831.9,958.9 832.9,958.7 833.9,958.1 834.9,957.3 835.9,956.5 836.9,956.0 837.9,955.9 838.9,956.0 839.9,956.1 840.9,956.2 841.9,956.1 842.9,955.8 843.9,955.2 844.9,954.6 845.9,954.0 846.9,953.6 847.9,953.2 848.9,952.8 849.9,952.3 850.9,951.8 851.9,951.6 853.0,951.7 854.0,952.3 855.0,953.2 856.0,954.0 857.0,954.3 858.0,953.8 859.0,953.0 860.0,952.2 861.0,951.8 862.0,951.8 863.0,952.1 864.0,952.6 865.0,953.1 866.0,953.5 867.0,953.7 868.0,953.7 869.0,953.3 870.0,952.8 871.0,952.4 872.0,952.3 873.0,952.7 874.1,953.1 875.1,953.3 876.1,953.1 877.1,952.3 878.1,951.5 879.1,951.0 880.1,951.1 881.1,951.5 882.1,951.9 883.1,952.1 884.1,952.1 885.1,952.0 886.1,952.1 887.1,952.3 888.1,952.5 889.1,952.4 890.1,952.1 891.1,951.8 892.1,951.9 893.1,952.0 894.1,951.9 895.2,951.4 896.2,951.0 897.2,950.9 898.2,951.2 899.2,951.7 900.2,952.1 901.2,952.2 902.2,951.9 903.2,951.4 904.2,951.1 905.2,951.2 906.2,951.9 907.2,952.7 908.2,953.4 909.2,953.9 910.2,954.3 911.2,954.6 912.2,955.0 913.2,955.3 914.2,955.5 915.2,955.8 916.3,955.9 917.3,956.2 918.3,956.5 919.3,956.9 920.3,957.5 921.3,958.0 922.3,958.3 923.3,958.3 924.3,958.3 925.3,958.7 926.3,959.7 927.3,961.2 928.3,962.7 929.3,963.9 930.3,964.9 931.3,965.8 932.3,966.5 933.3,967.0 934.3,967.3 935.3,967.6 936.3,968.0 937.4,968.4 938.4,968.6 939.4,968.7 940.4,968.6 941.4,968.6 942.4,968.8 943.4,968.9 944.4,968.8 945.4,968.5 946.4,968.2 947.4,967.8 948.4,967.4 949.4,967.1 950.4,967.0 951.4,967.0 952.4,967.0 953.4,967.0 954.4,967.1 955.4,967.5 956.4,968.3 957.4,969.4 958.5,970.4 959.5,973.5 960.5,982.4 961.5,983.1 962.5,983.4 963.5,983.7 964.5,984.0 965.5,984.2 966.5,983.0 967.5,976.9 968.5,972.1 969.5,971.9 970.5,971.4 971.5,970.4 972.5,969.4 973.5,968.8 974.5,969.1 975.5,969.9 976.5,970.8 977.5,971.4 978.5,971.6 979.6,971.5 980.6,971.3 981.6,971.0 982.6,970.7 983.6,970.3 984.6,970.0 985.6,970.0 986.6,970.4 987.6,970.9 988.6,971.3 989.6,971.4 990.6,971.3 991.6,971.3 992.6,971.3 993.6,971.4 994.6,971.4 995.6,971.4 996.6,971.6 997.6,971.9 998.6,972.2 999.6,972.2 1000.7,971.7 1001.7,970.8 1002.7,969.8 1003.7,969.1 1004.7,969.0 1005.7,969.3 1006.7,969.5 1007.7,969.3 1008.7,969.0 1009.7,968.7 1010.7,968.7 1011.7,968.8 1012.7,969.0 1013.7,969.1 1014.7,969.1 1015.7,969.2 1016.7,969.1 1017.7,969.9 1018.7,975.8 1019.7,981.4 1020.7,982.1 1021.8,982.6 1022.8,983.2 1023.8,983.6 1024.8,983.6 1025.8,982.7 1026.8,981.0 1027.8,979.1 1028.8,977.2 1029.8,975.9 1030.8,975.1 1031.8,974.9 1032.8,975.2 1033.8,975.1 1034.8,974.6 1035.8,973.8 1036.8,972.8 1037.8,972.2 1038.8,972.1 1039.8,972.6 1040.8,973.3 1041.8,973.9 1042.9,974.4 1043.9,974.7 1044.9,975.0 1045.9,975.4 1046.9,975.6 1047.9,975.8 1048.9,975.7 1049.9,975.6 1050.9,975.6 1051.9,976.0 1052.9,976.4 1053.9,976.7 1054.9,976.7 1055.9,976.4 1056.9,976.1 1057.9,975.9 1058.9,975.8 1059.9,975.8 1060.9,975.8 1061.9,975.6 1062.9,975.2 1064.0,974.8 1065.0,974.2 1066.0,973.8 1067.0,973.5 1068.0,973.6 1069.0,973.9 1070.0,974.2 1071.0,974.1 1072.0,974.0 1073.0,974.1 1074.0,974.4 1075.0,974.9 1076.0,975.0 1077.0,975.0 1078.0,974.8 1079.0,974.7 1080.0,974.9 1081.0,975.2 1082.0,975.7 1083.0,976.1 1084.0,976.5 1085.1,976.9 1086.1,977.0 1087.1,976.7 1088.1,976.4 1089.1,976.3 1090.1,976.8 1091.1,977.6 1092.1,978.1 1093.1,978.3 1094.1,978.0 1095.1,976.9 1096.1,975.1 1097.1,973.2" fill="none" stroke="#7b2fb3" stroke-width="3.4" stroke-linejoin="round" stroke-linecap="round"/>
<path d="M715.3,983.5 716.3,982.6 717.3,982.1 718.3,982.1 719.3,982.4 720.3,983.1 721.3,983.8 722.3,984.4 723.3,984.6 724.3,984.3 725.3,983.5 726.3,982.5 727.3,981.4 728.3,980.6 729.3,980.2 730.4,980.3 731.4,980.8 732.4,981.6 733.4,982.4 734.4,983.0 735.4,983.3 736.4,983.5 737.4,983.5 738.4,983.2 739.4,982.8 740.4,983.4 741.4,983.3 742.4,983.1 743.4,983.3 744.4,983.4 745.4,983.2 746.4,979.7 747.4,976.3 748.4,976.1 749.4,975.8 750.4,975.3 751.4,974.9 752.4,974.7 753.4,974.7 754.4,974.9 755.4,975.3 756.4,975.7 757.4,975.8 758.4,975.8 759.4,975.6 760.5,975.4 761.5,975.5 762.5,975.8 763.5,976.4 764.5,977.0 765.5,977.5 766.5,977.9 767.5,978.2 768.5,978.3 769.5,978.2 770.5,978.0 771.5,977.3 772.5,976.5 773.5,975.8 774.5,975.4 775.5,975.3 776.5,975.3 777.5,975.2 778.5,975.3 779.5,975.6 780.5,976.0 781.5,976.3 782.5,976.4 783.5,976.4 784.5,976.7 785.5,977.2 786.5,977.6 787.5,978.0 788.5,978.1 789.5,978.1 790.6,978.0 791.6,978.0 792.6,978.4 793.6,979.0 794.6,979.5 795.6,979.5 796.6,978.8 797.6,977.8 798.6,976.7 799.6,975.9 800.6,975.4 801.6,975.2 802.6,975.4 803.6,975.8 804.6,976.3 805.6,976.7 806.6,977.0 807.6,979.6 808.6,979.5 809.6,970.9 810.6,966.8 811.6,963.5 812.6,960.8 813.6,958.7 814.6,957.3 815.6,956.8 816.6,957.2 817.6,957.4 818.6,957.2 819.6,956.5 820.7,955.8 821.7,955.2 822.7,955.3 823.7,955.9 824.7,956.7 825.7,957.5 826.7,957.7 827.7,957.3 828.7,956.6 829.7,955.8 830.7,955.3 831.7,955.3 832.7,955.7 833.7,956.4 834.7,957.1 835.7,957.6 836.7,957.6 837.7,957.3 838.7,956.7 839.7,956.0 840.7,955.3 841.7,954.9 842.7,954.5 843.7,954.1 844.7,953.5 845.7,952.9 846.7,952.6 847.7,952.8 848.7,953.5 849.7,954.3 850.8,955.0 851.8,955.2 852.8,955.0 853.8,954.5 854.8,954.0 855.8,953.5 856.8,953.0 857.8,952.5 858.8,952.5 859.8,953.0 860.8,953.8 861.8,954.7 862.8,955.1 863.8,954.9 864.8,954.5 865.8,953.9 866.8,953.3 867.8,952.5 868.8,951.6 869.8,950.7 870.8,949.9 871.8,949.5 872.8,949.5 873.8,950.0 874.8,950.7 875.8,951.7 876.8,952.7 877.8,953.4 878.8,953.6 879.8,953.5 880.9,953.0 881.9,952.7 882.9,952.5 883.9,952.4 884.9,952.4 885.9,952.5 886.9,952.7 887.9,952.9 888.9,953.1 889.9,953.0 890.9,952.5 891.9,951.9 892.9,951.4 893.9,951.2 894.9,951.5 895.9,952.1 896.9,952.6 897.9,952.6 898.9,952.1 899.9,951.5 900.9,951.0 901.9,950.9 902.9,951.0 903.9,951.2 904.9,951.5 905.9,952.0 906.9,952.5 907.9,953.0 908.9,953.1 909.9,952.7 911.0,952.0 912.0,951.6 913.0,951.8 914.0,952.7 915.0,954.0 916.0,955.3 917.0,956.3 918.0,957.1 919.0,957.8 920.0,958.7 921.0,959.8 922.0,961.0 923.0,962.2 924.0,963.2 925.0,963.9 926.0,964.5 927.0,964.9 928.0,965.1 929.0,965.1 930.0,965.0 931.0,965.1 932.0,965.7 933.0,966.9 934.0,968.5 935.0,970.2 936.0,971.6 937.0,972.6 938.0,973.3 939.0,973.8 940.0,974.0 941.1,974.1 942.1,973.8 943.1,973.6 944.1,973.4 945.1,973.5 946.1,973.7 947.1,973.9 948.1,973.7 949.1,973.0 950.1,971.8 951.1,970.8 952.1,970.3 953.1,970.3 954.1,970.5 955.1,970.9 956.1,971.3 957.1,971.7 958.1,972.2 959.1,973.0 960.1,981.7 961.1,985.0 962.1,984.8 963.1,984.4 964.1,983.7 965.1,983.2 966.1,981.8 967.1,978.8 968.1,976.2 969.1,974.6 970.1,972.8 971.2,970.9 972.2,969.5 973.2,968.3 974.2,967.4 975.2,966.7 976.2,966.5 977.2,966.3 978.2,966.0 979.2,965.5 980.2,965.1 981.2,965.3 982.2,965.9 983.2,967.0 984.2,968.1 985.2,969.2 986.2,970.0 987.2,970.5 988.2,970.9 989.2,971.2 990.2,971.5 991.2,971.9 992.2,972.5 993.2,973.1 994.2,973.8 995.2,974.4 996.2,975.0 997.2,975.4 998.2,975.6 999.2,975.9 1000.2,976.7 1001.3,977.9 1002.3,979.3 1003.3,980.6 1004.3,981.6 1005.3,982.3 1006.3,982.6 1007.3,982.4 1008.3,982.0 1009.3,981.5 1010.3,981.0 1011.3,980.4 1012.3,979.9 1013.3,979.5 1014.3,979.2 1015.3,979.0 1016.3,978.6 1017.3,978.4 1018.3,980.0 1019.3,982.6 1020.3,984.7 1021.3,985.2 1022.3,985.6 1023.3,985.9 1024.3,985.6 1025.3,984.7 1026.3,983.7 1027.3,983.1 1028.3,983.1 1029.3,983.1 1030.3,983.1 1031.4,983.0 1032.4,982.8 1033.4,982.7 1034.4,982.7 1035.4,982.7 1036.4,982.6 1037.4,982.4 1038.4,982.2 1039.4,982.1 1040.4,982.2 1041.4,982.3 1042.4,982.5 1043.4,982.4 1044.4,982.2 1045.4,981.9 1046.4,981.6 1047.4,981.2 1048.4,980.8 1049.4,980.4 1050.4,980.1 1051.4,979.9 1052.4,979.9 1053.4,980.0 1054.4,980.1 1055.4,980.0 1056.4,979.9 1057.4,979.9 1058.4,980.2 1059.4,980.7 1060.4,981.2 1061.5,981.5 1062.5,981.8 1063.5,982.1 1064.5,982.2 1065.5,982.1 1066.5,981.6 1067.5,981.1 1068.5,980.8 1069.5,980.8 1070.5,981.0 1071.5,981.1 1072.5,980.9 1073.5,981.0 1074.5,981.4 1075.5,982.0 1076.5,982.0 1077.5,981.2 1078.5,979.9 1079.5,978.9 1080.5,978.4 1081.5,978.5 1082.5,978.9 1083.5,979.5 1084.5,980.0 1085.5,980.5 1086.5,980.9 1087.5,981.1 1088.5,981.1 1089.5,980.6 1090.5,979.8 1091.6,978.9 1092.6,978.3 1093.6,978.5 1094.6,979.4 1095.6,980.4 1096.6,981.1 1097.6,981.0 1098.6,980.5 1099.6,980.0 1100.6,979.9" fill="none" stroke="#e60000" stroke-width="3.4" stroke-linejoin="round" stroke-linecap="round"/>
<path d="M725.7,847.3 H716.2 V986.0 H1148.3" fill="none" stroke="#000" stroke-width="3.3" stroke-linejoin="round"/>
<line x1="716.2" y1="951.3" x2="725.7" y2="951.3" stroke="#000" stroke-width="3.3"/>
<line x1="716.2" y1="916.6" x2="725.7" y2="916.6" stroke="#000" stroke-width="3.3"/>
<line x1="716.2" y1="882.0" x2="725.7" y2="882.0" stroke="#000" stroke-width="3.3"/>
<line x1="784.7" y1="986.0" x2="784.7" y2="976.5" stroke="#000" stroke-width="3.3"/>
<line x1="854.1" y1="986.0" x2="854.1" y2="976.5" stroke="#000" stroke-width="3.3"/>
<line x1="923.6" y1="986.0" x2="923.6" y2="976.5" stroke="#000" stroke-width="3.3"/>
<line x1="993.0" y1="986.0" x2="993.0" y2="976.5" stroke="#000" stroke-width="3.3"/>
<line x1="1062.4" y1="986.0" x2="1062.4" y2="976.5" stroke="#000" stroke-width="3.3"/>
<line x1="1131.8" y1="986.0" x2="1131.8" y2="976.5" stroke="#000" stroke-width="3.3"/>
<text x="687.1" y="994.5" font-family='"Liberation Sans", sans-serif' font-size="27" text-anchor="end">0</text>
<text x="687.1" y="959.8" font-family='"Liberation Sans", sans-serif' font-size="27" text-anchor="end">25</text>
<text x="687.1" y="925.1" font-family='"Liberation Sans", sans-serif' font-size="27" text-anchor="end">50</text>
<text x="687.1" y="890.5" font-family='"Liberation Sans", sans-serif' font-size="27" text-anchor="end">75</text>
<text x="687.1" y="855.8" font-family='"Liberation Sans", sans-serif' font-size="27" text-anchor="end">100</text>
<text x="715.3" y="1034.5" font-family='"Liberation Sans", sans-serif' font-size="27" text-anchor="middle">1.5</text>
<text x="784.7" y="1034.5" font-family='"Liberation Sans", sans-serif' font-size="27" text-anchor="middle">3.5</text>
<text x="854.1" y="1034.5" font-family='"Liberation Sans", sans-serif' font-size="27" text-anchor="middle">5.5</text>
<text x="923.6" y="1034.5" font-family='"Liberation Sans", sans-serif' font-size="27" text-anchor="middle">7.5</text>
<text x="993.0" y="1034.5" font-family='"Liberation Sans", sans-serif' font-size="27" text-anchor="middle">9.5</text>
<text x="1062.4" y="1034.5" font-family='"Liberation Sans", sans-serif' font-size="27" text-anchor="middle">11.5</text>
<text x="1131.8" y="1034.5" font-family='"Liberation Sans", sans-serif' font-size="27" text-anchor="middle">13.5</text>
<text x="736.1" y="871.9" font-family='"Liberation Sans", sans-serif' font-size="25.43" font-weight="bold" textLength="80.7" lengthAdjust="spacingAndGlyphs">I) PCM</text>
<path d="M736.0,932.9 h3.5 v26.6 h5.55 L737.8,973.4 L730.5,959.5 h5.55 z" fill="#000"/>
<path d="M799.5,923.5 h3.5 v26.6 h5.55 L801.2,964.0 L793.9,950.1 h5.55 z" fill="#000"/>
<path d="M959.5,918.4 h3.5 v26.6 h5.55 L961.2,958.9 L953.9,945.0 h5.55 z" fill="#000"/>
<path d="M1002.5,916.4 h3.5 v26.6 h5.55 L1004.3,956.9 L997.0,943.0 h5.55 z" fill="#000"/>
<path d="M715.3,1223.0 716.3,1222.9 717.3,1222.9 718.3,1223.0 719.3,1223.3 720.3,1223.8 721.3,1224.2 722.3,1224.2 723.3,1224.2 724.3,1224.0 725.3,1223.2 726.3,1222.4 727.3,1221.8 728.3,1221.5 729.3,1221.3 730.3,1221.2 731.3,1221.1 732.4,1221.1 733.4,1220.9 734.4,1219.5 735.4,1218.0 736.4,1217.3 737.4,1217.1 738.4,1217.0 739.4,1217.0 740.4,1216.8 741.4,1216.7 742.4,1216.8 743.4,1217.2 744.4,1217.8 745.4,1218.1 746.4,1218.2 747.4,1218.0 748.4,1217.7 749.4,1217.1 750.4,1216.4 751.4,1215.4 752.4,1212.7 753.4,1205.7 754.4,1199.6 755.4,1194.5 756.4,1190.4 757.4,1188.7 758.4,1189.6 759.4,1190.7 760.4,1191.7 761.4,1192.4 762.4,1192.6 763.4,1192.4 764.4,1191.9 765.5,1191.5 766.5,1191.3 767.5,1191.2 768.5,1190.9 769.5,1190.5 770.5,1190.2 771.5,1190.3 772.5,1190.8 773.5,1191.3 774.5,1191.5 775.5,1191.2 776.5,1190.4 777.5,1189.6 778.5,1188.9 779.5,1188.5 780.5,1188.5 781.5,1188.8 782.5,1189.1 783.5,1189.4 784.5,1189.6 785.5,1189.7 786.5,1189.7 787.5,1189.6 788.5,1189.4 789.5,1189.2 790.5,1189.1 791.5,1189.2 792.5,1189.4 793.5,1189.6 794.5,1189.7 795.5,1189.8 796.5,1189.8 797.5,1189.9 798.5,1189.9 799.6,1189.8 800.6,1189.8 801.6,1189.9 802.6,1190.0 803.6,1190.1 804.6,1189.9 805.6,1189.8 806.6,1189.7 807.6,1189.5 808.6,1188.9 809.6,1187.8 810.6,1180.2 811.6,1164.2 812.6,1152.8 813.6,1146.9 814.6,1141.9 815.6,1138.1 816.6,1135.9 817.6,1135.2 818.6,1135.3 819.6,1135.1 820.6,1134.6 821.6,1134.1 822.6,1133.7 823.6,1133.4 824.6,1133.1 825.6,1132.8 826.6,1132.6 827.6,1132.4 828.6,1132.3 829.6,1132.4 830.6,1132.7 831.6,1133.0 832.7,1133.3 833.7,1133.2 834.7,1132.8 835.7,1132.2 836.7,1131.6 837.7,1131.3 838.7,1131.1 839.7,1131.0 840.7,1130.9 841.7,1130.9 842.7,1131.2 843.7,1131.7 844.7,1132.3 845.7,1132.7 846.7,1133.1 847.7,1133.2 848.7,1133.2 849.7,1132.9 850.7,1132.6 851.7,1132.2 852.7,1132.0 853.7,1131.9 854.7,1132.1 855.7,1132.4 856.7,1132.7 857.7,1132.8 858.7,1132.8 859.7,1132.9 860.7,1133.1 861.7,1133.4 862.7,1133.9 863.7,1134.6 864.7,1135.4 865.8,1136.6 866.8,1138.2 867.8,1140.1 868.8,1142.3 869.8,1144.6 870.8,1146.9 871.8,1149.1 872.8,1152.0 873.8,1155.7 874.8,1160.0 875.8,1164.3 876.8,1168.4 877.8,1171.8 878.8,1174.2 879.8,1176.6 880.8,1179.0 881.8,1181.4 882.8,1183.2 883.8,1184.0 884.8,1183.9 885.8,1183.6 886.8,1183.3 887.8,1183.2 888.8,1183.2 889.8,1183.3 890.8,1183.4 891.8,1183.4 892.8,1183.4 893.8,1183.3 894.8,1183.3 895.8,1183.5 896.8,1183.8 897.8,1184.1 898.9,1184.3 899.9,1184.5 900.9,1184.7 901.9,1185.0 902.9,1185.3 903.9,1185.5 904.9,1185.5 905.9,1185.1 906.9,1184.7 907.9,1184.4 908.9,1184.2 909.9,1184.3 910.9,1184.5 911.9,1184.8 912.9,1184.9 913.9,1184.6 914.9,1184.1 915.9,1183.6 916.9,1183.5 917.9,1183.9 918.9,1184.5 919.9,1185.1 920.9,1185.5 921.9,1185.6 922.9,1185.6 923.9,1185.6 924.9,1185.6 925.9,1185.6 926.9,1185.5 927.9,1185.3 928.9,1185.1 929.9,1185.1 930.9,1185.2 932.0,1185.0 933.0,1184.6 934.0,1184.0 935.0,1183.6 936.0,1183.3 937.0,1183.2 938.0,1183.3 939.0,1183.7 940.0,1184.3 941.0,1185.0 942.0,1204.6 943.0,1222.7 944.0,1222.5 945.0,1222.2 946.0,1221.9 947.0,1220.6 948.0,1193.6 949.0,1183.9 950.0,1182.9 951.0,1182.1 952.0,1181.4 953.0,1180.9 954.0,1180.5 955.0,1180.1 956.0,1179.7 957.0,1179.3 958.0,1179.2 959.0,1179.2 960.0,1179.2 961.0,1179.3 962.0,1179.3 963.0,1179.4 964.0,1179.5 965.0,1179.8 966.1,1180.1 967.1,1180.4 968.1,1180.8 969.1,1181.1 970.1,1181.4 971.1,1181.5 972.1,1181.4 973.1,1181.2 974.1,1181.1 975.1,1181.0 976.1,1181.0 977.1,1180.9 978.1,1180.8 979.1,1180.7 980.1,1180.4 981.1,1180.2 982.1,1180.1 983.1,1180.4 984.1,1181.3 985.1,1182.6 986.1,1183.8 987.1,1184.5 988.1,1184.9 989.1,1184.8 990.1,1184.6 991.1,1184.3 992.1,1183.8 993.1,1183.2 994.1,1182.7 995.1,1182.7 996.1,1183.2 997.1,1185.7 998.1,1190.6 999.2,1186.9 1000.2,1167.5 1001.2,1146.9 1002.2,1137.8 1003.2,1132.2 1004.2,1128.3 1005.2,1126.9 1006.2,1126.8 1007.2,1126.5 1008.2,1126.1 1009.2,1125.8 1010.2,1125.5 1011.2,1125.4 1012.2,1125.6 1013.2,1125.9 1014.2,1126.3 1015.2,1126.7 1016.2,1126.7 1017.2,1126.6 1018.2,1126.4 1019.2,1126.3 1020.2,1126.5 1021.2,1126.8 1022.2,1127.2 1023.2,1127.5 1024.2,1127.8 1025.2,1128.0 1026.2,1128.0 1027.2,1128.0 1028.2,1127.7 1029.2,1127.4 1030.2,1127.1 1031.2,1127.0 1032.3,1126.9 1033.3,1127.0 1034.3,1127.4 1035.3,1127.8 1036.3,1128.0 1037.3,1127.8 1038.3,1127.3 1039.3,1126.6 1040.3,1125.8 1041.3,1125.0 1042.3,1124.3 1043.3,1124.1 1044.3,1124.5 1045.3,1125.4 1046.3,1126.2 1047.3,1126.7 1048.3,1126.8 1049.3,1126.6 1050.3,1126.4 1051.3,1126.3 1052.3,1126.4 1053.3,1126.5 1054.3,1126.8 1055.3,1127.2 1056.3,1127.6 1057.3,1128.0 1058.3,1128.1 1059.3,1128.0 1060.3,1127.8 1061.3,1127.7 1062.3,1127.6 1063.3,1127.8 1064.3,1128.0 1065.4,1128.0 1066.4,1127.8 1067.4,1127.5 1068.4,1127.8 1069.4,1129.5 1070.4,1132.2 1071.4,1135.5 1072.4,1139.3 1073.4,1143.3 1074.4,1148.7 1075.4,1154.8 1076.4,1161.1 1077.4,1166.8 1078.4,1171.3 1079.4,1174.2 1080.4,1175.5 1081.4,1176.8 1082.4,1178.2 1083.4,1179.4 1084.4,1180.3 1085.4,1180.7 1086.4,1181.0 1087.4,1181.4 1088.4,1181.6 1089.4,1181.5 1090.4,1181.1 1091.4,1180.5 1092.4,1180.0 1093.4,1180.0 1094.4,1180.3 1095.4,1180.8 1096.4,1181.2 1097.4,1181.4 1098.5,1181.5 1099.5,1181.4 1100.5,1181.5 1101.5,1181.8 1102.5,1182.2 1103.5,1182.7 1104.5,1183.0 1105.5,1183.0 1106.5,1182.8 1107.5,1182.5 1108.5,1182.5 1109.5,1182.8 1110.5,1183.0 1111.5,1183.0 1112.5,1182.6 1113.5,1182.1 1114.5,1181.7 1115.5,1181.4 1116.5,1181.4 1117.5,1181.5 1118.5,1181.5 1119.5,1181.3 1120.5,1181.1 1121.5,1181.1 1122.5,1181.2 1123.5,1181.5 1124.5,1181.8 1125.5,1182.1 1126.5,1182.2 1127.5,1182.0 1128.5,1181.6 1129.5,1181.3 1130.5,1181.3 1131.5,1181.5 1132.6,1181.8 1133.6,1182.0" fill="none" stroke="#1f6fce" stroke-width="3.4" stroke-linejoin="round" stroke-linecap="round"/>
<path d="M715.3,1220.6 716.3,1220.7 717.3,1221.0 718.3,1221.5 719.3,1221.8 720.3,1222.0 721.3,1222.0 722.3,1221.9 723.3,1221.7 724.3,1221.6 725.3,1221.7 726.3,1222.1 727.3,1222.6 728.3,1223.1 729.3,1223.3 730.3,1223.1 731.3,1222.6 732.4,1222.2 733.4,1222.0 734.4,1222.1 735.4,1222.3 736.4,1222.4 737.4,1222.1 738.4,1221.6 739.4,1220.9 740.4,1207.5 741.4,1196.8 742.4,1189.6 743.4,1188.2 744.4,1188.7 745.4,1189.4 746.4,1190.2 747.4,1191.0 748.4,1191.7 749.4,1192.2 750.4,1192.3 751.4,1192.1 752.4,1191.9 753.4,1191.6 754.4,1191.3 755.4,1191.1 756.4,1191.0 757.4,1191.0 758.4,1191.0 759.4,1190.9 760.4,1190.7 761.4,1190.5 762.4,1190.5 763.4,1190.6 764.4,1190.7 765.5,1190.7 766.5,1190.5 767.5,1190.2 768.5,1189.9 769.5,1189.6 770.5,1189.4 771.5,1189.2 772.5,1189.0 773.5,1188.6 774.5,1188.2 775.5,1187.9 776.5,1188.0 777.5,1188.6 778.5,1189.3 779.5,1189.9 780.5,1190.2 781.5,1190.0 782.5,1189.6 783.5,1189.3 784.5,1189.3 785.5,1189.5 786.5,1190.0 787.5,1190.5 788.5,1190.8 789.5,1190.9 790.5,1190.7 791.5,1190.4 792.5,1190.1 793.5,1190.0 794.5,1190.0 795.5,1190.0 796.5,1189.9 797.5,1189.5 798.5,1189.0 799.6,1188.5 800.6,1188.3 801.6,1188.4 802.6,1188.7 803.6,1189.3 804.6,1189.9 805.6,1190.3 806.6,1189.9 807.6,1184.8 808.6,1178.4 809.6,1169.5 810.6,1159.6 811.6,1150.4 812.6,1143.6 813.6,1139.6 814.6,1136.1 815.6,1133.2 816.6,1131.1 817.6,1130.0 818.6,1129.8 819.6,1129.9 820.6,1130.0 821.6,1130.1 822.6,1130.1 823.6,1129.9 824.6,1129.7 825.6,1129.3 826.6,1128.9 827.6,1128.7 828.6,1128.7 829.6,1128.8 830.6,1129.0 831.6,1129.1 832.7,1129.0 833.7,1128.6 834.7,1128.0 835.7,1127.4 836.7,1127.2 837.7,1127.3 838.7,1127.5 839.7,1127.6 840.7,1127.5 841.7,1127.4 842.7,1127.4 843.7,1127.5 844.7,1127.6 845.7,1127.6 846.7,1127.3 847.7,1126.8 848.7,1126.3 849.7,1126.2 850.7,1126.5 851.7,1127.1 852.7,1127.8 853.7,1128.3 854.7,1128.7 855.7,1128.7 856.7,1128.5 857.7,1128.5 858.7,1128.6 859.7,1129.0 860.7,1129.7 861.7,1130.4 862.7,1131.1 863.7,1131.8 864.7,1132.5 865.8,1133.0 866.8,1133.5 867.8,1133.9 868.8,1134.4 869.8,1135.6 870.8,1137.8 871.8,1141.0 872.8,1144.9 873.8,1149.1 874.8,1154.0 875.8,1160.1 876.8,1166.6 877.8,1172.3 878.8,1176.2 879.8,1179.6 880.8,1182.6 881.8,1185.0 882.8,1186.6 883.8,1187.1 884.8,1187.0 885.8,1186.9 886.8,1186.7 887.8,1186.4 888.8,1186.0 889.8,1185.3 890.8,1184.6 891.8,1184.0 892.8,1183.9 893.8,1184.2 894.8,1184.7 895.8,1185.2 896.8,1185.5 897.8,1185.5 898.9,1185.2 899.9,1184.9 900.9,1184.6 901.9,1184.5 902.9,1184.3 903.9,1184.1 904.9,1183.9 905.9,1183.8 906.9,1183.8 907.9,1184.0 908.9,1184.4 909.9,1185.0 910.9,1185.6 911.9,1185.8 912.9,1185.3 913.9,1184.3 914.9,1183.1 915.9,1182.2 916.9,1181.8 917.9,1182.0 918.9,1182.3 919.9,1182.5 920.9,1182.6 921.9,1182.7 922.9,1182.8 923.9,1182.9 924.9,1182.9 925.9,1182.9 926.9,1182.8 927.9,1182.6 928.9,1182.4 929.9,1182.1 930.9,1181.9 932.0,1182.0 933.0,1182.4 934.0,1183.2 935.0,1184.1 936.0,1184.6 937.0,1184.6 938.0,1184.1 939.0,1183.6 940.0,1183.4 941.0,1183.3 942.0,1202.6 943.0,1220.5 944.0,1220.1 945.0,1220.0 946.0,1220.3 947.0,1220.9 948.0,1221.7 949.0,1222.3 950.0,1222.8 951.0,1223.2 952.0,1223.4 953.0,1223.5 954.0,1192.7 955.0,1183.3 956.0,1183.3 957.0,1183.2 958.0,1183.1 959.0,1182.8 960.0,1182.4 961.0,1181.9 962.0,1181.4 963.0,1181.1 964.0,1181.2 965.0,1181.5 966.1,1181.8 967.1,1182.0 968.1,1181.9 969.1,1181.6 970.1,1181.1 971.1,1180.9 972.1,1181.0 973.1,1181.5 974.1,1182.1 975.1,1182.5 976.1,1182.6 977.1,1182.3 978.1,1181.8 979.1,1181.6 980.1,1181.8 981.1,1182.2 982.1,1182.7 983.1,1183.1 984.1,1183.5 985.1,1183.8 986.1,1184.1 987.1,1184.3 988.1,1184.4 989.1,1184.5 990.1,1184.6 991.1,1184.6 992.1,1184.6 993.1,1184.5 994.1,1184.5 995.1,1184.4 996.1,1184.4 997.1,1186.0 998.1,1190.2 999.2,1187.8 1000.2,1175.1 1001.2,1159.9 1002.2,1149.2 1003.2,1139.2 1004.2,1131.3 1005.2,1128.4 1006.2,1128.7 1007.2,1128.9 1008.2,1128.8 1009.2,1128.6 1010.2,1128.2 1011.2,1127.9 1012.2,1127.6 1013.2,1127.4 1014.2,1127.4 1015.2,1127.6 1016.2,1127.8 1017.2,1127.8 1018.2,1127.7 1019.2,1127.6 1020.2,1127.6 1021.2,1127.6 1022.2,1127.7 1023.2,1127.9 1024.2,1128.1 1025.2,1128.1 1026.2,1127.9 1027.2,1127.5 1028.2,1127.1 1029.2,1126.6 1030.2,1126.3 1031.2,1126.2 1032.3,1126.4 1033.3,1126.8 1034.3,1127.0 1035.3,1127.1 1036.3,1127.2 1037.3,1127.4 1038.3,1127.8 1039.3,1128.0 1040.3,1127.9 1041.3,1127.4 1042.3,1126.8 1043.3,1126.3 1044.3,1126.3 1045.3,1126.8 1046.3,1127.5 1047.3,1128.0 1048.3,1128.2 1049.3,1128.0 1050.3,1127.6 1051.3,1127.1 1052.3,1126.6 1053.3,1126.3 1054.3,1126.2 1055.3,1126.3 1056.3,1126.4 1057.3,1126.5 1058.3,1126.6 1059.3,1126.6 1060.3,1126.6 1061.3,1126.5 1062.3,1126.3 1063.3,1126.1 1064.3,1125.9 1065.4,1125.9 1066.4,1126.0 1067.4,1126.2 1068.4,1126.4 1069.4,1126.7 1070.4,1127.1 1071.4,1127.4 1072.4,1127.6 1073.4,1127.6 1074.4,1127.8 1075.4,1130.3 1076.4,1134.5 1077.4,1139.6 1078.4,1144.5 1079.4,1150.3 1080.4,1156.7 1081.4,1163.2 1082.4,1169.0 1083.4,1173.3 1084.4,1175.5 1085.4,1177.3 1086.4,1179.1 1087.4,1180.8 1088.4,1182.4 1089.4,1183.6 1090.4,1184.1 1091.4,1184.0 1092.4,1183.6 1093.4,1183.1 1094.4,1182.5 1095.4,1181.9 1096.4,1181.3 1097.4,1180.9 1098.5,1180.6 1099.5,1180.5 1100.5,1180.5 1101.5,1180.7 1102.5,1181.0 1103.5,1181.4 1104.5,1181.6 1105.5,1181.6 1106.5,1181.3 1107.5,1180.9 1108.5,1180.9 1109.5,1181.2 1110.5,1181.7 1111.5,1182.2 1112.5,1182.6 1113.5,1182.7 1114.5,1182.9 1115.5,1183.3 1116.5,1183.4 1117.5,1183.3 1118.5,1182.8 1119.5,1182.2 1120.5,1181.9 1121.5,1181.9 1122.5,1182.0 1123.5,1181.8 1124.5,1181.3 1125.5,1180.7 1126.5,1180.4 1127.5,1180.5 1128.5,1181.0 1129.5,1181.6 1130.5,1182.2 1131.5,1182.7 1132.6,1183.2 1133.6,1183.7" fill="none" stroke="#fd7d27" stroke-width="3.4" stroke-linejoin="round" stroke-linecap="round"/>
<path d="M715.3,1221.9 716.3,1222.5 717.3,1222.7 718.3,1222.7 719.3,1222.6 720.3,1222.4 721.3,1222.2 722.3,1222.0 723.3,1222.0 724.3,1222.4 725.3,1222.8 726.3,1223.3 727.4,1223.9 728.4,1224.2 729.4,1224.2 730.4,1224.2 731.4,1224.2 732.4,1224.2 733.4,1223.7 734.4,1223.3 735.4,1223.2 736.4,1223.4 737.4,1223.4 738.4,1223.2 739.4,1222.6 740.4,1221.9 741.4,1221.4 742.4,1221.3 743.4,1221.5 744.4,1221.8 745.4,1222.1 746.4,1222.3 747.4,1222.3 748.4,1222.1 749.4,1215.1 750.5,1207.8 751.5,1200.4 752.5,1194.1 753.5,1191.5 754.5,1191.8 755.5,1191.8 756.5,1191.5 757.5,1191.0 758.5,1190.6 759.5,1190.3 760.5,1190.4 761.5,1190.7 762.5,1191.2 763.5,1191.4 764.5,1191.2 765.5,1190.7 766.5,1190.1 767.5,1189.6 768.5,1189.2 769.5,1189.0 770.5,1189.0 771.5,1189.3 772.5,1189.9 773.6,1190.5 774.6,1191.0 775.6,1191.3 776.6,1191.4 777.6,1191.4 778.6,1191.3 779.6,1191.2 780.6,1191.3 781.6,1191.5 782.6,1191.8 783.6,1192.0 784.6,1191.9 785.6,1191.5 786.6,1190.8 787.6,1190.2 788.6,1189.9 789.6,1189.8 790.6,1189.7 791.6,1189.6 792.6,1189.5 793.6,1189.6 794.6,1189.8 795.6,1189.9 796.7,1189.9 797.7,1189.9 798.7,1190.0 799.7,1190.2 800.7,1190.3 801.7,1190.4 802.7,1190.5 803.7,1190.5 804.7,1190.7 805.7,1190.8 806.7,1190.9 807.7,1191.1 808.7,1191.3 809.7,1191.3 810.7,1191.1 811.7,1192.7 812.7,1193.2 813.7,1181.1 814.7,1162.3 815.7,1148.4 816.7,1144.6 817.7,1141.9 818.7,1140.0 819.8,1138.5 820.8,1137.4 821.8,1136.6 822.8,1135.9 823.8,1135.4 824.8,1135.2 825.8,1135.3 826.8,1135.4 827.8,1135.7 828.8,1136.2 829.8,1136.8 830.8,1137.2 831.8,1137.3 832.8,1137.0 833.8,1136.6 834.8,1136.2 835.8,1136.1 836.8,1136.0 837.8,1135.7 838.8,1135.0 839.8,1134.3 840.8,1133.8 841.8,1133.7 842.9,1133.9 843.9,1134.5 844.9,1135.2 845.9,1135.6 846.9,1135.7 847.9,1135.3 848.9,1134.8 849.9,1134.3 850.9,1133.8 851.9,1133.4 852.9,1132.9 853.9,1132.5 854.9,1132.2 855.9,1132.2 856.9,1132.3 857.9,1132.6 858.9,1132.9 859.9,1133.4 860.9,1134.0 861.9,1134.7 862.9,1135.3 863.9,1135.6 864.9,1135.9 866.0,1136.2 867.0,1136.7 868.0,1137.3 869.0,1138.2 870.0,1139.5 871.0,1141.0 872.0,1142.8 873.0,1144.5 874.0,1146.2 875.0,1148.1 876.0,1150.3 877.0,1153.0 878.0,1156.1 879.0,1159.4 880.0,1162.7 881.0,1165.8 882.0,1168.5 883.0,1171.4 884.0,1174.6 885.0,1177.6 886.0,1179.9 887.0,1181.0 888.0,1180.9 889.1,1180.9 890.1,1181.0 891.1,1181.4 892.1,1182.1 893.1,1183.1 894.1,1184.2 895.1,1185.0 896.1,1185.5 897.1,1185.7 898.1,1185.4 899.1,1184.9 900.1,1184.4 901.1,1183.9 902.1,1183.7 903.1,1183.6 904.1,1183.6 905.1,1183.5 906.1,1183.4 907.1,1183.6 908.1,1184.0 909.1,1184.7 910.1,1185.5 911.1,1186.2 912.2,1186.5 913.2,1186.4 914.2,1186.1 915.2,1185.8 916.2,1185.7 917.2,1185.8 918.2,1185.9 919.2,1185.8 920.2,1185.4 921.2,1184.8 922.2,1184.1 923.2,1183.7 924.2,1183.8 925.2,1184.3 926.2,1184.8 927.2,1185.1 928.2,1185.2 929.2,1185.1 930.2,1185.0 931.2,1185.0 932.2,1184.9 933.2,1184.7 934.2,1184.4 935.3,1184.0 936.3,1183.5 937.3,1183.2 938.3,1183.4 939.3,1183.9 940.3,1184.5 941.3,1184.7 942.3,1184.8 943.3,1184.9 944.3,1185.0 945.3,1186.7 946.3,1214.5 947.3,1222.5 948.3,1222.6 949.3,1222.7 950.3,1215.5 951.3,1182.0 952.3,1181.7 953.3,1181.1 954.3,1180.6 955.3,1180.4 956.3,1180.4 957.3,1180.6 958.4,1180.7 959.4,1180.7 960.4,1180.8 961.4,1181.0 962.4,1181.4 963.4,1181.9 964.4,1182.3 965.4,1182.5 966.4,1182.3 967.4,1181.8 968.4,1181.1 969.4,1180.4 970.4,1179.8 971.4,1179.3 972.4,1179.0 973.4,1178.8 974.4,1178.7 975.4,1178.8 976.4,1179.1 977.4,1179.7 978.4,1180.3 979.4,1180.7 980.4,1180.7 981.5,1180.3 982.5,1179.8 983.5,1179.3 984.5,1179.0 985.5,1179.0 986.5,1179.3 987.5,1179.9 988.5,1180.6 989.5,1181.2 990.5,1181.6 991.5,1181.7 992.5,1181.4 993.5,1180.9 994.5,1180.6 995.5,1180.8 996.5,1181.4 997.5,1182.1 998.5,1182.6 999.5,1184.7 1000.5,1188.4 1001.5,1190.2 1002.5,1184.2 1003.5,1168.8 1004.5,1151.1 1005.6,1138.1 1006.6,1135.6 1007.6,1136.1 1008.6,1136.8 1009.6,1137.6 1010.6,1138.1 1011.6,1138.2 1012.6,1138.0 1013.6,1137.8 1014.6,1137.7 1015.6,1137.6 1016.6,1137.7 1017.6,1137.8 1018.6,1137.8 1019.6,1137.6 1020.6,1137.3 1021.6,1137.0 1022.6,1136.8 1023.6,1136.8 1024.6,1136.7 1025.6,1136.6 1026.6,1136.7 1027.6,1136.9 1028.7,1137.1 1029.7,1137.2 1030.7,1137.2 1031.7,1137.2 1032.7,1137.2 1033.7,1137.4 1034.7,1137.7 1035.7,1137.9 1036.7,1138.0 1037.7,1138.1 1038.7,1138.1 1039.7,1138.0 1040.7,1137.6 1041.7,1137.0 1042.7,1136.4 1043.7,1136.0 1044.7,1136.0 1045.7,1136.3 1046.7,1136.7 1047.7,1137.2 1048.7,1137.5 1049.7,1137.5 1050.7,1137.1 1051.8,1136.6 1052.8,1136.1 1053.8,1136.0 1054.8,1136.0 1055.8,1135.9 1056.8,1135.6 1057.8,1135.3 1058.8,1135.1 1059.8,1135.2 1060.8,1135.6 1061.8,1136.1 1062.8,1136.7 1063.8,1137.1 1064.8,1137.4 1065.8,1137.3 1066.8,1136.8 1067.8,1136.1 1068.8,1136.5 1069.8,1138.5 1070.8,1141.5 1071.8,1145.0 1072.8,1148.3 1073.8,1151.4 1074.9,1154.7 1075.9,1158.1 1076.9,1161.7 1077.9,1165.1 1078.9,1168.4 1079.9,1171.4 1080.9,1173.8 1081.9,1175.6 1082.9,1176.6 1083.9,1176.9 1084.9,1177.1 1085.9,1177.2 1086.9,1177.2 1087.9,1177.2 1088.9,1177.3 1089.9,1177.2 1090.9,1176.9 1091.9,1176.5 1092.9,1176.1 1093.9,1176.0 1094.9,1176.2 1095.9,1176.6 1096.9,1177.2 1098.0,1177.8 1099.0,1178.2 1100.0,1178.4 1101.0,1178.4 1102.0,1178.2 1103.0,1177.8 1104.0,1177.5 1105.0,1177.5 1106.0,1177.6 1107.0,1177.9 1108.0,1178.1 1109.0,1178.4 1110.0,1178.6 1111.0,1178.9 1112.0,1179.1 1113.0,1179.2 1114.0,1179.2 1115.0,1179.0 1116.0,1178.8 1117.0,1178.6 1118.0,1178.5 1119.0,1178.4 1120.0,1178.3 1121.1,1178.1 1122.1,1177.9 1123.1,1177.8 1124.1,1177.8 1125.1,1177.8 1126.1,1177.7 1127.1,1177.6 1128.1,1177.7 1129.1,1177.7 1130.1,1177.6 1131.1,1177.5 1132.1,1177.3 1133.1,1177.3 1134.1,1177.4 1135.1,1177.6 1136.1,1177.9 1137.1,1178.2 1138.1,1178.5 1139.1,1178.5 1140.1,1178.4 1141.1,1178.2 1142.1,1177.8 1143.1,1177.4 1144.2,1177.0 1145.2,1176.9 1146.2,1177.0 1147.2,1177.5 1148.2,1178.0 1149.2,1178.4" fill="none" stroke="#2b8a2b" stroke-width="3.4" stroke-linejoin="round" stroke-linecap="round"/>
<path d="M715.3,1222.0 716.3,1222.0 717.3,1222.0 718.3,1222.0 719.3,1221.8 720.3,1221.7 721.3,1221.7 722.3,1221.9 723.3,1222.3 724.3,1222.6 725.3,1222.7 726.3,1222.7 727.4,1222.6 728.4,1222.6 729.4,1222.8 730.4,1223.2 731.4,1223.6 732.4,1223.8 733.4,1223.8 734.4,1223.5 735.4,1223.2 736.4,1223.0 737.4,1222.9 738.4,1222.9 739.4,1222.9 740.4,1209.8 741.4,1199.8 742.4,1192.8 743.4,1190.3 744.4,1189.4 745.4,1188.9 746.4,1188.7 747.4,1188.6 748.4,1188.3 749.4,1187.8 750.5,1187.2 751.5,1186.5 752.5,1185.6 753.5,1184.8 754.5,1184.5 755.5,1185.0 756.5,1186.0 757.5,1187.0 758.5,1187.7 759.5,1187.9 760.5,1187.9 761.5,1187.9 762.5,1187.8 763.5,1187.7 764.5,1187.3 765.5,1186.6 766.5,1186.0 767.5,1185.6 768.5,1185.8 769.5,1186.5 770.5,1187.6 771.5,1188.5 772.5,1189.2 773.6,1189.5 774.6,1189.7 775.6,1189.7 776.6,1189.7 777.6,1189.6 778.6,1189.5 779.6,1189.0 780.6,1188.2 781.6,1187.3 782.6,1186.6 783.6,1186.5 784.6,1187.0 785.6,1187.4 786.6,1187.5 787.6,1187.3 788.6,1187.2 789.6,1187.6 790.6,1188.6 791.6,1189.6 792.6,1190.2 793.6,1190.3 794.6,1190.0 795.6,1189.6 796.7,1189.3 797.7,1189.1 798.7,1189.2 799.7,1189.5 800.7,1189.8 801.7,1189.8 802.7,1189.5 803.7,1189.2 804.7,1189.3 805.7,1189.8 806.7,1189.8 807.7,1185.7 808.7,1179.3 809.7,1169.0 810.7,1157.1 811.7,1146.0 812.7,1138.2 813.7,1133.9 814.7,1130.2 815.7,1127.4 816.7,1125.5 817.7,1124.8 818.7,1124.8 819.8,1124.9 820.8,1125.1 821.8,1125.3 822.8,1125.4 823.8,1125.6 824.8,1125.8 825.8,1126.1 826.8,1126.4 827.8,1126.5 828.8,1126.3 829.8,1125.8 830.8,1125.1 831.8,1124.6 832.8,1124.3 833.8,1124.4 834.8,1124.9 835.8,1125.5 836.8,1126.2 837.8,1126.7 838.8,1126.8 839.8,1126.5 840.8,1125.9 841.8,1125.0 842.9,1124.0 843.9,1123.0 844.9,1122.2 845.9,1121.7 846.9,1121.4 847.9,1121.2 848.9,1121.4 849.9,1122.1 850.9,1123.4 851.9,1125.1 852.9,1127.0 853.9,1128.7 854.9,1129.9 855.9,1130.9 856.9,1131.8 857.9,1133.0 858.9,1134.4 859.9,1135.7 860.9,1136.7 861.9,1137.5 862.9,1138.3 863.9,1139.5 864.9,1141.1 866.0,1143.9 867.0,1148.0 868.0,1152.8 869.0,1157.9 870.0,1162.7 871.0,1167.1 872.0,1170.7 873.0,1174.3 874.0,1177.4 875.0,1180.1 876.0,1182.3 877.0,1184.0 878.0,1184.9 879.0,1185.0 880.0,1185.0 881.0,1184.9 882.0,1184.9 883.0,1184.9 884.0,1185.2 885.0,1185.8 886.0,1186.7 887.0,1187.6 888.0,1188.3 889.1,1188.6 890.1,1188.5 891.1,1188.1 892.1,1187.6 893.1,1187.4 894.1,1187.1 895.1,1186.8 896.1,1186.4 897.1,1185.8 898.1,1185.5 899.1,1185.5 900.1,1185.7 901.1,1185.9 902.1,1185.9 903.1,1185.7 904.1,1185.8 905.1,1186.1 906.1,1186.6 907.1,1187.2 908.1,1187.6 909.1,1187.6 910.1,1187.2 911.1,1186.6 912.2,1186.3 913.2,1186.6 914.2,1187.2 915.2,1187.6 916.2,1187.6 917.2,1187.0 918.2,1186.2 919.2,1185.4 920.2,1184.9 921.2,1184.8 922.2,1184.7 923.2,1184.9 924.2,1185.2 925.2,1185.6 926.2,1186.2 927.2,1186.9 928.2,1187.5 929.2,1188.0 930.2,1188.4 931.2,1188.5 932.2,1188.4 933.2,1187.9 934.2,1187.6 935.3,1187.5 936.3,1187.6 937.3,1187.5 938.3,1187.0 939.3,1186.0 940.3,1184.9 941.3,1184.0 942.3,1183.5 943.3,1183.5 944.3,1184.0 945.3,1184.7 946.3,1185.4 947.3,1185.6 948.3,1185.5 949.3,1185.2 950.3,1185.2 951.3,1185.5 952.3,1185.8 953.3,1185.9 954.3,1185.6 955.3,1185.2 956.3,1184.9 957.3,1185.0 958.4,1206.5 959.4,1221.9 960.4,1222.6 961.4,1223.1 962.4,1223.0 963.4,1221.4 964.4,1207.0 965.4,1187.4 966.4,1178.1 967.4,1176.8 968.4,1176.2 969.4,1175.9 970.4,1175.4 971.4,1174.5 972.4,1173.6 973.4,1173.3 974.4,1173.7 975.4,1174.4 976.4,1175.0 977.4,1175.1 978.4,1174.9 979.4,1174.8 980.4,1175.0 981.5,1175.6 982.5,1176.3 983.5,1176.9 984.5,1177.2 985.5,1177.3 986.5,1177.3 987.5,1177.3 988.5,1177.5 989.5,1177.6 990.5,1177.4 991.5,1176.9 992.5,1176.4 993.5,1176.0 994.5,1175.9 995.5,1176.4 996.5,1177.1 997.5,1177.9 998.5,1178.3 999.5,1179.0 1000.5,1180.4 1001.5,1182.3 1002.5,1184.1 1003.5,1184.8 1004.5,1180.8 1005.6,1173.4 1006.6,1165.8 1007.6,1155.7 1008.6,1146.4 1009.6,1142.8 1010.6,1141.3 1011.6,1139.8 1012.6,1138.5 1013.6,1137.7 1014.6,1137.6 1015.6,1137.8 1016.6,1138.2 1017.6,1138.6 1018.6,1139.2 1019.6,1140.0 1020.6,1140.9 1021.6,1141.6 1022.6,1141.9 1023.6,1141.8 1024.6,1141.5 1025.6,1141.2 1026.6,1140.8 1027.6,1140.5 1028.7,1140.3 1029.7,1140.3 1030.7,1140.8 1031.7,1141.5 1032.7,1142.3 1033.7,1142.9 1034.7,1143.3 1035.7,1143.4 1036.7,1143.4 1037.7,1143.3 1038.7,1143.2 1039.7,1143.0 1040.7,1142.8 1041.7,1142.8 1042.7,1142.8 1043.7,1143.0 1044.7,1143.3 1045.7,1143.7 1046.7,1144.1 1047.7,1144.1 1048.7,1143.4 1049.7,1142.3 1050.7,1141.6 1051.8,1141.8 1052.8,1143.0 1053.8,1144.3 1054.8,1145.3 1055.8,1145.8 1056.8,1146.2 1057.8,1146.8 1058.8,1147.4 1059.8,1148.0 1060.8,1148.1 1061.8,1147.8 1062.8,1147.4 1063.8,1147.3 1064.8,1147.7 1065.8,1148.2 1066.8,1148.5 1067.8,1148.4 1068.8,1148.0 1069.8,1147.8 1070.8,1147.8 1071.8,1147.8 1072.8,1147.7 1073.8,1147.1 1074.9,1146.3 1075.9,1145.5 1076.9,1145.2 1077.9,1145.6 1078.9,1146.4 1079.9,1147.3 1080.9,1147.8 1081.9,1147.9 1082.9,1147.9 1083.9,1147.9 1084.9,1148.0 1085.9,1148.2 1086.9,1148.6 1087.9,1149.1 1088.9,1149.5 1089.9,1149.7 1090.9,1149.6 1091.9,1149.6 1092.9,1149.9 1093.9,1150.2 1094.9,1150.3 1095.9,1150.2 1096.9,1150.0 1098.0,1149.8 1099.0,1149.6 1100.0,1149.4 1101.0,1149.1 1102.0,1148.8 1103.0,1148.7 1104.0,1148.9 1105.0,1149.4 1106.0,1149.9 1107.0,1150.3 1108.0,1150.6 1109.0,1150.8 1110.0,1151.1 1111.0,1151.5 1112.0,1152.0 1113.0,1152.5 1114.0,1153.1 1115.0,1153.8 1116.0,1154.9 1117.0,1156.2 1118.0,1157.6 1119.0,1158.6 1120.0,1159.3 1121.1,1159.8 1122.1,1160.2 1123.1,1160.3 1124.1,1160.4 1125.1,1160.4 1126.1,1160.6 1127.1,1161.0 1128.1,1161.8 1129.1,1162.8 1130.1,1164.0 1131.1,1165.3 1132.1,1166.7 1133.1,1168.2 1134.1,1169.6 1135.1,1170.8 1136.1,1171.7 1137.1,1172.3 1138.1,1172.7 1139.1,1173.3 1140.1,1174.1 1141.1,1174.9 1142.1,1175.7 1143.1,1176.3 1144.2,1177.0 1145.2,1178.0 1146.2,1179.3 1147.2,1180.9 1148.2,1182.6 1149.2,1184.2" fill="none" stroke="#7b2fb3" stroke-width="3.4" stroke-linejoin="round" stroke-linecap="round"/>
<path d="M715.3,1223.3 716.3,1223.0 717.3,1222.6 718.3,1222.3 719.3,1221.8 720.3,1221.4 721.3,1221.2 722.3,1221.4 723.3,1222.2 724.3,1223.1 725.3,1223.5 726.3,1223.4 727.4,1222.7 728.4,1221.9 729.4,1220.9 730.4,1220.0 731.4,1219.3 732.4,1219.3 733.4,1219.8 734.4,1220.7 735.4,1221.8 736.4,1222.9 737.4,1223.7 738.4,1224.1 739.4,1223.9 740.4,1209.9 741.4,1198.7 742.4,1191.0 743.4,1189.3 744.4,1189.9 745.4,1190.9 746.4,1192.0 747.4,1192.7 748.4,1192.9 749.4,1192.6 750.5,1191.9 751.5,1191.3 752.5,1190.9 753.5,1190.8 754.5,1190.7 755.5,1190.4 756.5,1189.8 757.5,1189.3 758.5,1188.9 759.5,1189.0 760.5,1189.5 761.5,1190.1 762.5,1190.6 763.5,1190.7 764.5,1190.4 765.5,1189.9 766.5,1189.5 767.5,1189.1 768.5,1188.8 769.5,1188.5 770.5,1188.5 771.5,1188.8 772.5,1189.1 773.6,1189.5 774.6,1189.5 775.6,1189.3 776.6,1188.9 777.6,1188.7 778.6,1188.5 779.6,1188.3 780.6,1188.0 781.6,1188.0 782.6,1188.5 783.6,1189.3 784.6,1189.8 785.6,1189.6 786.6,1188.7 787.6,1187.6 788.6,1187.1 789.6,1187.3 790.6,1187.9 791.6,1188.2 792.6,1188.1 793.6,1187.6 794.6,1187.2 795.6,1186.8 796.7,1186.5 797.7,1186.4 798.7,1186.5 799.7,1186.9 800.7,1187.5 801.7,1188.2 802.7,1188.9 803.7,1189.6 804.7,1190.2 805.7,1190.8 806.7,1190.6 807.7,1185.8 808.7,1179.2 809.7,1169.7 810.7,1159.2 811.7,1149.8 812.7,1143.6 813.7,1140.2 814.7,1137.2 815.7,1134.8 816.7,1133.3 817.7,1132.6 818.7,1132.4 819.8,1131.9 820.8,1131.1 821.8,1130.0 822.8,1128.7 823.8,1127.3 824.8,1126.2 825.8,1125.5 826.8,1125.4 827.8,1125.8 828.8,1126.6 829.8,1127.5 830.8,1128.1 831.8,1128.1 832.8,1127.7 833.8,1127.1 834.8,1126.6 835.8,1126.6 836.8,1127.0 837.8,1127.5 838.8,1127.8 839.8,1127.6 840.8,1127.1 841.8,1126.5 842.9,1125.9 843.9,1125.5 844.9,1125.0 845.9,1124.6 846.9,1124.2 847.9,1124.0 848.9,1123.9 849.9,1124.0 850.9,1124.2 851.9,1124.6 852.9,1125.3 853.9,1126.2 854.9,1126.9 855.9,1127.3 856.9,1127.4 857.9,1127.3 858.9,1127.6 859.9,1128.2 860.9,1129.3 861.9,1130.3 862.9,1131.2 863.9,1131.8 864.9,1132.4 866.0,1132.8 867.0,1133.1 868.0,1133.3 869.0,1133.7 870.0,1135.3 871.0,1138.1 872.0,1141.8 873.0,1145.9 874.0,1150.1 875.0,1155.2 876.0,1161.5 877.0,1168.0 878.0,1173.5 879.0,1177.3 880.0,1180.8 881.0,1184.0 882.0,1186.4 883.0,1187.8 884.0,1188.0 885.0,1187.5 886.0,1186.6 887.0,1185.5 888.0,1184.7 889.1,1184.3 890.1,1184.3 891.1,1184.3 892.1,1184.1 893.1,1183.4 894.1,1182.6 895.1,1182.1 896.1,1182.3 897.1,1183.0 898.1,1184.0 899.1,1184.6 900.1,1184.5 901.1,1183.7 902.1,1182.8 903.1,1182.2 904.1,1182.3 905.1,1182.8 906.1,1183.5 907.1,1183.9 908.1,1184.0 909.1,1183.7 910.1,1183.4 911.1,1183.1 912.2,1183.0 913.2,1183.0 914.2,1183.0 915.2,1183.1 916.2,1183.2 917.2,1183.3 918.2,1183.2 919.2,1183.0 920.2,1183.0 921.2,1183.1 922.2,1183.3 923.2,1183.5 924.2,1183.8 925.2,1184.3 926.2,1184.7 927.2,1184.9 928.2,1184.9 929.2,1184.7 930.2,1184.7 931.2,1184.6 932.2,1184.5 933.2,1184.1 934.2,1183.5 935.3,1182.9 936.3,1182.5 937.3,1182.4 938.3,1182.6 939.3,1182.9 940.3,1183.1 941.3,1183.3 942.3,1183.6 943.3,1184.2 944.3,1184.9 945.3,1185.4 946.3,1185.5 947.3,1185.1 948.3,1184.5 949.3,1183.8 950.3,1190.0 951.3,1219.9 952.3,1220.2 953.3,1220.9 954.3,1221.8 955.3,1222.7 956.3,1223.0 957.3,1211.5 958.4,1185.3 959.4,1176.6 960.4,1175.3 961.4,1174.6 962.4,1174.3 963.4,1174.2 964.4,1173.9 965.4,1173.4 966.4,1172.9 967.4,1172.5 968.4,1172.2 969.4,1172.0 970.4,1171.9 971.4,1171.8 972.4,1171.7 973.4,1171.5 974.4,1171.3 975.4,1171.2 976.4,1171.2 977.4,1171.4 978.4,1171.8 979.4,1172.2 980.4,1172.2 981.5,1171.4 982.5,1170.1 983.5,1168.9 984.5,1168.3 985.5,1168.3 986.5,1168.5 987.5,1168.5 988.5,1168.2 989.5,1167.7 990.5,1167.3 991.5,1167.1 992.5,1166.8 993.5,1166.4 994.5,1166.0 995.5,1165.8 996.5,1166.3 997.5,1167.6 998.5,1169.5 999.5,1174.4 1000.5,1181.3 1001.5,1185.2 1002.5,1183.9 1003.5,1180.4 1004.5,1175.5 1005.6,1169.8 1006.6,1164.0 1007.6,1159.0 1008.6,1155.8 1009.6,1155.1 1010.6,1155.0 1011.6,1154.8 1012.6,1154.2 1013.6,1153.3 1014.6,1152.3 1015.6,1151.7 1016.6,1151.7 1017.6,1152.2 1018.6,1152.8 1019.6,1153.3 1020.6,1153.6 1021.6,1153.7 1022.6,1153.9 1023.6,1154.4 1024.6,1155.2 1025.6,1156.1 1026.6,1157.0 1027.6,1157.6 1028.7,1157.8 1029.7,1157.7 1030.7,1157.6 1031.7,1157.5 1032.7,1157.3 1033.7,1157.0 1034.7,1156.7 1035.7,1156.4 1036.7,1156.4 1037.7,1156.5 1038.7,1156.9 1039.7,1157.3 1040.7,1157.6 1041.7,1158.0 1042.7,1158.4 1043.7,1158.5 1044.7,1158.5 1045.7,1158.3 1046.7,1158.2 1047.7,1158.1 1048.7,1158.0 1049.7,1157.8 1050.7,1157.7 1051.8,1157.9 1052.8,1158.5 1053.8,1159.2 1054.8,1160.0 1055.8,1160.5 1056.8,1160.8 1057.8,1160.7 1058.8,1160.4 1059.8,1160.1 1060.8,1159.9 1061.8,1159.8 1062.8,1159.5 1063.8,1159.1 1064.8,1159.0 1065.8,1159.1 1066.8,1159.3 1067.8,1159.3 1068.8,1159.2 1069.8,1159.0 1070.8,1158.9 1071.8,1159.1 1072.8,1159.5 1073.8,1159.8 1074.9,1160.0 1075.9,1160.1 1076.9,1160.1 1077.9,1160.1 1078.9,1160.3 1079.9,1160.8 1080.9,1161.5 1081.9,1162.5 1082.9,1163.3 1083.9,1163.6 1084.9,1163.3 1085.9,1162.5 1086.9,1161.5 1087.9,1160.6 1088.9,1159.8 1089.9,1159.5 1090.9,1159.6 1091.9,1160.4 1092.9,1161.3 1093.9,1161.9 1094.9,1161.9 1095.9,1161.6 1096.9,1161.4 1098.0,1161.5 1099.0,1161.6 1100.0,1161.5 1101.0,1161.4 1102.0,1161.3 1103.0,1161.5 1104.0,1161.7 1105.0,1161.8 1106.0,1161.9 1107.0,1162.2 1108.0,1162.5 1109.0,1162.8 1110.0,1163.0 1111.0,1163.0 1112.0,1162.9 1113.0,1162.5 1114.0,1161.6 1115.0,1160.4 1116.0,1159.1 1117.0,1158.2 1118.0,1157.8 1119.0,1158.1 1120.0,1158.8 1121.1,1159.8 1122.1,1160.9 1123.1,1161.7 1124.1,1162.2 1125.1,1162.2 1126.1,1161.7 1127.1,1161.0 1128.1,1160.5 1129.1,1160.2 1130.1,1160.3 1131.1,1160.7 1132.1,1161.3 1133.1,1161.7 1134.1,1161.8 1135.1,1161.6 1136.1,1161.5 1137.1,1161.6 1138.1,1162.0 1139.1,1162.6 1140.1,1163.0 1141.1,1163.0 1142.1,1162.7 1143.1,1162.4 1144.2,1162.5 1145.2,1162.8 1146.2,1162.8 1147.2,1162.6 1148.2,1162.1 1149.2,1161.6" fill="none" stroke="#e60000" stroke-width="3.4" stroke-linejoin="round" stroke-linecap="round"/>
<path d="M725.7,1085.8 H716.2 V1224.2 H1148.3" fill="none" stroke="#000" stroke-width="3.3" stroke-linejoin="round"/>
<line x1="716.2" y1="1189.6" x2="725.7" y2="1189.6" stroke="#000" stroke-width="3.3"/>
<line x1="716.2" y1="1155.0" x2="725.7" y2="1155.0" stroke="#000" stroke-width="3.3"/>
<line x1="716.2" y1="1120.4" x2="725.7" y2="1120.4" stroke="#000" stroke-width="3.3"/>
<line x1="784.7" y1="1224.2" x2="784.7" y2="1214.7" stroke="#000" stroke-width="3.3"/>
<line x1="854.1" y1="1224.2" x2="854.1" y2="1214.7" stroke="#000" stroke-width="3.3"/>
<line x1="923.6" y1="1224.2" x2="923.6" y2="1214.7" stroke="#000" stroke-width="3.3"/>
<line x1="993.0" y1="1224.2" x2="993.0" y2="1214.7" stroke="#000" stroke-width="3.3"/>
<line x1="1062.4" y1="1224.2" x2="1062.4" y2="1214.7" stroke="#000" stroke-width="3.3"/>
<line x1="1131.8" y1="1224.2" x2="1131.8" y2="1214.7" stroke="#000" stroke-width="3.3"/>
<text x="687.1" y="1232.7" font-family='"Liberation Sans", sans-serif' font-size="27" text-anchor="end">0</text>
<text x="687.1" y="1198.1" font-family='"Liberation Sans", sans-serif' font-size="27" text-anchor="end">25</text>
<text x="687.1" y="1163.5" font-family='"Liberation Sans", sans-serif' font-size="27" text-anchor="end">50</text>
<text x="687.1" y="1128.9" font-family='"Liberation Sans", sans-serif' font-size="27" text-anchor="end">75</text>
<text x="687.1" y="1094.3" font-family='"Liberation Sans", sans-serif' font-size="27" text-anchor="end">100</text>
<text x="715.3" y="1273.0" font-family='"Liberation Sans", sans-serif' font-size="27" text-anchor="middle">1.5</text>
<text x="784.7" y="1273.0" font-family='"Liberation Sans", sans-serif' font-size="27" text-anchor="middle">3.5</text>
<text x="854.1" y="1273.0" font-family='"Liberation Sans", sans-serif' font-size="27" text-anchor="middle">5.5</text>
<text x="923.6" y="1273.0" font-family='"Liberation Sans", sans-serif' font-size="27" text-anchor="middle">7.5</text>
<text x="993.0" y="1273.0" font-family='"Liberation Sans", sans-serif' font-size="27" text-anchor="middle">9.5</text>
<text x="1062.4" y="1273.0" font-family='"Liberation Sans", sans-serif' font-size="27" text-anchor="middle">11.5</text>
<text x="1131.8" y="1273.0" font-family='"Liberation Sans", sans-serif' font-size="27" text-anchor="middle">13.5</text>
<text x="736.3" y="1106.1" font-family='"Liberation Sans", sans-serif' font-size="25.43" font-weight="bold" textLength="153.4" lengthAdjust="spacingAndGlyphs">J) SUC + ROT</text>
<path d="M733.0,1145.7 h3.5 v26.6 h5.55 L734.7,1186.2 L727.4,1172.3 h5.55 z" fill="#000"/>
<path d="M799.5,1136.1 h3.5 v26.6 h5.55 L801.2,1176.6 L793.9,1162.7 h5.55 z" fill="#000"/>
<path d="M944.1,1128.5 h3.5 v26.6 h5.55 L945.9,1169.0 L938.6,1155.1 h5.55 z" fill="#000"/>
<path d="M988.5,1115.3 h3.5 v26.6 h5.55 L990.3,1155.8 L983.0,1141.9 h5.55 z" fill="#000"/>
</svg>
</body></html>
